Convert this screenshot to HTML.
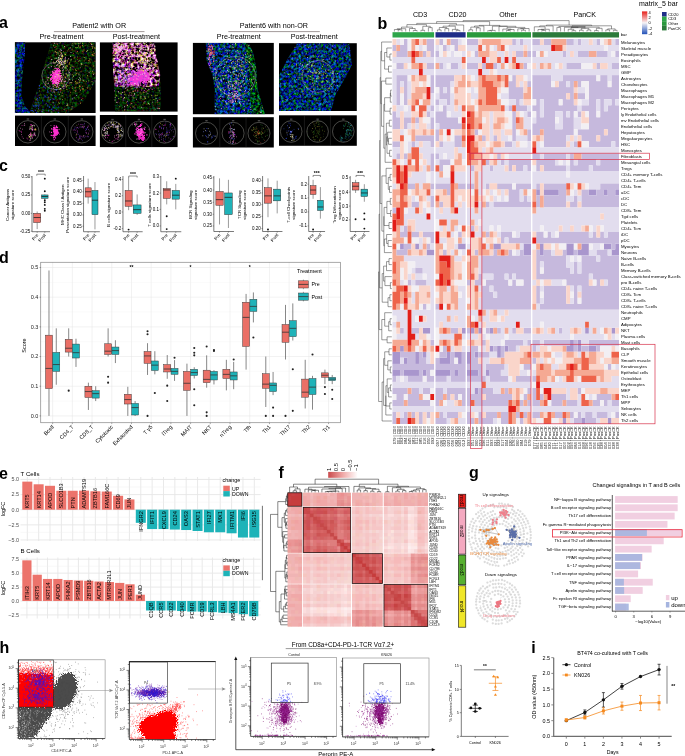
<!DOCTYPE html><html><head><meta charset="utf-8"><title>Figure</title><style>html,body{margin:0;padding:0;background:#fff}svg{display:block;will-change:transform;font-family:"Liberation Sans",sans-serif}</style></head><body><svg width="685" height="756" viewBox="0 0 685 756"><rect width="685" height="756" fill="#fff"/><defs><filter id="ragA" x="-.2" y="-.2" width="1.4" height="1.4"><feTurbulence type="fractalNoise" baseFrequency=".7" numOctaves="2" seed="4"/><feDisplacementMap in="SourceGraphic" scale="7" xChannelSelector="R" yChannelSelector="G"/></filter><filter id="tBlue" x="0" y="0" width="1" height="1" color-interpolation-filters="sRGB"><feTurbulence type="fractalNoise" baseFrequency=".4" numOctaves="2" seed="3"/><feColorMatrix type="matrix" values="0 0 0 0 0  0 1.2 0 0 -.46  0 0 1.9 0 -.58  0 0 0 0 1"/><feComposite in2="SourceGraphic" operator="in"/></filter><filter id="tGreen" x="0" y="0" width="1" height="1" color-interpolation-filters="sRGB"><feTurbulence type="fractalNoise" baseFrequency=".4" numOctaves="2" seed="7"/><feColorMatrix type="matrix" values="0 0 0 0 0  0 1.6 0 0 -.55  0 0 1.2 0 -.55  0 0 0 0 1"/><feComposite in2="SourceGraphic" operator="in"/></filter><filter id="tBG" x="0" y="0" width="1" height="1" color-interpolation-filters="sRGB"><feTurbulence type="fractalNoise" baseFrequency=".4" numOctaves="2" seed="11"/><feColorMatrix type="matrix" values="0 0 0 0 0  0 1.5 0 0 -.58  0 0 2.0 0 -.62  0 0 0 0 1"/><feComposite in2="SourceGraphic" operator="in"/></filter><filter id="tDkGreen" x="0" y="0" width="1" height="1" color-interpolation-filters="sRGB"><feTurbulence type="fractalNoise" baseFrequency=".4" numOctaves="2" seed="5"/><feColorMatrix type="matrix" values=".6 0 0 0 -.3  0 1.0 0 0 -.4  0 0 .9 0 -.5  0 0 0 0 1"/><feComposite in2="SourceGraphic" operator="in"/></filter><filter id="tBright" x="0" y="0" width="1" height="1" color-interpolation-filters="sRGB"><feTurbulence type="fractalNoise" baseFrequency=".32" numOctaves="2" seed="9"/><feColorMatrix type="matrix" values="2.8 0 0 0 -.9  2.8 1.2 0 0 -1.8  2.8 -1 .8 0 -.9  0 0 0 0 1"/><feComposite in2="SourceGraphic" operator="in"/></filter><filter id="rag" x="-.1" y="-.1" width="1.2" height="1.2"><feTurbulence type="fractalNoise" baseFrequency=".8" numOctaves="2" seed="2"/><feDisplacementMap in="SourceGraphic" scale="9" xChannelSelector="R" yChannelSelector="G"/></filter><filter id="rag2" x="-.1" y="-.1" width="1.2" height="1.2"><feTurbulence type="fractalNoise" baseFrequency="1.1" numOctaves="2" seed="8"/><feDisplacementMap in="SourceGraphic" scale="6" xChannelSelector="R" yChannelSelector="G"/></filter></defs><text x="-1" y="28.3" font-size="16" font-weight="bold">a</text><text x="99.2" y="28.4" font-size="7.2" text-anchor="middle">Patient2 with OR</text><text x="273.8" y="28.4" font-size="7.2" text-anchor="middle">Patient6 with non-OR</text><line x1="53.9" y1="31.6" x2="144.5" y2="31.6" stroke="#7a6e6e" stroke-width="0.7"/><line x1="228.3" y1="31.6" x2="319.8" y2="31.6" stroke="#7a6e6e" stroke-width="0.7"/><text x="61.5" y="39" font-size="7.2" text-anchor="middle">Pre-treatment</text><text x="136.4" y="39" font-size="7.2" text-anchor="middle">Post-treatment</text><text x="238.7" y="39" font-size="7.2" text-anchor="middle">Pre-treatment</text><text x="314.2" y="39" font-size="7.2" text-anchor="middle">Post-treatment</text><g transform="translate(14.9 42.3)"><clipPath id="ca1"><rect width="80.7" height="70.7"/></clipPath><rect x="0" y="0" width="80.7" height="70.7" fill="#000"/><g clip-path="url(#ca1)"><polygon points="0,0 10.3,0 9.6,15.5 7,38.3 6.5,53.5 10.3,64.2 16.4,70.7 0,70.7" filter="url(#tBlue)"/><polygon points="36.2,0 80.7,0 80.7,38.3 74.2,50.5 68.1,59.6 52.9,70.7 14.9,70.7 17.9,59.6 24,42.9 27.8,27.7 33.1,10.9" filter="url(#tDkGreen)"/><ellipse cx="54.5" cy="15" rx="4.5" ry="1.4" fill="#000" transform="rotate(10 54.5 15)"/><ellipse cx="47.5" cy="20" rx="1.2" ry="1.5" fill="#000"/><g filter="url(#ragA)" fill="#ff30d0"><ellipse cx="40.8" cy="35.3" rx="4.6" ry="7.4"/><ellipse cx="42.8" cy="29.5" rx="3" ry="3.4"/></g><path d="M57.1 26.9h.8M55.1 26.5h.8M41.2 12.2h.8M46.8 12.4h.8M58.4 27.6h.8M75.1 20h.8M73.6 4h.8M64.9 38.6h.8M43.5 23.8h.8M58.8 15.1h.8M40.8 1.5h.8M62.1 14.8h.8M57.2 1.2h.8M49.1 37.4h.8M78.3 24h.8M79.6 25.8h.8M65.1 25.1h.8M59.8 19.2h.8M57.3 44.2h.8M58.8 16.3h.8M65.1 25.4h.8M47.6 35.6h.8M73.4 20.2h.8M62.1 17.2h.8M72.1 33.8h.8M67.5 36.8h.8M65.2 33.7h.8M56.7 24.2h.8M38.9 68.5h.8M43.2 36.9h.8M46.7 54.5h.8M23.3 67.1h.8M41.7 57.4h.8M49.7 56.2h.8M51.2 45.3h.8M37.3 43.9h.8M61.5 61.5h.8M23.8 53.1h.8M55 67.5h.8M37.1 30.2h.8M31.9 36.7h.8M53.8 43.2h.8M30.5 39.7h.8M43.6 40.7h.8" stroke="#707020" stroke-width=".8"/><path d="M57.6 24.4h.8M56.8 6.8h.8M56.5 40.4h.8M66.9 9h.8M74.8 46.8h.8M45.7 47.8h.8M40.8 4.3h.8M53.6 21.8h.8M39.6 5.2h.8M54.4 20.2h.8M61.7 40.9h.8M60 45.4h.8M64.5 18.4h.8M53.4 6.9h.8M73.3 18.4h.8M61.3 31.3h.8M41.3 10.6h.8M61.6 39.9h.8M54 40.6h.8M46.6 40.8h.8M67.3 3.2h.8M62.6 40.9h.8M48.4 9.5h.8M60.7 41.5h.8M52.5 8.7h.8M79.2 5.5h.8M42.2 1.8h.8M62.1 9.2h.8M43.3 15.8h.8" stroke="#f08030" stroke-width=".8"/><path d="M45.8 38.6h.8M63.2 19h.8M77.5 2.5h.8M55.6 18.4h.8M63.8 39.9h.8M78 9.4h.8M75.5 29h.8M79.6 6.1h.8M69.8 3.3h.8M41.6 6.6h.8M65.1 47.7h.8M67.4 22h.8M76.9 42.3h.8M61.9 30.8h.8M39.6 30.2h.8M45.3 .5h.8M64.5 43.7h.8M71.9 45.3h.8M39.2 16.4h.8M47 41.6h.8M67.1 44h.8M59.9 32.5h.8M77.3 12.9h.8M60.2 5.2h.8M41.4 18.6h.8M73.4 38.5h.8M64 43.4h.8M70.5 15.7h.8M39.4 9.6h.8M57.1 35.5h.8M71.1 39.1h.8M40.6 16.4h.8M60.5 18.7h.8M32.5 41.3h.8M66.1 57.2h.8M57.3 46h.8M57 32.1h.8M37.4 36.3h.8M31.5 34.7h.8M58.8 55.6h.8M54.6 37.8h.8M52.7 33.4h.8M44.3 61.3h.8M33.7 35.9h.8M65.3 48h.8M32 44.8h.8M24.1 48.6h.8M36.5 48.8h.8M43.2 60h.8M35.2 38.1h.8M64.3 46.5h.8" stroke="#a0a030" stroke-width=".8"/><path d="M64.7 38.1h.8M72.4 33.3h.8M65.7 29.5h.8M64.4 39.9h.8M40.2 9.1h.8M47.6 14.1h.8M47.5 13.9h.8M61.8 5.2h.8M74 18.6h.8M74 0h.8M79.8 19.1h.8M38.3 19.7h.8M43.4 33.9h.8M40.2 38.3h.8M45.8 35.1h.8M50.7 42.5h.8M65.2 4.8h.8M76.7 39.3h.8M40.8 10.2h.8M56.8 2.9h.8M49.7 25.5h.8M67.7 46.2h.8M63.3 3.6h.8M69 15.3h.8M52.7 32.9h.8M38.9 24h.8M38.1 3.5h.8M59.7 14.9h.8M77.2 12.3h.8M66 21.2h.8M51.7 32h.8M47 44.2h.8M76.1 1.9h.8M78.5 13.3h.8M42.5 22.6h.8M60.6 1.7h.8M54.3 21.6h.8M51.6 47.2h.8M77.3 5.9h.8M74.4 16.7h.8M70.6 23.4h.8M60.1 27.5h.8M55.3 5.5h.8M63.6 1.3h.8M80.1 5.9h.8M64.2 44.4h.8M67.8 46.9h.8M49.8 34.7h.8M55.4 25.4h.8M60.9 28.2h.8M51.1 44.3h.8M71.1 9.3h.8M67.1 .9h.8M43.9 8.9h.8M77.5 4.6h.8M43.4 32.7h.8M55.9 17h.8M77.2 29h.8M59.6 .7h.8M45.4 9.9h.8M46.9 19.5h.8M54.6 27.6h.8M46 18h.8M51.5 63.2h.8M47.1 57.4h.8M40.5 34.8h.8M63.5 31.6h.8M30.7 41.4h.8M56.8 64.4h.8M41 45.1h.8M60.4 49h.8M52.5 43.4h.8M60.2 39.1h.8M46.8 53.3h.8M52.2 63h.8M56.5 66.9h.8M20.9 56.8h.8M44.3 52h.8M37.7 30.4h.8M40.8 42h.8M65.2 60.9h.8M48.8 67.3h.8M45.1 46.6h.8M45.5 37h.8M49.9 38.4h.8M41.4 40.9h.8M43.2 45.1h.8M45.3 28.4h.8M43.9 25.3h.8M47.9 31.8h.8M39.4 43h.8M44 47.1h.8M45.8 40.8h.8M44.7 34.7h.8M41.9 40.9h.8M46.2 33.6h.8M48.1 42.9h.8M44 29.8h.8M50.9 31.7h.8M50.1 35.3h.8M46.3 38.7h.8M43.2 32.2h.8M50.8 28h.8M39.4 42.5h.8M43.7 44.9h.8" stroke="#e6dc4a" stroke-width=".8"/><path d="M63.4 37.3h.8M66.1 22h.8M49.2 4.2h.8M55.7 10.2h.8M65 .7h.8M54.2 30.1h.8M39.1 .9h.8M67.9 38.1h.8M46.3 8.1h.8M73.8 30h.8M63.7 32.6h.8M46.1 39.5h.8M72 8.3h.8M45 7.6h.8M79.9 38.6h.8M76.4 2.4h.8M78.2 32h.8M64.1 35.5h.8M55.6 40.3h.8M26.8 69.4h.8M37.8 60.5h.8M57.3 37.8h.8M44.7 56.8h.8M65.2 36.6h.8M40.8 40.6h.8M35.9 52.5h.8M38 46h.8M61.4 53.1h.8M56.9 56.6h.8M36.5 69.7h.8M40.7 47.2h.8M52 61.8h.8M49.3 39.2h.8M58.2 33.8h.8M39.6 38.9h.8M42.6 10.6h.8M46 13.6h.8M42.5 42.1h.8M50.1 17.9h.8M46.9 37.7h.8M40.5 34.4h.8M54.7 31.7h.8M45.1 46.2h.8M48.1 27.7h.8M49.7 25.5h.8M33 35.2h.8M50.7 31.5h.8M47.8 38.9h.8M54.2 37.2h.8M50.7 35.9h.8M49.8 18.4h.8M51.8 33.7h.8" stroke="#f4f0e0" stroke-width=".8"/><path d="M61.9 9.5h.8M68.8 7.6h.8M79 11.4h.8M58.7 25h.8M79.8 31.5h.8M40.8 26.2h.8M39.5 44.9h.8M68.9 18.6h.8M58.3 11.1h.8M42.5 37.4h.8M42.3 25.7h.8M72.3 46h.8M49.3 16.6h.8M44.4 40.7h.8M76.6 4.2h.8M68.6 39.3h.8M77.7 12.6h.8M44 24.8h.8M78.3 23.6h.8M76.6 12.3h.8M45.9 10.9h.8M64.2 5h.8M75.4 1.1h.8M43.4 11.5h.8M67.9 9.6h.8M64.9 16.5h.8M63.4 .6h.8M49.6 5.6h.8M41.9 42.6h.8M47.1 50.8h.8M66.9 47.2h.8M39.5 42.8h.8M33.9 56.9h.8M20.9 61.7h.8M49.8 34.7h.8M33.3 55h.8M59.7 48.3h.8M38 56.8h.8M42.7 43.3h.8M35.7 48.1h.8M42.5 39.1h.8M20.8 57.8h.8M39 38h.8M48.7 42.5h.8M55.2 50h.8M67.5 56.3h.8M50.9 68.6h.8M65.3 44h.8M59.7 45.8h.8" stroke="#e03a2a" stroke-width=".8"/><path d="M6.8 17.5h.9M2.1 59.1h.9M1.2 28h.9M1.5 31.6h.9M11.5 67.7h.9M2.7 51.9h.9M4.5 19.4h.9M2.6 2.6h.9M.1 70.1h.9M6.1 5.2h.9M5.7 23.5h.9M3.7 13.4h.9M5.6 36.2h.9M2.1 54.4h.9M7.2 29.6h.9M4.8 66h.9M3.8 62.7h.9M3.8 64.6h.9M3.8 40.3h.9M6.1 20h.9M18 69.2h.9M33 54.6h.9M32.5 63.8h.9M36.5 67.3h.9M31.8 55.1h.9M21.9 50.7h.9M19.7 54.8h.9M39 53.5h.9M35.3 48.7h.9M15.5 68.1h.9M24.3 46.2h.9M41.5 47.7h.9M17.7 63h.9M43.4 49.9h.9M43.3 64.6h.9M34.5 64.9h.9M32.2 48.6h.9M32.5 50.3h.9M26.1 68.9h.9M37.9 68.4h.9M34.6 57.9h.9M28 67.5h.9M29.4 54.6h.9M23.9 43.2h.9M39.1 63.4h.9M39.2 47h.9M44.1 46.2h.9" stroke="#1828c0" stroke-width=".9"/><path d="M9.2 11.2h.9M3.8 38h.9M8.7 12.7h.9M3.9 50.9h.9M.6 5.3h.9M4.2 8h.9M8.4 6.2h.9M9 6.4h.9M2.7 5.9h.9M9.2 8.7h.9M4.2 63.7h.9M2.2 42.4h.9M2.1 29.3h.9M6 23.9h.9M30.3 54.5h.9M41 67.4h.9M29.6 53.5h.9M28.8 45.1h.9M30.9 61h.9M40.5 54.2h.9M20.6 60.3h.9M23.8 62.6h.9M38.7 57.2h.9M41.4 47.2h.9M22.9 60.6h.9M16.8 68.3h.9M27.3 58.5h.9M23.1 63.9h.9M19.9 63.3h.9M20.1 68h.9M19.8 64.6h.9M38.1 64.9h.9M32.6 49.6h.9M36.2 66.8h.9M39.5 64.8h.9M21 70.1h.9" stroke="#2038ff" stroke-width=".9"/><path d="M1.6 52.7h.9M.9 53.2h.9M4.6 28.8h.9M4.4 33.2h.9M2 44.6h.9M1.8 6.7h.9M2.8 10.5h.9M7.6 10.1h.9M2.7 66.3h.9M10.9 66.4h.9M6.8 28.6h.9M1.8 53.7h.9M1.8 27.4h.9M.4 55.7h.9M7.1 29.2h.9M6.1 30.8h.9" stroke="#2a8a25" stroke-width=".9"/><path d="M24.2 43.6h.9M21.2 63.7h.9M30.1 45.8h.9M40.9 47.9h.9M41.5 42.5h.9M43 70.3h.9M35.9 45.9h.9M22.6 62.9h.9M28.4 44.2h.9M33.2 68.6h.9M34.3 64.7h.9M23.3 66h.9M35.1 57.1h.9M22.3 57.8h.9M32.5 62.7h.9M16.7 68.3h.9M33.7 58.8h.9M37.5 56.5h.9M22 56.4h.9M24 55.5h.9M18.4 63.9h.9" stroke="#3050ff" stroke-width=".9"/><path d="M36.4 17.1h.9M45.3 19.1h.9M50 19.4h.9M47.5 21.8h.9M49.2 19.3h.9M43.5 15.6h.9M47.1 12.9h.9M43.8 23.8h.9M41.2 19.2h.9M48 20.4h.9M40.7 15.9h.9M43.5 17.3h.9M48.3 24.2h.9M45.2 16.3h.9M43.9 18.9h.9M46.1 21.9h.9M43.5 19.1h.9M47.4 18.9h.9M50.1 15.7h.9M44.2 20.6h.9M45.6 17.7h.9M44.4 16.8h.9M45.5 16.2h.9M55.3 14.1h.9M46.8 22.6h.9M43.4 15.3h.9M46.4 20.1h.9" stroke="#f4f0e0" stroke-width=".9"/><path d="M47 25.8h.9M44.2 13.5h.9M46.1 20.2h.9M45.3 19.2h.9M44.5 20.9h.9M46.2 14h.9M43.1 19.3h.9M42.1 22.6h.9M44.3 19.8h.9M42 18.2h.9M46.2 21.8h.9M45.7 12.5h.9M48.5 19h.9M42.8 17.7h.9M41.2 23.1h.9M49.2 20.5h.9M45.9 17.4h.9M53.3 16.5h.9M46.2 10.9h.9M51.9 19.6h.9M49.9 17.8h.9M40.4 25.9h.9M36 24.3h.9M37.1 29.5h.9M38.8 49.9h.9M45.9 35.5h.9M40.6 31.6h.9M41.2 32.5h.9M44.4 43h.9M42 35.7h.9M43.5 41.4h.9M42.1 32.3h.9M42.1 27h.9M37.6 42.1h.9M35.2 37.5h.9M40.7 38.3h.9M41.3 31.2h.9M42.3 40.7h.9M43.6 33.6h.9M42.7 38h.9M47.2 37.1h.9M46.2 33.3h.9M38 44h.9M39.4 34h.9M38.7 21.1h.9M41.1 37.6h.9M33.1 40.9h.9M38.6 48.9h.9M30.5 39.6h.9M39 35.8h.9" stroke="#f59ad8" stroke-width=".9"/><path d="M50.3 20.9h.9M43 18.9h.9M46.8 14.5h.9M51.8 18.3h.9M49.6 18.9h.9M40 20.6h.9M45 23h.9M49.5 19.1h.9M45.1 22h.9M50.9 23.7h.9M47.1 15.8h.9M49.5 21.3h.9M44.2 20.6h.9M45.8 16.1h.9M46.3 17.8h.9M52.1 23.8h.9M49.5 11.8h.9M47.2 13.6h.9M50 12.2h.9M45.4 15.9h.9M44.4 23.6h.9" stroke="#e6dc4a" stroke-width=".9"/><path d="M49.6 42.6h.8M47.7 24.9h.8M40.8 32.1h.8M50 14.9h.8M44.2 32.6h.8M47.5 29.8h.8M41.7 40.9h.8M49.1 21.7h.8M48.3 43.9h.8M46.2 39.1h.8M45 49.7h.8M47.5 35.8h.8M43.7 29h.8M46.2 38.4h.8M48 33h.8M46.4 31.3h.8M40.4 40.3h.8M43.5 21.5h.8M40.8 28.7h.8M42.4 43.7h.8" stroke="#f59ad8" stroke-width=".8"/><path d="M37.6 31.9h.9M43.2 39.4h.9M41.5 38h.9M38.6 38.2h.9M49.7 44.6h.9M43.3 35.6h.9M30.1 42.6h.9M32.7 35.1h.9M44.3 33h.9M41.5 26.6h.9M35 36.7h.9M41.2 31.2h.9M41.8 27.1h.9M45.3 38.6h.9M41.3 26.2h.9M38.9 31h.9M37.8 30.8h.9M40.1 38.7h.9M36 39h.9M42 41.9h.9" stroke="#ff2fd0" stroke-width=".9"/><path d="M40.4 30.2h.9M41.8 33.7h.9M33.5 25.2h.9M36.9 29h.9M42.6 33.4h.9M38.7 27.9h.9M32.2 37.7h.9M41.3 44.4h.9M50.3 39.2h.9M37.1 29.5h.9M40.3 29h.9M42.8 37.9h.9M48.9 40.6h.9M41.8 40.3h.9M42 33.4h.9M42.3 44.5h.9M34.6 43.9h.9M41.5 38.3h.9M48.5 46.1h.9M47.4 34.7h.9M44.4 32.7h.9M42.3 34.2h.9" stroke="#ff60e0" stroke-width=".9"/><circle cx="40.7" cy="33.7" r="13.7" fill="none" stroke="#d4d4c8" stroke-width=".38"/></g></g><g transform="translate(99.9 42.4)"><clipPath id="ca2"><rect width="77.7" height="69.2"/></clipPath><rect x="0" y="0" width="77.7" height="69.2" fill="#000"/><g clip-path="url(#ca2)"><polygon points="12.9,0 54.3,0 56.5,13.3 60.2,32.6 61,54.8 60.2,69.1 15.1,69.1 14.1,40 12.6,17.8" filter="url(#tDkGreen)"/><polygon points="12.9,0 54.3,0 56.5,13.3 60.2,32.6 58.8,44.4 15.1,44.4 14.1,40 12.6,17.8" filter="url(#tBright)"/><g filter="url(#ragA)" fill="#f038d8"><ellipse cx="42" cy="34" rx="9" ry="6.5"/><ellipse cx="34" cy="38" rx="6" ry="4"/></g><path d="M24.7 7.1h1M16.5 3.7h1M21 6.2h1M16.5 10.3h1M15.4 7.5h1M17.7 9h1M27.4 4.8h1M17.1 9.9h1M25 9.8h1M19.3 19.4h1M27.4 8.3h1M14.7 18.2h1M26.8 8h1M26.9 12.7h1M35.6 5.4h1M27.1 6.5h1M18.3 11.8h1M23.2 2.5h1M18.7 4.2h1M16.4 18.5h1M17.2 4.3h1M27.9 4.8h1M21.7 10.2h1M20.9 2.3h1M21.7 2.3h1M21.3 6.2h1M44.7 22.9h1M45.5 19.7h1M41.3 10.3h1M54.2 25.2h1M38.1 14.9h1M37.6 19.6h1M35.5 25.4h1M54.6 23.3h1M55.9 17.7h1M42 18.9h1M46.1 26.3h1M48.2 13.8h1M30.4 25.4h1M50.3 22.9h1M46 14.2h1M45.6 10.4h1M31 21.5h1M51.1 19.4h1M43.6 19.7h1M55.4 21.7h1M37.6 19.5h1M48.9 16.1h1M37.8 33.6h1M48.1 26h1M45.6 33.6h1M42.9 19.5h1M41.6 21.4h1M52.2 30.3h1M50 18.5h1M46.6 15.5h1M41.1 24.2h1M50.7 14.8h1M47.2 26.6h1M38.1 23.7h1M49.7 16.8h1M46.7 26.9h1M49 19.3h1M47.1 10.9h1M36.2 27.1h1M42.5 25.7h1M52.5 29.4h1M43.7 15.9h1M38.1 19.7h1M44.6 20.8h1M39.2 9h1M52.3 26.7h1M46.9 20.2h1M45.1 18.1h1M47.8 27.7h1M46.3 15.1h1M49.6 21.8h1M45.4 14.7h1M52.8 13.1h1M44.7 19.8h1M44.4 30.6h1M42.4 31.7h1M53.3 19.5h1M47.5 26h1M41.3 16.4h1M45.9 7.2h1M51.5 30.2h1M46.6 25.8h1M48 23h1M37.3 19.4h1M39.7 20.6h1M51.8 18.4h1M48 4.7h1M49.7 18.3h1M44.9 16.5h1M43.7 1.1h1M43.1 .1h1M20.8 7.1h1M48.2 6.9h1M47.1 5.2h1M45.9 2.2h1M25.9 9.2h1M54.5 4.4h1M54.7 7h1M31.3 .5h1M13.5 8.9h1M44.6 5.2h1M37.6 13.9h1M37 3h1M39.8 .8h1M36.8 .9h1M21.8 5.7h1M36.7 8.6h1M16.8 5.1h1M39.9 7.5h1M22.2 9.2h1M53 1.7h1M18.9 8.3h1M40.6 9.4h1M53.1 10.1h1M35.3 5.7h1M32.1 12.5h1M33.7 11.5h1M45.2 12.1h1M39.1 8.1h1M14.3 2.3h1M13.6 5.7h1M50.1 7.3h1M41.3 3.6h1M19.1 1.4h1M51.5 1.7h1M34.3 13h1M40.2 6.7h1M30.6 1.4h1M47.3 3.7h1M19.4 7.5h1M44.9 8.8h1M34.1 10h1M36.9 12.2h1M54.3 3.6h1M44.5 12h1M42.7 12.1h1M39.3 5.4h1M50.3 12.1h1M14.5 3.8h1M25.6 1.2h1M43.9 13.4h1M13.5 13h1M45.3 7.1h1M18.4 8.8h1M46.1 .1h1M16.3 13.4h1M22.9 5.8h1M32.5 .6h1M17.2 12.6h1M31.8 13.5h1M48.8 11.5h1M44.9 12.5h1M27.3 13h1M17.2 13.9h1M24.8 2.1h1M35.5 .9h1" stroke="#f4f0e0" stroke-width="1"/><path d="M22.1 5.6h1M17.1 5.2h1M26.4 10h1M20.7 23h1M28.5 16.7h1M17.5 10.2h1M15.4 7.3h1M32.3 12.1h1M16.2 6.4h1M28.7 9.7h1M20 5.7h1M19.3 8.3h1M21.3 11h1M13 8h1M24 5.2h1M26.1 .9h1M17.1 9h1M28.4 18.5h1M19.8 18.1h1M16.4 10.4h1M14.4 8.2h1M14.9 13.7h1M23.3 9.3h1M21.3 13.1h1M14 6.8h1M30.3 1.7h1M21.3 7.6h1M34.3 12.8h1M31.4 16.5h1M24.6 6.3h1M22.1 11.1h1M39.9 13.9h1M26.7 12.5h1M19.2 7.9h1M13.1 9.5h1M20.6 20.1h1M22.6 15.3h1M14.2 4.4h1M17.8 17.7h1M24 1.3h1M31.5 25.1h1M13.8 2.6h1M16.8 13h1M18.4 6.8h1M18.8 1.1h1M26.7 12.3h1M18 4.2h1M25.4 12.9h1M32.9 13.8h1M20.2 8.2h1M22.9 5.4h1M23 16.4h1M25.1 7.2h1M15.2 8.7h1M23.6 10.4h1M34.5 5.5h1M17.5 6.5h1M25 11.9h1M35 4.6h1M52.4 16.1h1M46.2 27.6h1M35.7 30.8h1M55.5 15.8h1M53.6 19.3h1M43.4 5.2h1M55.3 18.2h1M47.1 16.4h1M56.1 30.7h1M51.1 24.7h1M56.7 19.1h1M44.8 25h1M39.1 11.8h1M39.3 20.5h1M47.7 12.1h1M45.3 28h1M40.8 21.6h1M51.1 21.6h1M41.5 25.6h1M44.1 21.1h1M49.9 18.6h1M39.7 7.3h1M52 14.4h1M43.6 12.9h1M18.8 7.4h1M24.7 12.5h1M22.2 14h1M14.7 4h1M52.4 3.2h1M21.6 13.2h1M26.7 .8h1M50.4 9h1M43.1 12.3h1M51.6 2.5h1M46.1 9.4h1M53.3 13.9h1M45.8 4.1h1M40.8 7.6h1M24.7 4.6h1M34.8 6.4h1M27.7 .4h1M34 7.4h1M17.9 9.2h1M32.8 .2h1M13.8 13.2h1M32.8 5.2h1M50 2.2h1M16 8.3h1M52.6 7.2h1M48.7 12.1h1M17.1 8.7h1M29.1 36.2h1M45.2 33.9h1M31.1 33.3h1M44.3 31.5h1M48.8 36.2h1M33.6 34.2h1M40.4 32.1h1M44.2 38.9h1M23.5 37.6h1M37.5 41.2h1M36.1 33h1M48.2 38.9h1M32.9 37.2h1M23.5 44.5h1M49.9 28.8h1M37.6 40h1M39.4 33.3h1M47.9 35.5h1M37.5 37h1M29.3 34.8h1M44.5 36.7h1M53.9 32.6h1M36.3 27.9h1" stroke="#f59ad8" stroke-width="1"/><path d="M26.6 6.7h1M22.7 10.6h1M31.1 4.1h1M31.4 .9h1M19.5 13.4h1M29.3 9.2h1M15.3 6.3h1M14.2 8.1h1M24.3 7.2h1M28.4 12.8h1M21.6 .1h1M22.9 13.3h1M31.8 16.8h1M28.1 10.5h1M24 4.4h1M26.4 17.6h1M16.1 6.2h1M21.1 12.6h1M27.7 17.6h1M20.4 9.7h1M24.9 7.3h1M26.7 4.7h1M18.9 15h1M16.8 9.1h1M22.4 11.1h1M26.6 4.1h1M21.6 5.6h1M34.9 9.7h1M23.3 .8h1M18.3 13.2h1M26.4 13.8h1M19.3 9.7h1M29.3 19.9h1M17 0h1M12.7 10.8h1M20.8 15.8h1M17.7 11.2h1M13.5 10.1h1M19 4.3h1M49.9 27.5h1M37.4 37.4h1M30.7 52.9h1M19.4 28.3h1M36.7 33.4h1M46.8 37.9h1M51 28.4h1M36.9 38.5h1M28.7 42h1M48.5 47.1h1M36.7 39.5h1M45.4 37.2h1M35.8 35.5h1M47.2 40.5h1M24.6 32.3h1M26.4 44.8h1M39.5 34h1M36.8 37.4h1M24.2 40.1h1M28.8 24h1M45.7 49.4h1M29.3 38.6h1M34.6 37.9h1M19.8 32.1h1M49.3 27.2h1M32.3 29.2h1M34.8 26h1M34.9 47.7h1M43.5 44.5h1M30.3 42.3h1" stroke="#ff2fd0" stroke-width="1"/><path d="M24.8 14.9h1M19.2 9.2h1M17.6 13h1M28.6 3.5h1M19.6 16.9h1M28.9 7.7h1M22.3 6.6h1M23.5 14.7h1M30.2 10.8h1M25.3 7.4h1M20.8 5.6h1M16.7 10.9h1M21.6 .4h1M30.2 10.7h1M24.2 6.8h1M18.2 2.3h1M18.1 5.1h1M17.7 5.9h1M25 1.4h1M17.7 4.1h1M21.8 5.3h1M30.3 8.7h1M29 11.7h1M17 18.4h1M23.7 13.9h1M14.8 2.1h1" stroke="#e8c8f0" stroke-width="1"/><path d="M45.5 13.8h1M46 9.8h1M44.7 21.6h1M34.8 32.1h1M39.6 19.2h1M49.7 15.7h1M42.9 18.1h1M43.3 24.2h1M42.9 5h1M47.2 3.4h1M47.7 15.6h1M23.3 21h1M49.3 23.3h1M40.5 15.9h1M51.4 18.4h1M57.5 29.8h1M50 20.3h1M43.6 20.4h1M42 13.1h1M48.7 26.3h1M48.5 22h1M40.2 18.1h1M43.1 28.1h1M43 28.6h1M36 10.3h1M51.1 20h1M45.1 12h1M46.5 20.7h1M48.4 15.4h1M45.2 17.4h1M46 11.5h1M44.7 16.3h1M43.5 26.2h1M34.9 17.9h1M47.6 21.6h1M51.2 10h1M49.6 30.5h1M53.7 22.1h1M44.7 16.6h1M37.2 18.4h1M52.5 19.2h1M38.6 18.7h1M50.8 25.7h1M50.2 19.9h1M47.7 17.3h1M37.3 16.6h1M35 10.6h1M42.1 20h1M40.2 26.5h1M39.4 13.3h1M40.8 20.3h1M50.1 21.3h1M47.3 9.3h1M50.1 20.3h1M41.4 27.7h1M49.8 16.4h1M41.6 27.3h1M37.5 1.9h1M46.5 3.3h1M31.2 7.9h1M50.4 .4h1M40 12.7h1M29.6 1.7h1M25.8 8.2h1M17.8 .4h1M38.5 1.6h1M38.8 5.9h1M16.2 2.2h1M44.6 12.1h1M14.3 13h1M31.5 12.2h1M40.6 .4h1M18 .2h1M46.4 5.8h1M51.4 8.1h1M14.9 6.7h1M13.5 3.9h1M41.1 13h1M17.7 3.5h1M21.8 1.9h1M27.9 5.4h1M30.9 10.1h1M44.2 7.8h1" stroke="#e6dc4a" stroke-width="1"/><path d="M18.6 32h.9M23.7 23.2h.9M22.6 34.5h.9M26 36.9h.9M18.8 34.7h.9M17.6 35.8h.9M29.6 25h.9M31.7 34.3h.9M29.4 34.5h.9M26.8 38.2h.9M23 40.4h.9M30.8 39.1h.9M16.9 27.7h.9M16.8 33.8h.9M18.3 36.4h.9M18.9 44h.9M21.6 29.6h.9M23.9 33.4h.9M16.3 17.7h.9M18.8 31.8h.9M18.6 28.7h.9M27.7 43.7h.9M26 37.1h.9" stroke="#2038ff" stroke-width=".9"/><path d="M26.6 27.2h.9M30.4 31.4h.9M28.9 27.6h.9M19.5 23.8h.9M27 27.3h.9M14.8 40.7h.9M27.3 29.7h.9M21.3 23.6h.9M21.5 31.5h.9M19.9 30.6h.9M21.5 40.4h.9M25.2 33.7h.9M20.5 29.7h.9M25.7 37.8h.9M25.2 38.5h.9M25.4 37.9h.9M29.1 18.2h.9M19.9 38.5h.9M26.5 27.4h.9M18.2 33.7h.9M27.4 41.7h.9M36.6 36.5h.9M23.7 43.8h.9" stroke="#f4f0e0" stroke-width=".9"/><path d="M21.4 34.4h.9M18.7 33.8h.9M23 26.5h.9M28.3 33.6h.9M15.4 26h.9M26.1 23.9h.9M23.8 41.2h.9M26.5 36.2h.9M26.3 39.8h.9M27.4 22.3h.9M23.2 31.1h.9M18.9 35.1h.9M23.7 28.3h.9M19.5 24.5h.9M13.1 29.6h.9M28.5 33.3h.9M22.9 30.4h.9M22.4 30.7h.9M21 34h.9M23.9 16.9h.9M17.3 41.4h.9M20.3 27.7h.9M20.1 30.1h.9" stroke="#f59ad8" stroke-width=".9"/><path d="M14.8 42.3h.9M18.9 29.2h.9M13.1 23h.9M18 34.1h.9M22.4 26.9h.9M27.2 34.6h.9M22.8 29.9h.9M26.1 30.2h.9M18.5 21.4h.9M16 40.7h.9M25.3 35.2h.9M22.7 28.1h.9M31.2 30.2h.9M24 35.4h.9M22.6 44.9h.9M20.9 52.3h.9M15.5 28.8h.9M18.2 24.1h.9M24.3 38.8h.9M25.4 35.5h.9M17.7 35.3h.9M27.6 39.8h.9M24.7 42.1h.9M21.5 30.6h.9" stroke="#8080ff" stroke-width=".9"/><path d="M30.5 19.6h.9M16.7 38.9h.9M24.9 42.7h.9M16.4 21.8h.9M19.2 23.3h.9M24.1 32.5h.9M19 38.6h.9M21.6 34.5h.9M19.9 26.1h.9M15.9 35.5h.9M22.3 23.8h.9M28.1 18.4h.9M25.3 27.1h.9M25.1 33.8h.9M25.2 33.5h.9M26.1 35.8h.9M18.8 25.1h.9M19.7 38.9h.9M28.6 39.6h.9M21.2 38.3h.9M30.2 25.7h.9M15.9 34.9h.9M21.8 21.6h.9M20.6 39.7h.9M24.7 37.6h.9M18.7 21.5h.9M22.6 32.6h.9" stroke="#c0c0ff" stroke-width=".9"/><path d="M35.4 40.2h1M32.3 37h1M29.7 32.8h1M31.1 32.9h1M59.3 32.7h1M32 28h1M20.9 34.9h1M28.6 23.4h1M34.5 34.7h1M39.5 36.5h1M24.2 34.6h1M55.4 38.7h1M31.8 31.3h1M22 50.1h1M18.9 35.4h1M22.4 39.7h1M49.5 29.2h1M24.8 28.3h1M18.7 36.8h1M29.6 22.1h1M36.1 45.1h1M28.5 30.2h1M37.6 29.7h1M35.3 38.2h1M32.5 36h1M27.4 30.2h1M18 31h1M31.1 29.2h1M34.8 34.5h1M33.5 39.8h1M41.3 47.6h1M32.7 30.4h1M28.5 42.9h1M39 29.1h1M42 39.9h1M25.5 41.8h1M25.2 45.9h1M25.4 33.4h1M34.7 34.7h1M24 33.5h1M45.9 35.4h1M28.8 33.7h1M33.1 34.7h1M44.2 37.3h1M27.6 42.6h1M37.4 48.7h1M45.1 29.1h1M32.7 32.4h1M51.8 46.9h1" stroke="#e040e0" stroke-width="1"/><path d="M29.5 29h1M43.1 32h1M37.4 35.3h1M36.1 31.1h1M43.9 48.2h1M30.7 43.3h1M34.8 44.9h1M38.5 25.8h1M38.4 31.6h1M38.3 39.8h1M45.9 30.4h1M38.3 32.6h1M38.7 39.7h1M24.7 37.1h1M27.6 36.5h1M39.4 32.8h1M37.2 45.2h1M48.1 27.7h1M28.8 33.1h1M29.5 28.6h1M44.9 34.8h1M29.6 39.5h1M31.2 30.2h1M39.3 44.8h1M32.2 29.4h1M43 34.6h1M51 31.1h1M46.3 43.5h1M32.4 39.2h1M26.3 35.9h1M23.6 30.8h1M38.8 39.6h1M23.4 40.5h1M52.4 36.6h1M34.1 30.6h1M42.5 37.3h1M34.4 42.5h1M15.4 43.2h1" stroke="#9a4ad0" stroke-width="1"/><path d="M24.3 49.6h.8M51.5 53.2h.8M55.7 53.1h.8M40.6 54.2h.8M45.3 56.1h.8M47.6 48.3h.8M43.7 50h.8M18.4 56.3h.8M18.3 49.6h.8M42.5 45.6h.8M24.1 55.6h.8M20.6 51.4h.8M53.6 57.1h.8M37.8 52.6h.8M19.5 64.3h.8M32.8 64.6h.8M30.9 46.5h.8M43.6 60.4h.8M24.5 51.9h.8M16.4 53.2h.8M49 61.9h.8M36.5 46.2h.8M31.9 45.9h.8" stroke="#e6dc4a" stroke-width=".8"/><path d="M16.6 60.1h.8M45.1 46.1h.8M32.7 54.5h.8M14.6 57.7h.8M54.8 66.9h.8M16.6 59.9h.8M24.5 67h.8M50.5 45.6h.8M28.6 53.3h.8M59 48.5h.8M44.6 59.2h.8M14.9 55h.8M29.7 50h.8M27 59h.8M14.2 48.5h.8M47.6 51.2h.8M33.6 53h.8M23.3 55.9h.8M34.3 51.9h.8M18 49.2h.8M43.8 53.9h.8M36.1 56.9h.8M22.8 57.6h.8" stroke="#f59ad8" stroke-width=".8"/><path d="M27.4 47.5h.8M57.7 66.2h.8M59.2 66.2h.8M48.3 61h.8M41 64.9h.8M24.3 64.3h.8M44.7 54.8h.8M32.8 49.1h.8M34.6 65.6h.8M31.5 61.2h.8M24.1 55.1h.8M57.3 58.4h.8M52.5 59.8h.8M34.2 51.3h.8M55.8 56.1h.8M27.3 63.1h.8" stroke="#f4f0e0" stroke-width=".8"/><path d="M40.8 51.4h.8M34.8 48.6h.8M21.3 54.6h.8M39.9 49.8h.8M22.6 50h.8M40.4 54.8h.8M48.4 54.6h.8M41.5 45.9h.8M57 53h.8M33.3 48.7h.8M33.7 55.8h.8M31.5 50.8h.8M20.6 54.6h.8" stroke="#a0a030" stroke-width=".8"/><path d="M40.7 56.1h.8M58.1 66h.8M43.5 49.7h.8M25.9 47.8h.8M58.1 45.7h.8M59.5 57.2h.8M37.3 47.9h.8M30.3 65.3h.8M29.2 51.5h.8M54.8 44.5h.8M57 59.9h.8M45.9 61.8h.8M24.2 68.4h.8M30.6 60.7h.8M44.3 56.6h.8M58.7 62.3h.8M33.9 63.6h.8M26.8 62h.8M32.8 49h.8M26.3 59.9h.8M42.6 65.7h.8" stroke="#e03a2a" stroke-width=".8"/><path d="M36.6 49.9h.8M54.1 66.3h.8M46.5 51.9h.8M42.1 56.7h.8M17.8 66.6h.8M18.7 65.5h.8M54.6 67.9h.8M41.2 52.3h.8M22.4 65.1h.8M39.2 63.9h.8M36.3 45.4h.8M28.8 63.9h.8M43 57.3h.8M28.8 57.2h.8" stroke="#2a8a25" stroke-width=".8"/><path d="M32.6 16h1.6M21.1 14.1h1.6M34 22.5h1.6M35.7 11h1.6M53.1 20h1.6M36.1 26.2h1.6M46.8 12.3h1.6M50.9 25.3h1.6M35.6 5.9h1.6M29.8 15.8h1.6M38.2 15.9h1.6M46 8.9h1.6M52 18.3h1.6M23 8.7h1.6M47.2 22.3h1.6M45 8.9h1.6M38.2 20.7h1.6M43.2 8.5h1.6M30 26.1h1.6M48.1 16.2h1.6M51.2 13.4h1.6M50.2 21.6h1.6M47.6 9.9h1.6M52.4 7.9h1.6M24.6 11.6h1.6M45.8 6.2h1.6M52.6 17.8h1.6M28 18h1.6M19.6 26.6h1.6M30.3 17.7h1.6M35.8 8.1h1.6M36.8 18.3h1.6M51.2 17.1h1.6M49.1 20.1h1.6M50.1 19.1h1.6" stroke="#000" stroke-width="1.6"/></g></g><g transform="translate(192.9 42.9)"><clipPath id="ca3"><rect width="80.9" height="71.3"/></clipPath><rect x="0" y="0" width="80.9" height="71.3" fill="#000"/><g clip-path="url(#ca3)"><polygon points="12.9,0 55.8,0 60.2,9.9 63.2,24.7 64.7,46.9 72.1,71.3 21.8,71.3 21.8,46.9 19.5,32.1 13.6,17.3" filter="url(#tBG)"/><polygon points="51.4,0 55.8,0 60.2,9.9 63.2,24.7 64.7,46.9 72.1,71.3 58.8,71.3 57.3,46.9 55.8,24.7" filter="url(#tGreen)"/><path d="M31.4 23.5h.8M35.1 33.4h.8M44.2 21.6h.8M30.2 24.8h.8M46.2 22.8h.8M48.6 37.4h.8M42.8 15.3h.8M51.3 32.7h.8M34.1 27.3h.8M43.3 27.9h.8M46.7 40.3h.8M47.5 27.2h.8M33.2 39.8h.8M31.3 47.3h.8M43.9 20.3h.8M58.7 23.9h.8M47.6 51.9h.8M45.8 19h.8M40.4 28.9h.8M42.1 38.1h.8M43.5 27.4h.8M58.1 45.9h.8M18 11.4h.8M38.4 20.7h.8M45.6 10.1h.8M54.7 27.3h.8M44.8 16.6h.8M37.7 43.3h.8M42.5 51.3h.8M48.9 30.3h.8M34.5 54.3h.8M49.5 14.9h.8M44.7 40.2h.8M45.7 37.5h.8M50.6 23h.8M43.8 18.4h.8M32.1 32.7h.8M45.9 22.8h.8M48.4 26.7h.8M52.1 28.5h.8M37.7 41.3h.8M54.1 36.3h.8M45.9 16.9h.8M34.3 10.3h.8M41.7 37h.8M32.8 28.9h.8M49.1 39.1h.8M27.5 37.2h.8M39.5 43.1h.8M37.5 36.4h.8M37.5 17.4h.8M47.1 46.8h.8M48.4 29.4h.8M44.6 41.9h.8M43.9 35.4h.8M36.6 16.9h.8M35 16.5h.8M31.1 49.2h.8M50.3 34h.8M35 32.1h.8M42.8 39.4h.8M45.8 30.6h.8M29.4 32.8h.8M47 32.1h.8M44.7 36.4h.8M29.8 45h.8M36.8 38.7h.8M51.6 44.9h.8M32.5 46.9h.8M39.4 43.4h.8M43.6 53h.8M27.7 22.6h.8M33.2 19.1h.8M33 64.3h.8M42.2 .6h.8M36.5 4.1h.8M50.5 37.6h.8M42.4 24.7h.8M48.4 21.2h.8M46.2 59.5h.8M41.6 25.7h.8M47.7 47.7h.8M22.8 17.8h.8M26.5 21.4h.8M46.7 47.2h.8M58.5 36.6h.8M40.8 31h.8M28.9 53.9h.8M42.7 22.9h.8M61.7 66.5h.8M34 13.4h.8M32.5 7.4h.8M33.9 7.8h.8M58.1 42.2h.8M22.8 30.4h.8M48.8 54h.8M57.6 66.6h.8M46.8 59.2h.8M34 27.7h.8M26.8 53.3h.8M52.3 47.6h.8M48.8 56.5h.8M31 21.4h.8M43 50.7h.8M26.7 46.4h.8M31 4.1h.8M55.6 2.5h.8M55.5 57.5h.8M56.6 26.9h.8M52.3 11.4h.8M47.5 56.4h.8M56.9 64.7h.8M39.6 41.9h.8M35.4 39.7h.8M50.1 35.5h.8M28 65.6h.8M23 29.5h.8M30.2 36.6h.8M39.6 50.2h.8M53.8 14.7h.8M59.1 40h.8M40.3 62.9h.8M24.7 40.2h.8M30.3 35.8h.8M67.8 69.5h.8M48 42.8h.8M56.3 36.8h.8M23.8 36.7h.8M67.1 69.4h.8M50.3 12.3h.8M22.7 66.5h.8M57.4 12.8h.8M17.8 10.6h.8M42.6 8.7h.8M21.9 63.5h.8M20.5 34.8h.8M38 66.5h.8M18.6 3.6h.8" stroke="#f4f0e0" stroke-width=".8"/><path d="M25.3 35.8h.8M45.9 27.1h.8M48.2 27.7h.8M47.1 22.8h.8M35.4 38.9h.8M38.1 19.6h.8M34.2 34.2h.8M42 18.8h.8M38.9 4h.8M44.9 33.3h.8M36.9 24h.8M56 19.3h.8M43.2 40.6h.8M45 32.9h.8M28.2 38.5h.8M44.3 7.7h.8M36.4 23.5h.8M32.9 32.4h.8M48.2 19.3h.8M41.3 40.6h.8M51.4 50.3h.8M34.7 34.8h.8M43.3 32.1h.8M30.8 32.5h.8M39 54h.8M48.8 15.2h.8M31.7 16.4h.8M45.6 39.6h.8M49.4 27.2h.8M39.8 47.2h.8M40.4 33.2h.8M56.3 19.6h.8M40.8 35.7h.8M41.5 46.9h.8M44.4 46.1h.8M35.4 28.7h.8M45.5 47.4h.8M48.6 23.4h.8M40.2 18.4h.8M40.7 24.7h.8M41.4 31.4h.8M39.2 29.2h.8M39.8 4.6h.8M54 8.2h.8M34.5 23.9h.8M52.9 33.5h.8M53.2 19.6h.8M55.6 13.4h.8M47.5 23.8h.8M30.1 29.8h.8M33.7 60.5h.8M41.1 44.7h.8M45.3 41.2h.8M45.8 15.7h.8M41.2 28.6h.8M36.3 40.9h.8M47.1 40.3h.8M39.8 31h.8M40 23.1h.8M56 19h.8M37.4 43.5h.8M37.9 38.9h.8M41.9 1.5h.8M55 40.8h.8M42 14.5h.8M49.1 18.9h.8M51 24h.8M43.2 27.5h.8M38.9 24.6h.8M49.1 31.9h.8M26.2 41.1h.8M52.7 32.2h.8M57.3 14.3h.8M36.8 23.8h.8M41.2 24.6h.8M47.9 24.2h.8M39.3 18.8h.8M69.1 65h.8M42.9 69h.8M54.8 3.1h.8M27.1 47.6h.8M63.2 39.8h.8M57.1 12.1h.8M51.6 66.1h.8M51.5 58.5h.8M64.6 57.2h.8M14.3 10.8h.8M65.8 68.2h.8M43.6 38.1h.8M58 7.7h.8M20.6 35.2h.8M58.3 38h.8M45.8 56.5h.8M24.5 44.1h.8M32.8 19.9h.8M26.4 5.9h.8M51.8 25.5h.8M26.9 18.9h.8M48.2 43.8h.8M54.2 10.9h.8M56 15.6h.8M61.8 24.2h.8M36.5 7.9h.8M14.4 15.1h.8M42.8 60.1h.8M40.3 43h.8" stroke="#e6dc4a" stroke-width=".8"/><path d="M39.4 43.4h.8M52.2 18.3h.8M26.4 39.9h.8M49.9 38.8h.8M51.6 33.6h.8M52.5 19.9h.8M30.6 35.4h.8M60.5 33.4h.8M40.9 25.8h.8M42.1 20.5h.8M43.8 23.9h.8M27.6 29.5h.8M27.7 32.3h.8M39.4 1.7h.8M42.7 52.7h.8M44.3 17.6h.8M49.1 29h.8M36.7 33.3h.8M49.5 21.8h.8M45.2 32.1h.8M51.2 67.6h.8M29.7 12.3h.8M44.2 49h.8M47.8 17.5h.8M30.4 46.7h.8M43.8 9.9h.8M60.5 36.3h.8M55.5 24.4h.8M42.6 32.1h.8M41.5 26.3h.8M44.9 43.1h.8M46.5 11h.8M28.1 37.2h.8M45.3 36.7h.8" stroke="#f59ad8" stroke-width=".8"/><path d="M57.3 29.3h.8M53.9 18.2h.8M39.7 64.6h.8M45.8 4h.8M22.6 27.9h.8M38.8 58.7h.8M41.3 70.8h.8M55.2 21.5h.8M18.8 22.6h.8M38.8 51.4h.8M54.8 58.6h.8M46.6 12.2h.8M43 21.6h.8M48.6 25.6h.8M29.1 30.6h.8M41.2 6.3h.8M59 67.8h.8M45.9 .4h.8M13.9 10.8h.8M60.5 46.8h.8M54.2 70.6h.8M67.7 67.4h.8M32.3 21.6h.8M44.9 36.7h.8M35.7 40.9h.8M42.2 41.7h.8M34.3 16.8h.8M29.6 63.7h.8M51.9 4.4h.8M41.6 44.6h.8M44.2 58.6h.8M30.8 70.4h.8M59.5 11.3h.8M41.1 63.9h.8M51.5 26h.8M34.6 4.1h.8M47.4 56.6h.8M34.8 37.1h.8M30 36.6h.8M52.5 46.6h.8M15.9 2.1h.8M50 67.9h.8" stroke="#2038ff" stroke-width=".8"/><path d="M15.6 3.7h1M15.6 14.3h1M17.7 12.1h1M16.5 19.9h1M20.1 18h1M20.7 9.5h1M18.5 6.3h1M15.8 4h1M15.1 1.2h1M20.3 16h1M19 4.3h1M15.2 7.9h1M19.8 11.3h1M16 12.3h1M21.2 25.3h1M19.2 6.2h1M16 12.9h1M15.1 21h1M18.8 28.6h1M16.3 12h1M20.1 18.3h1M17.2 3.9h1M18.7 10.7h1M16.5 11.8h1" stroke="#ff2fd0" stroke-width="1"/><path d="M20.9 11.2h1M18.5 10h1M17.7 2.4h1M16.9 21.7h1M17.3 4.9h1M16.6 19.1h1M18.3 8.5h1M15.1 5.8h1M16.8 24.5h1M18.8 24.9h1M17.5 10.1h1M21.1 13.7h1M18.1 2.7h1M15.7 9h1M19.8 8.5h1M20.2 11.5h1" stroke="#e03a2a" stroke-width="1"/><path d="M16 22.7h1M17 12.2h1M21.8 26.6h1M13.6 8.2h1M18.9 14.5h1M16.3 14.7h1M15.3 16.6h1M17.7 9.7h1M19.3 9.9h1M16.2 3.2h1M16.2 6.1h1M17.5 20.3h1M16.4 18.3h1M16.6 8.2h1M19.1 5.2h1M16.6 17h1M15.4 6.8h1M15 16.1h1M17.1 10h1" stroke="#f59ad8" stroke-width="1"/><path d="M17.7 7.5h1M14.6 6h1M19.5 3.3h1M16 15.9h1M16.8 10.4h1M17 6.8h1M21.3 8.1h1M17.9 10.1h1M20.1 18.8h1M19.7 13.5h1M16.5 10.6h1" stroke="#f08030" stroke-width="1"/><path d="M42.1 45.5h.9M38 54.7h.9M40.5 46h.9M36.7 54.6h.9M40.9 50.7h.9M41.4 55.6h.9M45.6 54.2h.9M43.6 49.6h.9M45.4 55.5h.9M46.6 56.9h.9M35.1 56.5h.9M42 51h.9M35.7 51.3h.9M27.1 55.7h.9M40.6 54.9h.9M46.6 44h.9M35.4 38.6h.9M44.4 35.8h.9M42.3 39.7h.9M37.9 57.2h.9M39.9 48.9h.9M39.5 56.7h.9M38.1 60h.9M35.3 58.7h.9M23.9 44h.9" stroke="#ff2fd0" stroke-width=".9"/><path d="M34.7 42.6h.9M43.6 48.5h.9M41.8 44h.9M35.7 45.8h.9M39.1 59.6h.9M36.7 50.6h.9M34.9 44h.9M51.4 48.7h.9M35 52.5h.9M41.1 53.8h.9M39.9 58.2h.9M44.1 53.5h.9M47.8 43.7h.9M34.8 44.3h.9M46.1 55.6h.9M41.8 56.1h.9M49.9 60.8h.9M44.4 51.6h.9M35.1 50h.9M24.6 56.2h.9M32.3 58.7h.9M39.2 57.2h.9M29.5 57.8h.9M46.7 52.6h.9M36.4 53.1h.9M46.3 47h.9M39.2 51.6h.9M38.7 58.8h.9M39.5 58.2h.9M43.8 54.3h.9M41.8 44.9h.9M36.5 58.1h.9M44.5 55.5h.9M42.6 41h.9M44.5 51.7h.9M51.1 40.9h.9M39.7 53.2h.9M31.1 50.5h.9M42 57.8h.9M37.2 58h.9M39.3 45.3h.9M33 60.2h.9M36.7 59.2h.9" stroke="#f59ad8" stroke-width=".9"/><path d="M47.2 61.1h.9M39.3 67.1h.9M35 53.2h.9M41.7 52.5h.9M42.3 48.8h.9M41 52.9h.9M37.4 29.7h.9M38.4 49.7h.9M35.5 42.4h.9M40.1 53.1h.9M41 51.8h.9M41.4 48.5h.9M43.3 39.1h.9M39.3 42.2h.9M42.9 50.7h.9M36.3 47.4h.9M40.7 38.3h.9M39.9 59.1h.9M42.8 55.4h.9M42.1 58.6h.9M33.6 61.2h.9M46.3 60.4h.9" stroke="#f4f0e0" stroke-width=".9"/><path d="M26.1 18.5h.9M39 10.6h.9M28.1 22.2h.9M23.1 11.6h.9M27 45.3h.9M35 58.5h.9M18.4 18.9h.9M29.4 5.7h.9M34.7 64.5h.9M30.5 54.5h.9M38.8 50.8h.9M34.8 24.6h.9M26.6 21.7h.9M37.3 44.9h.9M28.1 11.6h.9M23.9 10.2h.9M28.4 27.8h.9M25.4 32.5h.9M20.2 17h.9M39.4 46.1h.9M31.4 20.1h.9M32 12.6h.9M33.7 45.3h.9M38.5 21h.9M28.1 50.1h.9M34.2 70.3h.9M35.1 60.2h.9M16.7 24.5h.9M34.7 25.7h.9M30.3 53.5h.9M38.9 63.4h.9M30.9 69h.9M37.1 36.1h.9M36.9 45.2h.9M35.5 24.4h.9M35 50.7h.9M35 34.2h.9M19.8 29h.9" stroke="#3050ff" stroke-width=".9"/><path d="M36.1 63.8h.9M22.8 41.5h.9M32.1 63.1h.9M21.1 30.5h.9M26.9 18.1h.9M25.2 31.2h.9M32.2 69.8h.9M38.2 9.3h.9M21.8 70.9h.9M25.5 22.8h.9M30.5 66.2h.9M33.6 60h.9M35.1 32.7h.9M38.5 55.4h.9M29 39.1h.9M24.5 52.1h.9M28 32.9h.9M33.1 29.4h.9M26.9 44.7h.9M30.3 64.1h.9M23.7 27.1h.9M24.2 10.3h.9M27.1 28.5h.9M20.5 31.6h.9M33.9 34.5h.9M29.9 28.4h.9M21.1 20.4h.9M21.8 10.2h.9M33.1 57.3h.9M25.7 62.6h.9M28.5 59.6h.9M26.3 56.9h.9M36.4 57.4h.9M30.2 14.4h.9M18.9 26.5h.9M33.8 51h.9M34.8 19.6h.9M30.1 28.5h.9M35.9 49.5h.9M34.8 25.2h.9M35.5 53.6h.9M21.5 20.9h.9" stroke="#2038ff" stroke-width=".9"/><circle cx="42.5" cy="33.6" r="20" fill="none" stroke="#d4d4c8" stroke-width=".38"/></g></g><g transform="translate(279 43.2)"><clipPath id="ca4"><rect width="77.8" height="67.8"/></clipPath><rect x="0" y="0" width="77.8" height="67.8" fill="#000"/><g clip-path="url(#ca4)"><polygon points="18.2,0 70,0 73,21.5 67.1,33.3 56.7,51.1 52.2,67.8 .4,67.8 .4,31.8 7.8,17" filter="url(#tBG)"/><path d="M28.2 34.8h.8M40.5 34.4h.8M39.4 40.8h.8M43.6 38h.8M39 13.2h.8M40.2 30.5h.8M36.6 36.6h.8M37.2 35.5h.8M33.9 12.1h.8M9.2 31.3h.8M19.5 10h.8M37.4 29.3h.8M26.9 21.4h.8M30.6 33.3h.8M44.1 16.4h.8M41.7 32.4h.8M32.1 22.3h.8M37.5 29.2h.8M53.3 6.4h.8M33.4 53h.8M67.5 22.4h.8M27.6 24.7h.8M28.5 28.6h.8M17 21h.8M35.6 40.1h.8M33 29.6h.8M29.8 26.5h.8M41.9 25.1h.8M37.5 27h.8M43.2 38.8h.8M44.1 34.9h.8M31.7 14.2h.8M17.2 21.9h.8M53.6 29.8h.8M48.7 18.6h.8M17.7 14.9h.8M35.5 29.1h.8M24 24.2h.8M53.8 28.5h.8M33.5 20.4h.8M17.1 36.4h.8M34.2 42h.8M38.2 26.8h.8M50.8 32.6h.8M33.6 32h.8M43.6 30.7h.8M23.1 48h.8M48.3 32.3h.8M42.8 17.8h.8M38.9 28.3h.8M43 16.7h.8M48.6 26.7h.8M39.4 35.4h.8M34.6 45.8h.8M46.9 34.1h.8M42.6 43.9h.8M29.2 32.6h.8M30.2 18.7h.8M34.6 13.7h.8M32.5 43.2h.8M34.3 35.1h.8M17.6 30.1h.8M49.7 45.2h.8M35.8 30.1h.8M40 29.4h.8M48.9 27h.8M24.4 48h.8M44.5 29.7h.8M46.6 28h.8M27.1 43.9h.8M34.1 29.8h.8M42.7 42.6h.8M33.4 39.1h.8M29.8 22h.8M29.3 4.4h.8M30.7 15.2h.8M52.2 43.4h.8" stroke="#e6dc4a" stroke-width=".8"/><path d="M34.5 18.9h.8M46.3 30.2h.8M59.6 34.9h.8M30.7 36.2h.8M52.8 27.9h.8M35.7 24.7h.8M31 33.6h.8M38.2 43.5h.8M44 31.5h.8M55.1 38.5h.8M20.6 45.3h.8M33.3 49.6h.8M22 31h.8M28.8 28.2h.8M32.8 35.9h.8M45.4 43.6h.8M20.5 34.3h.8M29.6 18.4h.8M34.8 26.8h.8M33 37.1h.8M44 21.1h.8M39 30.5h.8M28.5 25.6h.8M25.4 12.8h.8M37.8 15.4h.8M43.1 23.3h.8M41.8 28.3h.8M47.1 37.4h.8M28.4 43.9h.8" stroke="#c8d860" stroke-width=".8"/><path d="M53.1 36.6h.8M31.8 29h.8M28.1 21.3h.8M46 27.7h.8M42.4 39h.8M35.6 32.8h.8M54.4 38.9h.8M38.6 33.7h.8M51.5 29.3h.8M32.6 21.4h.8M34.4 46h.8M39.4 33.7h.8M21.2 20.5h.8M50.4 15.8h.8M36.8 38.1h.8M34.6 22.8h.8M48.1 37.9h.8M37.5 35.1h.8M53 30.1h.8M49.8 39.6h.8M48.4 22.1h.8M28.2 14.3h.8M36.4 29h.8M27.5 22.9h.8M25.7 31.8h.8M31 28.5h.8M23 21.7h.8M32.4 23.5h.8M32.8 22.5h.8M36.8 30.4h.8M58.3 30.3h.8M27.4 31.8h.8M25.7 39.1h.8M34.8 27.6h.8" stroke="#f4f0e0" stroke-width=".8"/><path d="M53.7 3.1h.9M26.3 3.9h.9M42.7 29.3h.9M57 37.4h.9M32.5 44.4h.9M48.1 4.7h.9M62.8 9.4h.9M40.4 64.5h.9M30.1 49.1h.9M48 43.1h.9M54 51h.9M10.9 56.2h.9M36.8 26.4h.9M13.2 55.6h.9M22.5 49.1h.9M12.1 53.4h.9M25.4 46.7h.9M32.8 12.4h.9M53.5 45.1h.9M2.3 32.5h.9M46.9 58.1h.9M10.2 50.9h.9M19.7 .9h.9M21.3 15.2h.9M44 59.5h.9M50.3 43.4h.9M53.6 12.6h.9M36.1 43.9h.9M2.6 41.9h.9M18.5 5.6h.9M53.4 57.1h.9M20.8 54h.9M4.9 26.9h.9M32.1 4.2h.9M27.1 22.3h.9M53.3 10.9h.9M24.3 3.7h.9M13 14.5h.9M3.1 27.1h.9M42.7 13.6h.9M41.5 22h.9M53.5 35.1h.9M23.4 24.5h.9M59.6 19.9h.9M47.9 41.4h.9M64.1 .8h.9M61.3 4.5h.9M15.3 62.4h.9M38.9 62.4h.9" stroke="#2038ff" stroke-width=".9"/><path d="M9.6 42.8h.9M28.2 24h.9M12.7 9.8h.9M63.5 19.9h.9M30.1 50.8h.9M10.8 19.6h.9M56.5 42.6h.9M59.8 4h.9M36.4 3.6h.9M63.2 27.8h.9M4 59.6h.9M48.9 50.9h.9M13.1 35.8h.9M58.2 47.5h.9M54.7 41.3h.9M27.7 51.8h.9M15.3 31.8h.9M12.6 46.4h.9M34.7 26h.9M19.1 28.1h.9M47 32.2h.9M50.7 .9h.9M41.3 9.5h.9M10 21.9h.9M18.9 19.8h.9M37.8 59.8h.9M30.9 52.4h.9M10.6 13.9h.9M7.9 41.7h.9M3.5 61.8h.9M16.3 39.4h.9M54.5 19.8h.9M52.4 2.8h.9M70.4 7.4h.9M38.5 5.7h.9M54 30.5h.9M64 31.2h.9M6.2 61.9h.9M70 4.9h.9M35.3 5.9h.9M1.3 42.9h.9M46.9 58.2h.9M55.4 2.4h.9M40.1 46.2h.9M18.6 47.3h.9M12.5 40.6h.9M17 18.5h.9M62 6h.9M43.1 32.7h.9" stroke="#3050ff" stroke-width=".9"/><path d="M39.4 2.1h.9M28.5 56h.9M28.6 58h.9M30.9 57.3h.9M58.2 10.3h.9M56.4 14.3h.9M51.9 45.3h.9M17.4 55.2h.9M11.9 25.3h.9M46.6 43.8h.9M18 11.6h.9M57.3 28.2h.9M38.9 61.8h.9M28.7 66h.9M33.3 36.9h.9M47.7 24.7h.9M31.8 27.8h.9M52.8 48.8h.9M39.4 57.2h.9M37 6.2h.9M54.1 19.1h.9M70.1 25.6h.9M7.7 31.3h.9M42.7 35.5h.9M31.9 3.2h.9M45.6 57.4h.9M41.6 5.7h.9M26.4 43.2h.9M20.9 11.9h.9M20.6 45.5h.9M55.7 36.4h.9M47.4 33h.9M44.4 55.9h.9M45.7 22.3h.9M44.9 41.3h.9M37.4 6.9h.9M54.7 34.1h.9M8 66.6h.9M60.6 40.6h.9M45.9 51.1h.9M10.2 23.9h.9M40 12.6h.9M23 31.5h.9M39.4 19.4h.9M66.7 26.8h.9M13 21.5h.9M51.8 34.3h.9M66.3 23.8h.9M67 13h.9M25.1 20.8h.9M7.1 39.4h.9M65.8 22.8h.9" stroke="#2a8a25" stroke-width=".9"/><path d="M27.6 62.4h.7M46.2 2.9h.7M36.9 32.9h.7M15.5 22.3h.7M20 63.8h.7M62.2 31.4h.7M57.9 20.1h.7M45.1 24.1h.7M28 65.2h.7M21.3 25h.7M41.7 50.3h.7M33.3 43.1h.7M60.2 36.3h.7M40.7 58.9h.7M22.9 50.5h.7" stroke="#2a8a25" stroke-width=".7"/><path d="M70.4 12.1h.7M1.7 40.8h.7M33 29.6h.7M5.3 29.6h.7M44.9 11.9h.7M7.7 56.3h.7M15.6 4.2h.7M27.2 10h.7M53.7 12.1h.7M36.9 56.7h.7M17 46.5h.7M51.8 7.9h.7M48.6 47.2h.7M22.9 27.1h.7" stroke="#e6dc4a" stroke-width=".7"/><path d="M30.7 45.7h.7M58.3 42.3h.7M41.6 30.3h.7M20.9 52.8h.7M53.2 2.8h.7M56.4 17.8h.7M12.2 42.7h.7M25.9 2.3h.7M40 .5h.7M19.9 24.3h.7M3.4 57.8h.7M6.4 56.5h.7M22 .2h.7M21.9 23.1h.7M24.6 50.9h.7M12.9 15.8h.7M18.7 34h.7M33.5 40.3h.7M23 22.1h.7M36.6 57.9h.7M65.6 24.7h.7" stroke="#f4f0e0" stroke-width=".7"/><circle cx="39" cy="33.3" r="16" fill="none" stroke="#d4d4c8" stroke-width=".38"/></g></g><g transform="translate(15 115.6)"><rect x="0" y="0" width="80.6" height="30.4" fill="#000"/><line x1="26.35" y1="0" x2="26.35" y2="30.4" stroke="#555" stroke-width="0.3"/><line x1="53.3" y1="0" x2="53.3" y2="30.4" stroke="#555" stroke-width="0.3"/><path d="M19.3 19.2h.8M20 20.1h.8M18.8 17.5h.8M14.4 13.9h.8M16.8 13.7h.8M19.3 18.6h.8M15.2 18.2h.8M14.2 19h.8M14.4 20.9h.8M13.2 20.1h.8M18.4 9.6h.8M19.5 19.4h.8M16.2 12.5h.8" stroke="#f59ad8" stroke-width=".8"/><path d="M16.8 22.6h.8M16.7 19.7h.8M15.4 23.2h.8M15.9 13.5h.8M14.8 20.3h.8M19.4 17.5h.8M19 10.2h.8M14.7 11.2h.8M14.4 12.6h.8M17 14.3h.8M15.7 20h.8M17.2 10.5h.8M15 22.4h.8M17.4 13.8h.8M17.3 9.9h.8M13.9 21h.8M14.6 24.7h.8" stroke="#f4f0e0" stroke-width=".8"/><path d="M20.5 14.2h.8M15 18.6h.8M19.8 13h.8M15.9 18.5h.8M14.1 21.1h.8M20.3 14.3h.8M15.2 12.7h.8M16 10.6h.8M15.9 20.8h.8M15.1 20.2h.8M13.8 21.8h.8M19 14.1h.8M20.2 13.8h.8" stroke="#e6dc4a" stroke-width=".8"/><path d="M14.7 24.3h.8M15.5 9.1h.8M17.4 14.6h.8M15 18.8h.8M17.2 12.4h.8M16.9 21.4h.8M15.6 9.4h.8M16.6 18.9h.8M18 18.6h.8M16.9 12.1h.8M16.3 9.4h.8M18.3 20.1h.8M19.5 14.3h.8M15.1 20h.8M15.4 17.1h.8M16.8 14.5h.8M16.7 21.7h.8" stroke="#ff2fd0" stroke-width=".8"/><path d="M6.1 16.8h.7M3.8 14.9h.7M6.8 21.3h.7M11.6 22.5h.7M5.9 15.7h.7M12.5 23.4h.7M6.7 9.9h.7M38.4 22.6h.7M43.5 14.1h.7M39.1 13.1h.7M44.3 18.8h.7M39.8 17.1h.7M42.3 13.4h.7M39.3 20.3h.7" stroke="#ff2fd0" stroke-width=".7"/><path d="M8.8 9.8h.7M5.1 12.7h.7M7 13.6h.7M4.7 15.7h.7M7.9 22.8h.7M9.2 7.9h.7M9.4 9.5h.7M6.1 19h.7M40.6 18.7h.7M43.9 13.8h.7M41.6 17.2h.7M34.2 16.3h.7M35.6 9.9h.7" stroke="#f59ad8" stroke-width=".7"/><path d="M41.7 15.4h1.2M41.4 18.3h1.2M41 15.4h1.2M40.4 13.4h1.2M38.8 16.6h1.2M36 13.3h1.2M38.5 14.4h1.2M38.7 18h1.2M38.2 21.7h1.2M35.7 19.7h1.2M38.6 24h1.2M37.4 20.1h1.2M38.7 14.9h1.2M38 16.3h1.2M41 15.3h1.2M39.9 16.7h1.2M39.7 17.1h1.2M39.8 15.8h1.2M39.8 19.6h1.2M39.7 18.6h1.2M39.5 13.8h1.2M38.3 14.1h1.2M40.5 16.4h1.2M38.3 15.6h1.2M39.7 15.5h1.2M38 20h1.2M40.9 16.7h1.2M39.4 14.9h1.2M42.5 16.7h1.2M37.7 13.6h1.2M41.6 11.7h1.2M37.3 19.9h1.2M41.1 14.2h1.2M39.7 16.4h1.2M37.7 14.1h1.2M40.5 15.3h1.2M38.6 10.3h1.2M38.1 15.5h1.2M40.8 17.1h1.2M40.3 11.9h1.2M38.9 19h1.2M42.2 16.2h1.2M40.3 17.3h1.2M39.5 14.6h1.2M39.2 13.1h1.2M38.4 14.2h1.2M40.7 17.1h1.2M38.3 12h1.2M41.7 17.6h1.2M40.3 15.1h1.2M41.7 18.7h1.2M35.9 16.7h1.2M40.5 15.4h1.2M41 19.6h1.2M41.4 14.2h1.2M39.5 20h1.2M40.3 14.1h1.2M40.8 10.6h1.2M39.6 14.3h1.2M39.3 15.2h1.2M40.4 17h1.2M39.9 22.3h1.2M40.4 15.9h1.2M38.2 15.4h1.2M41.3 15.1h1.2M39.7 14.9h1.2M40.1 14.7h1.2M39 17.9h1.2M42 14.2h1.2M37.9 19.5h1.2M38 11.9h1.2M41.2 15.5h1.2M38 14h1.2M39.1 17h1.2M40.1 18h1.2M41.1 14h1.2M41.5 16.2h1.2M38.9 19.2h1.2M40.2 17.7h1.2M41.9 11.8h1.2M40.4 18.1h1.2M40.8 11.7h1.2M43 17.5h1.2M41.1 14.9h1.2M38.8 12h1.2M40.2 14.8h1.2M39.1 20.5h1.2M42.2 17.2h1.2M38.5 12.7h1.2M39.3 14.5h1.2" stroke="#ff2fd0" stroke-width="1.2"/><path d="M69.3 22.1h.7M59.6 16.8h.7M71.2 13.3h.7M63.2 12.7h.7M61.6 17.9h.7M72.9 21.1h.7M73.2 17.6h.7M64.8 10.7h.7M69.7 20.3h.7M68.7 8.8h.7M61.4 12h.7M59.3 14.1h.7M67.5 9.2h.7M67.1 25.1h.7M63.3 18.7h.7M72.4 12.4h.7" stroke="#5040a0" stroke-width=".7"/><path d="M68.4 21h.7M62.1 11.8h.7M70.6 21.1h.7M71.2 17.7h.7M65.4 8.8h.7M65.9 23.6h.7M69.3 10.7h.7M67.7 11.8h.7M58.7 14.4h.7M63.4 24.3h.7M66.6 8.9h.7M62.8 23.5h.7M66.5 20.7h.7" stroke="#c040c0" stroke-width=".7"/><path d="M67.6 11.9h.7M59.7 11.4h.7M68.8 11.2h.7M69.1 7.8h.7M65.4 22.6h.7M72.2 11.8h.7M72.7 21.2h.7M64.1 21.2h.7M70.6 16.9h.7M73.2 14h.7M61.9 15.4h.7M64.5 19.8h.7M65.8 11.8h.7M68.5 19.9h.7M67.6 21.5h.7M64.3 22.4h.7M62 12.1h.7M66.6 10.8h.7M72 20.5h.7M70.4 15.1h.7M72.4 11.7h.7M60.9 21.6h.7" stroke="#9a4ad0" stroke-width=".7"/><path d="M61.8 15.5h.7M73.4 10.5h.7M60.3 14.7h.7M72.7 10.5h.7M61.6 18.9h.7M60.9 13.4h.7M73 17.6h.7M57.8 14.4h.7M64.5 11.6h.7M61.1 22.2h.7M71.2 17.3h.7M63 8.6h.7M68.3 10.6h.7M68 12.4h.7M74.5 15.3h.7M65.5 20.5h.7M71.1 14h.7M62 16.7h.7M64.6 21.2h.7" stroke="#b030a0" stroke-width=".7"/><path d="M70.5 13.2h.6M59.5 12.9h.6M64.7 21.6h.6M62.7 24.5h.6M71.3 13.8h.6" stroke="#2038ff" stroke-width=".6"/><path d="M67.1 10.9h.6M60.8 19.5h.6M68.1 20.1h.6M64.4 23.2h.6M61.1 18.6h.6M61.6 9.7h.6M72.9 18.8h.6" stroke="#e6dc4a" stroke-width=".6"/><circle cx="12.9" cy="16.2" r="11.2" fill="none" stroke="#cfcfc4" stroke-width=".35"/><line x1="11.7" y1="3.4" x2="14.1" y2="3.4" stroke="#bbb" stroke-width="0.5"/><circle cx="39.8" cy="16.2" r="11.2" fill="none" stroke="#cfcfc4" stroke-width=".35"/><line x1="38.6" y1="3.4" x2="41" y2="3.4" stroke="#bbb" stroke-width="0.5"/><circle cx="66.8" cy="16.2" r="11.2" fill="none" stroke="#cfcfc4" stroke-width=".35"/><line x1="65.6" y1="3.4" x2="68" y2="3.4" stroke="#bbb" stroke-width="0.5"/></g><g transform="translate(99.9 115)"><rect x="0" y="0" width="77.7" height="32.1" fill="#000"/><line x1="25.85" y1="0" x2="25.85" y2="32.1" stroke="#555" stroke-width="0.3"/><line x1="51.9" y1="0" x2="51.9" y2="32.1" stroke="#555" stroke-width="0.3"/><path d="M21.5 15.1h.8M8.9 13.1h.8M21.1 15.6h.8M19.8 19.5h.8M18.2 11.2h.8M19 17.2h.8M19.9 11.7h.8M22.2 16.5h.8M8.1 12.5h.8M3.9 21.2h.8M10 11.8h.8M5.2 19.1h.8M4.8 17.8h.8M20.7 19h.8M10.8 7.6h.8M13.4 9.6h.8M6.2 13h.8M15.7 11.6h.8M17.6 11.5h.8M12.8 8.6h.8M18.2 19.8h.8M3.6 20.6h.8M17.6 12.6h.8M5.8 16.1h.8M12.6 9.5h.8M15.2 12.1h.8M16.7 14.3h.8M11.5 7.1h.8M16.9 13.8h.8M21.7 19.9h.8M18.2 16.5h.8M5.3 11.4h.8M4.6 10.3h.8M17.3 10.9h.8M18.4 14.1h.8M17.9 13.1h.8M3.6 15.6h.8M14.4 9.8h.8M18.5 22.1h.8M3.9 15.4h.8M7.2 18.1h.8M5.2 17.7h.8M6.2 18.7h.8M18.1 17.7h.8M2.6 20.1h.8M16.7 12.2h.8M16.8 11.8h.8M21.8 20.6h.8M7.2 16.6h.8M2.2 14.3h.8" stroke="#f4f0e0" stroke-width=".8"/><path d="M17.1 15.3h.8M11.4 11.6h.8M19.5 20.9h.8M11.1 8.1h.8M19.1 9.3h.8M18.2 8.7h.8M17.5 17.4h.8M7.5 7.9h.8M12.6 12h.8M2.2 20.1h.8M17.2 13.8h.8M13.4 7.4h.8M20.1 21h.8M20.1 15.2h.8M14.8 8.8h.8M7.5 13.3h.8M6.6 17h.8" stroke="#e6dc4a" stroke-width=".8"/><path d="M17.6 11.8h.8M4.6 14.5h.8M8.6 10.7h.8M16.5 19.9h.8M5.9 13.2h.8M4.3 14.2h.8M17.7 19.6h.8M5 20.5h.8M15.4 10.8h.8M8.6 9.6h.8M3.9 15.5h.8M18.8 16.8h.8M12.8 10.6h.8M18.5 20.9h.8M15.9 12.7h.8M10.7 11.4h.8M18.4 10h.8M4.9 13.4h.8M5.1 20.6h.8M4 12.9h.8M20.3 10.6h.8M12.4 9.5h.8M4 18.2h.8" stroke="#f59ad8" stroke-width=".8"/><path d="M21.4 21h.8M16.4 7.6h.8M14.7 12.2h.8M4.7 13.5h.8M17.6 11.1h.8M16.2 11.2h.8M12.9 10.3h.8M6.8 10.4h.8M9.9 8h.8M12.2 9.6h.8M7.1 19.1h.8M13.1 12h.8M21.3 13.7h.8M11 10h.8M17.5 15.1h.8M6.8 17.7h.8M3.8 12.6h.8M18.2 15.6h.8M17.5 15.6h.8M7.2 14.4h.8" stroke="#d0c8ff" stroke-width=".8"/><path d="M6.7 20.5h.7M7.9 20.5h.7M8.5 20.6h.7M17.6 22.3h.7M12.5 26.3h.7M16.7 23.6h.7M15.5 23.8h.7M8.7 19.9h.7M11.8 26.8h.7M5.1 23h.7M7.3 22.7h.7M34.4 7.9h.7M42.5 14.4h.7M35.2 10.6h.7M44.3 17.5h.7M43.6 16.3h.7M48.7 14.3h.7M44.4 12.1h.7M40.7 27.3h.7M41 17.8h.7M43.5 16.2h.7M64.7 10.1h.7M59.6 11.7h.7M59.6 12.1h.7M62.3 19.2h.7M55.8 14.4h.7M60.4 19.7h.7M58.9 22.1h.7M70 10.9h.7M70.4 9.5h.7M55.5 14.2h.7M64.7 10.2h.7M69.1 17.7h.7M63.9 26.7h.7M61.8 18.9h.7M70.2 24h.7M63.4 13.3h.7" stroke="#ff2fd0" stroke-width=".7"/><path d="M16 20.5h.7M5.1 22.3h.7M18.6 24.2h.7M14.1 22.2h.7M17 24.3h.7M18.2 22h.7M13.8 25.4h.7M9.5 25.4h.7M14.3 20.8h.7M41.7 12.9h.7M40.5 6.5h.7M38.2 21.5h.7M38.7 20h.7M45.3 12.4h.7M38.5 19.9h.7M40.2 20.3h.7M37 17.3h.7M42.1 20.7h.7M36.4 9.8h.7M32 9.8h.7M40.8 20.2h.7M34.4 9.2h.7M35.9 19.4h.7M36.6 20.2h.7" stroke="#f59ad8" stroke-width=".7"/><path d="M40.6 14.6h1.2M39.9 20.9h1.2M39.5 16.9h1.2M39.4 18.5h1.2M37.9 19h1.2M39.8 15.4h1.2M41.3 15.7h1.2M35.5 17.1h1.2M37.6 23.8h1.2M40.2 23.1h1.2M38.2 16.4h1.2M40.2 17.9h1.2M41.9 19.5h1.2M40.3 17.9h1.2M41.3 20.3h1.2M38.2 20.7h1.2M41.6 14h1.2M40 10.9h1.2M40.2 13.6h1.2M35.7 14.3h1.2M37.4 16.2h1.2M37.7 19.8h1.2M38 20.2h1.2M37.5 15.8h1.2M40 18.3h1.2M38.7 18.2h1.2M39.1 17.6h1.2M40.6 15.3h1.2M37.9 11.8h1.2M39.2 20.1h1.2M44.1 14.4h1.2M40.3 18.7h1.2" stroke="#e850d8" stroke-width="1.2"/><path d="M40.1 9.7h1.2M42.7 17.5h1.2M40.2 15.9h1.2M39.7 19.7h1.2M39.3 14.5h1.2M39.3 16.3h1.2M36.3 15.8h1.2M36.1 13h1.2M46.4 19.9h1.2M43.6 22.5h1.2M42.9 21.7h1.2M41.8 22.2h1.2M38.3 14.9h1.2M40.7 10.5h1.2M41.4 20.2h1.2M43.6 13.3h1.2M38.4 14.8h1.2M37.3 18.5h1.2M41.3 8.8h1.2M39.8 14.3h1.2M37.9 14.3h1.2M38.2 17.6h1.2M39.1 19.8h1.2M39.2 20.7h1.2M43.5 18.2h1.2M37.7 16.7h1.2M40.9 17h1.2M41.9 15.2h1.2M39 16.9h1.2M43.9 20.3h1.2M36.9 13.3h1.2M36.4 17.4h1.2M38.8 21.3h1.2M42.6 21.1h1.2M40.5 16.9h1.2M42.3 20.7h1.2M41.2 18.1h1.2M42.5 21.9h1.2M38.8 11.3h1.2M37.4 17.2h1.2M40.4 17.2h1.2M39 17.8h1.2M38.7 18.1h1.2M39.9 11.3h1.2M39.9 18.5h1.2M36.7 18.7h1.2M38.2 22h1.2M40.3 14.3h1.2M38.9 16.5h1.2M38.9 24.1h1.2M38.1 17.1h1.2M39.5 10.9h1.2M41.2 16.3h1.2M34.8 9.2h1.2M37 15.8h1.2M37 20.3h1.2M38.7 22.6h1.2M43.2 22.1h1.2M37.9 20.6h1.2M39.8 16.9h1.2M39.8 18h1.2M42.1 17.5h1.2M40.8 18h1.2M39.9 23.2h1.2M40.9 14.2h1.2M42.4 16.5h1.2M38.7 21.6h1.2M42.2 19h1.2M40.2 18.1h1.2M38.5 18.3h1.2M34.4 18.8h1.2M40.1 21h1.2M40 18.7h1.2M40.7 16.2h1.2M38.2 20.5h1.2M40.9 18.8h1.2M42.2 17.5h1.2M38.1 14h1.2" stroke="#ff2fd0" stroke-width="1.2"/><path d="M34.2 9.5h.7M41.6 14.9h.7M40.3 18.5h.7M36.5 8.1h.7M34.9 11h.7M41.3 14.1h.7M37.7 11.5h.7M37.1 19.2h.7M36.7 9.4h.7M38.4 14.6h.7M36.1 24.1h.7M39.3 19.4h.7M45.2 17.7h.7M40.9 17.2h.7M37.9 15.8h.7" stroke="#f4f0e0" stroke-width=".7"/><path d="M42.3 25.5h1M44 22.9h1M43.6 22.8h1M44.5 24.1h1M42 22.5h1M41.8 25h1M43 23.8h1M43.1 25.3h1M42.6 23.4h1M42.8 23.3h1M42.3 24.8h1M42.8 24.2h1M40.9 23.8h1M42.6 24.2h1M41.3 24.3h1M43.9 22.4h1M44.1 22.8h1M42.6 23.2h1M41.1 22.9h1M41.8 23.2h1M42.8 21.9h1M42.4 24.8h1M41.5 23.9h1M40.5 22.3h1M43.6 24.1h1" stroke="#ff2fd0" stroke-width="1"/><path d="M73 21.7h.7M66.7 17.3h.7M67.3 17.3h.7M70.3 9h.7M63.3 10.5h.7M70.1 8.8h.7M61.4 13.6h.7M68.9 17.1h.7M74.4 14.1h.7M63.1 25.2h.7M66.8 20.3h.7M61.1 24.6h.7M68.8 26.2h.7M73.7 21.4h.7M58.2 16.2h.7M56.3 19.6h.7M61 20.9h.7" stroke="#9a4ad0" stroke-width=".7"/><path d="M69.5 9.7h.7M59.3 11h.7M58.9 18.5h.7M70.7 10.6h.7M65.3 24.1h.7M68.8 15.3h.7M67.6 16.2h.7M66.4 16.6h.7M61.4 12.9h.7" stroke="#3030c0" stroke-width=".7"/><path d="M61.2 12.7h.7M59.5 11.8h.7M67.5 19.7h.7M59.4 22.9h.7M60.7 19.2h.7M65.4 19.1h.7M63.9 20.3h.7M65.6 7.1h.7M61.2 22.7h.7M63.6 12.4h.7M66 20.5h.7M63.2 13.6h.7M71.6 23.9h.7M55.7 18.6h.7M72.7 14.6h.7M62.4 17.5h.7M64.7 20.6h.7M66.6 13.9h.7M67.9 20.5h.7M69.6 12h.7M66.4 17.4h.7M68.6 19.5h.7M63.5 20.9h.7M70.2 14.2h.7" stroke="#4838b0" stroke-width=".7"/><path d="M71.4 15.7h.7M63.2 23.7h.7M71.9 12.7h.7M66.2 12.7h.7M59.5 20.8h.7M59 20.3h.7M59.7 19.7h.7M66.4 19.1h.7M65.5 9h.7M58.2 19.7h.7M63.6 21h.7M66.7 15.1h.7M61.4 18.9h.7M73.4 16.9h.7M68.6 22.8h.7M63.1 14.1h.7M65.5 27.3h.7" stroke="#806090" stroke-width=".7"/><path d="M65.2 21.8h.7M64.5 20h.7M66.7 18.6h.7M59.2 25.4h.7M60.1 8.3h.7M61.9 9.8h.7M66 20.7h.7" stroke="#e6dc4a" stroke-width=".7"/><circle cx="12.6" cy="17.1" r="11.1" fill="none" stroke="#cfcfc4" stroke-width=".35"/><line x1="11.4" y1="4.35" x2="13.8" y2="4.35" stroke="#bbb" stroke-width="0.5"/><circle cx="39.1" cy="17.1" r="11.1" fill="none" stroke="#cfcfc4" stroke-width=".35"/><line x1="37.9" y1="4.35" x2="40.3" y2="4.35" stroke="#bbb" stroke-width="0.5"/><circle cx="64.7" cy="17.1" r="11.1" fill="none" stroke="#cfcfc4" stroke-width=".35"/><line x1="63.5" y1="4.35" x2="65.9" y2="4.35" stroke="#bbb" stroke-width="0.5"/></g><g transform="translate(192.9 117.2)"><rect x="0" y="0" width="80.9" height="30.3" fill="#000"/><line x1="26.9" y1="0" x2="26.9" y2="30.3" stroke="#555" stroke-width="0.3"/><line x1="53.15" y1="0" x2="53.15" y2="30.3" stroke="#555" stroke-width="0.3"/><path d="M15.5 18.7h.7M15.6 17.4h.7M13 19.2h.7M14.6 24.6h.7M10.2 14.5h.7M17.4 15.7h.7" stroke="#8090ff" stroke-width=".7"/><path d="M21.6 18.9h.7M19.9 18.5h.7M13.5 11.3h.7M13.6 13.8h.7M14.3 24.7h.7M19.4 20.1h.7M13.6 20.7h.7M12.3 18.3h.7M18.3 20.9h.7M41.8 17.7h.7M38.2 5.9h.7M36.7 18.9h.7M38.5 21.2h.7M38.4 13.7h.7M36.1 16h.7M40.5 16.4h.7M40.3 22.2h.7M39.8 12.4h.7M37.9 18.7h.7M41.2 17.1h.7M39 26.1h.7" stroke="#2038ff" stroke-width=".7"/><path d="M16.5 18.2h.7M17.4 17.1h.7M21.9 19h.7M12.4 13.4h.7M14.9 11.4h.7M9.6 18.6h.7M16.5 14.1h.7M18.6 19.7h.7M10.8 11.6h.7M14.8 20.1h.7M40.6 19.1h.7M37.4 13.7h.7M38.9 15h.7M39.7 17.2h.7M37.4 23.8h.7M37.2 18.9h.7M39.8 19.8h.7M40.4 12.3h.7M38.7 11.3h.7M40.1 15.1h.7M37.4 11.9h.7M39.9 7.7h.7M40.3 16.6h.7M41.2 12.5h.7M38.7 14.5h.7M39.9 17.8h.7M40.6 18.9h.7M36.7 11.6h.7" stroke="#f4f0e0" stroke-width=".7"/><path d="M37.3 15h.7M40.6 15.8h.7M40.2 25.3h.7M37.6 21.9h.7M40.5 23.3h.7M39.8 18.2h.7M40.9 15.5h.7M37.3 25.2h.7M38.9 13.1h.7M39.4 24.8h.7M39.1 15.7h.7M36.3 20.4h.7M40 24.4h.7M43.1 19.6h.7M35.9 15h.7M39.7 24.2h.7" stroke="#f59ad8" stroke-width=".7"/><path d="M41.2 21.6h.7M38.7 21.4h.7M38.1 11.4h.7M41.1 12h.7M36.2 7h.7M37.8 17.7h.7M39.5 26.2h.7M39.2 15h.7M39.9 18.9h.7M37.3 8.8h.7M35.7 24.6h.7M39.5 20.7h.7" stroke="#a0a0ff" stroke-width=".7"/><path d="M37.9 18.2h.7M35.7 14.3h.7M39.7 14.5h.7M41.3 17.4h.7M37.4 10h.7M38.3 20.5h.7M40.6 17.9h.7M41.7 17.5h.7M42.2 25.7h.7M41 19.5h.7M35.2 15.8h.7M40.1 15.1h.7" stroke="#ff2fd0" stroke-width=".7"/><path d="M62.7 15h.6M64.5 23.8h.6M60.1 18.3h.6M63.3 16h.6M68.1 19.8h.6M61.3 19.1h.6M66 16.2h.6M65 18.3h.6M61.9 10.2h.6M73.8 18.4h.6M60.7 10.9h.6M69.2 20.2h.6M59.9 13.9h.6M65.1 16.3h.6M66.5 15.6h.6" stroke="#308030" stroke-width=".6"/><path d="M61.1 15.2h.6M65.5 16.2h.6M66.5 15h.6M62.8 22.7h.6M63.4 20.1h.6M59.5 13.1h.6M65.2 16.5h.6M60.5 10.2h.6M62.9 18.1h.6M60.2 12.1h.6M65.9 23.9h.6M58.4 12.8h.6M63.7 11.7h.6M68.2 14.6h.6M61 11.8h.6M68.3 17.1h.6" stroke="#e6dc4a" stroke-width=".6"/><path d="M66.2 15.8h.6M73.7 12h.6M63.3 18.1h.6M67.7 7.4h.6M67 15.1h.6M65.2 16.1h.6M64.6 25.1h.6M64.3 24h.6M65.5 15.9h.6M62.1 12.3h.6M64.6 21h.6M68.8 15.6h.6M69.2 15.8h.6M71.2 15.2h.6M74.4 18h.6M68.2 17.6h.6M74 13.9h.6M70.1 22h.6M68.5 11h.6M68.9 8.3h.6" stroke="#2a8a25" stroke-width=".6"/><path d="M64.2 14.9h.6M72.5 9.6h.6M63.9 17.1h.6M71.8 13.8h.6M62.3 18.5h.6M61.9 19.6h.6M66.8 16h.6M69.8 10.7h.6M64.1 14.8h.6M68.8 12.7h.6M70 16h.6M74.8 12.5h.6M67.7 16.8h.6M64.8 24.1h.6M65.9 16h.6M70.4 11.3h.6M69.4 16.2h.6M62.4 14.1h.6M66.2 16.4h.6M72.5 19.1h.6M63.1 14.2h.6M63.4 9.8h.6" stroke="#a0b040" stroke-width=".6"/><path d="M60.7 17.7h.6M71.3 23.1h.6M67.6 25.5h.6M65.6 17.4h.6M64 15.6h.6M65.9 20.6h.6M62.8 11.6h.6M65.3 16.4h.6M64.3 16.5h.6M65.8 16.2h.6M65.7 17h.6M63.3 18.2h.6M69.4 15.2h.6M65.5 14.1h.6M62 16.3h.6M64.8 15.2h.6M65.1 13.4h.6" stroke="#e03a2a" stroke-width=".6"/><circle cx="13.6" cy="16.1" r="11" fill="none" stroke="#cfcfc4" stroke-width=".35"/><line x1="12.4" y1="3.55" x2="14.8" y2="3.55" stroke="#bbb" stroke-width="0.5"/><circle cx="40.2" cy="16.1" r="11" fill="none" stroke="#cfcfc4" stroke-width=".35"/><line x1="39" y1="3.55" x2="41.4" y2="3.55" stroke="#bbb" stroke-width="0.5"/><circle cx="66.1" cy="16.1" r="11" fill="none" stroke="#cfcfc4" stroke-width=".35"/><line x1="64.9" y1="3.55" x2="67.3" y2="3.55" stroke="#bbb" stroke-width="0.5"/></g><g transform="translate(279 115.3)"><rect x="0" y="0" width="77.8" height="30.5" fill="#000"/><line x1="25.4" y1="0" x2="25.4" y2="30.5" stroke="#555" stroke-width="0.3"/><line x1="51.45" y1="0" x2="51.45" y2="30.5" stroke="#555" stroke-width="0.3"/><path d="M13.1 24.8h.7M12 16.6h.7M12 25.2h.7M7.6 17.5h.7M12.3 16.6h.7M10.2 12.1h.7M11.5 16.2h.7M19.1 13.9h.7M11.2 16.2h.7M13.5 19.4h.7" stroke="#f4f0e0" stroke-width=".7"/><path d="M11.6 16.4h.7M14.7 14.1h.7M7.6 15.7h.7M12.4 16.2h.7M16.5 22.5h.7M4.6 13.5h.7M10.5 18.3h.7M11.8 18.9h.7M17.2 21h.7M11 17.5h.7M12.9 15.5h.7M16.6 23.2h.7" stroke="#3048d0" stroke-width=".7"/><path d="M11.9 16.4h.7M10.8 8.4h.7M9.1 15.7h.7M10.7 19.2h.7M7.3 23h.7M13.9 22.8h.7M8.3 10.4h.7M14.9 23.9h.7M7.9 19.6h.7" stroke="#6070ff" stroke-width=".7"/><path d="M11 10.4h.7M10.7 15.6h.7M16.4 21.4h.7M18.8 13.1h.7M11.2 16.6h.7M11.6 17.1h.7M9.6 7.7h.7M6.7 23.2h.7M9.1 12.7h.7" stroke="#2038ff" stroke-width=".7"/><path d="M13.1 21h.8M13.5 21.9h.8M11.1 21.3h.8M11.4 19.3h.8M13.5 19.7h.8M13.3 22.8h.8M12.8 21.4h.8" stroke="#f4f0e0" stroke-width=".8"/><path d="M14.5 24.8h.8M12.3 21.7h.8M12.4 19.6h.8" stroke="#e6dc4a" stroke-width=".8"/><path d="M33.6 6.9h.6M37.1 7.6h.6M36.6 21.1h.6M37.9 11.3h.6M36.2 12.7h.6M40.7 24h.6M41.6 22.4h.6M40.2 25.1h.6M33.1 13.2h.6M33.8 22.2h.6M34.7 8.8h.6M35.7 24.5h.6M39.7 11.2h.6" stroke="#e6dc4a" stroke-width=".6"/><path d="M43.1 14.9h.6M34.5 19.2h.6M38.7 6.6h.6M42.7 11.2h.6M38.7 16.2h.6M40.1 13.8h.6M38.2 17.5h.6M45.4 16h.6M37.7 20.4h.6M34 16.6h.6M34.2 23.9h.6M37.6 15.4h.6M35 10.7h.6M33.3 17h.6" stroke="#808820" stroke-width=".6"/><path d="M34.2 16.2h.6M38.3 22h.6M35 15.6h.6M38.5 5.8h.6M39.1 18.1h.6M35.4 17.7h.6M36.6 20.5h.6M35.4 24.7h.6M38.9 9h.6M36.2 13.8h.6M29.2 20.9h.6M42.6 12.1h.6M34.5 17.7h.6" stroke="#2a8a25" stroke-width=".6"/><path d="M39.8 15.8h.6M40.5 19.3h.6M39.3 7h.6M32.4 15.4h.6M38.4 21.7h.6M40.2 8.6h.6M39.4 8.9h.6M37.1 18.5h.6M43.4 15.5h.6M40.1 15.9h.6M39.6 16.8h.6M40.6 19.7h.6M38.7 15.1h.6M40.7 9.7h.6M38.9 17.9h.6M36.6 8.2h.6M38.3 26h.6M44.2 21.4h.6M39.3 18.7h.6M39.3 9.4h.6M36 10.1h.6M30.7 10.2h.6M40.6 6.3h.6M28 16.3h.6M44.2 18.7h.6M34.4 21.3h.6M40.6 15.7h.6M34.9 10.8h.6M39.8 17.1h.6M38.5 6.6h.6" stroke="#406020" stroke-width=".6"/><path d="M71.6 18.3h.7M66.8 7.8h.7M69.5 10.8h.7M67.6 24h.7M66.1 8.6h.7M72.1 15.3h.7M66.4 18.9h.7M62.2 25.6h.7M66.3 9.8h.7M67.7 15h.7M67 16.1h.7M64.1 13.1h.7M69.5 14.3h.7M71.6 12.3h.7M69.3 19.6h.7" stroke="#2a8a25" stroke-width=".7"/><path d="M68.9 7.2h.7M65.8 22.8h.7M61 24.8h.7M66.9 15h.7M71 10.1h.7M62.2 22.3h.7M67.8 14.5h.7M68.5 14.1h.7M69.1 14.8h.7M70.4 14.9h.7M71.8 10.2h.7M66.1 20.8h.7M63.4 23.3h.7M67.4 16.9h.7M64.6 10.7h.7M70.2 18.6h.7" stroke="#35c0c8" stroke-width=".7"/><path d="M71.2 14.4h.7M72.7 12.9h.7M68.2 17.7h.7M61.5 20.8h.7M69.7 9.3h.7M62.7 25.4h.7M69.8 21.1h.7M69.5 22.6h.7M64.6 26.1h.7M73.3 14.8h.7M67 18.6h.7M62.1 23.6h.7M70.4 18.3h.7M62.1 24.6h.7M67.2 15.3h.7M71.5 19.9h.7M67.3 21.6h.7" stroke="#2060a0" stroke-width=".7"/><path d="M71 14.5h.7M71.5 19.7h.7M64.3 9.9h.7M66.1 18.4h.7M62.9 22.3h.7M70.5 11.3h.7M68.5 15.9h.7M68.9 8.5h.7M67.3 18.9h.7M62.1 22.1h.7M65.4 11h.7M72.7 20.3h.7M70 12.5h.7M70.4 17.4h.7M61.9 22.9h.7M60.7 22.8h.7M68.7 20.4h.7M68 19.3h.7M72.2 16.5h.7M67.8 19.7h.7M71 15.4h.7M68.1 11.1h.7" stroke="#208868" stroke-width=".7"/><circle cx="12.2" cy="16.2" r="10.8" fill="none" stroke="#cfcfc4" stroke-width=".35"/><line x1="11" y1="3.85" x2="13.4" y2="3.85" stroke="#bbb" stroke-width="0.5"/><circle cx="38.6" cy="16.2" r="10.8" fill="none" stroke="#cfcfc4" stroke-width=".35"/><line x1="37.4" y1="3.85" x2="39.8" y2="3.85" stroke="#bbb" stroke-width="0.5"/><circle cx="64.3" cy="16.2" r="10.8" fill="none" stroke="#cfcfc4" stroke-width=".35"/><line x1="63.1" y1="3.85" x2="65.5" y2="3.85" stroke="#bbb" stroke-width="0.5"/></g>
<text x="377.5" y="28.6" font-size="16" font-weight="bold">b</text><path d="M536.17 192.4h3.77M543.7 192.4h15.06M588.88 192.4h7.53M603.94 192.4h3.77M615.23 192.4h3.77M400.06 246.54h3.78M415.19 246.54h3.78M458.07 246.54h7.53M493.35 246.54h7.53M523.47 246.54h7.53M539.93 246.54h3.77M566.29 246.54h7.53M581.35 246.54h7.53M603.94 246.54h7.53M615.23 246.54h3.77M426.54 252.55h7.56M523.47 252.55h7.53M539.93 252.55h3.77M566.29 252.55h7.53M577.58 252.55h11.3M611.47 252.55h7.53M422.75 330.76h7.56M461.84 330.76h3.76M470.76 330.76h3.76M478.29 330.76h3.76M489.59 330.76h3.76M585.11 330.76h3.77M611.47 330.76h3.77M570.05 342.79h3.77M577.58 342.79h3.77M400.06 348.8h3.78M489.59 348.8h3.76M497.12 348.8h3.76M504.65 348.8h3.76M566.29 348.8h7.53M577.58 348.8h3.77M588.88 348.8h7.53M392.5 354.82h7.56M415.19 354.82h3.78M422.75 354.82h3.78M446.79 354.82h3.76M454.31 354.82h7.53M467 354.82h3.76M474.53 354.82h3.76M497.12 354.82h3.76M392.5 360.84h7.56M403.85 360.84h3.78M415.19 360.84h3.78M439.26 360.84h11.29M458.07 360.84h3.76M467 360.84h3.76M392.5 372.87h7.56M403.85 372.87h15.13M422.75 372.87h3.78M435.5 372.87h15.05M454.31 372.87h3.76M467 372.87h11.29M485.82 372.87h3.76M474.53 390.91h3.76M562.52 420.99h3.77M581.35 420.99h3.77M607.7 420.99h3.77" stroke="#a996cd" stroke-width="6.07"/><path d="M403.85 42.01h3.78M426.54 42.01h7.56M439.26 42.01h3.76M450.55 42.01h7.53M467 42.01h11.29M512.18 42.01h3.76M519.71 42.01h3.76M532.4 42.01h7.53M543.7 42.01h7.53M566.29 42.01h7.53M577.58 42.01h3.77M596.41 42.01h3.77M615.23 42.01h3.77M392.5 48.02h3.78M400.06 48.02h7.56M426.54 48.02h7.56M443.02 48.02h3.76M454.31 48.02h3.76M396.28 54.04h11.35M422.75 54.04h3.78M430.32 54.04h3.78M435.5 54.04h3.76M474.53 54.04h3.76M515.94 54.04h7.53M527.24 54.04h3.76M532.4 54.04h3.77M562.52 54.04h3.77M577.58 54.04h11.3M596.41 54.04h11.3M615.23 54.04h3.77M396.28 66.07h7.56M426.54 66.07h7.56M439.26 66.07h3.76M450.55 66.07h7.53M467 66.07h11.29M482.06 66.07h3.76M493.35 66.07h3.76M523.47 66.07h3.76M566.29 66.07h15.06M596.41 66.07h3.77M611.47 66.07h7.53M396.28 78.1h11.35M430.32 78.1h3.78M435.5 78.1h18.81M512.18 78.1h3.76M532.4 78.1h18.83M562.52 78.1h33.89M600.17 78.1h7.53M611.47 78.1h7.53M396.28 84.12h3.78M403.85 84.12h3.78M430.32 84.12h3.78M435.5 84.12h15.05M508.41 84.12h7.53M527.24 84.12h3.76M532.4 84.12h18.83M558.76 84.12h7.53M570.05 84.12h3.77M577.58 84.12h3.77M588.88 84.12h18.83M611.47 84.12h7.53M396.28 90.13h3.78M403.85 90.13h3.78M430.32 90.13h3.78M439.26 90.13h3.76M446.79 90.13h3.76M508.41 90.13h15.06M532.4 90.13h41.42M588.88 90.13h30.12M396.28 96.15h3.78M403.85 96.15h3.78M439.26 96.15h11.29M508.41 96.15h15.06M532.4 96.15h33.89M570.05 96.15h3.77M577.58 96.15h7.53M588.88 96.15h30.12M396.28 102.16h3.78M403.85 102.16h3.78M435.5 102.16h3.76M446.79 102.16h3.76M515.94 102.16h3.76M536.17 102.16h3.77M543.7 102.16h15.06M562.52 102.16h11.3M588.88 102.16h7.53M600.17 102.16h3.77M611.47 102.16h3.77M430.32 108.18h3.78M443.02 108.18h3.76M508.41 108.18h3.76M515.94 108.18h11.29M532.4 108.18h7.53M543.7 108.18h33.89M581.35 108.18h15.06M600.17 108.18h3.77M607.7 108.18h11.3M392.5 114.2h3.78M426.54 114.2h3.78M435.5 114.2h11.29M512.18 114.2h3.76M527.24 114.2h3.76M536.17 114.2h3.77M543.7 114.2h11.3M562.52 114.2h3.77M570.05 114.2h3.77M577.58 114.2h3.77M588.88 114.2h7.53M600.17 114.2h18.83M392.5 120.21h7.56M403.85 120.21h7.56M415.19 120.21h3.78M430.32 120.21h3.78M435.5 120.21h22.58M512.18 120.21h3.76M536.17 120.21h18.83M562.52 120.21h11.3M588.88 120.21h30.12M392.5 126.23h7.56M403.85 126.23h3.78M430.32 126.23h3.78M439.26 126.23h22.58M512.18 126.23h3.76M532.4 126.23h22.59M562.52 126.23h11.3M588.88 126.23h30.12M435.5 132.24h3.76M474.53 132.24h3.76M512.18 132.24h3.76M527.24 132.24h3.76M532.4 132.24h7.53M543.7 132.24h30.12M577.58 132.24h26.36M607.7 132.24h11.3M415.19 138.26h18.91M435.5 138.26h3.76M454.31 138.26h7.53M482.06 138.26h3.76M493.35 138.26h3.76M512.18 138.26h3.76M527.24 138.26h3.76M543.7 138.26h22.59M581.35 138.26h15.06M600.17 138.26h18.83M392.5 144.27h7.56M411.41 144.27h3.78M430.32 144.27h3.78M439.26 144.27h3.76M454.31 144.27h7.53M504.65 144.27h7.53M543.7 144.27h22.59M573.82 144.27h3.77M588.88 144.27h22.59M615.23 144.27h3.77M396.28 156.3h3.78M403.85 156.3h3.78M430.32 156.3h3.78M435.5 156.3h3.76M497.12 156.3h3.76M532.4 156.3h7.53M543.7 156.3h22.59M570.05 156.3h3.77M581.35 156.3h37.65M430.32 162.32h3.78M439.26 162.32h11.29M485.82 162.32h3.76M500.88 162.32h3.76M508.41 162.32h22.59M536.17 162.32h18.83M570.05 162.32h3.77M577.58 162.32h18.83M600.17 162.32h18.83M430.32 168.34h3.78M439.26 168.34h3.76M470.76 168.34h3.76M489.59 168.34h3.76M508.41 168.34h3.76M515.94 168.34h7.53M527.24 168.34h3.76M536.17 168.34h3.77M543.7 168.34h22.59M570.05 168.34h18.83M592.64 168.34h26.36M407.63 186.38h7.56M430.32 186.38h3.78M435.5 186.38h15.05M458.07 186.38h7.53M467 186.38h7.53M485.82 186.38h3.76M497.12 186.38h15.06M515.94 186.38h15.06M536.17 186.38h3.77M543.7 186.38h22.59M600.17 186.38h18.83M446.79 192.4h3.76M508.41 192.4h11.29M558.76 192.4h7.53M581.35 192.4h7.53M596.41 192.4h7.53M607.7 192.4h7.53M430.32 198.41h3.78M508.41 198.41h11.29M523.47 198.41h3.76M536.17 198.41h3.77M543.7 198.41h22.59M573.82 198.41h3.77M581.35 198.41h37.65M411.41 204.43h7.56M430.32 204.43h3.78M439.26 204.43h3.76M485.82 204.43h3.76M493.35 204.43h37.65M536.17 204.43h3.77M543.7 204.43h22.59M570.05 204.43h7.53M581.35 204.43h37.65M392.5 210.45h3.78M403.85 228.49h3.78M470.76 228.49h3.76M400.06 234.51h7.56M411.41 234.51h7.56M422.75 234.51h11.35M458.07 234.51h3.76M485.82 234.51h3.76M500.88 234.51h11.29M519.71 234.51h11.29M536.17 234.51h7.53M547.46 234.51h3.77M558.76 234.51h30.12M592.64 234.51h3.77M600.17 234.51h3.77M607.7 234.51h11.3M430.32 240.52h3.78M500.88 240.52h3.76M508.41 240.52h22.59M536.17 240.52h82.83M403.85 246.54h7.56M426.54 246.54h3.78M611.47 246.54h3.77M396.28 252.55h11.35M443.02 252.55h3.76M474.53 252.55h3.76M493.35 252.55h3.76M508.41 252.55h3.76M519.71 252.55h3.76M536.17 252.55h3.77M543.7 252.55h7.53M562.52 252.55h3.77M573.82 252.55h3.77M596.41 252.55h11.3M482.06 258.57h48.94M536.17 258.57h30.12M581.35 258.57h15.06M600.17 258.57h18.83M482.06 264.59h48.94M536.17 264.59h3.77M543.7 264.59h22.59M573.82 264.59h3.77M581.35 264.59h37.65M415.19 270.6h7.56M482.06 270.6h48.94M536.17 270.6h3.77M543.7 270.6h26.36M573.82 270.6h3.77M581.35 270.6h37.65M478.29 276.62h3.76M493.35 276.62h11.29M508.41 276.62h3.76M515.94 276.62h15.06M536.17 276.62h52.71M592.64 276.62h26.36M407.63 282.63h3.78M415.19 282.63h11.35M467 282.63h3.76M474.53 282.63h7.53M485.82 282.63h22.59M512.18 282.63h3.76M523.47 282.63h7.53M566.29 282.63h22.59M596.41 282.63h3.77M607.7 282.63h11.3M482.06 288.65h7.53M493.35 288.65h37.65M536.17 288.65h3.77M543.7 288.65h22.59M573.82 288.65h3.77M581.35 288.65h37.65M482.06 294.66h11.29M497.12 294.66h33.88M536.17 294.66h3.77M543.7 294.66h22.59M573.82 294.66h3.77M581.35 294.66h37.65M482.06 300.68h48.94M536.17 300.68h3.77M543.7 300.68h22.59M573.82 300.68h3.77M581.35 300.68h37.65M422.75 306.7h3.78M435.5 306.7h3.76M482.06 306.7h48.94M539.93 306.7h79.07M400.06 330.76h3.78M411.41 330.76h7.56M450.55 330.76h7.53M467 330.76h3.76M485.82 330.76h3.76M497.12 330.76h3.76M512.18 330.76h3.76M523.47 330.76h7.53M558.76 330.76h3.77M430.32 342.79h3.78M482.06 342.79h3.76M504.65 342.79h18.82M527.24 342.79h3.76M532.4 342.79h7.53M543.7 342.79h26.36M573.82 342.79h3.77M588.88 342.79h30.12M443.02 348.8h3.76M470.76 348.8h7.53M493.35 348.8h3.76M500.88 348.8h3.76M508.41 348.8h7.53M532.4 348.8h3.77M573.82 348.8h3.77M581.35 348.8h7.53M596.41 348.8h3.77M400.06 354.82h15.13M418.97 354.82h3.78M439.26 354.82h7.53M450.55 354.82h3.76M461.84 354.82h3.76M470.76 354.82h3.76M478.29 354.82h11.29M500.88 354.82h3.76M407.63 360.84h7.56M418.97 360.84h7.56M435.5 360.84h3.76M450.55 360.84h3.76M461.84 360.84h3.76M470.76 360.84h7.53M532.4 360.84h3.77M392.5 366.85h41.6M435.5 366.85h30.1M467 366.85h15.06M485.82 366.85h18.82M523.47 366.85h7.53M607.7 366.85h3.77M400.06 372.87h3.78M418.97 372.87h3.78M426.54 372.87h3.78M450.55 372.87h3.76M458.07 372.87h7.53M478.29 372.87h3.76M489.59 372.87h11.29M392.5 378.88h3.78M407.63 378.88h15.13M426.54 378.88h7.56M435.5 378.88h11.29M450.55 378.88h15.05M467 378.88h18.82M489.59 378.88h18.82M515.94 378.88h15.06M532.4 378.88h3.77M392.5 390.91h15.13M411.41 390.91h7.56M422.75 390.91h7.56M435.5 390.91h7.53M446.79 390.91h18.81M467 390.91h3.76M478.29 390.91h15.06M504.65 390.91h3.76M527.24 390.91h3.76M532.4 390.91h3.77M577.58 390.91h3.77M396.28 396.93h7.56M407.63 396.93h11.35M435.5 396.93h7.53M446.79 396.93h3.76M454.31 396.93h3.76M461.84 396.93h3.76M467 396.93h15.06M485.82 396.93h26.35M523.47 396.93h3.76M532.4 396.93h3.77M539.93 396.93h3.77M551.23 396.93h15.06M596.41 396.93h15.06M392.5 402.95h11.35M407.63 402.95h22.69M435.5 402.95h3.76M461.84 402.95h3.76M467 402.95h3.76M474.53 402.95h33.88M519.71 402.95h3.76M527.24 402.95h3.76M532.4 402.95h7.53M551.23 402.95h11.3M566.29 402.95h11.3M592.64 402.95h7.53M603.94 402.95h3.77M611.47 402.95h7.53M392.5 414.98h3.78M403.85 414.98h3.78M411.41 414.98h3.78M418.97 414.98h3.78M426.54 414.98h3.78M439.26 414.98h3.76M446.79 414.98h11.29M467 414.98h3.76M478.29 414.98h3.76M485.82 414.98h11.29M500.88 414.98h7.53M515.94 414.98h3.76M523.47 414.98h3.76M532.4 414.98h7.53M554.99 414.98h7.53M570.05 414.98h3.77M577.58 414.98h3.77M585.11 414.98h7.53M596.41 414.98h11.3M615.23 414.98h3.77M392.5 420.99h3.78M400.06 420.99h7.56M418.97 420.99h3.78M435.5 420.99h11.29M467 420.99h7.53M478.29 420.99h15.06M500.88 420.99h7.53M519.71 420.99h3.76M573.82 420.99h7.53M585.11 420.99h11.3" stroke="#c6b9dd" stroke-width="6.07"/><path d="M396.28 42.01h3.78M458.07 42.01h3.76M515.94 42.01h3.76M523.47 42.01h7.53M573.82 42.01h3.77M581.35 42.01h7.53M592.64 42.01h3.77M611.47 42.01h3.77M418.97 48.02h3.78M435.5 48.02h3.76M446.79 48.02h3.76M467 48.02h11.29M493.35 48.02h3.76M508.41 48.02h15.06M527.24 48.02h3.76M532.4 48.02h18.83M566.29 48.02h37.65M607.7 48.02h11.3M450.55 54.04h3.76M461.84 54.04h3.76M497.12 54.04h7.53M508.41 54.04h3.76M547.46 54.04h15.06M566.29 54.04h3.77M573.82 54.04h3.77M607.7 54.04h3.77M392.5 60.05h18.91M415.19 60.05h18.91M435.5 60.05h26.34M467 60.05h15.06M485.82 60.05h3.76M500.88 60.05h3.76M508.41 60.05h3.76M515.94 60.05h15.06M532.4 60.05h86.6M443.02 66.07h3.76M458.07 66.07h3.76M497.12 66.07h3.76M536.17 66.07h3.77M551.23 66.07h3.77M562.52 66.07h3.77M607.7 66.07h3.77M392.5 72.09h26.47M422.75 72.09h11.35M435.5 72.09h30.1M467 72.09h11.29M482.06 72.09h7.53M497.12 72.09h33.88M532.4 72.09h86.6M392.5 78.1h3.78M474.53 78.1h3.76M527.24 78.1h3.76M551.23 78.1h11.3M607.7 78.1h3.77M392.5 84.12h3.78M400.06 84.12h3.78M407.63 84.12h3.78M450.55 84.12h3.76M519.71 84.12h3.76M566.29 84.12h3.77M392.5 90.13h3.78M407.63 90.13h3.78M443.02 90.13h3.76M470.76 90.13h3.76M577.58 90.13h7.53M392.5 96.15h3.78M407.63 96.15h3.78M430.32 96.15h3.78M435.5 96.15h3.76M450.55 96.15h3.76M470.76 96.15h7.53M500.88 96.15h7.53M392.5 102.16h3.78M430.32 102.16h3.78M439.26 102.16h7.53M450.55 102.16h3.76M508.41 102.16h7.53M519.71 102.16h3.76M539.93 102.16h3.77M581.35 102.16h7.53M596.41 102.16h3.77M603.94 102.16h7.53M615.23 102.16h3.77M396.28 108.18h7.56M407.63 108.18h3.78M426.54 108.18h3.78M435.5 108.18h3.76M446.79 108.18h7.53M458.07 108.18h3.76M504.65 108.18h3.76M527.24 108.18h3.76M539.93 108.18h3.77M577.58 108.18h3.77M596.41 108.18h3.77M603.94 108.18h3.77M396.28 114.2h3.78M403.85 114.2h7.56M430.32 114.2h3.78M450.55 114.2h11.29M489.59 114.2h3.76M523.47 114.2h3.76M539.93 114.2h3.77M554.99 114.2h7.53M566.29 114.2h3.77M489.59 120.21h3.76M523.47 120.21h7.53M532.4 120.21h3.77M558.76 120.21h3.77M573.82 120.21h7.53M407.63 126.23h3.78M415.19 126.23h3.78M426.54 126.23h3.78M435.5 126.23h3.76M489.59 126.23h3.76M523.47 126.23h7.53M554.99 126.23h7.53M573.82 126.23h7.53M400.06 132.24h3.78M489.59 132.24h3.76M500.88 132.24h3.76M489.59 138.26h3.76M500.88 138.26h7.53M515.94 138.26h11.29M566.29 138.26h3.77M573.82 138.26h3.77M407.63 144.27h3.78M415.19 144.27h3.78M422.75 144.27h7.56M443.02 144.27h11.29M512.18 144.27h3.76M527.24 144.27h3.76M536.17 144.27h3.77M570.05 144.27h3.77M611.47 144.27h3.77M392.5 150.29h7.56M407.63 150.29h3.78M418.97 150.29h15.13M435.5 150.29h18.81M458.07 150.29h7.53M482.06 150.29h3.76M493.35 150.29h37.65M536.17 150.29h82.83M392.5 156.3h3.78M422.75 156.3h7.56M439.26 156.3h3.76M446.79 156.3h7.53M461.84 156.3h3.76M508.41 156.3h22.59M539.93 156.3h3.77M566.29 156.3h3.77M403.85 162.32h3.78M426.54 162.32h3.78M435.5 162.32h3.76M497.12 162.32h3.76M504.65 162.32h3.76M554.99 162.32h3.77M562.52 162.32h3.77M573.82 162.32h3.77M596.41 162.32h3.77M422.75 168.34h3.78M467 168.34h3.76M482.06 168.34h7.53M493.35 168.34h11.29M523.47 168.34h3.76M566.29 168.34h3.77M588.88 168.34h3.77M411.41 174.35h15.13M430.32 174.35h3.78M435.5 174.35h3.76M454.31 174.35h11.29M467 174.35h7.53M478.29 174.35h52.71M532.4 174.35h33.89M570.05 174.35h48.95M407.63 180.37h18.91M430.32 180.37h3.78M435.5 180.37h15.05M454.31 180.37h11.29M467 180.37h7.53M478.29 180.37h52.71M532.4 180.37h86.6M392.5 186.38h3.78M418.97 186.38h3.78M478.29 186.38h7.53M532.4 186.38h3.77M588.88 186.38h11.3M430.32 192.4h3.78M478.29 192.4h3.76M489.59 192.4h3.76M500.88 192.4h3.76M519.71 192.4h3.76M573.82 192.4h3.77M411.41 198.41h3.78M426.54 198.41h3.78M493.35 198.41h3.76M500.88 198.41h3.76M519.71 198.41h3.76M527.24 198.41h3.76M566.29 198.41h7.53M577.58 198.41h3.77M454.31 204.43h3.76M461.84 204.43h3.76M478.29 204.43h3.76M489.59 204.43h3.76M407.63 210.45h7.56M422.75 210.45h3.78M430.32 210.45h3.78M435.5 210.45h3.76M443.02 210.45h7.53M458.07 210.45h7.53M467 210.45h7.53M478.29 210.45h52.71M536.17 210.45h82.83M403.85 216.46h22.69M430.32 216.46h3.78M435.5 216.46h30.1M467 216.46h64M532.4 216.46h67.77M603.94 216.46h15.06M403.85 222.48h3.78M415.19 222.48h18.91M446.79 222.48h3.76M458.07 222.48h7.53M467 222.48h3.76M474.53 222.48h3.76M482.06 222.48h48.94M532.4 222.48h86.6M400.06 228.49h3.78M415.19 228.49h18.91M439.26 228.49h3.76M446.79 228.49h3.76M454.31 228.49h3.76M478.29 228.49h11.29M493.35 228.49h3.76M500.88 228.49h30.12M532.4 228.49h7.53M543.7 228.49h15.06M562.52 228.49h7.53M573.82 228.49h7.53M592.64 228.49h3.77M603.94 228.49h15.06M450.55 234.51h3.76M474.53 234.51h7.53M497.12 234.51h3.76M515.94 234.51h3.76M551.23 234.51h3.77M588.88 234.51h3.77M603.94 234.51h3.77M418.97 240.52h3.78M439.26 240.52h7.53M461.84 240.52h3.76M504.65 240.52h3.76M418.97 246.54h3.78M430.32 246.54h3.78M454.31 246.54h3.76M467 246.54h3.76M485.82 246.54h3.76M519.71 246.54h3.76M592.64 246.54h7.53M450.55 252.55h3.76M461.84 252.55h3.76M515.94 252.55h3.76M551.23 252.55h3.77M588.88 252.55h7.53M607.7 252.55h3.77M403.85 258.57h30.25M454.31 258.57h7.53M478.29 258.57h3.76M566.29 258.57h3.77M573.82 258.57h3.77M596.41 258.57h3.77M415.19 264.59h18.91M478.29 264.59h3.76M539.93 264.59h3.77M566.29 264.59h7.53M577.58 264.59h3.77M411.41 270.6h3.78M422.75 270.6h11.35M478.29 270.6h3.76M570.05 270.6h3.77M577.58 270.6h3.77M407.63 276.62h3.78M415.19 276.62h7.56M426.54 276.62h7.56M482.06 276.62h11.29M504.65 276.62h3.76M512.18 276.62h3.76M588.88 276.62h3.77M400.06 282.63h3.78M411.41 282.63h3.78M426.54 282.63h7.56M532.4 282.63h3.77M551.23 282.63h11.3M603.94 282.63h3.77M430.32 288.65h3.78M446.79 288.65h3.76M458.07 288.65h7.53M478.29 288.65h3.76M489.59 288.65h3.76M539.93 288.65h3.77M570.05 288.65h3.77M577.58 288.65h3.77M411.41 294.66h3.78M430.32 294.66h3.78M461.84 294.66h3.76M493.35 294.66h3.76M411.41 300.68h3.78M430.32 300.68h3.78M458.07 300.68h7.53M478.29 300.68h3.76M539.93 300.68h3.77M570.05 300.68h3.77M430.32 306.7h3.78M458.07 306.7h7.53M478.29 306.7h3.76M536.17 306.7h3.77M392.5 312.71h15.13M411.41 312.71h22.69M435.5 312.71h30.1M467 312.71h11.29M485.82 312.71h3.76M497.12 312.71h7.53M508.41 312.71h22.59M532.4 312.71h86.6M396.28 318.73h11.35M411.41 318.73h3.78M426.54 318.73h7.56M435.5 318.73h11.29M450.55 318.73h3.76M458.07 318.73h7.53M474.53 318.73h3.76M482.06 318.73h7.53M504.65 318.73h26.35M532.4 318.73h86.6M392.5 324.74h3.78M400.06 324.74h7.56M411.41 324.74h22.69M435.5 324.74h3.76M443.02 324.74h22.58M478.29 324.74h3.76M485.82 324.74h30.12M519.71 324.74h11.29M532.4 324.74h7.53M543.7 324.74h41.42M588.88 324.74h30.12M403.85 330.76h3.78M430.32 330.76h3.78M500.88 330.76h3.76M508.41 330.76h3.76M543.7 330.76h3.77M554.99 330.76h3.77M562.52 330.76h7.53M581.35 330.76h3.77M588.88 330.76h3.77M596.41 330.76h3.77M396.28 336.77h11.35M415.19 336.77h3.78M430.32 336.77h3.78M439.26 336.77h15.05M461.84 336.77h3.76M467 336.77h11.29M482.06 336.77h3.76M489.59 336.77h15.06M508.41 336.77h22.59M532.4 336.77h37.65M573.82 336.77h30.12M611.47 336.77h3.77M489.59 342.79h11.29M523.47 342.79h3.76M539.93 342.79h3.77M581.35 342.79h7.53M450.55 348.8h3.76M461.84 348.8h3.76M467 348.8h3.76M482.06 348.8h3.76M515.94 348.8h3.76M536.17 348.8h3.77M426.54 354.82h3.78M489.59 354.82h7.53M554.99 354.82h7.53M577.58 354.82h3.77M400.06 360.84h3.78M426.54 360.84h3.78M482.06 360.84h7.53M539.93 360.84h3.77M482.06 366.85h3.76M504.65 366.85h3.76M551.23 366.85h7.53M615.23 366.85h3.77M482.06 372.87h3.76M500.88 372.87h7.53M519.71 372.87h7.53M532.4 372.87h3.77M396.28 378.88h3.78M403.85 378.88h3.78M446.79 378.88h3.76M485.82 378.88h3.76M558.76 378.88h3.77M611.47 378.88h7.53M392.5 384.9h41.6M435.5 384.9h30.1M467 384.9h15.06M485.82 384.9h45.18M539.93 384.9h79.07M418.97 390.91h3.78M443.02 390.91h3.76M470.76 390.91h3.76M493.35 390.91h7.53M566.29 390.91h3.77M566.29 396.93h3.77M577.58 396.93h3.77M588.88 396.93h3.77M446.79 402.95h7.53M577.58 402.95h3.77M607.7 402.95h3.77M392.5 408.96h41.6M435.5 408.96h30.1M467 408.96h41.41M519.71 408.96h11.29M532.4 408.96h86.6M400.06 414.98h3.78M443.02 414.98h3.76M581.35 414.98h3.77M592.64 414.98h3.77M607.7 414.98h3.77M446.79 420.99h3.76M458.07 420.99h7.53M493.35 420.99h3.76M570.05 420.99h3.77M596.41 420.99h3.77" stroke="#e2ddee" stroke-width="6.07"/><path d="M400.06 42.01h3.78M407.63 42.01h3.78M443.02 42.01h3.76M461.84 42.01h3.76M600.17 42.01h3.77M407.63 48.02h3.78M415.19 48.02h3.78M422.75 48.02h3.78M439.26 48.02h3.76M450.55 48.02h3.76M482.06 48.02h3.76M489.59 48.02h3.76M504.65 48.02h3.76M603.94 48.02h3.77M439.26 54.04h3.76M446.79 54.04h3.76M454.31 54.04h7.53M470.76 54.04h3.76M536.17 54.04h3.77M543.7 54.04h3.77M611.47 54.04h3.77M392.5 66.07h3.78M407.63 66.07h3.78M446.79 66.07h3.76M504.65 66.07h3.76M527.24 66.07h3.76M554.99 66.07h3.77M581.35 66.07h11.3M493.35 72.09h3.76M407.63 78.1h3.78M426.54 78.1h3.78M470.76 78.1h3.76M508.41 78.1h3.76M523.47 78.1h3.76M596.41 78.1h3.77M418.97 84.12h3.78M426.54 84.12h3.78M551.23 84.12h3.77M581.35 84.12h7.53M607.7 84.12h3.77M435.5 90.13h3.76M450.55 90.13h3.76M467 90.13h3.76M474.53 90.13h3.76M500.88 90.13h7.53M585.11 90.13h3.77M400.06 96.15h3.78M497.12 96.15h3.76M585.11 96.15h3.77M400.06 102.16h3.78M418.97 102.16h3.78M470.76 102.16h3.76M500.88 102.16h7.53M532.4 102.16h3.77M558.76 102.16h3.77M577.58 102.16h3.77M403.85 108.18h3.78M415.19 108.18h3.78M439.26 108.18h3.76M474.53 108.18h3.76M446.79 114.2h3.76M504.65 114.2h7.53M519.71 114.2h3.76M532.4 114.2h3.77M573.82 114.2h3.77M585.11 114.2h3.77M596.41 114.2h3.77M422.75 120.21h7.56M458.07 120.21h3.76M482.06 120.21h3.76M508.41 120.21h3.76M554.99 120.21h3.77M504.65 126.23h7.53M581.35 126.23h7.53M403.85 132.24h3.78M443.02 132.24h3.76M450.55 132.24h3.76M478.29 132.24h3.76M515.94 132.24h3.76M573.82 132.24h3.77M403.85 138.26h7.56M443.02 138.26h3.76M450.55 138.26h3.76M508.41 138.26h3.76M403.85 144.27h3.78M485.82 144.27h3.76M519.71 144.27h7.53M539.93 144.27h3.77M581.35 144.27h7.53M403.85 150.29h3.78M443.02 156.3h3.76M489.59 156.3h3.76M504.65 156.3h3.76M400.06 162.32h3.78M411.41 162.32h3.78M418.97 162.32h3.78M450.55 162.32h3.76M461.84 162.32h3.76M558.76 162.32h3.77M566.29 162.32h3.77M443.02 168.34h7.53M532.4 168.34h3.77M426.54 174.35h3.78M443.02 174.35h7.53M566.29 174.35h3.77M426.54 180.37h3.78M512.18 186.38h3.76M573.82 186.38h3.77M585.11 186.38h3.77M407.63 192.4h3.78M470.76 192.4h3.76M482.06 192.4h3.76M493.35 192.4h3.76M527.24 192.4h3.76M570.05 192.4h3.77M415.19 198.41h3.78M458.07 198.41h3.76M485.82 198.41h3.76M497.12 198.41h3.76M504.65 198.41h3.76M422.75 204.43h3.78M403.85 210.45h3.78M426.54 210.45h3.78M435.5 222.48h3.76M478.29 222.48h3.76M435.5 228.49h3.76M458.07 228.49h3.76M489.59 228.49h3.76M497.12 228.49h3.76M539.93 228.49h3.77M588.88 228.49h3.77M600.17 228.49h3.77M454.31 234.51h3.76M512.18 234.51h3.76M543.7 234.51h3.77M554.99 234.51h3.77M403.85 240.52h3.78M411.41 240.52h7.56M426.54 240.52h3.78M454.31 240.52h3.76M467 240.52h3.76M482.06 240.52h3.76M493.35 240.52h3.76M396.28 246.54h3.78M443.02 246.54h3.76M532.4 246.54h3.77M551.23 246.54h3.77M558.76 246.54h7.53M573.82 246.54h3.77M588.88 246.54h3.77M600.17 246.54h3.77M458.07 252.55h3.76M512.18 252.55h3.76M570.05 258.57h3.77M577.58 258.57h3.77M407.63 264.59h7.56M461.84 264.59h3.76M400.06 270.6h3.78M407.63 270.6h3.78M461.84 270.6h3.76M539.93 270.6h3.77M400.06 276.62h3.78M422.75 276.62h3.78M435.5 276.62h3.76M461.84 276.62h3.76M403.85 282.63h3.78M454.31 282.63h11.29M482.06 282.63h3.76M508.41 282.63h3.76M515.94 282.63h7.53M539.93 282.63h3.77M562.52 282.63h3.77M592.64 282.63h3.77M411.41 288.65h7.56M435.5 294.66h3.76M458.07 294.66h3.76M539.93 294.66h3.77M570.05 294.66h3.77M467 300.68h3.76M577.58 300.68h3.77M400.06 306.7h3.78M418.97 306.7h3.78M426.54 306.7h3.78M443.02 306.7h3.76M392.5 318.73h3.78M415.19 318.73h3.78M470.76 318.73h3.76M497.12 318.73h3.76M539.93 324.74h3.77M392.5 330.76h3.78M435.5 330.76h3.76M482.06 330.76h3.76M600.17 330.76h3.77M392.5 336.77h3.78M426.54 336.77h3.78M435.5 336.77h3.76M485.82 336.77h3.76M504.65 336.77h3.76M570.05 336.77h3.77M603.94 336.77h3.77M615.23 336.77h3.77M418.97 342.79h3.78M435.5 342.79h3.76M461.84 342.79h3.76M500.88 342.79h3.76M415.19 348.8h3.78M439.26 348.8h3.76M478.29 348.8h3.76M547.46 348.8h3.77M600.17 348.8h11.3M615.23 348.8h3.77M435.5 354.82h3.76M551.23 354.82h3.77M603.94 354.82h7.53M454.31 360.84h3.76M547.46 360.84h3.77M554.99 360.84h7.53M600.17 360.84h3.77M519.71 366.85h3.76M532.4 366.85h3.77M603.94 366.85h3.77M611.47 366.85h3.77M430.32 372.87h3.78M527.24 372.87h3.76M400.06 378.88h3.78M422.75 378.88h3.78M508.41 378.88h3.76M554.99 378.88h3.77M577.58 378.88h3.77M532.4 384.9h3.77M430.32 390.91h3.78M523.47 390.91h3.76M539.93 390.91h3.77M581.35 390.91h3.77M392.5 396.93h3.78M403.85 396.93h3.78M422.75 396.93h7.56M458.07 396.93h3.76M519.71 396.93h3.76M585.11 396.93h3.77M592.64 396.93h3.77M430.32 402.95h3.78M443.02 402.95h3.76M547.46 402.95h3.77M600.17 402.95h3.77M461.84 414.98h3.76M474.53 414.98h3.76M573.82 414.98h3.77M611.47 414.98h3.77M426.54 420.99h3.78M497.12 420.99h3.76M515.94 420.99h3.76M536.17 420.99h7.53M551.23 420.99h7.53" stroke="#f2eff3" stroke-width="6.07"/><path d="M392.5 42.01h3.78M418.97 42.01h3.78M435.5 42.01h3.76M478.29 42.01h3.76M500.88 42.01h11.29M539.93 42.01h3.77M588.88 42.01h3.77M603.94 42.01h3.77M458.07 48.02h7.53M523.47 48.02h3.76M562.52 48.02h3.77M392.5 54.04h3.78M426.54 54.04h3.78M443.02 54.04h3.76M467 54.04h3.76M489.59 54.04h7.53M504.65 54.04h3.76M512.18 54.04h3.76M570.05 54.04h3.77M489.59 60.05h7.53M403.85 66.07h3.78M422.75 66.07h3.78M461.84 66.07h3.76M478.29 66.07h3.76M508.41 66.07h3.76M532.4 66.07h3.77M543.7 66.07h3.77M558.76 66.07h3.77M592.64 66.07h3.77M600.17 66.07h7.53M489.59 72.09h3.76M415.19 78.1h3.78M454.31 78.1h7.53M467 78.1h3.76M515.94 78.1h7.53M411.41 84.12h7.56M422.75 84.12h3.78M454.31 84.12h3.76M470.76 84.12h7.53M500.88 84.12h3.76M515.94 84.12h3.76M523.47 84.12h3.76M554.99 84.12h3.77M400.06 90.13h3.78M411.41 90.13h3.78M458.07 90.13h7.53M497.12 90.13h3.76M523.47 90.13h3.76M573.82 90.13h3.77M422.75 96.15h3.78M454.31 96.15h11.29M467 96.15h3.76M566.29 96.15h3.77M407.63 102.16h3.78M458.07 102.16h7.53M467 102.16h3.76M474.53 102.16h3.76M523.47 102.16h7.53M573.82 102.16h3.77M392.5 108.18h3.78M454.31 108.18h3.76M400.06 114.2h3.78M411.41 114.2h7.56M422.75 114.2h3.78M461.84 114.2h3.76M474.53 114.2h3.76M482.06 114.2h7.53M493.35 114.2h11.29M515.94 114.2h3.76M581.35 114.2h3.77M400.06 120.21h3.78M418.97 120.21h3.78M485.82 120.21h3.76M493.35 120.21h3.76M504.65 120.21h3.76M581.35 120.21h7.53M400.06 126.23h3.78M411.41 126.23h3.78M418.97 126.23h7.56M482.06 126.23h7.53M500.88 126.23h3.76M392.5 132.24h7.56M407.63 132.24h3.78M415.19 132.24h7.56M426.54 132.24h3.78M454.31 132.24h7.53M482.06 132.24h7.53M493.35 132.24h7.53M504.65 132.24h7.53M519.71 132.24h3.76M603.94 132.24h3.77M392.5 138.26h7.56M439.26 138.26h3.76M446.79 138.26h3.76M474.53 138.26h3.76M485.82 138.26h3.76M497.12 138.26h3.76M532.4 138.26h3.77M539.93 138.26h3.77M570.05 138.26h3.77M577.58 138.26h3.77M596.41 138.26h3.77M400.06 144.27h3.78M418.97 144.27h3.78M435.5 144.27h3.76M478.29 144.27h7.53M489.59 144.27h3.76M500.88 144.27h3.76M515.94 144.27h3.76M566.29 144.27h3.77M400.06 150.29h3.78M454.31 150.29h3.76M478.29 150.29h3.76M485.82 150.29h3.76M400.06 156.3h3.78M418.97 156.3h3.78M454.31 156.3h3.76M482.06 156.3h7.53M493.35 156.3h3.76M500.88 156.3h3.76M396.28 162.32h3.78M422.75 162.32h3.78M478.29 162.32h3.76M489.59 162.32h3.76M532.4 162.32h3.77M418.97 168.34h3.78M454.31 168.34h11.29M474.53 168.34h7.53M504.65 168.34h3.76M512.18 168.34h3.76M539.93 168.34h3.77M407.63 174.35h3.78M392.5 180.37h3.78M396.28 186.38h3.78M489.59 186.38h7.53M539.93 186.38h3.77M570.05 186.38h3.77M581.35 186.38h3.77M411.41 192.4h3.78M418.97 192.4h7.56M435.5 192.4h7.53M454.31 192.4h11.29M467 192.4h3.76M485.82 192.4h3.76M497.12 192.4h3.76M504.65 192.4h3.76M539.93 192.4h3.77M577.58 192.4h3.77M396.28 198.41h3.78M407.63 198.41h3.78M422.75 198.41h3.78M439.26 198.41h11.29M454.31 198.41h3.76M461.84 198.41h3.76M467 198.41h7.53M478.29 198.41h7.53M489.59 198.41h3.76M407.63 204.43h3.78M418.97 204.43h3.78M426.54 204.43h3.78M443.02 204.43h7.53M458.07 204.43h3.76M467 204.43h7.53M566.29 204.43h3.77M577.58 204.43h3.77M418.97 210.45h3.78M439.26 210.45h3.76M600.17 216.46h3.77M407.63 222.48h7.56M411.41 228.49h3.78M443.02 228.49h3.76M467 228.49h3.76M474.53 228.49h3.76M558.76 228.49h3.77M570.05 228.49h3.77M581.35 228.49h3.77M596.41 228.49h3.77M392.5 234.51h3.78M418.97 234.51h3.78M439.26 234.51h7.53M461.84 234.51h3.76M467 234.51h3.76M493.35 234.51h3.76M532.4 234.51h3.77M596.41 234.51h3.77M422.75 240.52h3.78M446.79 240.52h7.53M470.76 240.52h7.53M485.82 240.52h7.53M497.12 240.52h3.76M411.41 246.54h3.78M446.79 246.54h7.53M470.76 246.54h7.53M500.88 246.54h15.06M543.7 246.54h7.53M554.99 246.54h3.77M411.41 252.55h7.56M422.75 252.55h3.78M439.26 252.55h3.76M446.79 252.55h3.76M470.76 252.55h3.76M489.59 252.55h3.76M532.4 252.55h3.77M554.99 252.55h7.53M461.84 258.57h3.76M467 258.57h3.76M532.4 258.57h3.77M400.06 264.59h7.56M454.31 264.59h7.53M532.4 264.59h3.77M403.85 270.6h3.78M454.31 270.6h7.53M474.53 270.6h3.76M532.4 270.6h3.77M403.85 276.62h3.78M411.41 276.62h3.78M454.31 276.62h3.76M474.53 276.62h3.76M532.4 276.62h3.77M450.55 282.63h3.76M470.76 282.63h3.76M536.17 282.63h3.77M543.7 282.63h7.53M588.88 282.63h3.77M600.17 282.63h3.77M392.5 288.65h3.78M407.63 288.65h3.78M418.97 288.65h11.35M435.5 288.65h3.76M454.31 288.65h3.76M467 288.65h7.53M532.4 288.65h3.77M566.29 288.65h3.77M418.97 294.66h7.56M443.02 294.66h7.53M467 294.66h7.53M478.29 294.66h3.76M532.4 294.66h3.77M566.29 294.66h3.77M577.58 294.66h3.77M407.63 300.68h3.78M418.97 300.68h11.35M435.5 300.68h3.76M443.02 300.68h7.53M470.76 300.68h3.76M532.4 300.68h3.77M566.29 300.68h3.77M407.63 306.7h7.56M450.55 306.7h3.76M470.76 306.7h3.76M489.59 312.71h3.76M504.65 312.71h3.76M422.75 318.73h3.78M454.31 318.73h3.76M489.59 318.73h7.53M500.88 318.73h3.76M439.26 324.74h3.76M482.06 324.74h3.76M396.28 330.76h3.78M418.97 330.76h3.78M458.07 330.76h3.76M515.94 330.76h7.53M532.4 330.76h3.77M539.93 330.76h3.77M547.46 330.76h3.77M570.05 330.76h3.77M577.58 330.76h3.77M607.7 330.76h3.77M615.23 330.76h3.77M418.97 336.77h7.56M478.29 336.77h3.76M607.7 336.77h3.77M426.54 342.79h3.78M450.55 342.79h3.76M467 342.79h3.76M474.53 342.79h7.53M485.82 342.79h3.76M418.97 348.8h3.78M426.54 348.8h3.78M454.31 348.8h7.53M485.82 348.8h3.76M519.71 348.8h11.29M539.93 348.8h7.53M551.23 348.8h11.3M611.47 348.8h3.77M430.32 354.82h3.78M504.65 354.82h18.82M539.93 354.82h3.77M562.52 354.82h3.77M573.82 354.82h3.77M585.11 354.82h3.77M596.41 354.82h7.53M430.32 360.84h3.78M478.29 360.84h3.76M489.59 360.84h11.29M504.65 360.84h15.06M536.17 360.84h3.77M543.7 360.84h3.77M551.23 360.84h3.77M562.52 360.84h11.3M596.41 360.84h3.77M603.94 360.84h7.53M508.41 366.85h11.29M558.76 366.85h7.53M577.58 366.85h3.77M588.88 366.85h15.06M508.41 372.87h11.29M551.23 372.87h3.77M603.94 372.87h15.06M512.18 378.88h3.76M547.46 378.88h3.77M562.52 378.88h3.77M573.82 378.88h3.77M596.41 378.88h3.77M603.94 378.88h7.53M512.18 390.91h3.76M519.71 390.91h3.76M551.23 390.91h15.06M570.05 390.91h7.53M585.11 390.91h15.06M607.7 390.91h11.3M450.55 396.93h3.76M482.06 396.93h3.76M512.18 396.93h3.76M570.05 396.93h7.53M454.31 402.95h3.76M396.28 414.98h3.78M415.19 414.98h3.78M422.75 414.98h3.78M430.32 414.98h3.78M458.07 414.98h3.76M470.76 414.98h3.76M482.06 414.98h3.76M543.7 414.98h3.77M415.19 420.99h3.78M422.75 420.99h3.78M430.32 420.99h3.78M450.55 420.99h3.76M523.47 420.99h3.76M532.4 420.99h3.77M558.76 420.99h3.77M566.29 420.99h3.77M600.17 420.99h7.53M611.47 420.99h7.53" stroke="#fad5ca" stroke-width="6.07"/><path d="M411.41 42.01h3.78M422.75 42.01h3.78M446.79 42.01h3.76M482.06 42.01h18.82M551.23 42.01h15.06M607.7 42.01h3.77M396.28 48.02h3.78M411.41 48.02h3.78M485.82 48.02h3.76M497.12 48.02h3.76M407.63 54.04h3.78M418.97 54.04h3.78M478.29 54.04h11.29M523.47 54.04h3.76M539.93 54.04h3.77M588.88 54.04h7.53M411.41 66.07h7.56M435.5 66.07h3.76M500.88 66.07h3.76M512.18 66.07h3.76M519.71 66.07h3.76M539.93 66.07h3.77M547.46 66.07h3.77M411.41 78.1h3.78M418.97 78.1h7.56M461.84 78.1h3.76M478.29 78.1h3.76M485.82 78.1h11.29M500.88 78.1h3.76M458.07 84.12h7.53M467 84.12h3.76M478.29 84.12h3.76M493.35 84.12h7.53M573.82 84.12h3.77M415.19 90.13h11.35M454.31 90.13h3.76M478.29 90.13h7.53M527.24 90.13h3.76M411.41 96.15h11.35M478.29 96.15h7.53M523.47 96.15h7.53M573.82 96.15h3.77M411.41 102.16h3.78M422.75 102.16h7.56M454.31 102.16h3.76M482.06 102.16h3.76M497.12 102.16h3.76M467 108.18h7.53M478.29 108.18h22.59M478.29 114.2h3.76M411.41 120.21h3.78M474.53 120.21h7.53M497.12 120.21h7.53M519.71 120.21h3.76M474.53 126.23h3.76M493.35 126.23h7.53M515.94 126.23h7.53M411.41 132.24h3.78M422.75 132.24h3.78M430.32 132.24h3.78M439.26 132.24h3.76M461.84 132.24h3.76M470.76 132.24h3.76M523.47 132.24h3.76M539.93 132.24h3.77M411.41 138.26h3.78M478.29 138.26h3.76M536.17 138.26h3.77M461.84 144.27h3.76M474.53 144.27h3.76M493.35 144.27h7.53M489.59 150.29h3.76M407.63 156.3h3.78M458.07 156.3h3.76M474.53 156.3h7.53M573.82 156.3h7.53M454.31 162.32h7.53M470.76 162.32h7.53M493.35 162.32h3.76M392.5 168.34h3.78M400.06 168.34h3.78M407.63 168.34h7.56M426.54 168.34h3.78M392.5 174.35h3.78M439.26 174.35h3.76M474.53 174.35h3.76M474.53 180.37h3.76M415.19 186.38h3.78M422.75 186.38h7.56M454.31 186.38h3.76M474.53 186.38h3.76M392.5 192.4h7.56M415.19 192.4h3.78M443.02 192.4h3.76M523.47 192.4h3.76M532.4 192.4h3.77M566.29 192.4h3.77M392.5 198.41h3.78M403.85 198.41h3.78M418.97 198.41h3.78M532.4 198.41h3.77M539.93 198.41h3.77M392.5 204.43h7.56M435.5 204.43h3.76M482.06 204.43h3.76M539.93 204.43h3.77M450.55 210.45h3.76M474.53 210.45h3.76M532.4 210.45h3.77M450.55 222.48h7.53M470.76 222.48h3.76M396.28 228.49h3.78M407.63 228.49h3.78M450.55 228.49h3.76M585.11 228.49h3.77M396.28 234.51h3.78M482.06 234.51h3.76M489.59 234.51h3.76M392.5 240.52h11.35M458.07 240.52h3.76M478.29 240.52h3.76M422.75 246.54h3.78M435.5 246.54h7.53M478.29 246.54h3.76M489.59 246.54h3.76M515.94 246.54h3.76M536.17 246.54h3.77M577.58 246.54h3.77M392.5 252.55h3.78M407.63 252.55h3.78M418.97 252.55h3.78M435.5 252.55h3.76M454.31 252.55h3.76M478.29 252.55h11.29M497.12 252.55h3.76M504.65 252.55h3.76M392.5 258.57h11.35M435.5 258.57h3.76M450.55 258.57h3.76M470.76 258.57h7.53M396.28 264.59h3.78M435.5 264.59h3.76M450.55 264.59h3.76M467 264.59h11.29M396.28 270.6h3.78M435.5 270.6h3.76M450.55 270.6h3.76M467 270.6h7.53M392.5 276.62h7.56M450.55 276.62h3.76M458.07 276.62h3.76M467 276.62h3.76M396.28 282.63h3.78M439.26 288.65h7.53M450.55 288.65h3.76M400.06 294.66h3.78M407.63 294.66h3.78M415.19 294.66h3.78M426.54 294.66h3.78M439.26 294.66h3.76M450.55 294.66h7.53M474.53 294.66h3.76M400.06 300.68h3.78M415.19 300.68h3.78M439.26 300.68h3.76M450.55 300.68h7.53M474.53 300.68h3.76M396.28 306.7h3.78M415.19 306.7h3.78M454.31 306.7h3.76M467 306.7h3.76M474.53 306.7h3.76M532.4 306.7h3.77M482.06 312.71h3.76M493.35 312.71h3.76M446.79 318.73h3.76M467 318.73h3.76M478.29 318.73h3.76M396.28 324.74h3.78M467 324.74h3.76M439.26 330.76h3.76M446.79 330.76h3.76M474.53 330.76h3.76M493.35 330.76h3.76M504.65 330.76h3.76M536.17 330.76h3.77M551.23 330.76h3.77M573.82 330.76h3.77M592.64 330.76h3.77M603.94 330.76h3.77M392.5 342.79h15.13M411.41 342.79h7.56M422.75 342.79h3.78M439.26 342.79h3.76M446.79 342.79h3.76M458.07 342.79h3.76M470.76 342.79h3.76M396.28 348.8h3.78M403.85 348.8h3.78M411.41 348.8h3.78M430.32 348.8h3.78M562.52 348.8h3.77M523.47 354.82h3.76M532.4 354.82h7.53M543.7 354.82h7.53M566.29 354.82h7.53M588.88 354.82h7.53M500.88 360.84h3.76M519.71 360.84h11.29M573.82 360.84h7.53M588.88 360.84h7.53M611.47 360.84h7.53M536.17 366.85h3.77M543.7 366.85h7.53M536.17 372.87h15.06M554.99 372.87h15.06M573.82 372.87h30.12M539.93 378.88h7.53M551.23 378.88h3.77M600.17 378.88h3.77M407.63 390.91h3.78M500.88 390.91h3.76M508.41 390.91h3.76M515.94 390.91h3.76M600.17 390.91h7.53M418.97 396.93h3.78M443.02 396.93h3.76M515.94 396.93h3.76M527.24 396.93h3.76M543.7 396.93h3.77M611.47 396.93h3.77M403.85 402.95h3.78M439.26 402.95h3.76M458.07 402.95h3.76M512.18 402.95h3.76M523.47 402.95h3.76M539.93 402.95h3.77M562.52 402.95h3.77M588.88 402.95h3.77M515.94 408.96h3.76M407.63 414.98h3.78M435.5 414.98h3.76M497.12 414.98h3.76M512.18 414.98h3.76M527.24 414.98h3.76M539.93 414.98h3.77M551.23 414.98h3.77M566.29 414.98h3.77M454.31 420.99h3.76M474.53 420.99h3.76M512.18 420.99h3.76M527.24 420.99h3.76" stroke="#f5a993" stroke-width="6.07"/><path d="M415.19 42.01h3.78M478.29 48.02h3.76M500.88 48.02h3.76M554.99 48.02h7.53M415.19 54.04h3.78M411.41 60.05h3.78M461.84 60.05h3.76M497.12 60.05h3.76M512.18 60.05h3.76M418.97 66.07h3.78M485.82 66.07h7.53M482.06 78.1h3.76M497.12 78.1h3.76M504.65 78.1h3.76M482.06 84.12h11.29M504.65 84.12h3.76M485.82 90.13h11.29M485.82 96.15h11.29M415.19 102.16h3.78M478.29 102.16h3.76M485.82 102.16h11.29M411.41 108.18h3.78M418.97 108.18h7.56M461.84 108.18h3.76M500.88 108.18h3.76M512.18 108.18h3.76M418.97 114.2h3.78M470.76 114.2h3.76M467 120.21h7.53M515.94 120.21h3.76M461.84 126.23h3.76M470.76 126.23h3.76M478.29 126.23h3.76M467 132.24h3.76M400.06 138.26h3.78M461.84 138.26h3.76M470.76 144.27h3.76M532.4 144.27h3.77M577.58 144.27h3.77M411.41 150.29h7.56M470.76 150.29h7.53M411.41 156.3h7.56M467 156.3h7.53M392.5 162.32h3.78M407.63 162.32h3.78M415.19 162.32h3.78M467 162.32h3.76M482.06 162.32h3.76M415.19 168.34h3.78M435.5 168.34h3.76M450.55 168.34h3.76M400.06 174.35h3.78M400.06 180.37h3.78M403.85 186.38h3.78M450.55 186.38h3.76M566.29 186.38h3.77M577.58 186.38h3.77M400.06 192.4h7.56M426.54 192.4h3.78M450.55 192.4h3.76M474.53 192.4h3.76M400.06 198.41h3.78M435.5 198.41h3.76M450.55 198.41h3.76M474.53 198.41h3.76M400.06 204.43h7.56M450.55 204.43h3.76M532.4 204.43h3.77M400.06 210.45h3.78M415.19 210.45h3.78M392.5 216.46h3.78M400.06 216.46h3.78M396.28 222.48h7.56M439.26 222.48h7.53M461.84 228.49h3.76M407.63 234.51h3.78M446.79 234.51h3.76M407.63 240.52h3.78M392.5 246.54h3.78M482.06 246.54h3.76M467 252.55h3.76M500.88 252.55h3.76M392.5 264.59h3.78M439.26 264.59h7.53M392.5 270.6h3.78M439.26 270.6h11.29M443.02 276.62h7.53M470.76 276.62h3.76M392.5 282.63h3.78M435.5 282.63h3.76M443.02 282.63h3.76M396.28 288.65h7.56M474.53 288.65h3.76M392.5 294.66h7.56M403.85 294.66h3.78M392.5 300.68h7.56M392.5 306.7h3.78M403.85 306.7h3.78M446.79 306.7h3.76M470.76 324.74h3.76M585.11 324.74h3.77M443.02 330.76h3.76M454.31 336.77h7.53M443.02 342.79h3.76M454.31 342.79h3.76M392.5 348.8h3.78M407.63 348.8h3.78M422.75 348.8h3.78M446.79 348.8h3.76M527.24 354.82h3.76M581.35 354.82h3.77M611.47 354.82h7.53M581.35 360.84h7.53M539.93 366.85h3.77M566.29 366.85h3.77M573.82 366.85h3.77M581.35 366.85h7.53M570.05 372.87h3.77M536.17 378.88h3.77M566.29 378.88h7.53M581.35 378.88h15.06M482.06 384.9h3.76M536.17 390.91h3.77M536.17 396.93h3.77M581.35 396.93h3.77M615.23 396.93h3.77M470.76 402.95h3.76M508.41 402.95h3.76M515.94 402.95h3.76M543.7 402.95h3.77M581.35 402.95h7.53M508.41 414.98h3.76M519.71 414.98h3.76M547.46 414.98h3.77M562.52 414.98h3.77M396.28 420.99h3.78M411.41 420.99h3.78M508.41 420.99h3.76M543.7 420.99h7.53" stroke="#ee634a" stroke-width="6.07"/><path d="M551.23 48.02h3.77M411.41 54.04h3.78M482.06 60.05h3.76M504.65 60.05h3.76M515.94 66.07h3.76M418.97 72.09h3.78M478.29 72.09h3.76M426.54 90.13h3.78M426.54 96.15h3.78M467 114.2h3.76M461.84 120.21h3.76M467 126.23h3.76M446.79 132.24h3.76M467 138.26h7.53M467 144.27h3.76M467 150.29h3.76M532.4 150.29h3.77M396.28 168.34h3.78M403.85 168.34h3.78M396.28 174.35h3.78M403.85 174.35h3.78M450.55 174.35h3.76M396.28 180.37h3.78M403.85 180.37h3.78M450.55 180.37h3.76M400.06 186.38h3.78M474.53 204.43h3.76M396.28 210.45h3.78M454.31 210.45h3.76M396.28 216.46h3.78M426.54 216.46h3.78M392.5 222.48h3.78M392.5 228.49h3.78M435.5 234.51h3.76M470.76 234.51h3.76M435.5 240.52h3.76M532.4 240.52h3.77M439.26 258.57h11.29M446.79 264.59h3.76M439.26 276.62h3.76M439.26 282.63h3.76M446.79 282.63h3.76M403.85 288.65h3.78M403.85 300.68h3.78M439.26 306.7h3.76M407.63 312.71h3.78M478.29 312.71h3.76M407.63 318.73h3.78M418.97 318.73h3.78M407.63 324.74h3.78M474.53 324.74h3.76M515.94 324.74h3.76M407.63 330.76h3.78M407.63 336.77h7.56M407.63 342.79h3.78M435.5 348.8h3.76M570.05 366.85h3.77M536.17 384.9h3.77M543.7 390.91h7.53M430.32 396.93h3.78M547.46 396.93h3.77M508.41 408.96h7.53M407.63 420.99h3.78" stroke="#e21e19" stroke-width="6.07"/><rect x="392.5" y="32.2" width="41.6" height="5.3" fill="#2ea54a"/><rect x="435.5" y="32.2" width="30.1" height="5.3" fill="#1f2d88"/><rect x="467" y="32.2" width="64" height="5.3" fill="#2a993d"/><rect x="532.4" y="32.2" width="86.6" height="5.3" fill="#2c7b3b"/><text x="620.7" y="36.4" font-size="4.3">bar</text><text x="420" y="16.5" font-size="7.1" text-anchor="middle">CD3</text><text x="457.5" y="16.5" font-size="7.1" text-anchor="middle">CD20</text><text x="508" y="16.5" font-size="7.1" text-anchor="middle">Other</text><text x="584.7" y="16.5" font-size="7.1" text-anchor="middle">PanCK</text><path d="M413.3 31.5L413.3 30.5M417.1 31.5L417.1 30.5M413.3 30.5L417.1 30.5M420.9 31.5L420.9 30.3M424.6 31.5L424.6 30.3M420.9 30.3L424.6 30.3M398.2 31.5L398.2 29.8M402 31.5L402 29.8M398.2 29.8L402 29.8M394.4 31.5L394.4 29.5M400.1 29.8L400.1 29.5M394.4 29.5L400.1 29.5M397.2 29.5L397.2 28.7M405.7 31.5L405.7 28.7M397.2 28.7L405.7 28.7M409.5 31.5L409.5 28.5M415.2 30.5L415.2 28.5M409.5 28.5L415.2 28.5M428.4 31.5L428.4 27.6M432.2 31.5L432.2 27.6M428.4 27.6L432.2 27.6M401.5 28.7L401.5 27.1M412.4 28.5L412.4 27.1M401.5 27.1L412.4 27.1M422.8 30.3L422.8 26.3M430.3 27.6L430.3 26.3M422.8 26.3L430.3 26.3M406.9 27.1L406.9 24.6M426.5 26.3L426.5 24.6M406.9 24.6L426.5 24.6M456.2 31.5L456.2 30.4M460 31.5L460 30.4M456.2 30.4L460 30.4M437.4 31.5L437.4 29.9M441.1 31.5L441.1 29.9M437.4 29.9L441.1 29.9M452.4 31.5L452.4 29.4M458.1 30.4L458.1 29.4M452.4 29.4L458.1 29.4M444.9 31.5L444.9 28.6M448.7 31.5L448.7 28.6M444.9 28.6L448.7 28.6M439.3 29.9L439.3 27.5M446.8 28.6L446.8 27.5M439.3 27.5L446.8 27.5M443 27.5L443 26.2M455.3 29.4L455.3 26.2M443 26.2L455.3 26.2M449.1 26.2L449.1 25M463.7 31.5L463.7 25M449.1 25L463.7 25M487.7 31.5L487.7 30.7M491.5 31.5L491.5 30.7M487.7 30.7L491.5 30.7M506.5 31.5L506.5 30.5M510.3 31.5L510.3 30.5M506.5 30.5L510.3 30.5M489.6 30.7L489.6 30.4M495.2 31.5L495.2 30.4M489.6 30.4L495.2 30.4M521.6 31.5L521.6 30.2M525.4 31.5L525.4 30.2M521.6 30.2L525.4 30.2M468.9 31.5L468.9 29.8M472.6 31.5L472.6 29.8M468.9 29.8L472.6 29.8M508.4 30.5L508.4 29.5M514.1 31.5L514.1 29.5M508.4 29.5L514.1 29.5M502.8 31.5L502.8 29.1M511.2 29.5L511.2 29.1M502.8 29.1L511.2 29.1M517.8 31.5L517.8 28.8M523.5 30.2L523.5 28.8M517.8 28.8L523.5 28.8M520.6 28.8L520.6 28.5M529.1 31.5L529.1 28.5M520.6 28.5L529.1 28.5M476.4 31.5L476.4 27.9M480.2 31.5L480.2 27.9M476.4 27.9L480.2 27.9M507 29.1L507 27.4M524.9 28.5L524.9 27.4M507 27.4L524.9 27.4M470.8 29.8L470.8 27.1M478.3 27.9L478.3 27.1M470.8 27.1L478.3 27.1M499 31.5L499 26.3M515.9 27.4L515.9 26.3M499 26.3L515.9 26.3M492.4 30.4L492.4 26.2M507.5 26.3L507.5 26.2M492.4 26.2L507.5 26.2M474.5 27.1L474.5 26M483.9 31.5L483.9 26M474.5 26L483.9 26M479.2 26L479.2 25.4M499.9 26.2L499.9 25.4M479.2 25.4L499.9 25.4M571.9 31.5L571.9 30.7M575.7 31.5L575.7 30.7M571.9 30.7L575.7 30.7M594.5 31.5L594.5 30.6M598.3 31.5L598.3 30.6M594.5 30.6L598.3 30.6M541.8 31.5L541.8 30.4M545.6 31.5L545.6 30.4M541.8 30.4L545.6 30.4M613.4 31.5L613.4 30.3M617.1 31.5L617.1 30.3M613.4 30.3L617.1 30.3M579.5 31.5L579.5 30.2M583.2 31.5L583.2 30.2M579.5 30.2L583.2 30.2M587 31.5L587 30M590.8 31.5L590.8 30M587 30L590.8 30M605.8 31.5L605.8 29.9M609.6 31.5L609.6 29.9M605.8 29.9L609.6 29.9M538 31.5L538 29.5M543.7 30.4L543.7 29.5M538 29.5L543.7 29.5M568.2 31.5L568.2 29.3M573.8 30.7L573.8 29.3M568.2 29.3L573.8 29.3M540.9 29.5L540.9 29.3M549.3 31.5L549.3 29.3M540.9 29.3L549.3 29.3M607.7 29.9L607.7 28.9M615.2 30.3L615.2 28.9M607.7 28.9L615.2 28.9M596.4 30.6L596.4 28.3M602.1 31.5L602.1 28.3M596.4 28.3L602.1 28.3M581.3 30.2L581.3 28.4M588.9 30L588.9 28.4M581.3 28.4L588.9 28.4M571 29.3L571 27.7M585.1 28.4L585.1 27.7M571 27.7L585.1 27.7M564.4 31.5L564.4 27.3M578.1 27.7L578.1 27.3M564.4 27.3L578.1 27.3M556.9 31.5L556.9 27.4M560.6 31.5L560.6 27.4M556.9 27.4L560.6 27.4M571.2 27.3L571.2 27.2M599.2 28.3L599.2 27.2M571.2 27.2L599.2 27.2M534.3 31.5L534.3 26.8M545.1 29.3L545.1 26.8M534.3 26.8L545.1 26.8M558.8 27.4L558.8 26.5M585.2 27.2L585.2 26.5M558.8 26.5L585.2 26.5M539.7 26.8L539.7 25.9M553.1 31.5L553.1 25.9M539.7 25.9L553.1 25.9M572 26.5L572 25.8M611.5 28.9L611.5 25.8M572 25.8L611.5 25.8M546.4 25.9L546.4 25.1M591.7 25.8L591.7 25.1M546.4 25.1L591.7 25.1M416.7 24.6V23.4H456.4V25M436.6 23.4V21.6H489.6V25.4M463.1 21.6V20.6H569.1V25.1" fill="none" stroke="#222" stroke-width=".45"/><path d="M391.8 54L389.9 54M391.8 60.1L389.9 60.1M389.9 54L389.9 60.1M391.8 66.1L388.5 66.1M391.8 72.1L388.5 72.1M388.5 66.1L388.5 72.1M391.8 48L386.8 48M389.9 57L386.8 57M386.8 48L386.8 57M386.8 52.5L384.6 52.5M388.5 69.1L384.6 69.1M384.6 52.5L384.6 69.1M391.8 42L381.6 42M384.6 60.8L381.6 60.8M381.6 42L381.6 60.8M391.8 90.1L390.6 90.1M391.8 96.1L390.6 96.1M390.6 90.1L390.6 96.1M390.6 93.1L390.3 93.1M391.8 102.2L390.3 102.2M390.3 93.1L390.3 102.2M391.8 108.2L390.1 108.2M391.8 114.2L390.1 114.2M390.1 108.2L390.1 114.2M391.8 150.3L389.6 150.3M391.8 156.3L389.6 156.3M389.6 150.3L389.6 156.3M391.8 120.2L389.3 120.2M391.8 126.2L389.3 126.2M389.3 120.2L389.3 126.2M391.8 138.3L388.5 138.3M391.8 144.3L388.5 144.3M388.5 138.3L388.5 144.3M391.8 132.2L387.6 132.2M388.5 141.3L387.6 141.3M387.6 132.2L387.6 141.3M387.6 136.8L387 136.8M389.6 153.3L387 153.3M387 136.8L387 153.3M389.3 123.2L386.4 123.2M387 145L386.4 145M386.4 123.2L386.4 145M391.8 78.1L385.8 78.1M391.8 84.1L385.8 84.1M385.8 78.1L385.8 84.1M386.4 134.1L385.1 134.1M391.8 162.3L385.1 162.3M385.1 134.1L385.1 162.3M390.3 97.7L384.6 97.7M390.1 111.2L384.6 111.2M384.6 97.7L384.6 111.2M384.6 104.4L383.8 104.4M385.1 148.2L383.8 148.2M383.8 104.4L383.8 148.2M385.8 81.1L381.5 81.1M383.8 126.3L381.5 126.3M381.5 81.1L381.5 126.3M391.8 210.4L390.6 210.4M391.8 216.5L390.6 216.5M390.6 210.4L390.6 216.5M391.8 198.4L390.3 198.4M391.8 204.4L390.3 204.4M390.3 198.4L390.3 204.4M391.8 174.4L390.1 174.4M391.8 180.4L390.1 180.4M390.1 174.4L390.1 180.4M391.8 186.4L389.5 186.4M391.8 192.4L389.5 192.4M389.5 186.4L389.5 192.4M391.8 222.5L389 222.5M391.8 228.5L389 228.5M389 222.5L389 228.5M390.1 177.4L388.3 177.4M389.5 189.4L388.3 189.4M388.3 177.4L388.3 189.4M391.8 240.5L388.1 240.5M391.8 246.5L388.1 246.5M388.1 240.5L388.1 246.5M390.3 201.4L386.9 201.4M390.6 213.5L386.9 213.5M386.9 201.4L386.9 213.5M391.8 234.5L386.6 234.5M388.1 243.5L386.6 243.5M386.6 234.5L386.6 243.5M391.8 168.3L386.1 168.3M388.3 183.4L386.1 183.4M386.1 168.3L386.1 183.4M386.6 239L384.4 239M391.8 252.6L384.4 252.6M384.4 239L384.4 252.6M386.9 207.4L384.1 207.4M389 225.5L384.1 225.5M384.1 207.4L384.1 225.5M384.1 216.5L383.8 216.5M384.4 245.8L383.8 245.8M383.8 216.5L383.8 245.8M386.1 175.9L381.9 175.9M383.8 231.1L381.9 231.1M381.9 175.9L381.9 231.1M391.8 282.6L390.4 282.6M391.8 288.6L390.4 288.6M390.4 282.6L390.4 288.6M391.8 294.7L389.9 294.7M391.8 300.7L389.9 300.7M389.9 294.7L389.9 300.7M391.8 258.6L389 258.6M391.8 264.6L389 264.6M389 258.6L389 264.6M389.9 297.7L388 297.7M391.8 306.7L388 306.7M388 297.7L388 306.7M389 261.6L386.5 261.6M391.8 270.6L386.5 270.6M386.5 261.6L386.5 270.6M391.8 276.6L384.9 276.6M390.4 285.6L384.9 285.6M384.9 276.6L384.9 285.6M386.5 266.1L383.6 266.1M384.9 281.1L383.6 281.1M383.6 266.1L383.6 281.1M383.6 273.6L382.2 273.6M388 302.2L382.2 302.2M382.2 273.6L382.2 302.2M391.8 318.7L390.1 318.7M391.8 324.7L390.1 324.7M390.1 318.7L390.1 324.7M390.1 321.7L388.7 321.7M391.8 330.8L388.7 330.8M388.7 321.7L388.7 330.8M391.8 336.8L387.1 336.8M391.8 342.8L387.1 342.8M387.1 336.8L387.1 342.8M391.8 312.7L384.7 312.7M388.7 326.2L384.7 326.2M384.7 312.7L384.7 326.2M384.7 319.5L381.8 319.5M387.1 339.8L381.8 339.8M381.8 319.5L381.8 339.8M391.8 384.9L390.4 384.9M391.8 390.9L390.4 390.9M390.4 384.9L390.4 390.9M391.8 366.9L390.3 366.9M391.8 372.9L390.3 372.9M390.3 366.9L390.3 372.9M391.8 402.9L389.8 402.9M391.8 409L389.8 409M389.8 402.9L389.8 409M391.8 348.8L389 348.8M391.8 354.8L389 354.8M389 348.8L389 354.8M390.4 387.9L388.6 387.9M391.8 396.9L388.6 396.9M388.6 387.9L388.6 396.9M391.8 360.8L387.8 360.8M390.3 369.9L387.8 369.9M387.8 360.8L387.8 369.9M391.8 378.9L387.2 378.9M388.6 392.4L387.2 392.4M387.2 378.9L387.2 392.4M387.2 385.7L385.9 385.7M389.8 406L385.9 406M385.9 385.7L385.9 406M385.9 395.8L385.8 395.8M391.8 415L385.8 415M385.8 395.8L385.8 415M389 351.8L384.7 351.8M387.8 365.3L384.7 365.3M384.7 351.8L384.7 365.3M384.7 358.6L383.6 358.6M385.8 405.4L383.6 405.4M383.6 358.6L383.6 405.4M383.6 382L382.1 382M391.8 421L382.1 421M382.1 382L382.1 421M381.6 51.4H380.8V103.7H381.5M380.8 77.6H380.2V203.5H381.9M380.2 140.5H379.7V287.9H382.2M379.7 214.2H379.1V329.6H381.8M379.1 271.9H378.6V401.5H382.1" fill="none" stroke="#222" stroke-width=".45"/><text font-size="4.3"><tspan x="621" y="43.51">Melanocytes</tspan><tspan x="621" y="49.52">Skeletal muscle</tspan><tspan x="621" y="55.54">Preadipocytes</tspan><tspan x="621" y="61.55">Eosinphils</tspan><tspan x="621" y="67.57">MSC</tspan><tspan x="621" y="73.59">GMP</tspan><tspan x="621" y="79.6">Astrocytes</tspan><tspan x="621" y="85.62">Chondrocytes</tspan><tspan x="621" y="91.63">Macrophages</tspan><tspan x="621" y="97.65">Macrophages M1</tspan><tspan x="621" y="103.66">Macrophages M2</tspan><tspan x="621" y="109.68">Pericytes</tspan><tspan x="621" y="115.7">ly Endothelial cells</tspan><tspan x="621" y="121.71">mv Endothelial cells</tspan><tspan x="621" y="127.73">Endothelial cells</tspan><tspan x="621" y="133.74">Hepatocytes</tspan><tspan x="621" y="139.76">Megakaryocytes</tspan><tspan x="621" y="145.77">HSC</tspan><tspan x="621" y="151.79">Monocytes</tspan><tspan x="621" y="157.8">Fibroblasts</tspan><tspan x="621" y="163.82">Mesangial cells</tspan><tspan x="621" y="169.84">Tregs</tspan><tspan x="621" y="175.85">CD4+ memory T-cells</tspan><tspan x="621" y="181.87">CD4+ T-cells</tspan><tspan x="621" y="187.88">CD4+ Tem</tspan><tspan x="621" y="193.9">aDC</tspan><tspan x="621" y="199.91">cDC</tspan><tspan x="621" y="205.93">DC</tspan><tspan x="621" y="211.95">CD8+ Tem</tspan><tspan x="621" y="217.96">Tgd cells</tspan><tspan x="621" y="223.98">Platelets</tspan><tspan x="621" y="229.99">CD4+ Tcm</tspan><tspan x="621" y="236.01">iDC</tspan><tspan x="621" y="242.02">pDC</tspan><tspan x="621" y="248.04">Myocytes</tspan><tspan x="621" y="254.05">Neurons</tspan><tspan x="621" y="260.07">Naive B-cells</tspan><tspan x="621" y="266.09">B-cells</tspan><tspan x="621" y="272.1">Memory B-cells</tspan><tspan x="621" y="278.12">Class-switched memory B-cells</tspan><tspan x="621" y="284.13">pro B-cells</tspan><tspan x="621" y="290.15">CD4+ naive T-cells</tspan><tspan x="621" y="296.16">CD8+ Tcm</tspan><tspan x="621" y="302.18">CD8+ T-cells</tspan><tspan x="621" y="308.2">CD8+ naive T-cells</tspan><tspan x="621" y="314.21">Neutrophils</tspan><tspan x="621" y="320.23">CMP</tspan><tspan x="621" y="326.24">Adipocytes</tspan><tspan x="621" y="332.26">NKT</tspan><tspan x="621" y="338.27">Plasma cells</tspan><tspan x="621" y="344.29">Mast cells</tspan><tspan x="621" y="350.3">Basophils</tspan><tspan x="621" y="356.32">CLP</tspan><tspan x="621" y="362.34">Smooth muscle</tspan><tspan x="621" y="368.35">Keratinocytes</tspan><tspan x="621" y="374.37">Epithelial cells</tspan><tspan x="621" y="380.38">Osteoblast</tspan><tspan x="621" y="386.4">Erythrocytes</tspan><tspan x="621" y="392.41">MEP</tspan><tspan x="621" y="398.43">Th1 cells</tspan><tspan x="621" y="404.45">MPP</tspan><tspan x="621" y="410.46">Sebocytes</tspan><tspan x="621" y="416.48">NK cells</tspan><tspan x="621" y="422.49">Th2 cells</tspan></text><g font-size="4" fill="#111"><text transform="translate(395.79 426.3) rotate(-90)" text-anchor="end">079 | CD3</text><text transform="translate(399.57 426.3) rotate(-90)" text-anchor="end">001 | CD3</text><text transform="translate(403.35 426.3) rotate(-90)" text-anchor="end">062 | CD3</text><text transform="translate(407.14 426.3) rotate(-90)" text-anchor="end">084 | CD3</text><text transform="translate(410.92 426.3) rotate(-90)" text-anchor="end">045 | CD3</text><text transform="translate(414.7 426.3) rotate(-90)" text-anchor="end">083 | CD3</text><text transform="translate(418.48 426.3) rotate(-90)" text-anchor="end">011 | CD3</text><text transform="translate(422.26 426.3) rotate(-90)" text-anchor="end">085 | CD3</text><text transform="translate(426.05 426.3) rotate(-90)" text-anchor="end">016 | CD3</text><text transform="translate(429.83 426.3) rotate(-90)" text-anchor="end">050 | CD3</text><text transform="translate(433.61 426.3) rotate(-90)" text-anchor="end">092 | CD3</text><text transform="translate(438.78 426.3) rotate(-90)" text-anchor="end">097 | CD20</text><text transform="translate(442.54 426.3) rotate(-90)" text-anchor="end">026 | CD20</text><text transform="translate(446.31 426.3) rotate(-90)" text-anchor="end">062 | CD20</text><text transform="translate(450.07 426.3) rotate(-90)" text-anchor="end">023 | CD20</text><text transform="translate(453.83 426.3) rotate(-90)" text-anchor="end">056 | CD20</text><text transform="translate(457.59 426.3) rotate(-90)" text-anchor="end">082 | CD20</text><text transform="translate(461.36 426.3) rotate(-90)" text-anchor="end">043 | CD20</text><text transform="translate(465.12 426.3) rotate(-90)" text-anchor="end">012 | CD20</text><text transform="translate(470.28 426.3) rotate(-90)" text-anchor="end">093 | Other</text><text transform="translate(474.05 426.3) rotate(-90)" text-anchor="end">051 | Other</text><text transform="translate(477.81 426.3) rotate(-90)" text-anchor="end">060 | Other</text><text transform="translate(481.58 426.3) rotate(-90)" text-anchor="end">052 | Other</text><text transform="translate(485.34 426.3) rotate(-90)" text-anchor="end">096 | Other</text><text transform="translate(489.11 426.3) rotate(-90)" text-anchor="end">011 | Other</text><text transform="translate(492.87 426.3) rotate(-90)" text-anchor="end">093 | Other</text><text transform="translate(496.64 426.3) rotate(-90)" text-anchor="end">021 | Other</text><text transform="translate(500.4 426.3) rotate(-90)" text-anchor="end">022 | Other</text><text transform="translate(504.16 426.3) rotate(-90)" text-anchor="end">017 | Other</text><text transform="translate(507.93 426.3) rotate(-90)" text-anchor="end">004 | Other</text><text transform="translate(511.69 426.3) rotate(-90)" text-anchor="end">020 | Other</text><text transform="translate(515.46 426.3) rotate(-90)" text-anchor="end">076 | Other</text><text transform="translate(519.22 426.3) rotate(-90)" text-anchor="end">060 | Other</text><text transform="translate(522.99 426.3) rotate(-90)" text-anchor="end">084 | Other</text><text transform="translate(526.75 426.3) rotate(-90)" text-anchor="end">019 | Other</text><text transform="translate(530.52 426.3) rotate(-90)" text-anchor="end">079 | Other</text><text transform="translate(535.68 426.3) rotate(-90)" text-anchor="end">077 | PanCK</text><text transform="translate(539.45 426.3) rotate(-90)" text-anchor="end">061 | PanCK</text><text transform="translate(543.21 426.3) rotate(-90)" text-anchor="end">085 | PanCK</text><text transform="translate(546.98 426.3) rotate(-90)" text-anchor="end">045 | PanCK</text><text transform="translate(550.74 426.3) rotate(-90)" text-anchor="end">020 | PanCK</text><text transform="translate(554.51 426.3) rotate(-90)" text-anchor="end">071 | PanCK</text><text transform="translate(558.27 426.3) rotate(-90)" text-anchor="end">071 | PanCK</text><text transform="translate(562.04 426.3) rotate(-90)" text-anchor="end">017 | PanCK</text><text transform="translate(565.8 426.3) rotate(-90)" text-anchor="end">003 | PanCK</text><text transform="translate(569.57 426.3) rotate(-90)" text-anchor="end">002 | PanCK</text><text transform="translate(573.33 426.3) rotate(-90)" text-anchor="end">093 | PanCK</text><text transform="translate(577.1 426.3) rotate(-90)" text-anchor="end">084 | PanCK</text><text transform="translate(580.87 426.3) rotate(-90)" text-anchor="end">014 | PanCK</text><text transform="translate(584.63 426.3) rotate(-90)" text-anchor="end">068 | PanCK</text><text transform="translate(588.4 426.3) rotate(-90)" text-anchor="end">096 | PanCK</text><text transform="translate(592.16 426.3) rotate(-90)" text-anchor="end">018 | PanCK</text><text transform="translate(595.93 426.3) rotate(-90)" text-anchor="end">056 | PanCK</text><text transform="translate(599.69 426.3) rotate(-90)" text-anchor="end">025 | PanCK</text><text transform="translate(603.46 426.3) rotate(-90)" text-anchor="end">028 | PanCK</text><text transform="translate(607.22 426.3) rotate(-90)" text-anchor="end">004 | PanCK</text><text transform="translate(610.99 426.3) rotate(-90)" text-anchor="end">033 | PanCK</text><text transform="translate(614.75 426.3) rotate(-90)" text-anchor="end">028 | PanCK</text><text transform="translate(618.52 426.3) rotate(-90)" text-anchor="end">038 | PanCK</text></g><text x="639" y="5.6" font-size="7">matrix_5 bar</text><linearGradient id="lgb" x1="0" y1="0" x2="0" y2="1"><stop offset="0" stop-color="#e8201a"/><stop offset=".5" stop-color="#f7f4f6"/><stop offset="1" stop-color="#2050b8"/></linearGradient><rect x="642" y="11.4" width="5.3" height="22.8" fill="url(#lgb)"/><text x="648.6" y="13.5" font-size="4">4</text><text x="648.6" y="18.9" font-size="4">2</text><text x="648.6" y="24.3" font-size="4">0</text><text x="648.6" y="29.7" font-size="4">-2</text><text x="648.6" y="35.1" font-size="4">-4</text><rect x="662" y="12" width="4.6" height="4.6" fill="#1f2d88"/><text x="668.2" y="15.8" font-size="4">CD20</text><rect x="662" y="16.6" width="4.6" height="4.6" fill="#2ea54a"/><text x="668.2" y="20.4" font-size="4">CD3</text><rect x="662" y="21.2" width="4.6" height="4.6" fill="#2a993d"/><text x="668.2" y="25" font-size="4">Other</text><rect x="662" y="25.8" width="4.6" height="4.6" fill="#2c7b3b"/><text x="668.2" y="29.6" font-size="4">PanCK</text><rect x="469.3" y="153.2" width="180.2" height="6.2" fill="none" stroke="#d8324a" stroke-width="0.7"/><rect x="470.4" y="153.2" width="11.5" height="295.3" fill="none" stroke="#d8324a" stroke-width="0.7"/><rect x="531" y="344.3" width="124" height="79.5" fill="none" stroke="#d8324a" stroke-width="0.7"/>
<text x="-1" y="170.8" font-size="16" font-weight="bold">c</text><line x1="32" y1="176" x2="32" y2="231.7" stroke="#222" stroke-width="0.6"/><line x1="32" y1="231.7" x2="50" y2="231.7" stroke="#222" stroke-width="0.6"/><line x1="30.8" y1="176.81" x2="32" y2="176.81" stroke="#222" stroke-width="0.4"/><text x="30.2" y="178.31" font-size="4.5" text-anchor="end">0.50</text><line x1="30.8" y1="194.94" x2="32" y2="194.94" stroke="#222" stroke-width="0.4"/><text x="30.2" y="196.44" font-size="4.5" text-anchor="end">0.25</text><line x1="30.8" y1="213.33" x2="32" y2="213.33" stroke="#222" stroke-width="0.4"/><text x="30.2" y="214.83" font-size="4.5" text-anchor="end">0.00</text><line x1="30.8" y1="231.2" x2="32" y2="231.2" stroke="#222" stroke-width="0.4"/><text x="30.2" y="232.7" font-size="4.5" text-anchor="end">-0.25</text><line x1="37.18" y1="211.49" x2="37.18" y2="213.33" stroke="#222" stroke-width="0.45"/><line x1="37.18" y1="222.52" x2="37.18" y2="229.09" stroke="#222" stroke-width="0.45"/><rect x="33.63" y="213.33" width="7.09" height="9.2" fill="#ea6f66" stroke="#222" stroke-width="0.45"/><line x1="33.63" y1="217.53" x2="40.73" y2="217.53" stroke="#222" stroke-width="0.8"/><line x1="44.8" y1="194.41" x2="44.8" y2="194.94" stroke="#222" stroke-width="0.45"/><line x1="44.8" y1="198.35" x2="44.8" y2="199.14" stroke="#222" stroke-width="0.45"/><rect x="41.51" y="194.94" width="6.57" height="3.42" fill="#1fb2b8" stroke="#222" stroke-width="0.45"/><line x1="41.51" y1="196.51" x2="48.08" y2="196.51" stroke="#222" stroke-width="0.8"/><circle cx="44.8" cy="178.65" r=".95" fill="#111"/><circle cx="44.8" cy="191.26" r=".95" fill="#111"/><circle cx="44.8" cy="200.19" r=".95" fill="#111"/><circle cx="44.8" cy="202.29" r=".95" fill="#111"/><circle cx="44.8" cy="204.92" r=".95" fill="#111"/><circle cx="44.8" cy="208.86" r=".95" fill="#111"/><circle cx="44.8" cy="210.7" r=".95" fill="#111"/><line x1="37.18" y1="231.7" x2="37.18" y2="232.9" stroke="#222" stroke-width="0.4"/><text transform="translate(38.58 235.3) rotate(-50)" font-size="4.6" text-anchor="end">Pre</text><line x1="44.8" y1="231.7" x2="44.8" y2="232.9" stroke="#222" stroke-width="0.4"/><text transform="translate(46.2 235.3) rotate(-50)" font-size="4.6" text-anchor="end">Post</text><text transform="translate(8.5 204.85) rotate(-90)" font-size="4.4" text-anchor="middle">Cancer Antigens</text><text transform="translate(13.9 204.85) rotate(-90)" font-size="4.4" text-anchor="middle">signature score</text><path d="M36.78 175.78V174.18H45.19V175.78" fill="none" stroke="#222" stroke-width=".5"/><text x="40.99" y="173.88" font-size="5" text-anchor="middle" font-weight="bold">***</text><line x1="83.55" y1="176.02" x2="83.55" y2="231.72" stroke="#222" stroke-width="0.6"/><line x1="83.55" y1="231.72" x2="99.84" y2="231.72" stroke="#222" stroke-width="0.6"/><line x1="82.35" y1="180.49" x2="83.55" y2="180.49" stroke="#222" stroke-width="0.4"/><text x="81.75" y="181.99" font-size="4.5" text-anchor="end">0.45</text><line x1="82.35" y1="191.78" x2="83.55" y2="191.78" stroke="#222" stroke-width="0.4"/><text x="81.75" y="193.28" font-size="4.5" text-anchor="end">0.40</text><line x1="82.35" y1="203.34" x2="83.55" y2="203.34" stroke="#222" stroke-width="0.4"/><text x="81.75" y="204.84" font-size="4.5" text-anchor="end">0.35</text><line x1="82.35" y1="214.91" x2="83.55" y2="214.91" stroke="#222" stroke-width="0.4"/><text x="81.75" y="216.41" font-size="4.5" text-anchor="end">0.30</text><line x1="82.35" y1="226.2" x2="83.55" y2="226.2" stroke="#222" stroke-width="0.4"/><text x="81.75" y="227.7" font-size="4.5" text-anchor="end">0.25</text><line x1="88.15" y1="178.65" x2="88.15" y2="187.84" stroke="#222" stroke-width="0.45"/><line x1="88.15" y1="197.04" x2="88.15" y2="203.61" stroke="#222" stroke-width="0.45"/><rect x="85.13" y="187.84" width="6.04" height="9.2" fill="#ea6f66" stroke="#222" stroke-width="0.45"/><line x1="85.13" y1="191.78" x2="91.17" y2="191.78" stroke="#222" stroke-width="0.8"/><line x1="94.98" y1="182.06" x2="94.98" y2="190.47" stroke="#222" stroke-width="0.45"/><line x1="94.98" y1="214.64" x2="94.98" y2="229.36" stroke="#222" stroke-width="0.45"/><rect x="91.96" y="190.47" width="6.04" height="24.17" fill="#1fb2b8" stroke="#222" stroke-width="0.45"/><line x1="91.96" y1="200.19" x2="98" y2="200.19" stroke="#222" stroke-width="0.8"/><line x1="88.15" y1="231.72" x2="88.15" y2="232.92" stroke="#222" stroke-width="0.4"/><text transform="translate(89.55 235.32) rotate(-50)" font-size="4.6" text-anchor="end">Pre</text><line x1="94.98" y1="231.72" x2="94.98" y2="232.92" stroke="#222" stroke-width="0.4"/><text transform="translate(96.38 235.32) rotate(-50)" font-size="4.6" text-anchor="end">Post</text><text transform="translate(63.85 204.87) rotate(-90)" font-size="4.4" text-anchor="middle">MHC Class I Antigen</text><text transform="translate(69.25 204.87) rotate(-90)" font-size="4.4" text-anchor="middle">Presentation signature score</text><line x1="122.96" y1="176.02" x2="122.96" y2="231.72" stroke="#222" stroke-width="0.6"/><line x1="122.96" y1="231.72" x2="142.67" y2="231.72" stroke="#222" stroke-width="0.6"/><line x1="121.76" y1="179.44" x2="122.96" y2="179.44" stroke="#222" stroke-width="0.4"/><text x="121.16" y="180.94" font-size="4.5" text-anchor="end">0.4</text><line x1="121.76" y1="195.73" x2="122.96" y2="195.73" stroke="#222" stroke-width="0.4"/><text x="121.16" y="197.23" font-size="4.5" text-anchor="end">0.2</text><line x1="121.76" y1="212.02" x2="122.96" y2="212.02" stroke="#222" stroke-width="0.4"/><text x="121.16" y="213.52" font-size="4.5" text-anchor="end">0.0</text><line x1="121.76" y1="228.57" x2="122.96" y2="228.57" stroke="#222" stroke-width="0.4"/><text x="121.16" y="230.07" font-size="4.5" text-anchor="end">-0.2</text><line x1="128.61" y1="177.33" x2="128.61" y2="190.47" stroke="#222" stroke-width="0.45"/><line x1="128.61" y1="206.23" x2="128.61" y2="210.18" stroke="#222" stroke-width="0.45"/><rect x="125.07" y="190.47" width="7.09" height="15.76" fill="#ea6f66" stroke="#222" stroke-width="0.45"/><line x1="125.07" y1="200.98" x2="132.16" y2="200.98" stroke="#222" stroke-width="0.8"/><circle cx="128.61" cy="229.62" r=".95" fill="#111"/><line x1="137.15" y1="194.41" x2="137.15" y2="204.92" stroke="#222" stroke-width="0.45"/><line x1="137.15" y1="213.33" x2="137.15" y2="214.91" stroke="#222" stroke-width="0.45"/><rect x="133.21" y="204.92" width="7.88" height="8.41" fill="#1fb2b8" stroke="#222" stroke-width="0.45"/><line x1="133.21" y1="209.65" x2="141.09" y2="209.65" stroke="#222" stroke-width="0.8"/><line x1="128.61" y1="231.72" x2="128.61" y2="232.92" stroke="#222" stroke-width="0.4"/><text transform="translate(130.01 235.32) rotate(-50)" font-size="4.6" text-anchor="end">Pre</text><line x1="137.15" y1="231.72" x2="137.15" y2="232.92" stroke="#222" stroke-width="0.4"/><text transform="translate(138.55 235.32) rotate(-50)" font-size="4.6" text-anchor="end">Post</text><text transform="translate(110.35 204.87) rotate(-90)" font-size="4.4" text-anchor="middle">B cells signature score</text><path d="M128.74 177.62V176.02H137.15V177.62" fill="none" stroke="#222" stroke-width=".5"/><text x="132.95" y="175.72" font-size="5" text-anchor="middle" font-weight="bold">***</text><line x1="160.8" y1="176.02" x2="160.8" y2="231.72" stroke="#222" stroke-width="0.6"/><line x1="160.8" y1="231.72" x2="181.29" y2="231.72" stroke="#222" stroke-width="0.6"/><line x1="159.6" y1="176.81" x2="160.8" y2="176.81" stroke="#222" stroke-width="0.4"/><text x="159" y="178.31" font-size="4.5" text-anchor="end">0.3</text><line x1="159.6" y1="193.1" x2="160.8" y2="193.1" stroke="#222" stroke-width="0.4"/><text x="159" y="194.6" font-size="4.5" text-anchor="end">0.2</text><line x1="159.6" y1="209.39" x2="160.8" y2="209.39" stroke="#222" stroke-width="0.4"/><text x="159" y="210.89" font-size="4.5" text-anchor="end">0.1</text><line x1="159.6" y1="225.94" x2="160.8" y2="225.94" stroke="#222" stroke-width="0.4"/><text x="159" y="227.44" font-size="4.5" text-anchor="end">0.0</text><line x1="166.71" y1="181.27" x2="166.71" y2="188.63" stroke="#222" stroke-width="0.45"/><line x1="166.71" y1="198.35" x2="166.71" y2="204.4" stroke="#222" stroke-width="0.45"/><rect x="163.16" y="188.63" width="7.09" height="9.72" fill="#ea6f66" stroke="#222" stroke-width="0.45"/><line x1="163.16" y1="189.94" x2="170.26" y2="189.94" stroke="#222" stroke-width="0.8"/><circle cx="166.71" cy="216.22" r=".95" fill="#111"/><circle cx="166.71" cy="229.09" r=".95" fill="#111"/><line x1="175.78" y1="183.9" x2="175.78" y2="190.47" stroke="#222" stroke-width="0.45"/><line x1="175.78" y1="199.14" x2="175.78" y2="209.39" stroke="#222" stroke-width="0.45"/><rect x="172.1" y="190.47" width="7.36" height="8.67" fill="#1fb2b8" stroke="#222" stroke-width="0.45"/><line x1="172.1" y1="195.2" x2="179.45" y2="195.2" stroke="#222" stroke-width="0.8"/><circle cx="175.78" cy="178.65" r=".95" fill="#111"/><line x1="166.71" y1="231.72" x2="166.71" y2="232.92" stroke="#222" stroke-width="0.4"/><text transform="translate(168.11 235.32) rotate(-50)" font-size="4.6" text-anchor="end">Pre</text><line x1="175.78" y1="231.72" x2="175.78" y2="232.92" stroke="#222" stroke-width="0.4"/><text transform="translate(177.18 235.32) rotate(-50)" font-size="4.6" text-anchor="end">Post</text><text transform="translate(151.08 204.87) rotate(-90)" font-size="4.4" text-anchor="middle">T cells signature score</text><line x1="213.83" y1="176.02" x2="213.83" y2="231.5" stroke="#222" stroke-width="0.6"/><line x1="213.83" y1="231.5" x2="233.98" y2="231.5" stroke="#222" stroke-width="0.6"/><line x1="212.63" y1="177.77" x2="213.83" y2="177.77" stroke="#222" stroke-width="0.4"/><text x="212.03" y="179.27" font-size="4.5" text-anchor="end">0.45</text><line x1="212.63" y1="190.04" x2="213.83" y2="190.04" stroke="#222" stroke-width="0.4"/><text x="212.03" y="191.54" font-size="4.5" text-anchor="end">0.40</text><line x1="212.63" y1="202.3" x2="213.83" y2="202.3" stroke="#222" stroke-width="0.4"/><text x="212.03" y="203.8" font-size="4.5" text-anchor="end">0.35</text><line x1="212.63" y1="214.27" x2="213.83" y2="214.27" stroke="#222" stroke-width="0.4"/><text x="212.03" y="215.77" font-size="4.5" text-anchor="end">0.30</text><line x1="212.63" y1="225.95" x2="213.83" y2="225.95" stroke="#222" stroke-width="0.4"/><text x="212.03" y="227.45" font-size="4.5" text-anchor="end">0.25</text><line x1="219.53" y1="178.36" x2="219.53" y2="191.5" stroke="#222" stroke-width="0.45"/><line x1="219.53" y1="205.22" x2="219.53" y2="224.49" stroke="#222" stroke-width="0.45"/><rect x="215.88" y="191.5" width="7.3" height="13.72" fill="#ea6f66" stroke="#222" stroke-width="0.45"/><line x1="215.88" y1="199.67" x2="223.18" y2="199.67" stroke="#222" stroke-width="0.8"/><line x1="228.43" y1="179.82" x2="228.43" y2="192.96" stroke="#222" stroke-width="0.45"/><line x1="228.43" y1="214.56" x2="228.43" y2="227.99" stroke="#222" stroke-width="0.45"/><rect x="224.64" y="192.96" width="7.59" height="21.61" fill="#1fb2b8" stroke="#222" stroke-width="0.45"/><line x1="224.64" y1="197.34" x2="232.23" y2="197.34" stroke="#222" stroke-width="0.8"/><line x1="219.53" y1="231.5" x2="219.53" y2="232.7" stroke="#222" stroke-width="0.4"/><text transform="translate(220.93 235.1) rotate(-50)" font-size="4.6" text-anchor="end">Pre</text><line x1="228.43" y1="231.5" x2="228.43" y2="232.7" stroke="#222" stroke-width="0.4"/><text transform="translate(229.83 235.1) rotate(-50)" font-size="4.6" text-anchor="end">Post</text><text transform="translate(191.93 204.76) rotate(-90)" font-size="4.4" text-anchor="middle">BCR Signaling</text><text transform="translate(197.33 204.76) rotate(-90)" font-size="4.4" text-anchor="middle">signature score</text><line x1="262.59" y1="176.02" x2="262.59" y2="231.5" stroke="#222" stroke-width="0.6"/><line x1="262.59" y1="231.5" x2="282.45" y2="231.5" stroke="#222" stroke-width="0.6"/><line x1="261.39" y1="180.69" x2="262.59" y2="180.69" stroke="#222" stroke-width="0.4"/><text x="260.79" y="182.19" font-size="4.5" text-anchor="end">0.40</text><line x1="261.39" y1="192.96" x2="262.59" y2="192.96" stroke="#222" stroke-width="0.4"/><text x="260.79" y="194.46" font-size="4.5" text-anchor="end">0.35</text><line x1="261.39" y1="204.64" x2="262.59" y2="204.64" stroke="#222" stroke-width="0.4"/><text x="260.79" y="206.14" font-size="4.5" text-anchor="end">0.30</text><line x1="261.39" y1="216.31" x2="262.59" y2="216.31" stroke="#222" stroke-width="0.4"/><text x="260.79" y="217.81" font-size="4.5" text-anchor="end">0.25</text><line x1="261.39" y1="228.58" x2="262.59" y2="228.58" stroke="#222" stroke-width="0.4"/><text x="260.79" y="230.08" font-size="4.5" text-anchor="end">0.20</text><line x1="267.99" y1="178.36" x2="267.99" y2="187.7" stroke="#222" stroke-width="0.45"/><line x1="267.99" y1="203.18" x2="267.99" y2="217.19" stroke="#222" stroke-width="0.45"/><rect x="264.34" y="187.7" width="7.3" height="15.47" fill="#ea6f66" stroke="#222" stroke-width="0.45"/><line x1="264.34" y1="195.88" x2="271.64" y2="195.88" stroke="#222" stroke-width="0.8"/><circle cx="267.99" cy="229.45" r=".95" fill="#111"/><line x1="277.19" y1="180.69" x2="277.19" y2="189.16" stroke="#222" stroke-width="0.45"/><line x1="277.19" y1="200.84" x2="277.19" y2="213.39" stroke="#222" stroke-width="0.45"/><rect x="273.69" y="189.16" width="7.01" height="11.68" fill="#1fb2b8" stroke="#222" stroke-width="0.45"/><line x1="273.69" y1="195.88" x2="280.69" y2="195.88" stroke="#222" stroke-width="0.8"/><line x1="267.99" y1="231.5" x2="267.99" y2="232.7" stroke="#222" stroke-width="0.4"/><text transform="translate(269.39 235.1) rotate(-50)" font-size="4.6" text-anchor="end">Pre</text><line x1="277.19" y1="231.5" x2="277.19" y2="232.7" stroke="#222" stroke-width="0.4"/><text transform="translate(278.59 235.1) rotate(-50)" font-size="4.6" text-anchor="end">Post</text><text transform="translate(240.99 204.76) rotate(-90)" font-size="4.4" text-anchor="middle">TCR Signaling</text><text transform="translate(246.39 204.76) rotate(-90)" font-size="4.4" text-anchor="middle">signature score</text><line x1="308.72" y1="176.02" x2="308.72" y2="231.5" stroke="#222" stroke-width="0.6"/><line x1="308.72" y1="231.5" x2="325.07" y2="231.5" stroke="#222" stroke-width="0.6"/><line x1="307.52" y1="184.2" x2="308.72" y2="184.2" stroke="#222" stroke-width="0.4"/><text x="306.92" y="185.7" font-size="4.5" text-anchor="end">0.2</text><line x1="307.52" y1="197.92" x2="308.72" y2="197.92" stroke="#222" stroke-width="0.4"/><text x="306.92" y="199.42" font-size="4.5" text-anchor="end">0.1</text><line x1="307.52" y1="211.93" x2="308.72" y2="211.93" stroke="#222" stroke-width="0.4"/><text x="306.92" y="213.43" font-size="4.5" text-anchor="end">0.0</text><line x1="307.52" y1="225.95" x2="308.72" y2="225.95" stroke="#222" stroke-width="0.4"/><text x="306.92" y="227.45" font-size="4.5" text-anchor="end">-0.1</text><line x1="313.1" y1="179.82" x2="313.1" y2="185.66" stroke="#222" stroke-width="0.45"/><line x1="313.1" y1="194.42" x2="313.1" y2="198.8" stroke="#222" stroke-width="0.45"/><rect x="310.18" y="185.66" width="5.84" height="8.76" fill="#ea6f66" stroke="#222" stroke-width="0.45"/><line x1="310.18" y1="190.04" x2="316.02" y2="190.04" stroke="#222" stroke-width="0.8"/><circle cx="313.1" cy="229.45" r=".95" fill="#111"/><line x1="320.4" y1="187.12" x2="320.4" y2="200.26" stroke="#222" stroke-width="0.45"/><line x1="320.4" y1="210.47" x2="320.4" y2="218.65" stroke="#222" stroke-width="0.45"/><rect x="317.48" y="200.26" width="5.84" height="10.22" fill="#1fb2b8" stroke="#222" stroke-width="0.45"/><line x1="317.48" y1="206.97" x2="323.32" y2="206.97" stroke="#222" stroke-width="0.8"/><line x1="313.1" y1="231.5" x2="313.1" y2="232.7" stroke="#222" stroke-width="0.4"/><text transform="translate(314.5 235.1) rotate(-50)" font-size="4.6" text-anchor="end">Pre</text><line x1="320.4" y1="231.5" x2="320.4" y2="232.7" stroke="#222" stroke-width="0.4"/><text transform="translate(321.8 235.1) rotate(-50)" font-size="4.6" text-anchor="end">Post</text><text transform="translate(289.74 204.76) rotate(-90)" font-size="4.4" text-anchor="middle">T-cell Checkpoints</text><text transform="translate(295.14 204.76) rotate(-90)" font-size="4.4" text-anchor="middle">signature score</text><path d="M313.1 177.04V175.44H320.4V177.04" fill="none" stroke="#222" stroke-width=".5"/><text x="316.75" y="175.14" font-size="5" text-anchor="middle" font-weight="bold">***</text><line x1="350.18" y1="176.02" x2="350.18" y2="231.5" stroke="#222" stroke-width="0.6"/><line x1="350.18" y1="231.5" x2="369.45" y2="231.5" stroke="#222" stroke-width="0.6"/><line x1="348.98" y1="177.77" x2="350.18" y2="177.77" stroke="#222" stroke-width="0.4"/><text x="348.38" y="179.27" font-size="4.5" text-anchor="end">0.5</text><line x1="348.98" y1="192.08" x2="350.18" y2="192.08" stroke="#222" stroke-width="0.4"/><text x="348.38" y="193.58" font-size="4.5" text-anchor="end">0.4</text><line x1="348.98" y1="206.09" x2="350.18" y2="206.09" stroke="#222" stroke-width="0.4"/><text x="348.38" y="207.59" font-size="4.5" text-anchor="end">0.3</text><line x1="348.98" y1="219.82" x2="350.18" y2="219.82" stroke="#222" stroke-width="0.4"/><text x="348.38" y="221.32" font-size="4.5" text-anchor="end">0.2</text><line x1="355.58" y1="179.82" x2="355.58" y2="182.74" stroke="#222" stroke-width="0.45"/><line x1="355.58" y1="190.04" x2="355.58" y2="192.96" stroke="#222" stroke-width="0.45"/><rect x="352.23" y="182.74" width="6.72" height="7.3" fill="#ea6f66" stroke="#222" stroke-width="0.45"/><line x1="352.23" y1="186.24" x2="358.94" y2="186.24" stroke="#222" stroke-width="0.8"/><circle cx="355.58" cy="219.23" r=".95" fill="#111"/><line x1="364.34" y1="184.2" x2="364.34" y2="189.16" stroke="#222" stroke-width="0.45"/><line x1="364.34" y1="196.46" x2="364.34" y2="201.72" stroke="#222" stroke-width="0.45"/><rect x="360.99" y="189.16" width="6.72" height="7.3" fill="#1fb2b8" stroke="#222" stroke-width="0.45"/><line x1="360.99" y1="192.96" x2="367.7" y2="192.96" stroke="#222" stroke-width="0.8"/><circle cx="364.34" cy="213.39" r=".95" fill="#111"/><circle cx="364.34" cy="219.23" r=".95" fill="#111"/><circle cx="364.34" cy="228.58" r=".95" fill="#111"/><line x1="355.58" y1="231.5" x2="355.58" y2="232.7" stroke="#222" stroke-width="0.4"/><text transform="translate(356.98 235.1) rotate(-50)" font-size="4.6" text-anchor="end">Pre</text><line x1="364.34" y1="231.5" x2="364.34" y2="232.7" stroke="#222" stroke-width="0.4"/><text transform="translate(365.74 235.1) rotate(-50)" font-size="4.6" text-anchor="end">Post</text><text transform="translate(335.58 204.76) rotate(-90)" font-size="4.4" text-anchor="middle">Treg Differentiation</text><text transform="translate(340.98 204.76) rotate(-90)" font-size="4.4" text-anchor="middle">signature score</text><path d="M356.02 177.04V175.44H364.2V177.04" fill="none" stroke="#222" stroke-width=".5"/><text x="360.11" y="175.14" font-size="5" text-anchor="middle" font-weight="bold">***</text>
<text x="-1" y="262.7" font-size="16" font-weight="bold">d</text><path d="M40.8 415.9H340.4M40.8 386.22H340.4M40.8 356.54H340.4M40.8 326.86H340.4M40.8 297.18H340.4M40.8 267.5H340.4M52.63 262.2V422.8M72.34 262.2V422.8M92.05 262.2V422.8M111.76 262.2V422.8M131.47 262.2V422.8M151.18 262.2V422.8M170.89 262.2V422.8M190.6 262.2V422.8M210.31 262.2V422.8M230.02 262.2V422.8M249.73 262.2V422.8M269.44 262.2V422.8M289.15 262.2V422.8M308.86 262.2V422.8M328.57 262.2V422.8" stroke="#e4e4e4" stroke-width=".5" fill="none"/><path d="M40.8 401.06H340.4M40.8 371.38H340.4M40.8 341.7H340.4M40.8 312.02H340.4M40.8 282.34H340.4" stroke="#efefef" stroke-width=".3" fill="none"/><rect x="40.8" y="262.2" width="299.6" height="160.6" fill="none" stroke="#555" stroke-width="0.5"/><line x1="39.5" y1="415.9" x2="40.8" y2="415.9" stroke="#333" stroke-width="0.4"/><text x="38.4" y="417.8" font-size="5.5" text-anchor="end" fill="#222">0.0</text><line x1="39.5" y1="386.22" x2="40.8" y2="386.22" stroke="#333" stroke-width="0.4"/><text x="38.4" y="388.12" font-size="5.5" text-anchor="end" fill="#222">0.1</text><line x1="39.5" y1="356.54" x2="40.8" y2="356.54" stroke="#333" stroke-width="0.4"/><text x="38.4" y="358.44" font-size="5.5" text-anchor="end" fill="#222">0.2</text><line x1="39.5" y1="326.86" x2="40.8" y2="326.86" stroke="#333" stroke-width="0.4"/><text x="38.4" y="328.76" font-size="5.5" text-anchor="end" fill="#222">0.3</text><line x1="39.5" y1="297.18" x2="40.8" y2="297.18" stroke="#333" stroke-width="0.4"/><text x="38.4" y="299.08" font-size="5.5" text-anchor="end" fill="#222">0.4</text><line x1="39.5" y1="267.5" x2="40.8" y2="267.5" stroke="#333" stroke-width="0.4"/><text x="38.4" y="269.4" font-size="5.5" text-anchor="end" fill="#222">0.5</text><text transform="translate(26 345.5) rotate(-90)" font-size="5.5" text-anchor="middle">Score</text><line x1="52.63" y1="422.8" x2="52.63" y2="424.1" stroke="#333" stroke-width="0.4"/><text transform="translate(54.43 427.4) rotate(-45)" font-size="5.5" text-anchor="end">Bcell</text><line x1="48.98" y1="270.47" x2="48.98" y2="335.17" stroke="#222" stroke-width="0.55"/><line x1="48.98" y1="388.59" x2="48.98" y2="415.9" stroke="#222" stroke-width="0.55"/><rect x="45.48" y="335.17" width="7" height="53.42" fill="#ea6f66" stroke="#333" stroke-width="0.45"/><line x1="45.48" y1="368.41" x2="52.48" y2="368.41" stroke="#333" stroke-width="0.8"/><line x1="56.27" y1="328.34" x2="56.27" y2="352.38" stroke="#222" stroke-width="0.55"/><line x1="56.27" y1="371.38" x2="56.27" y2="384.74" stroke="#222" stroke-width="0.55"/><rect x="52.78" y="352.38" width="7" height="19" fill="#1fb2b8" stroke="#333" stroke-width="0.45"/><line x1="52.78" y1="364.55" x2="59.77" y2="364.55" stroke="#333" stroke-width="0.8"/><line x1="72.34" y1="422.8" x2="72.34" y2="424.1" stroke="#333" stroke-width="0.4"/><text transform="translate(74.14 427.4) rotate(-45)" font-size="5.5" text-anchor="end">CD4_T</text><line x1="68.69" y1="328.34" x2="68.69" y2="339.33" stroke="#222" stroke-width="0.55"/><line x1="68.69" y1="352.09" x2="68.69" y2="356.54" stroke="#222" stroke-width="0.55"/><rect x="65.19" y="339.33" width="7" height="12.76" fill="#ea6f66" stroke="#333" stroke-width="0.45"/><line x1="65.19" y1="348.23" x2="72.19" y2="348.23" stroke="#333" stroke-width="0.8"/><circle cx="68.69" cy="390.67" r="1.05" fill="#222"/><line x1="75.99" y1="338.73" x2="75.99" y2="344.07" stroke="#222" stroke-width="0.55"/><line x1="75.99" y1="358.02" x2="75.99" y2="366.93" stroke="#222" stroke-width="0.55"/><rect x="72.49" y="344.07" width="7" height="13.95" fill="#1fb2b8" stroke="#333" stroke-width="0.45"/><line x1="72.49" y1="352.68" x2="79.48" y2="352.68" stroke="#333" stroke-width="0.8"/><line x1="92.05" y1="422.8" x2="92.05" y2="424.1" stroke="#333" stroke-width="0.4"/><text transform="translate(93.85 427.4) rotate(-45)" font-size="5.5" text-anchor="end">CD8_T</text><line x1="88.4" y1="382.66" x2="88.4" y2="386.22" stroke="#222" stroke-width="0.55"/><line x1="88.4" y1="397.5" x2="88.4" y2="409.96" stroke="#222" stroke-width="0.55"/><rect x="84.9" y="386.22" width="7" height="11.28" fill="#ea6f66" stroke="#333" stroke-width="0.45"/><line x1="84.9" y1="391.56" x2="91.9" y2="391.56" stroke="#333" stroke-width="0.8"/><line x1="95.7" y1="386.22" x2="95.7" y2="390.67" stroke="#222" stroke-width="0.55"/><line x1="95.7" y1="398.09" x2="95.7" y2="401.06" stroke="#222" stroke-width="0.55"/><rect x="92.2" y="390.67" width="7" height="7.42" fill="#1fb2b8" stroke="#333" stroke-width="0.45"/><line x1="92.2" y1="393.64" x2="99.19" y2="393.64" stroke="#333" stroke-width="0.8"/><line x1="111.76" y1="422.8" x2="111.76" y2="424.1" stroke="#333" stroke-width="0.4"/><text transform="translate(113.56 427.4) rotate(-45)" font-size="5.5" text-anchor="end">Cytotoxic</text><line x1="108.11" y1="328.34" x2="108.11" y2="343.78" stroke="#222" stroke-width="0.55"/><line x1="108.11" y1="354.46" x2="108.11" y2="356.54" stroke="#222" stroke-width="0.55"/><rect x="104.61" y="343.78" width="7" height="10.68" fill="#ea6f66" stroke="#333" stroke-width="0.45"/><line x1="104.61" y1="351.2" x2="111.61" y2="351.2" stroke="#333" stroke-width="0.8"/><circle cx="108.11" cy="376.72" r="1.05" fill="#222"/><circle cx="108.11" cy="382.66" r="1.05" fill="#222"/><line x1="115.41" y1="340.22" x2="115.41" y2="347.04" stroke="#222" stroke-width="0.55"/><line x1="115.41" y1="354.46" x2="115.41" y2="363.07" stroke="#222" stroke-width="0.55"/><rect x="111.91" y="347.04" width="7" height="7.42" fill="#1fb2b8" stroke="#333" stroke-width="0.45"/><line x1="111.91" y1="350.6" x2="118.91" y2="350.6" stroke="#333" stroke-width="0.8"/><line x1="131.47" y1="422.8" x2="131.47" y2="424.1" stroke="#333" stroke-width="0.4"/><text transform="translate(133.27 427.4) rotate(-45)" font-size="5.5" text-anchor="end">Exhausted</text><line x1="127.82" y1="386.81" x2="127.82" y2="394.23" stroke="#222" stroke-width="0.55"/><line x1="127.82" y1="404.03" x2="127.82" y2="415.9" stroke="#222" stroke-width="0.55"/><rect x="124.32" y="394.23" width="7" height="9.79" fill="#ea6f66" stroke="#333" stroke-width="0.45"/><line x1="124.32" y1="399.58" x2="131.32" y2="399.58" stroke="#333" stroke-width="0.8"/><line x1="135.12" y1="401.06" x2="135.12" y2="403.43" stroke="#222" stroke-width="0.55"/><line x1="135.12" y1="415.01" x2="135.12" y2="415.9" stroke="#222" stroke-width="0.55"/><rect x="131.62" y="403.43" width="7" height="11.58" fill="#1fb2b8" stroke="#333" stroke-width="0.45"/><line x1="131.62" y1="407.59" x2="138.62" y2="407.59" stroke="#333" stroke-width="0.8"/><line x1="151.18" y1="422.8" x2="151.18" y2="424.1" stroke="#333" stroke-width="0.4"/><text transform="translate(152.98 427.4) rotate(-45)" font-size="5.5" text-anchor="end">T γδ</text><line x1="147.53" y1="343.18" x2="147.53" y2="351.49" stroke="#222" stroke-width="0.55"/><line x1="147.53" y1="363.37" x2="147.53" y2="374.94" stroke="#222" stroke-width="0.55"/><rect x="144.03" y="351.49" width="7" height="11.87" fill="#ea6f66" stroke="#333" stroke-width="0.45"/><line x1="144.03" y1="355.95" x2="151.03" y2="355.95" stroke="#333" stroke-width="0.8"/><circle cx="147.53" cy="334.28" r="1.05" fill="#222"/><circle cx="147.53" cy="331.31" r="1.05" fill="#222"/><circle cx="147.53" cy="415.9" r="1.05" fill="#222"/><line x1="154.83" y1="351.2" x2="154.83" y2="360.99" stroke="#222" stroke-width="0.55"/><line x1="154.83" y1="370.49" x2="154.83" y2="374.35" stroke="#222" stroke-width="0.55"/><rect x="151.33" y="360.99" width="7" height="9.5" fill="#1fb2b8" stroke="#333" stroke-width="0.45"/><line x1="151.33" y1="365.15" x2="158.33" y2="365.15" stroke="#333" stroke-width="0.8"/><circle cx="154.83" cy="393.05" r="1.05" fill="#222"/><line x1="170.89" y1="422.8" x2="170.89" y2="424.1" stroke="#333" stroke-width="0.4"/><text transform="translate(172.69 427.4) rotate(-45)" font-size="5.5" text-anchor="end">iTreg</text><line x1="167.24" y1="355.06" x2="167.24" y2="364.55" stroke="#222" stroke-width="0.55"/><line x1="167.24" y1="371.97" x2="167.24" y2="378.8" stroke="#222" stroke-width="0.55"/><rect x="163.74" y="364.55" width="7" height="7.42" fill="#ea6f66" stroke="#333" stroke-width="0.45"/><line x1="163.74" y1="369.01" x2="170.74" y2="369.01" stroke="#333" stroke-width="0.8"/><circle cx="167.24" cy="385.63" r="1.05" fill="#222"/><circle cx="167.24" cy="401.06" r="1.05" fill="#222"/><line x1="174.54" y1="360.1" x2="174.54" y2="368.41" stroke="#222" stroke-width="0.55"/><line x1="174.54" y1="374.35" x2="174.54" y2="380.88" stroke="#222" stroke-width="0.55"/><rect x="171.04" y="368.41" width="7" height="5.94" fill="#1fb2b8" stroke="#333" stroke-width="0.45"/><line x1="171.04" y1="371.38" x2="178.04" y2="371.38" stroke="#333" stroke-width="0.8"/><circle cx="174.54" cy="357.73" r="1.05" fill="#222"/><line x1="190.6" y1="422.8" x2="190.6" y2="424.1" stroke="#333" stroke-width="0.4"/><text transform="translate(192.4 427.4) rotate(-45)" font-size="5.5" text-anchor="end">MAIT</text><line x1="186.95" y1="363.66" x2="186.95" y2="371.38" stroke="#222" stroke-width="0.55"/><line x1="186.95" y1="390.38" x2="186.95" y2="415.9" stroke="#222" stroke-width="0.55"/><rect x="183.45" y="371.38" width="7" height="19" fill="#ea6f66" stroke="#333" stroke-width="0.45"/><line x1="183.45" y1="383.25" x2="190.45" y2="383.25" stroke="#333" stroke-width="0.8"/><line x1="194.25" y1="367.22" x2="194.25" y2="369.3" stroke="#222" stroke-width="0.55"/><line x1="194.25" y1="375.54" x2="194.25" y2="378.5" stroke="#222" stroke-width="0.55"/><rect x="190.75" y="369.3" width="7" height="6.23" fill="#1fb2b8" stroke="#333" stroke-width="0.45"/><line x1="190.75" y1="372.57" x2="197.75" y2="372.57" stroke="#333" stroke-width="0.8"/><circle cx="194.25" cy="347.93" r="1.05" fill="#222"/><circle cx="194.25" cy="352.68" r="1.05" fill="#222"/><circle cx="194.25" cy="355.35" r="1.05" fill="#222"/><circle cx="194.25" cy="389.19" r="1.05" fill="#222"/><circle cx="194.25" cy="405.22" r="1.05" fill="#222"/><line x1="210.31" y1="422.8" x2="210.31" y2="424.1" stroke="#333" stroke-width="0.4"/><text transform="translate(212.11 427.4) rotate(-45)" font-size="5.5" text-anchor="end">NKT</text><line x1="206.66" y1="355.35" x2="206.66" y2="370.19" stroke="#222" stroke-width="0.55"/><line x1="206.66" y1="382.66" x2="206.66" y2="387.7" stroke="#222" stroke-width="0.55"/><rect x="203.16" y="370.19" width="7" height="12.47" fill="#ea6f66" stroke="#333" stroke-width="0.45"/><line x1="203.16" y1="379.39" x2="210.16" y2="379.39" stroke="#333" stroke-width="0.8"/><circle cx="206.66" cy="346.45" r="1.05" fill="#222"/><circle cx="206.66" cy="412.34" r="1.05" fill="#222"/><circle cx="206.66" cy="415.9" r="1.05" fill="#222"/><line x1="213.96" y1="370.19" x2="213.96" y2="371.38" stroke="#222" stroke-width="0.55"/><line x1="213.96" y1="379.99" x2="213.96" y2="384.44" stroke="#222" stroke-width="0.55"/><rect x="210.46" y="371.38" width="7" height="8.61" fill="#1fb2b8" stroke="#333" stroke-width="0.45"/><line x1="210.46" y1="374.94" x2="217.46" y2="374.94" stroke="#333" stroke-width="0.8"/><circle cx="213.96" cy="350.01" r="1.05" fill="#222"/><circle cx="213.96" cy="350.9" r="1.05" fill="#222"/><line x1="230.02" y1="422.8" x2="230.02" y2="424.1" stroke="#333" stroke-width="0.4"/><text transform="translate(231.82 427.4) rotate(-45)" font-size="5.5" text-anchor="end">nTreg</text><line x1="226.37" y1="359.8" x2="226.37" y2="369.3" stroke="#222" stroke-width="0.55"/><line x1="226.37" y1="378.5" x2="226.37" y2="390.38" stroke="#222" stroke-width="0.55"/><rect x="222.87" y="369.3" width="7" height="9.2" fill="#ea6f66" stroke="#333" stroke-width="0.45"/><line x1="222.87" y1="374.35" x2="229.87" y2="374.35" stroke="#333" stroke-width="0.8"/><line x1="233.67" y1="361.88" x2="233.67" y2="371.97" stroke="#222" stroke-width="0.55"/><line x1="233.67" y1="379.99" x2="233.67" y2="389.19" stroke="#222" stroke-width="0.55"/><rect x="230.17" y="371.97" width="7" height="8.01" fill="#1fb2b8" stroke="#333" stroke-width="0.45"/><line x1="230.17" y1="375.83" x2="237.17" y2="375.83" stroke="#333" stroke-width="0.8"/><circle cx="233.67" cy="359.51" r="1.05" fill="#222"/><line x1="249.73" y1="422.8" x2="249.73" y2="424.1" stroke="#333" stroke-width="0.4"/><text transform="translate(251.53 427.4) rotate(-45)" font-size="5.5" text-anchor="end">Tfh</text><line x1="246.08" y1="293.92" x2="246.08" y2="302.23" stroke="#222" stroke-width="0.55"/><line x1="246.08" y1="346.45" x2="246.08" y2="369.6" stroke="#222" stroke-width="0.55"/><rect x="242.58" y="302.23" width="7" height="44.22" fill="#ea6f66" stroke="#333" stroke-width="0.45"/><line x1="242.58" y1="317.36" x2="249.58" y2="317.36" stroke="#333" stroke-width="0.8"/><line x1="253.38" y1="292.43" x2="253.38" y2="299.26" stroke="#222" stroke-width="0.55"/><line x1="253.38" y1="311.43" x2="253.38" y2="322.41" stroke="#222" stroke-width="0.55"/><rect x="249.88" y="299.26" width="7" height="12.17" fill="#1fb2b8" stroke="#333" stroke-width="0.45"/><line x1="249.88" y1="306.38" x2="256.88" y2="306.38" stroke="#333" stroke-width="0.8"/><circle cx="253.38" cy="337.54" r="1.05" fill="#222"/><line x1="269.44" y1="422.8" x2="269.44" y2="424.1" stroke="#333" stroke-width="0.4"/><text transform="translate(271.24 427.4) rotate(-45)" font-size="5.5" text-anchor="end">Th1</text><line x1="265.79" y1="356.54" x2="265.79" y2="373.75" stroke="#222" stroke-width="0.55"/><line x1="265.79" y1="388.3" x2="265.79" y2="407" stroke="#222" stroke-width="0.55"/><rect x="262.29" y="373.75" width="7" height="14.54" fill="#ea6f66" stroke="#333" stroke-width="0.45"/><line x1="262.29" y1="384.14" x2="269.29" y2="384.14" stroke="#333" stroke-width="0.8"/><circle cx="265.79" cy="415.9" r="1.05" fill="#222"/><line x1="273.09" y1="371.97" x2="273.09" y2="382.96" stroke="#222" stroke-width="0.55"/><line x1="273.09" y1="391.56" x2="273.09" y2="395.12" stroke="#222" stroke-width="0.55"/><rect x="269.59" y="382.96" width="7" height="8.61" fill="#1fb2b8" stroke="#333" stroke-width="0.45"/><line x1="269.59" y1="385.33" x2="276.59" y2="385.33" stroke="#333" stroke-width="0.8"/><circle cx="273.09" cy="407.59" r="1.05" fill="#222"/><circle cx="273.09" cy="415.9" r="1.05" fill="#222"/><line x1="289.15" y1="422.8" x2="289.15" y2="424.1" stroke="#333" stroke-width="0.4"/><text transform="translate(290.95 427.4) rotate(-45)" font-size="5.5" text-anchor="end">Th17</text><line x1="285.5" y1="304.9" x2="285.5" y2="324.49" stroke="#222" stroke-width="0.55"/><line x1="285.5" y1="342.29" x2="285.5" y2="359.51" stroke="#222" stroke-width="0.55"/><rect x="282.01" y="324.49" width="7" height="17.81" fill="#ea6f66" stroke="#333" stroke-width="0.45"/><line x1="282.01" y1="332.2" x2="289" y2="332.2" stroke="#333" stroke-width="0.8"/><circle cx="285.5" cy="415.9" r="1.05" fill="#222"/><line x1="292.8" y1="303.41" x2="292.8" y2="320.63" stroke="#222" stroke-width="0.55"/><line x1="292.8" y1="336.65" x2="292.8" y2="340.51" stroke="#222" stroke-width="0.55"/><rect x="289.3" y="320.63" width="7" height="16.03" fill="#1fb2b8" stroke="#333" stroke-width="0.45"/><line x1="289.3" y1="328.34" x2="296.3" y2="328.34" stroke="#333" stroke-width="0.8"/><circle cx="292.8" cy="369.3" r="1.05" fill="#222"/><circle cx="292.8" cy="410.85" r="1.05" fill="#222"/><line x1="308.86" y1="422.8" x2="308.86" y2="424.1" stroke="#333" stroke-width="0.4"/><text transform="translate(310.66 427.4) rotate(-45)" font-size="5.5" text-anchor="end">Th2</text><line x1="305.21" y1="359.8" x2="305.21" y2="379.1" stroke="#222" stroke-width="0.55"/><line x1="305.21" y1="397.2" x2="305.21" y2="408.48" stroke="#222" stroke-width="0.55"/><rect x="301.72" y="379.1" width="7" height="18.1" fill="#ea6f66" stroke="#333" stroke-width="0.45"/><line x1="301.72" y1="392.16" x2="308.71" y2="392.16" stroke="#333" stroke-width="0.8"/><line x1="312.51" y1="375.83" x2="312.51" y2="378.5" stroke="#222" stroke-width="0.55"/><line x1="312.51" y1="394.53" x2="312.51" y2="409.67" stroke="#222" stroke-width="0.55"/><rect x="309.01" y="378.5" width="7" height="16.03" fill="#1fb2b8" stroke="#333" stroke-width="0.45"/><line x1="309.01" y1="387.11" x2="316.01" y2="387.11" stroke="#333" stroke-width="0.8"/><circle cx="312.51" cy="354.46" r="1.05" fill="#222"/><line x1="328.57" y1="422.8" x2="328.57" y2="424.1" stroke="#333" stroke-width="0.4"/><text transform="translate(330.37 427.4) rotate(-45)" font-size="5.5" text-anchor="end">Tr1</text><line x1="324.93" y1="369.6" x2="324.93" y2="372.86" stroke="#222" stroke-width="0.55"/><line x1="324.93" y1="377.32" x2="324.93" y2="384.14" stroke="#222" stroke-width="0.55"/><rect x="321.43" y="372.86" width="7" height="4.45" fill="#ea6f66" stroke="#333" stroke-width="0.45"/><line x1="321.43" y1="375.24" x2="328.42" y2="375.24" stroke="#333" stroke-width="0.8"/><circle cx="324.93" cy="387.11" r="1.05" fill="#222"/><circle cx="324.93" cy="393.94" r="1.05" fill="#222"/><line x1="332.22" y1="374.94" x2="332.22" y2="377.32" stroke="#222" stroke-width="0.55"/><line x1="332.22" y1="380.58" x2="332.22" y2="384.14" stroke="#222" stroke-width="0.55"/><rect x="328.72" y="377.32" width="7" height="3.26" fill="#1fb2b8" stroke="#333" stroke-width="0.45"/><line x1="328.72" y1="379.1" x2="335.72" y2="379.1" stroke="#333" stroke-width="0.8"/><circle cx="332.22" cy="389.78" r="1.05" fill="#222"/><circle cx="332.22" cy="398.98" r="1.05" fill="#222"/><text x="131.47" y="269.3" font-size="5" text-anchor="middle" font-weight="bold">**</text><text x="190.6" y="269.3" font-size="5" text-anchor="middle" font-weight="bold">*</text><text x="249.73" y="269.3" font-size="5" text-anchor="middle" font-weight="bold">*</text><text x="297" y="273.2" font-size="5.5">Treatment</text><line x1="303.4" y1="279.6" x2="303.4" y2="289.2" stroke="#333" stroke-width="0.45"/><rect x="298.4" y="280.8" width="10" height="7.2" fill="#ea6f66" stroke="#333" stroke-width="0.45"/><line x1="298.4" y1="284.4" x2="308.4" y2="284.4" stroke="#333" stroke-width="0.8"/><text x="311.5" y="286.3" font-size="5.3">Pre</text><line x1="303.4" y1="291.8" x2="303.4" y2="301.4" stroke="#333" stroke-width="0.45"/><rect x="298.4" y="293" width="10" height="7.2" fill="#1fb2b8" stroke="#333" stroke-width="0.45"/><line x1="298.4" y1="296.6" x2="308.4" y2="296.6" stroke="#333" stroke-width="0.8"/><text x="311.5" y="298.5" font-size="5.3">Post</text>
<text x="-1" y="478.7" font-size="16" font-weight="bold">e</text><text x="19" y="481.35" font-size="5.4" text-anchor="end" fill="#4d4d4d">5.0</text><text x="19" y="496.47" font-size="5.4" text-anchor="end" fill="#4d4d4d">2.5</text><text x="19" y="511.6" font-size="5.4" text-anchor="end" fill="#4d4d4d">0.0</text><text x="19" y="526.73" font-size="5.4" text-anchor="end" fill="#4d4d4d">−2.5</text><text x="19" y="541.85" font-size="5.4" text-anchor="end" fill="#4d4d4d">−5.0</text><path d="M20.5 479.45H260.6M20.5 494.57H260.6M20.5 509.7H260.6M20.5 524.83H260.6M20.5 539.95H260.6M27.3 477V541M38.65 477V541M50 477V541M61.35 477V541M72.7 477V541M84.05 477V541M95.4 477V541M106.75 477V541M118.1 477V541M129.45 477V541M140.8 477V541M152.15 477V541M163.5 477V541M174.85 477V541M186.2 477V541M197.55 477V541M208.9 477V541M220.25 477V541M231.6 477V541M242.95 477V541M254.3 477V541" stroke="#e6e6e6" stroke-width=".9" fill="none"/><path d="M20.5 487.01H260.6M20.5 502.14H260.6M20.5 517.26H260.6M20.5 532.39H260.6" stroke="#efefef" stroke-width=".45" fill="none"/><text x="20.6" y="475.7" font-size="6.1">T Cells</text><text transform="translate(5.2 509) rotate(-90)" font-size="5.4" text-anchor="middle">logFC</text><rect x="22.3" y="481.63" width="10" height="28.07" fill="#ec736b"/><text transform="translate(29.3 508.5) rotate(-90)" font-size="5.6">KRT5</text><rect x="33.65" y="484.29" width="10" height="25.41" fill="#ec736b"/><text transform="translate(40.65 508.5) rotate(-90)" font-size="5.6">KRT14</text><rect x="45" y="485.8" width="10" height="23.9" fill="#ec736b"/><text transform="translate(52 508.5) rotate(-90)" font-size="5.6">APOD</text><rect x="56.35" y="490.76" width="10" height="18.94" fill="#ec736b"/><text transform="translate(63.35 508.5) rotate(-90)" font-size="5.6">SLCO1B3</text><rect x="67.7" y="490.76" width="10" height="18.94" fill="#ec736b"/><text transform="translate(74.7 508.5) rotate(-90)" font-size="5.6">PTN</text><rect x="79.05" y="490.64" width="10" height="19.06" fill="#ec736b"/><text transform="translate(86.05 508.5) rotate(-90)" font-size="5.6">ADAMTS19</text><rect x="90.4" y="491.25" width="10" height="18.45" fill="#ec736b"/><text transform="translate(97.4 508.5) rotate(-90)" font-size="5.6">ZBTB16</text><rect x="101.75" y="491.55" width="10" height="18.15" fill="#ec736b"/><text transform="translate(108.75 508.5) rotate(-90)" font-size="5.6">FAM166C</text><rect x="113.1" y="495.78" width="10" height="13.92" fill="#ec736b"/><text transform="translate(120.1 508.5) rotate(-90)" font-size="5.6">CD69</text><rect x="124.45" y="499.41" width="10" height="10.29" fill="#ec736b"/><text transform="translate(131.45 508.5) rotate(-90)" font-size="5.6">JUN</text><rect x="135.8" y="509.7" width="10" height="13.13" fill="#1db3b8"/><text transform="translate(142.8 511.2) rotate(-90)" font-size="5.6" text-anchor="end">IFNGR2</text><rect x="147.15" y="509.7" width="10" height="19.36" fill="#1db3b8"/><text transform="translate(154.15 511.2) rotate(-90)" font-size="5.6" text-anchor="end">IFIT1</text><rect x="158.5" y="509.7" width="10" height="19.36" fill="#1db3b8"/><text transform="translate(165.5 511.2) rotate(-90)" font-size="5.6" text-anchor="end">CXCL9</text><rect x="169.85" y="509.7" width="10" height="19.84" fill="#1db3b8"/><text transform="translate(176.85 511.2) rotate(-90)" font-size="5.6" text-anchor="end">CD24</text><rect x="181.2" y="509.7" width="10" height="20.33" fill="#1db3b8"/><text transform="translate(188.2 511.2) rotate(-90)" font-size="5.6" text-anchor="end">OAS3</text><rect x="192.55" y="509.7" width="10" height="21.3" fill="#1db3b8"/><text transform="translate(199.55 511.2) rotate(-90)" font-size="5.6" text-anchor="end">STAT1</text><rect x="203.9" y="509.7" width="10" height="22.57" fill="#1db3b8"/><text transform="translate(210.9 511.2) rotate(-90)" font-size="5.6" text-anchor="end">IFI27</text><rect x="215.25" y="509.7" width="10" height="22.57" fill="#1db3b8"/><text transform="translate(222.25 511.2) rotate(-90)" font-size="5.6" text-anchor="end">MX1</text><rect x="226.6" y="509.7" width="10" height="23.59" fill="#1db3b8"/><text transform="translate(233.6 511.2) rotate(-90)" font-size="5.6" text-anchor="end">IFITM1</text><rect x="237.95" y="509.7" width="10" height="27.83" fill="#1db3b8"/><text transform="translate(244.95 511.2) rotate(-90)" font-size="5.6" text-anchor="end">IFI6</text><rect x="249.3" y="509.7" width="10" height="27.83" fill="#1db3b8"/><text transform="translate(256.3 511.2) rotate(-90)" font-size="5.6" text-anchor="end">ISG15</text><text x="222.5" y="482.3" font-size="5.4">change</text><rect x="223.3" y="485.7" width="6.5" height="5.4" fill="#ec736b"/><rect x="223.3" y="491.1" width="6.5" height="5.4" fill="#1db3b8"/><text x="232" y="490.5" font-size="5.2">UP</text><text x="232" y="495.7" font-size="5.2">DOWN</text><text x="19" y="561.12" font-size="5.4" text-anchor="end" fill="#4d4d4d">7.5</text><text x="19" y="575.05" font-size="5.4" text-anchor="end" fill="#4d4d4d">5.0</text><text x="19" y="588.98" font-size="5.4" text-anchor="end" fill="#4d4d4d">2.5</text><text x="19" y="602.9" font-size="5.4" text-anchor="end" fill="#4d4d4d">0.0</text><text x="19" y="616.82" font-size="5.4" text-anchor="end" fill="#4d4d4d">−2.5</text><path d="M20.5 559.23H260.6M20.5 573.15H260.6M20.5 587.08H260.6M20.5 601H260.6M20.5 614.92H260.6M26.9 557.5V618.5M37.21 557.5V618.5M47.52 557.5V618.5M57.83 557.5V618.5M68.14 557.5V618.5M78.45 557.5V618.5M88.76 557.5V618.5M99.07 557.5V618.5M109.38 557.5V618.5M119.69 557.5V618.5M130 557.5V618.5M140.31 557.5V618.5M150.62 557.5V618.5M160.93 557.5V618.5M171.24 557.5V618.5M181.55 557.5V618.5M191.86 557.5V618.5M202.17 557.5V618.5M212.48 557.5V618.5M222.79 557.5V618.5M233.1 557.5V618.5M243.41 557.5V618.5M253.72 557.5V618.5" stroke="#e6e6e6" stroke-width=".9" fill="none"/><path d="M20.5 566.19H260.6M20.5 580.11H260.6M20.5 594.04H260.6M20.5 607.96H260.6" stroke="#efefef" stroke-width=".45" fill="none"/><text x="20.6" y="553.2" font-size="6.1">B Cells</text><text transform="translate(5.2 588) rotate(-90)" font-size="5.4" text-anchor="middle">logFC</text><rect x="22.3" y="560.34" width="9.2" height="40.66" fill="#ec736b"/><text transform="translate(28.9 599.8) rotate(-90)" font-size="5.6">ITIH3</text><rect x="32.61" y="574.71" width="9.2" height="26.29" fill="#ec736b"/><text transform="translate(39.21 599.8) rotate(-90)" font-size="5.6">KRT5</text><rect x="42.92" y="578.94" width="9.2" height="22.06" fill="#ec736b"/><text transform="translate(49.52 599.8) rotate(-90)" font-size="5.6">KRT14</text><rect x="53.23" y="578.94" width="9.2" height="22.06" fill="#ec736b"/><text transform="translate(59.83 599.8) rotate(-90)" font-size="5.6">APOD</text><rect x="63.54" y="580" width="9.2" height="21" fill="#ec736b"/><text transform="translate(70.14 599.8) rotate(-90)" font-size="5.6">PHKA2</text><rect x="73.85" y="580.5" width="9.2" height="20.5" fill="#ec736b"/><text transform="translate(80.45 599.8) rotate(-90)" font-size="5.6">PSMD9</text><rect x="84.16" y="580.78" width="9.2" height="20.22" fill="#ec736b"/><text transform="translate(90.76 599.8) rotate(-90)" font-size="5.6">ZBTB16</text><rect x="94.47" y="581.5" width="9.2" height="19.5" fill="#ec736b"/><text transform="translate(101.07 599.8) rotate(-90)" font-size="5.6">ACTA2</text><rect x="104.78" y="582.06" width="9.2" height="18.94" fill="#ec736b"/><text transform="translate(111.38 599.8) rotate(-90)" font-size="5.6">MTRNR2L1</text><rect x="115.09" y="582.9" width="9.2" height="18.1" fill="#ec736b"/><text transform="translate(121.69 599.8) rotate(-90)" font-size="5.6">JUN</text><rect x="125.4" y="584.29" width="9.2" height="16.71" fill="#ec736b"/><text transform="translate(132 599.8) rotate(-90)" font-size="5.6">PER1</text><rect x="135.71" y="594.71" width="9.2" height="6.29" fill="#ec736b"/><text transform="translate(142.31 599.8) rotate(-90)" font-size="5.6">JUND</text><rect x="146.02" y="601" width="9.2" height="9.47" fill="#1db3b8"/><text transform="translate(152.62 602.5) rotate(-90)" font-size="5.6" text-anchor="end">C1QB</text><rect x="156.33" y="601" width="9.2" height="9.47" fill="#1db3b8"/><text transform="translate(162.93 602.5) rotate(-90)" font-size="5.6" text-anchor="end">CCR5</text><rect x="166.64" y="601" width="9.2" height="9.47" fill="#1db3b8"/><text transform="translate(173.24 602.5) rotate(-90)" font-size="5.6" text-anchor="end">CD22</text><rect x="176.95" y="601" width="9.2" height="10.03" fill="#1db3b8"/><text transform="translate(183.55 602.5) rotate(-90)" font-size="5.6" text-anchor="end">CD40</text><rect x="187.26" y="601" width="9.2" height="10.58" fill="#1db3b8"/><text transform="translate(193.86 602.5) rotate(-90)" font-size="5.6" text-anchor="end">FCMR</text><rect x="197.57" y="601" width="9.2" height="10.58" fill="#1db3b8"/><text transform="translate(204.17 602.5) rotate(-90)" font-size="5.6" text-anchor="end">CD19</text><rect x="207.88" y="601" width="9.2" height="11.14" fill="#1db3b8"/><text transform="translate(214.48 602.5) rotate(-90)" font-size="5.6" text-anchor="end">FCRL3</text><rect x="218.19" y="601" width="9.2" height="11.59" fill="#1db3b8"/><text transform="translate(224.79 602.5) rotate(-90)" font-size="5.6" text-anchor="end">LBH</text><rect x="228.5" y="601" width="9.2" height="12.09" fill="#1db3b8"/><text transform="translate(235.1 602.5) rotate(-90)" font-size="5.6" text-anchor="end">MS4A1</text><rect x="238.81" y="601" width="9.2" height="13.15" fill="#1db3b8"/><text transform="translate(245.41 602.5) rotate(-90)" font-size="5.6" text-anchor="end">FCER2</text><rect x="249.12" y="601" width="9.2" height="15.26" fill="#1db3b8"/><text transform="translate(255.72 602.5) rotate(-90)" font-size="5.6" text-anchor="end">CD79B</text><text x="222.5" y="562" font-size="5.4">change</text><rect x="223.3" y="565.4" width="6.5" height="5.4" fill="#ec736b"/><rect x="223.3" y="570.8" width="6.5" height="5.4" fill="#1db3b8"/><text x="232" y="570.2" font-size="5.2">UP</text><text x="232" y="575.4" font-size="5.2">DOWN</text>
<text x="278.6" y="478.4" font-size="16" font-weight="bold">f</text><rect x="287.8" y="492.8" width="14.1" height="13.4" fill="#cc4e4e"/><rect x="287.8" y="507.3" width="14.1" height="45.3" fill="#f0bab4"/><rect x="287.8" y="553.7" width="14.1" height="29.8" fill="#f6c0ba"/><rect x="287.8" y="584.6" width="14.1" height="41.8" fill="#f6baba"/><rect x="303.2" y="492.8" width="47.5" height="13.4" fill="#f0bab4"/><rect x="303.2" y="507.3" width="47.5" height="45.3" fill="#d86666"/><rect x="303.2" y="553.7" width="47.5" height="29.8" fill="#f6cccc"/><rect x="303.2" y="584.6" width="47.5" height="41.8" fill="#f6d8d8"/><rect x="352.2" y="492.8" width="30.2" height="13.4" fill="#f6c0ba"/><rect x="352.2" y="507.3" width="30.2" height="45.3" fill="#f6cccc"/><rect x="352.2" y="553.7" width="30.2" height="29.8" fill="#d26060"/><rect x="352.2" y="584.6" width="30.2" height="41.8" fill="#f6ccc6"/><rect x="384" y="492.8" width="43.8" height="13.4" fill="#f6baba"/><rect x="384" y="507.3" width="43.8" height="45.3" fill="#f6d8d8"/><rect x="384" y="553.7" width="43.8" height="29.8" fill="#f6ccc6"/><rect x="384" y="584.6" width="43.8" height="41.8" fill="#d26060"/><path d="M407.4 547.7h3.8M343.7 608.7h3.8" stroke="#fcf0f0" stroke-width="3.64"/><path d="M407.4 515.4h3.8M410.8 531.6h3.8M407.4 544.5h3.8M410.8 547.7h3.8M414.1 547.7h3.8M407.4 551h3.8M309.8 608.7h3.8M340.3 608.7h3.8M347.1 608.7h3.8M326.8 611.9h3.8M343.7 611.9h3.8M343.7 615.1h3.8" stroke="#fceaea" stroke-width="3.64"/><path d="M387.2 547.7h3.8M343.7 589.4h3.8" stroke="#fceae4" stroke-width="3.64"/><path d="M410.8 515.4h3.8M407.4 518.6h3.8M407.4 525.1h3.8M407.4 531.6h3.8M407.4 534.8h3.8M410.8 534.8h3.8M407.4 538h3.8M410.8 538h3.8M410.8 544.5h3.8M390.5 547.7h3.8M400.6 547.7h3.8M410.8 551h3.8M343.7 592.6h3.8M343.7 602.3h3.8M313.2 608.7h3.8M320 608.7h3.8M326.8 608.7h3.8M330.1 608.7h3.8M333.5 608.7h3.8M309.8 611.9h3.8M330.1 611.9h3.8M333.5 611.9h3.8M340.3 611.9h3.8M347.1 611.9h3.8" stroke="#fce4e4" stroke-width="3.64"/><path d="M390.5 531.6h3.8M414.1 544.5h3.8M326.8 592.6h3.8M340.3 615.1h3.8" stroke="#fce4de" stroke-width="3.64"/><path d="M407.4 508.9h3.8M410.8 508.9h3.8M387.2 515.4h3.8M390.5 515.4h3.8M400.6 515.4h3.8M414.1 515.4h3.8M410.8 518.6h3.8M410.8 525.1h3.8M407.4 528.3h3.8M414.1 531.6h3.8M414.1 538h3.8M407.4 541.3h3.8M387.2 544.5h3.8M390.5 544.5h3.8M400.6 544.5h3.8M383.8 547.7h3.8M424.2 547.7h3.8M343.7 586.2h3.8M309.8 589.4h3.8M340.3 589.4h3.8M309.8 592.6h3.8M340.3 592.6h3.8M309.8 602.3h3.8M340.3 602.3h3.8M303 608.7h3.8M323.4 608.7h3.8M336.9 608.7h3.8M303 611.9h3.8M313.2 611.9h3.8M320 611.9h3.8M309.8 615.1h3.8M326.8 615.1h3.8M333.5 615.1h3.8M343.7 624.8h3.8" stroke="#fcdede" stroke-width="3.64"/><path d="M407.4 521.9h3.8M410.8 521.9h3.8M410.8 528.3h3.8M387.2 534.8h3.8M390.5 538h3.8M410.8 541.3h3.8M400.6 551h3.8M330.1 589.4h3.8M333.5 592.6h3.8M347.1 602.3h3.8M316.6 608.7h3.8M316.6 611.9h3.8M323.4 611.9h3.8M336.9 611.9h3.8" stroke="#fcded8" stroke-width="3.64"/><path d="M387.2 531.6h3.8M400.6 531.6h3.8M414.1 534.8h3.8M390.5 541.3h3.8M393.9 547.7h3.8M404 547.7h3.8M390.5 551h3.8M326.8 589.4h3.8M336.9 592.6h3.8M347.1 592.6h3.8M343.7 595.9h3.8M326.8 602.3h3.8M343.7 605.5h3.8M330.1 615.1h3.8" stroke="#fcd8d8" stroke-width="3.64"/><path d="M387.2 508.9h3.8M400.6 508.9h3.8M407.4 512.2h3.8M410.8 512.2h3.8M368.8 515.4h3.8M378.8 515.4h3.8M387.2 518.6h3.8M390.5 525.1h3.8M414.1 525.1h3.8M368.8 531.6h3.8M375.5 531.6h3.8M390.5 534.8h3.8M378.8 538h3.8M387.2 538h3.8M387.2 541.3h3.8M414.1 541.3h3.8M393.9 544.5h3.8M397.3 544.5h3.8M404 544.5h3.8M424.2 544.5h3.8M362.1 547.7h3.8M397.3 547.7h3.8M368.8 551h3.8M387.2 551h3.8M414.1 551h3.8M343.7 565.3h3.8M309.8 571.9h3.8M326.8 571.9h3.8M347.1 571.9h3.8M326.8 578.5h3.8M309.8 581.8h3.8M333.5 581.8h3.8M303 589.4h3.8M313.2 589.4h3.8M333.5 589.4h3.8M336.9 589.4h3.8M347.1 589.4h3.8M320 592.6h3.8M330.1 592.6h3.8M340.3 595.9h3.8M340.3 599.1h3.8M343.7 599.1h3.8M303 602.3h3.8M340.3 605.5h3.8M306.4 608.7h3.8M306.4 611.9h3.8M320 615.1h3.8M336.9 615.1h3.8M347.1 615.1h3.8M340.3 624.8h3.8" stroke="#f6d8d8" stroke-width="3.64"/><path d="M400.6 518.6h3.8M383.8 538h3.8M400.6 538h3.8M400.6 541.3h3.8M378.8 547.7h3.8M375.5 551h3.8M378.8 551h3.8M347.1 578.5h3.8M343.7 581.8h3.8M347.1 581.8h3.8M333.5 586.2h3.8M313.2 602.3h3.8M333.5 602.3h3.8M336.9 602.3h3.8" stroke="#f6d8d2" stroke-width="3.64"/><path d="M390.5 508.9h3.8M414.1 508.9h3.8M387.2 512.2h3.8M390.5 512.2h3.8M400.6 512.2h3.8M414.1 512.2h3.8M352 515.4h3.8M362.1 515.4h3.8M372.1 515.4h3.8M375.5 515.4h3.8M383.8 515.4h3.8M393.9 515.4h3.8M397.3 515.4h3.8M404 515.4h3.8M424.2 515.4h3.8M383.8 518.6h3.8M390.5 518.6h3.8M393.9 518.6h3.8M414.1 518.6h3.8M390.5 521.9h3.8M400.6 521.9h3.8M414.1 521.9h3.8M387.2 525.1h3.8M400.6 525.1h3.8M387.2 528.3h3.8M400.6 528.3h3.8M414.1 528.3h3.8M352 531.6h3.8M362.1 531.6h3.8M378.8 531.6h3.8M383.8 531.6h3.8M393.9 531.6h3.8M397.3 531.6h3.8M404 531.6h3.8M424.2 531.6h3.8M378.8 534.8h3.8M400.6 534.8h3.8M362.1 538h3.8M368.8 538h3.8M393.9 538h3.8M397.3 538h3.8M404 538h3.8M368.8 541.3h3.8M375.5 541.3h3.8M397.3 541.3h3.8M378.8 544.5h3.8M383.8 544.5h3.8M352 547.7h3.8M368.8 547.7h3.8M375.5 547.7h3.8M420.9 547.7h3.8M393.9 551h3.8M397.3 551h3.8M404 551h3.8M424.2 551h3.8M309.8 555.4h3.8M326.8 555.4h3.8M343.7 555.4h3.8M309.8 565.3h3.8M326.8 565.3h3.8M333.5 565.3h3.8M333.5 571.9h3.8M336.9 571.9h3.8M343.7 571.9h3.8M390.5 571.9h3.8M309.8 575.2h3.8M309.8 578.5h3.8M336.9 578.5h3.8M343.7 578.5h3.8M326.8 581.8h3.8M330.1 581.8h3.8M340.3 581.8h3.8M309.8 586.2h3.8M313.2 586.2h3.8M326.8 586.2h3.8M340.3 586.2h3.8M306.4 589.4h3.8M320 589.4h3.8M323.4 589.4h3.8M303 592.6h3.8M306.4 592.6h3.8M313.2 592.6h3.8M316.6 592.6h3.8M368.8 592.6h3.8M309.8 595.9h3.8M313.2 595.9h3.8M326.8 595.9h3.8M333.5 595.9h3.8M347.1 595.9h3.8M309.8 599.1h3.8M326.8 599.1h3.8M333.5 599.1h3.8M336.9 599.1h3.8M347.1 599.1h3.8M306.4 602.3h3.8M316.6 602.3h3.8M320 602.3h3.8M323.4 602.3h3.8M330.1 602.3h3.8M309.8 605.5h3.8M326.8 605.5h3.8M333.5 605.5h3.8M347.1 605.5h3.8M303 615.1h3.8M306.4 615.1h3.8M313.2 615.1h3.8M316.6 615.1h3.8M323.4 615.1h3.8M343.7 621.6h3.8M309.8 624.8h3.8M326.8 624.8h3.8M347.1 624.8h3.8" stroke="#f6d2d2" stroke-width="3.64"/><path d="M378.8 508.9h3.8M375.5 518.6h3.8M387.2 521.9h3.8M362.1 525.1h3.8M368.8 525.1h3.8M372.1 531.6h3.8M352 534.8h3.8M404 534.8h3.8M352 541.3h3.8M362.1 541.3h3.8M378.8 541.3h3.8M368.8 544.5h3.8M375.5 544.5h3.8M362.1 551h3.8M372.1 551h3.8M330.1 555.4h3.8M336.9 555.4h3.8M320 565.3h3.8M336.9 565.3h3.8M347.1 565.3h3.8M320 571.9h3.8M340.3 571.9h3.8M387.2 571.9h3.8M326.8 575.2h3.8M347.1 575.2h3.8M313.2 578.5h3.8M340.3 578.5h3.8M303 581.8h3.8M336.9 581.8h3.8M400.6 581.8h3.8M316.6 589.4h3.8M368.8 589.4h3.8M378.8 602.3h3.8M330.1 605.5h3.8" stroke="#f6d2cc" stroke-width="3.64"/><path d="M352 508.9h3.8M362.1 508.9h3.8M368.8 508.9h3.8M375.5 508.9h3.8M393.9 508.9h3.8M397.3 508.9h3.8M424.2 508.9h3.8M362.1 512.2h3.8M355.4 515.4h3.8M365.4 515.4h3.8M352 518.6h3.8M362.1 518.6h3.8M368.8 518.6h3.8M378.8 518.6h3.8M397.3 518.6h3.8M404 518.6h3.8M424.2 518.6h3.8M352 521.9h3.8M368.8 521.9h3.8M375.5 521.9h3.8M352 525.1h3.8M375.5 525.1h3.8M378.8 525.1h3.8M383.8 525.1h3.8M397.3 525.1h3.8M404 525.1h3.8M362.1 528.3h3.8M368.8 528.3h3.8M383.8 528.3h3.8M390.5 528.3h3.8M365.4 531.6h3.8M362.1 534.8h3.8M368.8 534.8h3.8M375.5 534.8h3.8M383.8 534.8h3.8M393.9 534.8h3.8M397.3 534.8h3.8M352 538h3.8M358.7 538h3.8M372.1 538h3.8M375.5 538h3.8M424.2 538h3.8M383.8 541.3h3.8M393.9 541.3h3.8M424.2 541.3h3.8M362.1 544.5h3.8M355.4 547.7h3.8M358.7 547.7h3.8M372.1 547.7h3.8M417.5 547.7h3.8M352 551h3.8M358.7 551h3.8M383.8 551h3.8M303 555.4h3.8M313.2 555.4h3.8M316.6 555.4h3.8M320 555.4h3.8M333.5 555.4h3.8M347.1 555.4h3.8M387.2 555.4h3.8M407.4 555.4h3.8M309.8 558.7h3.8M343.7 558.7h3.8M333.5 562h3.8M343.7 562h3.8M347.1 562h3.8M303 565.3h3.8M306.4 565.3h3.8M313.2 565.3h3.8M323.4 565.3h3.8M330.1 565.3h3.8M340.3 565.3h3.8M387.2 565.3h3.8M390.5 565.3h3.8M400.6 565.3h3.8M309.8 568.6h3.8M326.8 568.6h3.8M303 571.9h3.8M313.2 571.9h3.8M316.6 571.9h3.8M323.4 571.9h3.8M330.1 571.9h3.8M400.6 571.9h3.8M333.5 575.2h3.8M343.7 575.2h3.8M303 578.5h3.8M316.6 578.5h3.8M320 578.5h3.8M330.1 578.5h3.8M333.5 578.5h3.8M387.2 578.5h3.8M390.5 578.5h3.8M400.6 578.5h3.8M407.4 578.5h3.8M313.2 581.8h3.8M320 581.8h3.8M387.2 581.8h3.8M390.5 581.8h3.8M397.3 581.8h3.8M320 586.2h3.8M323.4 586.2h3.8M330.1 586.2h3.8M336.9 586.2h3.8M347.1 586.2h3.8M352 589.4h3.8M362.1 589.4h3.8M375.5 589.4h3.8M378.8 589.4h3.8M323.4 592.6h3.8M362.1 592.6h3.8M375.5 592.6h3.8M378.8 592.6h3.8M303 595.9h3.8M330.1 595.9h3.8M336.9 595.9h3.8M303 599.1h3.8M313.2 599.1h3.8M320 599.1h3.8M330.1 599.1h3.8M378.8 599.1h3.8M362.1 602.3h3.8M368.8 602.3h3.8M375.5 602.3h3.8M313.2 605.5h3.8M320 605.5h3.8M352 608.7h3.8M375.5 608.7h3.8M343.7 618.4h3.8M303 624.8h3.8M313.2 624.8h3.8M333.5 624.8h3.8M336.9 624.8h3.8" stroke="#f6cccc" stroke-width="3.64"/><path d="M393.9 525.1h3.8M358.7 534.8h3.8M355.4 538h3.8M352 544.5h3.8M372.1 544.5h3.8M365.4 547.7h3.8M355.4 551h3.8M340.3 555.4h3.8M390.5 555.4h3.8M333.5 558.7h3.8M347.1 558.7h3.8M330.1 562h3.8M343.7 568.6h3.8M340.3 575.2h3.8M390.5 575.2h3.8M400.6 575.2h3.8M352 592.6h3.8M372.1 592.6h3.8M320 595.9h3.8M372.1 602.3h3.8" stroke="#f6ccc6" stroke-width="3.64"/><path d="M358.7 508.9h3.8M383.8 508.9h3.8M404 508.9h3.8M352 512.2h3.8M368.8 512.2h3.8M372.1 512.2h3.8M375.5 512.2h3.8M378.8 512.2h3.8M383.8 512.2h3.8M393.9 512.2h3.8M424.2 512.2h3.8M358.7 515.4h3.8M417.5 515.4h3.8M420.9 515.4h3.8M365.4 518.6h3.8M372.1 518.6h3.8M378.8 521.9h3.8M393.9 521.9h3.8M404 521.9h3.8M424.2 521.9h3.8M358.7 525.1h3.8M372.1 525.1h3.8M424.2 525.1h3.8M352 528.3h3.8M372.1 528.3h3.8M375.5 528.3h3.8M378.8 528.3h3.8M393.9 528.3h3.8M397.3 528.3h3.8M404 528.3h3.8M424.2 528.3h3.8M355.4 531.6h3.8M358.7 531.6h3.8M417.5 531.6h3.8M420.9 531.6h3.8M365.4 534.8h3.8M372.1 534.8h3.8M424.2 534.8h3.8M365.4 538h3.8M355.4 541.3h3.8M358.7 541.3h3.8M365.4 541.3h3.8M404 541.3h3.8M358.7 544.5h3.8M417.5 544.5h3.8M420.9 544.5h3.8M365.4 551h3.8M420.9 551h3.8M306.4 555.4h3.8M323.4 555.4h3.8M400.6 555.4h3.8M326.8 558.7h3.8M336.9 558.7h3.8M390.5 558.7h3.8M303 562h3.8M309.8 562h3.8M320 562h3.8M326.8 562h3.8M336.9 562h3.8M340.3 562h3.8M400.6 562h3.8M397.3 565.3h3.8M404 565.3h3.8M407.4 565.3h3.8M313.2 568.6h3.8M330.1 568.6h3.8M333.5 568.6h3.8M336.9 568.6h3.8M347.1 568.6h3.8M387.2 568.6h3.8M306.4 571.9h3.8M383.8 571.9h3.8M393.9 571.9h3.8M397.3 571.9h3.8M407.4 571.9h3.8M306.4 575.2h3.8M313.2 575.2h3.8M320 575.2h3.8M323.4 575.2h3.8M330.1 575.2h3.8M387.2 575.2h3.8M306.4 578.5h3.8M323.4 578.5h3.8M383.8 578.5h3.8M393.9 578.5h3.8M397.3 578.5h3.8M306.4 581.8h3.8M316.6 581.8h3.8M323.4 581.8h3.8M383.8 581.8h3.8M407.4 581.8h3.8M303 586.2h3.8M306.4 586.2h3.8M368.8 586.2h3.8M375.5 586.2h3.8M378.8 586.2h3.8M365.4 589.4h3.8M372.1 589.4h3.8M355.4 592.6h3.8M306.4 595.9h3.8M316.6 595.9h3.8M323.4 595.9h3.8M368.8 595.9h3.8M375.5 595.9h3.8M323.4 599.1h3.8M362.1 599.1h3.8M368.8 599.1h3.8M375.5 599.1h3.8M352 602.3h3.8M358.7 602.3h3.8M303 605.5h3.8M316.6 605.5h3.8M323.4 605.5h3.8M336.9 605.5h3.8M362.1 605.5h3.8M362.1 608.7h3.8M368.8 608.7h3.8M378.8 608.7h3.8M309.8 618.4h3.8M326.8 618.4h3.8M340.3 618.4h3.8M309.8 621.6h3.8M326.8 621.6h3.8M340.3 621.6h3.8M347.1 621.6h3.8M306.4 624.8h3.8M316.6 624.8h3.8M320 624.8h3.8M323.4 624.8h3.8M330.1 624.8h3.8" stroke="#f6c6c6" stroke-width="3.64"/><path d="M372.1 508.9h3.8M358.7 512.2h3.8M397.3 512.2h3.8M358.7 518.6h3.8M362.1 521.9h3.8M383.8 521.9h3.8M397.3 521.9h3.8M355.4 534.8h3.8M383.8 555.4h3.8M330.1 558.7h3.8M306.4 562h3.8M313.2 562h3.8M387.2 562h3.8M316.6 565.3h3.8M303 575.2h3.8M393.9 581.8h3.8M316.6 586.2h3.8M352 586.2h3.8M358.7 589.4h3.8M378.8 595.9h3.8M306.4 599.1h3.8M316.6 599.1h3.8" stroke="#f6c6c0" stroke-width="3.64"/><path d="M378.8 494.5h3.8M355.4 508.9h3.8M365.4 508.9h3.8M365.4 512.2h3.8M404 512.2h3.8M355.4 518.6h3.8M417.5 518.6h3.8M420.9 518.6h3.8M372.1 521.9h3.8M365.4 525.1h3.8M420.9 525.1h3.8M355.4 528.3h3.8M417.5 534.8h3.8M420.9 534.8h3.8M420.9 538h3.8M372.1 541.3h3.8M417.5 541.3h3.8M420.9 541.3h3.8M355.4 544.5h3.8M365.4 544.5h3.8M397.3 555.4h3.8M404 555.4h3.8M303 558.7h3.8M313.2 558.7h3.8M323.4 558.7h3.8M340.3 558.7h3.8M387.2 558.7h3.8M390.5 562h3.8M404 562h3.8M407.4 562h3.8M383.8 565.3h3.8M393.9 565.3h3.8M303 568.6h3.8M306.4 568.6h3.8M320 568.6h3.8M340.3 568.6h3.8M390.5 568.6h3.8M400.6 568.6h3.8M404 571.9h3.8M316.6 575.2h3.8M336.9 575.2h3.8M383.8 575.2h3.8M407.4 575.2h3.8M404 578.5h3.8M287.6 581.8h3.9M404 581.8h3.8M362.1 586.2h3.8M372.1 586.2h3.8M355.4 589.4h3.8M358.7 592.6h3.8M365.4 592.6h3.8M362.1 595.9h3.8M352 599.1h3.8M365.4 602.3h3.8M306.4 605.5h3.8M352 605.5h3.8M358.7 605.5h3.8M368.8 605.5h3.8M375.5 605.5h3.8M378.8 605.5h3.8M358.7 608.7h3.8M372.1 608.7h3.8M313.2 618.4h3.8M330.1 618.4h3.8M336.9 618.4h3.8M313.2 621.6h3.8M320 621.6h3.8M330.1 621.6h3.8M333.5 621.6h3.8M336.9 621.6h3.8" stroke="#f6c0c0" stroke-width="3.64"/><path d="M368.8 501.2h3.8M355.4 525.1h3.8M365.4 528.3h3.8M417.5 551h3.8M393.9 555.4h3.8M320 558.7h3.8M400.6 558.7h3.8M383.8 562h3.8M323.4 568.6h3.8M393.9 568.6h3.8M294.7 571.9h3.9M358.7 586.2h3.8M352 595.9h3.8M365.4 595.9h3.8M355.4 602.3h3.8M347.1 618.4h3.8" stroke="#f6c0ba" stroke-width="3.64"/><path d="M309.8 494.5h3.8M326.8 494.5h3.8M362.1 494.5h3.8M368.8 494.5h3.8M375.5 494.5h3.8M387.2 494.5h3.8M414.1 494.5h3.8M368.8 497.8h3.8M375.5 497.8h3.8M378.8 497.8h3.8M390.5 497.8h3.8M362.1 501.2h3.8M378.8 501.2h3.8M378.8 504.5h3.8M417.5 508.9h3.8M420.9 508.9h3.8M355.4 512.2h3.8M420.9 512.2h3.8M287.6 515.4h3.9M355.4 521.9h3.8M358.7 521.9h3.8M365.4 521.9h3.8M417.5 521.9h3.8M420.9 521.9h3.8M358.7 528.3h3.8M420.9 528.3h3.8M287.6 531.6h3.9M417.5 538h3.8M306.4 558.7h3.8M316.6 558.7h3.8M383.8 558.7h3.8M393.9 558.7h3.8M397.3 558.7h3.8M407.4 558.7h3.8M316.6 562h3.8M323.4 562h3.8M393.9 562h3.8M397.3 562h3.8M287.6 565.3h3.9M294.7 565.3h3.9M316.6 568.6h3.8M397.3 568.6h3.8M407.4 568.6h3.8M287.6 571.9h3.9M291.1 571.9h3.9M393.9 575.2h3.8M397.3 575.2h3.8M404 575.2h3.8M287.6 578.5h3.9M291.1 578.5h3.9M291.1 581.8h3.9M294.7 581.8h3.9M298.2 581.8h3.9M355.4 586.2h3.8M287.6 589.4h3.9M291.1 592.6h3.9M355.4 595.9h3.8M358.7 595.9h3.8M372.1 595.9h3.8M355.4 599.1h3.8M358.7 599.1h3.8M365.4 599.1h3.8M372.1 599.1h3.8M372.1 605.5h3.8M355.4 608.7h3.8M365.4 608.7h3.8M287.6 615.1h3.9M303 618.4h3.8M316.6 618.4h3.8M333.5 618.4h3.8M303 621.6h3.8M306.4 621.6h3.8M316.6 621.6h3.8M323.4 621.6h3.8" stroke="#f6baba" stroke-width="3.64"/><path d="M309.8 497.8h3.8M309.8 504.5h3.8M375.5 504.5h3.8M291.1 515.4h3.9M298.2 515.4h3.9M298.2 578.5h3.9" stroke="#f0baba" stroke-width="3.64"/><path d="M365.4 494.5h3.8M387.2 497.8h3.8M375.5 501.2h3.8M352 504.5h3.8M417.5 525.1h3.8M298.2 555.4h3.9M287.6 568.6h3.9M383.8 568.6h3.8M294.7 578.5h3.9M365.4 586.2h3.8M291.1 589.4h3.9M320 618.4h3.8" stroke="#f0bab4" stroke-width="3.64"/><path d="M333.5 494.5h3.8M352 494.5h3.8M355.4 494.5h3.8M372.1 494.5h3.8M383.8 494.5h3.8M390.5 494.5h3.8M400.6 494.5h3.8M407.4 494.5h3.8M410.8 494.5h3.8M420.9 494.5h3.8M326.8 497.8h3.8M330.1 497.8h3.8M333.5 497.8h3.8M352 497.8h3.8M355.4 497.8h3.8M358.7 497.8h3.8M362.1 497.8h3.8M372.1 497.8h3.8M400.6 497.8h3.8M407.4 497.8h3.8M414.1 497.8h3.8M309.8 501.2h3.8M326.8 501.2h3.8M333.5 501.2h3.8M352 501.2h3.8M365.4 501.2h3.8M372.1 501.2h3.8M387.2 501.2h3.8M390.5 501.2h3.8M400.6 501.2h3.8M414.1 501.2h3.8M362.1 504.5h3.8M368.8 504.5h3.8M390.5 504.5h3.8M414.1 504.5h3.8M294.7 515.4h3.9M417.5 528.3h3.8M291.1 531.6h3.9M294.7 531.6h3.9M291.1 534.8h3.9M287.6 538h3.9M291.1 538h3.9M294.7 538h3.9M287.6 555.4h3.9M291.1 555.4h3.9M294.7 555.4h3.9M287.6 558.7h3.9M291.1 558.7h3.9M404 558.7h3.8M291.1 562h3.9M291.1 565.3h3.9M298.2 565.3h3.9M294.7 568.6h3.9M404 568.6h3.8M298.2 571.9h3.9M287.6 575.2h3.9M291.1 575.2h3.9M294.7 575.2h3.9M287.6 586.2h3.9M294.7 589.4h3.9M287.6 592.6h3.9M294.7 592.6h3.9M298.2 592.6h3.9M287.6 602.3h3.9M291.1 602.3h3.9M294.7 602.3h3.9M355.4 605.5h3.8M365.4 605.5h3.8M287.6 608.7h3.9M291.1 608.7h3.9M287.6 611.9h3.9M291.1 615.1h3.9M294.7 615.1h3.9M298.2 615.1h3.9M323.4 618.4h3.8M287.6 621.6h3.9" stroke="#f0b4b4" stroke-width="3.64"/><path d="M303 494.5h3.8M313.2 494.5h3.8M358.7 494.5h3.8M365.4 497.8h3.8M397.3 497.8h3.8M410.8 501.2h3.8M372.1 504.5h3.8M400.6 504.5h3.8M287.6 508.9h3.9M417.5 512.2h3.8M287.6 518.6h3.9M287.6 562h3.9M291.1 568.6h3.9M298.2 575.2h3.9M291.1 599.1h3.9M298.2 602.3h3.9M294.7 611.9h3.9M306.4 618.4h3.8" stroke="#f0b4ae" stroke-width="3.64"/><path d="M306.4 494.5h3.8M316.6 494.5h3.8M320 494.5h3.8M323.4 494.5h3.8M330.1 494.5h3.8M393.9 494.5h3.8M397.3 494.5h3.8M306.4 497.8h3.8M313.2 497.8h3.8M320 497.8h3.8M383.8 497.8h3.8M410.8 497.8h3.8M420.9 497.8h3.8M424.2 497.8h3.8M330.1 501.2h3.8M358.7 501.2h3.8M383.8 501.2h3.8M404 501.2h3.8M407.4 501.2h3.8M420.9 501.2h3.8M424.2 501.2h3.8M313.2 504.5h3.8M326.8 504.5h3.8M330.1 504.5h3.8M333.5 504.5h3.8M387.2 504.5h3.8M404 504.5h3.8M407.4 504.5h3.8M410.8 504.5h3.8M420.9 504.5h3.8M287.6 512.2h3.9M291.1 512.2h3.9M291.1 518.6h3.9M298.2 518.6h3.9M287.6 521.9h3.9M287.6 525.1h3.9M291.1 525.1h3.9M287.6 528.3h3.9M298.2 531.6h3.9M287.6 534.8h3.9M294.7 534.8h3.9M298.2 534.8h3.9M298.2 538h3.9M294.7 562h3.9M414.1 578.5h3.8M291.1 586.2h3.9M294.7 586.2h3.9M298.2 589.4h3.9M414.1 589.4h3.8M287.6 595.9h3.9M287.6 599.1h3.9M294.7 605.5h3.9M298.2 605.5h3.9M294.7 608.7h3.9M298.2 608.7h3.9M291.1 611.9h3.9M298.2 611.9h3.9M375.5 615.1h3.8M387.2 615.1h3.8M291.1 621.6h3.9M294.7 621.6h3.9M298.2 621.6h3.9M291.1 624.8h3.9M294.7 624.8h3.9" stroke="#f0aeae" stroke-width="3.64"/><path d="M417.5 494.5h3.8M424.2 494.5h3.8M417.5 497.8h3.8M313.2 501.2h3.8M355.4 501.2h3.8M397.3 501.2h3.8M358.7 504.5h3.8M294.7 518.6h3.9M294.7 558.7h3.9M298.2 562h3.9M414.1 571.9h3.8M294.7 599.1h3.9M368.8 615.1h3.8M287.6 618.4h3.9M291.1 618.4h3.9M287.6 624.8h3.9" stroke="#f0aea8" stroke-width="3.64"/><path d="M404 494.5h3.8M303 497.8h3.8M393.9 497.8h3.8M404 497.8h3.8M303 501.2h3.8M306.4 501.2h3.8M320 501.2h3.8M323.4 501.2h3.8M393.9 501.2h3.8M417.5 501.2h3.8M303 504.5h3.8M316.6 504.5h3.8M320 504.5h3.8M323.4 504.5h3.8M355.4 504.5h3.8M365.4 504.5h3.8M383.8 504.5h3.8M393.9 504.5h3.8M397.3 504.5h3.8M417.5 504.5h3.8M424.2 504.5h3.8M291.1 508.9h3.9M294.7 508.9h3.9M298.2 508.9h3.9M294.7 512.2h3.9M298.2 521.9h3.9M294.7 525.1h3.9M298.2 525.1h3.9M294.7 528.3h3.9M298.2 528.3h3.9M414.1 555.4h3.8M298.2 558.7h3.9M414.1 565.3h3.8M298.2 568.6h3.9M414.1 575.2h3.8M410.8 578.5h3.8M410.8 581.8h3.8M414.1 581.8h3.8M298.2 586.2h3.9M414.1 592.6h3.8M291.1 595.9h3.9M294.7 595.9h3.9M298.2 595.9h3.9M298.2 599.1h3.9M414.1 602.3h3.8M287.6 605.5h3.9M291.1 605.5h3.9M414.1 608.7h3.8M375.5 611.9h3.8M378.8 611.9h3.8M352 615.1h3.8M362.1 615.1h3.8M372.1 615.1h3.8M378.8 615.1h3.8M390.5 615.1h3.8M400.6 615.1h3.8M407.4 615.1h3.8M294.7 618.4h3.9M298.2 618.4h3.9M298.2 624.8h3.9" stroke="#f0a8a8" stroke-width="3.64"/><path d="M316.6 497.8h3.8M323.4 497.8h3.8M306.4 504.5h3.8M298.2 512.2h3.9M291.1 521.9h3.9M291.1 528.3h3.9M420.9 565.3h3.8M362.1 621.6h3.8" stroke="#f0a8a2" stroke-width="3.64"/><path d="M316.6 501.2h3.8M294.7 521.9h3.9M414.1 562h3.8M424.2 581.8h3.8M414.1 586.2h3.8M410.8 589.4h3.8M420.9 589.4h3.8M410.8 592.6h3.8M420.9 602.3h3.8M387.2 611.9h3.8M390.5 611.9h3.8M358.7 615.1h3.8M383.8 615.1h3.8M387.2 621.6h3.8M400.6 621.6h3.8M378.8 624.8h3.8" stroke="#f0a2a2" stroke-width="3.64"/><path d="M343.7 497.8h3.8M291.1 547.7h3.9M417.5 571.9h3.8M368.8 618.4h3.8" stroke="#eaa2a2" stroke-width="3.64"/><path d="M347.1 494.5h3.8M343.7 501.2h3.8M294.7 547.7h3.9M287.6 551h3.9M424.2 565.3h3.8M410.8 571.9h3.8M420.9 578.5h3.8M424.2 578.5h3.8M368.8 611.9h3.8M375.5 621.6h3.8M362.1 624.8h3.8M375.5 624.8h3.8" stroke="#eaa29c" stroke-width="3.64"/><path d="M343.7 494.5h3.8M287.6 547.7h3.9M410.8 555.4h3.8M417.5 555.4h3.8M424.2 555.4h3.8M414.1 558.7h3.8M410.8 565.3h3.8M417.5 565.3h3.8M420.9 571.9h3.8M424.2 571.9h3.8M410.8 575.2h3.8M417.5 578.5h3.8M417.5 581.8h3.8M420.9 581.8h3.8M417.5 589.4h3.8M424.2 589.4h3.8M417.5 592.6h3.8M420.9 592.6h3.8M414.1 595.9h3.8M410.8 602.3h3.8M424.2 602.3h3.8M420.9 608.7h3.8M352 611.9h3.8M362.1 611.9h3.8M372.1 611.9h3.8M400.6 611.9h3.8M355.4 615.1h3.8M393.9 615.1h3.8M352 618.4h3.8M362.1 618.4h3.8M375.5 618.4h3.8M378.8 618.4h3.8M387.2 618.4h3.8M390.5 618.4h3.8M368.8 621.6h3.8M378.8 621.6h3.8M390.5 621.6h3.8M407.4 621.6h3.8M352 624.8h3.8M368.8 624.8h3.8M387.2 624.8h3.8M400.6 624.8h3.8" stroke="#ea9c9c" stroke-width="3.64"/><path d="M424.2 592.6h3.8M390.5 624.8h3.8" stroke="#ea9c96" stroke-width="3.64"/><path d="M336.9 494.5h3.8M336.9 497.8h3.8M340.3 497.8h3.8M347.1 497.8h3.8M347.1 501.2h3.8M343.7 504.5h3.8M287.6 541.3h3.9M291.1 541.3h3.9M291.1 544.5h3.9M298.2 547.7h3.9M291.1 551h3.9M294.7 551h3.9M420.9 555.4h3.8M420.9 562h3.8M414.1 568.6h3.8M414.1 599.1h3.8M417.5 602.3h3.8M414.1 605.5h3.8M410.8 608.7h3.8M424.2 608.7h3.8M407.4 611.9h3.8M365.4 615.1h3.8M397.3 615.1h3.8M404 615.1h3.8M400.6 618.4h3.8M352 621.6h3.8M358.7 621.6h3.8M407.4 624.8h3.8" stroke="#ea9696" stroke-width="3.64"/><path d="M424.2 562h3.8M420.9 599.1h3.8M397.3 621.6h3.8M358.7 624.8h3.8" stroke="#ea9690" stroke-width="3.64"/><path d="M340.3 494.5h3.8M336.9 501.2h3.8M294.7 541.3h3.9M287.6 544.5h3.9M410.8 562h3.8M420.9 575.2h3.8M358.7 611.9h3.8M372.1 621.6h3.8" stroke="#ea9090" stroke-width="3.64"/><path d="M340.3 501.2h3.8M336.9 504.5h3.8M347.1 504.5h3.8M298.2 541.3h3.9M294.7 544.5h3.9M298.2 551h3.9M410.8 558.7h3.8M417.5 558.7h3.8M417.5 562h3.8M410.8 568.6h3.8M420.9 568.6h3.8M424.2 568.6h3.8M417.5 575.2h3.8M410.8 586.2h3.8M420.9 586.2h3.8M410.8 595.9h3.8M420.9 595.9h3.8M410.8 599.1h3.8M424.2 605.5h3.8M417.5 608.7h3.8M355.4 611.9h3.8M365.4 611.9h3.8M383.8 611.9h3.8M393.9 611.9h3.8M397.3 611.9h3.8M355.4 618.4h3.8M358.7 618.4h3.8M372.1 618.4h3.8M407.4 618.4h3.8M365.4 621.6h3.8M383.8 621.6h3.8M393.9 621.6h3.8M365.4 624.8h3.8M404 624.8h3.8" stroke="#e49090" stroke-width="3.64"/><path d="M340.3 504.5h3.8M336.9 515.4h3.8M309.8 541.3h3.8M343.7 541.3h3.8M298.2 544.5h3.9M336.9 547.7h3.8M420.9 558.7h3.8M424.2 558.7h3.8M417.5 568.6h3.8M424.2 575.2h3.8M417.5 586.2h3.8M417.5 595.9h3.8M417.5 599.1h3.8M424.2 599.1h3.8M410.8 605.5h3.8M417.5 605.5h3.8M420.9 605.5h3.8M404 611.9h3.8M365.4 618.4h3.8M383.8 618.4h3.8M393.9 618.4h3.8M397.3 618.4h3.8M404 618.4h3.8M355.4 621.6h3.8M404 621.6h3.8M355.4 624.8h3.8M372.1 624.8h3.8M397.3 624.8h3.8" stroke="#e48a8a" stroke-width="3.64"/><path d="M340.3 531.6h3.8M347.1 541.3h3.8M326.8 544.5h3.8M336.9 551h3.8M424.2 586.2h3.8M424.2 595.9h3.8M383.8 624.8h3.8M393.9 624.8h3.8" stroke="#e48484" stroke-width="3.64"/><path d="M340.3 515.4h3.8M309.8 544.5h3.8" stroke="#de8484" stroke-width="3.64"/><path d="M336.9 525.1h3.8M336.9 531.6h3.8M336.9 534.8h3.8M340.3 534.8h3.8M336.9 538h3.8M340.3 538h3.8M320 541.3h3.8M326.8 541.3h3.8M330.1 541.3h3.8M333.5 541.3h3.8M330.1 544.5h3.8M333.5 544.5h3.8M420.9 615.1h3.8M414.1 621.6h3.8" stroke="#de7e7e" stroke-width="3.64"/><path d="M336.9 508.9h3.8M340.3 508.9h3.8M326.8 515.4h3.8M347.1 515.4h3.8M336.9 518.6h3.8M340.3 518.6h3.8M340.3 525.1h3.8M336.9 528.3h3.8M309.8 531.6h3.8M303 541.3h3.8M313.2 541.3h3.8M323.4 541.3h3.8M303 544.5h3.8M313.2 544.5h3.8M320 544.5h3.8M309.8 551h3.8M424.2 615.1h3.8M414.1 624.8h3.8" stroke="#de7878" stroke-width="3.64"/><path d="M336.9 521.9h3.8M343.7 538h3.8M316.6 541.3h3.8M333.5 547.7h3.8" stroke="#de7278" stroke-width="3.64"/><path d="M420.9 611.9h3.8M424.2 611.9h3.8M410.8 621.6h3.8M410.8 624.8h3.8" stroke="#de7272" stroke-width="3.64"/><path d="M336.9 512.2h3.8M333.5 515.4h3.8M343.7 515.4h3.8M343.7 518.6h3.8M340.3 528.3h3.8M343.7 531.6h3.8M347.1 531.6h3.8M343.7 534.8h3.8M309.8 538h3.8M306.4 541.3h3.8M323.4 544.5h3.8M309.8 547.7h3.8M313.2 547.7h3.8M326.8 547.7h3.8M330.1 547.7h3.8M326.8 551h3.8M417.5 611.9h3.8M410.8 618.4h3.8" stroke="#d87272" stroke-width="3.64"/><path d="M375.5 571.9h3.8M368.8 578.5h3.8" stroke="#d86c72" stroke-width="3.64"/><path d="M309.8 508.9h3.8M343.7 508.9h3.8M340.3 512.2h3.8M303 515.4h3.8M320 515.4h3.8M330.1 515.4h3.8M326.8 518.6h3.8M340.3 521.9h3.8M309.8 525.1h3.8M343.7 525.1h3.8M313.2 531.6h3.8M333.5 531.6h3.8M309.8 534.8h3.8M347.1 534.8h3.8M326.8 538h3.8M347.1 538h3.8M306.4 544.5h3.8M316.6 544.5h3.8M303 547.7h3.8M320 547.7h3.8M330.1 551h3.8M333.5 551h3.8M368.8 555.4h3.8M378.8 555.4h3.8M368.8 565.3h3.8M375.5 565.3h3.8M352 571.9h3.8M362.1 571.9h3.8M362.1 578.5h3.8M352 581.8h3.8" stroke="#d86c6c" stroke-width="3.64"/><path d="M333.5 508.9h3.8M347.1 508.9h3.8M347.1 518.6h3.8M326.8 525.1h3.8M343.7 528.3h3.8M320 531.6h3.8M333.5 534.8h3.8M303 538h3.8M330.1 538h3.8M323.4 547.7h3.8M303 551h3.8M313.2 551h3.8M378.8 565.3h3.8M378.8 571.9h3.8M378.8 578.5h3.8M362.1 581.8h3.8M368.8 581.8h3.8M375.5 581.8h3.8M390.5 589.4h3.8M407.4 589.4h3.8M387.2 592.6h3.8M400.6 592.6h3.8M390.5 602.3h3.8M407.4 602.3h3.8M387.2 608.7h3.8M400.6 608.7h3.8" stroke="#d86666" stroke-width="3.64"/><path d="M323.4 515.4h3.8M330.1 518.6h3.8M333.5 521.9h3.8M347.1 525.1h3.8M309.8 528.3h3.8M333.5 528.3h3.8M313.2 534.8h3.8M316.6 538h3.8M323.4 538h3.8M320 551h3.8M400.6 589.4h3.8M387.2 602.3h3.8" stroke="#d26666" stroke-width="3.64"/><path d="M326.8 508.9h3.8M326.8 512.2h3.8M316.6 515.4h3.8M333.5 518.6h3.8M309.8 521.9h3.8M303 531.6h3.8M306.4 531.6h3.8M313.2 538h3.8M375.5 555.4h3.8M352 578.5h3.8" stroke="#d26066" stroke-width="3.64"/><path d="M313.2 508.9h3.8M330.1 512.2h3.8M347.1 512.2h3.8M313.2 515.4h3.8M303 518.6h3.8M309.8 518.6h3.8M320 518.6h3.8M323.4 518.6h3.8M326.8 521.9h3.8M343.7 521.9h3.8M313.2 525.1h3.8M333.5 525.1h3.8M313.2 528.3h3.8M326.8 528.3h3.8M316.6 531.6h3.8M323.4 531.6h3.8M330.1 531.6h3.8M306.4 534.8h3.8M326.8 534.8h3.8M320 538h3.8M316.6 547.7h3.8M306.4 551h3.8M362.1 555.4h3.8M372.1 555.4h3.8M368.8 558.7h3.8M375.5 558.7h3.8M375.5 562h3.8M352 565.3h3.8M372.1 565.3h3.8M378.8 568.6h3.8M355.4 571.9h3.8M352 575.2h3.8M362.1 575.2h3.8M378.8 575.2h3.8M355.4 578.5h3.8M358.7 578.5h3.8M365.4 581.8h3.8M372.1 581.8h3.8M397.3 592.6h3.8M407.4 592.6h3.8M390.5 599.1h3.8M390.5 608.7h3.8M414.1 611.9h3.8M410.8 615.1h3.8M424.2 618.4h3.8M417.5 624.8h3.8" stroke="#d26060" stroke-width="3.64"/><path d="M333.5 512.2h3.8M343.7 512.2h3.8M306.4 538h3.8M306.4 547.7h3.8M378.8 558.7h3.8M378.8 562h3.8M355.4 581.8h3.8M358.7 581.8h3.8M400.6 586.2h3.8M383.8 602.3h3.8" stroke="#d25a60" stroke-width="3.64"/><path d="M320 508.9h3.8M323.4 508.9h3.8M330.1 508.9h3.8M347.1 521.9h3.8M303 525.1h3.8M330.1 525.1h3.8M303 528.3h3.8M330.1 528.3h3.8M347.1 528.3h3.8M303 534.8h3.8M320 534.8h3.8M323.4 534.8h3.8M340.3 541.3h3.8M336.9 544.5h3.8M347.1 547.7h3.8M316.6 551h3.8M323.4 551h3.8M343.7 551h3.8M358.7 555.4h3.8M352 562h3.8M362.1 562h3.8M368.8 562h3.8M358.7 565.3h3.8M375.5 568.6h3.8M358.7 571.9h3.8M375.5 575.2h3.8M365.4 578.5h3.8M372.1 578.5h3.8M390.5 586.2h3.8M383.8 592.6h3.8M400.6 595.9h3.8M400.6 599.1h3.8M393.9 602.3h3.8M397.3 602.3h3.8" stroke="#d25a5a" stroke-width="3.64"/><path d="M309.8 512.2h3.8M306.4 515.4h3.8M407.4 586.2h3.8M404 592.6h3.8M390.5 605.5h3.8M383.8 608.7h3.8" stroke="#d2545a" stroke-width="3.64"/><path d="M316.6 508.9h3.8M313.2 512.2h3.8M306.4 518.6h3.8M303 521.9h3.8M323.4 521.9h3.8M330.1 521.9h3.8M323.4 525.1h3.8M316.6 528.3h3.8M320 528.3h3.8M316.6 534.8h3.8M365.4 555.4h3.8M362.1 558.7h3.8M372.1 558.7h3.8M365.4 562h3.8M355.4 565.3h3.8M365.4 565.3h3.8M352 568.6h3.8M358.7 568.6h3.8M362.1 568.6h3.8M368.8 568.6h3.8M365.4 571.9h3.8M372.1 571.9h3.8M355.4 575.2h3.8M368.8 575.2h3.8M387.2 586.2h3.8M383.8 589.4h3.8M393.9 589.4h3.8M397.3 589.4h3.8M404 589.4h3.8M393.9 592.6h3.8M387.2 595.9h3.8M390.5 595.9h3.8M387.2 599.1h3.8M407.4 599.1h3.8M404 602.3h3.8M387.2 605.5h3.8M400.6 605.5h3.8M397.3 608.7h3.8M417.5 615.1h3.8M414.1 618.4h3.8" stroke="#cc5454" stroke-width="3.64"/><path d="M316.6 512.2h3.8M320 512.2h3.8M306.4 521.9h3.8M320 521.9h3.8M306.4 525.1h3.8M316.6 525.1h3.8M343.7 544.5h3.8M340.3 547.7h3.8M407.4 605.5h3.8M404 608.7h3.8M420.9 618.4h3.8M417.5 621.6h3.8" stroke="#cc4e54" stroke-width="3.64"/><path d="M323.4 512.2h3.8M316.6 518.6h3.8M313.2 521.9h3.8M306.4 528.3h3.8M347.1 544.5h3.8M340.3 551h3.8M355.4 555.4h3.8M352 558.7h3.8M365.4 558.7h3.8M372.1 562h3.8M355.4 568.6h3.8M372.1 568.6h3.8M358.7 575.2h3.8M365.4 575.2h3.8M393.9 586.2h3.8M397.3 586.2h3.8M404 586.2h3.8M383.8 595.9h3.8M407.4 595.9h3.8M383.8 599.1h3.8M404 599.1h3.8M383.8 605.5h3.8M397.3 605.5h3.8M393.9 608.7h3.8M424.2 621.6h3.8M420.9 624.8h3.8" stroke="#cc4e4e" stroke-width="3.64"/><path d="M306.4 508.9h3.8M303 512.2h3.8" stroke="#cc484e" stroke-width="3.64"/><path d="M303 508.9h3.8M306.4 512.2h3.8M309.8 515.4h3.8M313.2 518.6h3.8M316.6 521.9h3.8M320 525.1h3.8M323.4 528.3h3.8M326.8 531.6h3.8M330.1 534.8h3.8M333.5 538h3.8M336.9 541.3h3.8M383.8 586.2h3.8M387.2 589.4h3.8M390.5 592.6h3.8M393.9 595.9h3.8M397.3 599.1h3.8M400.6 602.3h3.8M404 605.5h3.8M407.4 608.7h3.8M410.8 611.9h3.8M414.1 615.1h3.8M417.5 618.4h3.8M420.9 621.6h3.8M424.2 624.8h3.8" stroke="#c64848" stroke-width="3.64"/><path d="M358.7 558.7h3.8M355.4 562h3.8" stroke="#c64248" stroke-width="3.64"/><path d="M291.1 494.5h3.9M287.6 497.8h3.9M397.3 595.9h3.8M404 595.9h3.8M393.9 599.1h3.8M393.9 605.5h3.8" stroke="#c64242" stroke-width="3.64"/><path d="M294.7 494.5h3.9M287.6 501.2h3.9" stroke="#c63c42" stroke-width="3.64"/><path d="M287.6 494.5h3.9M298.2 494.5h3.9M291.1 497.8h3.9M294.7 497.8h3.9M298.2 497.8h3.9M291.1 501.2h3.9M294.7 501.2h3.9M298.2 501.2h3.9M287.6 504.5h3.9M291.1 504.5h3.9M294.7 504.5h3.9M298.2 504.5h3.9M340.3 544.5h3.8M343.7 547.7h3.8M347.1 551h3.8M352 555.4h3.8M355.4 558.7h3.8M358.7 562h3.8M362.1 565.3h3.8M365.4 568.6h3.8M368.8 571.9h3.8M372.1 575.2h3.8M375.5 578.5h3.8M378.8 581.8h3.8" stroke="#c63c3c" stroke-width="3.64"/><rect x="287.8" y="492.8" width="14.1" height="13.4" fill="none" stroke="#111" stroke-width="0.7"/><rect x="303.2" y="507.3" width="47.5" height="45.3" fill="none" stroke="#111" stroke-width="0.7"/><rect x="352.2" y="553.7" width="30.2" height="29.8" fill="none" stroke="#111" stroke-width="0.7"/><rect x="384" y="584.6" width="43.8" height="41.8" fill="none" stroke="#111" stroke-width="0.7"/><path d="M293.1 492.4L293.1 490.8M296.6 492.4L296.6 490.8M293.1 490.8L296.6 490.8M294.9 490.8L294.9 488.9M300.1 492.4L300.1 488.9M294.9 488.9L300.1 488.9M289.6 492.4L289.6 487M297.5 488.9L297.5 487M289.6 487L297.5 487M325.3 492.4L325.3 491.6M328.6 492.4L328.6 491.6M325.3 491.6L328.6 491.6M326.9 491.6L326.9 491.4M332 492.4L332 491.4M326.9 491.4L332 491.4M329.5 491.4L329.5 491.2M335.4 492.4L335.4 491.2M329.5 491.2L335.4 491.2M332.5 491.2L332.5 491.1M338.8 492.4L338.8 491.1M332.5 491.1L338.8 491.1M311.7 492.4L311.7 490.5M315.1 492.4L315.1 490.5M311.7 490.5L315.1 490.5M313.4 490.5L313.4 490.3M318.5 492.4L318.5 490.3M313.4 490.3L318.5 490.3M308.3 492.4L308.3 489.9M315.9 490.3L315.9 489.9M308.3 489.9L315.9 489.9M304.9 492.4L304.9 489.2M312.1 489.9L312.1 489.2M304.9 489.2L312.1 489.2M321.9 492.4L321.9 489M335.6 491.1L335.6 489M321.9 489L335.6 489M328.8 489L328.8 488.6M342.2 492.4L342.2 488.6M328.8 488.6L342.2 488.6M335.5 488.6L335.5 488M345.6 492.4L345.6 488M335.5 488L345.6 488M308.5 489.2L308.5 487.2M340.5 488L340.5 487.2M308.5 487.2L340.5 487.2M324.5 487.2L324.5 486.5M349 492.4L349 486.5M324.5 486.5L349 486.5M377.4 492.4L377.4 491.6M380.7 492.4L380.7 491.6M377.4 491.6L380.7 491.6M370.7 492.4L370.7 491.2M374 492.4L374 491.2M370.7 491.2L374 491.2M363.9 492.4L363.9 490.6M367.3 492.4L367.3 490.6M363.9 490.6L367.3 490.6M357.2 492.4L357.2 490M360.6 492.4L360.6 490M357.2 490L360.6 490M372.3 491.2L372.3 489.2M379 491.6L379 489.2M372.3 489.2L379 489.2M365.6 490.6L365.6 488.6M375.7 489.2L375.7 488.6M365.6 488.6L375.7 488.6M358.9 490L358.9 487.9M370.7 488.6L370.7 487.9M358.9 487.9L370.7 487.9M353.9 492.4L353.9 486.4M364.8 487.9L364.8 486.4M353.9 486.4L364.8 486.4M385.7 492.4L385.7 491.7M389.1 492.4L389.1 491.7M385.7 491.7L389.1 491.7M409.3 492.4L409.3 491.5M412.6 492.4L412.6 491.5M409.3 491.5L412.6 491.5M395.8 492.4L395.8 491.1M399.2 492.4L399.2 491.1M395.8 491.1L399.2 491.1M411 491.5L411 490.9M416 492.4L416 490.9M411 490.9L416 490.9M402.5 492.4L402.5 490.6M405.9 492.4L405.9 490.6M402.5 490.6L405.9 490.6M413.5 490.9L413.5 489.9M419.4 492.4L419.4 489.9M413.5 489.9L419.4 489.9M422.7 492.4L422.7 489.6M426.1 492.4L426.1 489.6M422.7 489.6L426.1 489.6M397.5 491.1L397.5 489.3M404.2 490.6L404.2 489.3M397.5 489.3L404.2 489.3M416.4 489.9L416.4 488.7M424.4 489.6L424.4 488.7M416.4 488.7L424.4 488.7M392.4 492.4L392.4 487.7M400.8 489.3L400.8 487.7M392.4 487.7L400.8 487.7M396.6 487.7L396.6 487M420.4 488.7L420.4 487M396.6 487L420.4 487M387.4 491.7L387.4 486.3M408.5 487L408.5 486.3M387.4 486.3L408.5 486.3M293.5 487V484.2H336.8V486.5M359.3 486.4V484.2H398V486.3M315.1 484.2V479.2H378.6V484.2" fill="none" stroke="#111" stroke-width=".5"/><path d="M287.6 494.5L287.1 494.5M287.6 497.8L287.1 497.8M287.1 494.5L287.1 497.8M287.1 496.1L286.4 496.1M287.6 501.2L286.4 501.2M286.4 496.1L286.4 501.2M286.4 498.7L285.7 498.7M287.6 504.5L285.7 504.5M285.7 498.7L285.7 504.5M287.6 541.3L286.9 541.3M287.6 544.5L286.9 544.5M286.9 541.3L286.9 544.5M287.6 508.9L286.8 508.9M287.6 512.2L286.8 512.2M286.8 508.9L286.8 512.2M287.6 521.9L286.5 521.9M287.6 525.1L286.5 525.1M286.5 521.9L286.5 525.1M286.9 542.9L286.2 542.9M287.6 547.7L286.2 547.7M286.2 542.9L286.2 547.7M286.5 523.5L285.9 523.5M287.6 528.3L285.9 528.3M285.9 523.5L285.9 528.3M286.8 510.5L285.5 510.5M287.6 515.4L285.5 515.4M285.5 510.5L285.5 515.4M287.6 518.6L285.4 518.6M285.9 525.9L285.4 525.9M285.4 518.6L285.4 525.9M287.6 534.8L284.6 534.8M287.6 538L284.6 538M284.6 534.8L284.6 538M285.5 513L284.3 513M285.4 522.3L284.3 522.3M284.3 513L284.3 522.3M286.2 545.3L283.9 545.3M287.6 551L283.9 551M283.9 545.3L283.9 551M284.6 536.4L283.6 536.4M283.9 548.2L283.6 548.2M283.6 536.4L283.6 548.2M287.6 531.6L282.7 531.6M283.6 542.3L282.7 542.3M282.7 531.6L282.7 542.3M284.3 517.6L282 517.6M282.7 536.9L282 536.9M282 517.6L282 536.9M287.6 575.2L287.2 575.2M287.6 578.5L287.2 578.5M287.2 575.2L287.2 578.5M287.6 562L287 562M287.6 565.3L287 565.3M287 562L287 565.3M287.6 571.9L286.8 571.9M287.2 576.9L286.8 576.9M286.8 571.9L286.8 576.9M287.6 555.4L286.5 555.4M287.6 558.7L286.5 558.7M286.5 555.4L286.5 558.7M286.5 557L286.2 557M287 563.6L286.2 563.6M286.2 557L286.2 563.6M286.8 574.4L285.8 574.4M287.6 581.8L285.8 581.8M285.8 574.4L285.8 581.8M286.2 560.3L285.3 560.3M287.6 568.6L285.3 568.6M285.3 560.3L285.3 568.6M285.3 564.5L284.9 564.5M285.8 578.1L284.9 578.1M284.9 564.5L284.9 578.1M287.6 602.3L286.4 602.3M287.6 605.5L286.4 605.5M286.4 602.3L286.4 605.5M287.6 592.6L286.2 592.6M287.6 595.9L286.2 595.9M286.2 592.6L286.2 595.9M287.6 589.4L285.8 589.4M286.2 594.2L285.8 594.2M285.8 589.4L285.8 594.2M286.4 603.9L285.4 603.9M287.6 608.7L285.4 608.7M285.4 603.9L285.4 608.7M287.6 586.2L285.1 586.2M285.8 591.8L285.1 591.8M285.1 586.2L285.1 591.8M285.1 589L284.5 589M287.6 599.1L284.5 599.1M284.5 589L284.5 599.1M285.4 606.3L283.7 606.3M287.6 611.9L283.7 611.9M283.7 606.3L283.7 611.9M287.6 615.1L283.1 615.1M287.6 618.4L283.1 618.4M283.1 615.1L283.1 618.4M283.1 616.8L282.1 616.8M287.6 621.6L282.1 621.6M282.1 616.8L282.1 621.6M284.5 594L281 594M283.7 609.1L281 609.1M281 594L281 609.1M282.1 619.2L280.7 619.2M287.6 624.8L280.7 624.8M280.7 619.2L280.7 624.8M281 601.6L279.3 601.6M280.7 622L279.3 622M279.3 601.6L279.3 622M285.7 501.6H277.8V527.3H282M284.9 571.3H275.8V611.8H279.3M277.8 514.4H270.5V591.5H275.8" fill="none" stroke="#111" stroke-width=".5"/><line x1="262.4" y1="505.8" x2="262.4" y2="580.2" stroke="#111" stroke-width="0.6"/><text font-size="3.2"><tspan x="429.3" y="495.58">PSMD9</tspan><tspan x="429.3" y="498.93">MTRNR2L1</tspan><tspan x="429.3" y="502.28">ITIH3</tspan><tspan x="429.3" y="505.63">PHKA2</tspan><tspan x="429.3" y="510.02">FAM166C</tspan><tspan x="429.3" y="513.25">PER1</tspan><tspan x="429.3" y="516.49">JUN</tspan><tspan x="429.3" y="519.73">ZBTB16</tspan><tspan x="429.3" y="522.96">SLCO1B3</tspan><tspan x="429.3" y="526.2">PTN</tspan><tspan x="429.3" y="529.43">ADAMTS19</tspan><tspan x="429.3" y="532.67">ACTA2</tspan><tspan x="429.3" y="535.9">KRT14</tspan><tspan x="429.3" y="539.14">KRT5</tspan><tspan x="429.3" y="542.38">APOD</tspan><tspan x="429.3" y="545.61">JUND</tspan><tspan x="429.3" y="548.85">CD69</tspan><tspan x="429.3" y="552.08">CD40</tspan><tspan x="429.3" y="556.46">CD19</tspan><tspan x="429.3" y="559.77">CD22</tspan><tspan x="429.3" y="563.08">MS4A1</tspan><tspan x="429.3" y="566.39">FCER2</tspan><tspan x="429.3" y="569.7">CD79B</tspan><tspan x="429.3" y="573.01">CD40</tspan><tspan x="429.3" y="576.32">FCMR</tspan><tspan x="429.3" y="579.63">FCRL3</tspan><tspan x="429.3" y="582.94">LBH</tspan><tspan x="429.3" y="587.31">IFITM1</tspan><tspan x="429.3" y="590.52">IFIT1</tspan><tspan x="429.3" y="593.74">OAS3</tspan><tspan x="429.3" y="596.95">ISG15</tspan><tspan x="429.3" y="600.17">IFI6</tspan><tspan x="429.3" y="603.38">MX1</tspan><tspan x="429.3" y="606.6">IFI27</tspan><tspan x="429.3" y="609.82">STAT1</tspan><tspan x="429.3" y="613.03">IFNGR2</tspan><tspan x="429.3" y="616.25">CD24</tspan><tspan x="429.3" y="619.46">CCR5</tspan><tspan x="429.3" y="622.68">C1QB</tspan><tspan x="429.3" y="625.89">CXCL9</tspan></text><linearGradient id="lgf"><stop offset="0" stop-color="#c94a4c"/><stop offset=".5" stop-color="#f0aaa8"/><stop offset="1" stop-color="#fff"/></linearGradient><rect x="328.2" y="471.9" width="29.6" height="5.9" fill="url(#lgf)"/><text transform="translate(330.9 470.9) rotate(-90)" font-size="5.7">1</text><text transform="translate(338.4 470.9) rotate(-90)" font-size="5.7">0.5</text><text transform="translate(344.7 470.9) rotate(-90)" font-size="5.7">0</text><text transform="translate(351.9 470.9) rotate(-90)" font-size="5.7">−0.5</text><text transform="translate(358.3 470.9) rotate(-90)" font-size="5.7">−1</text>
<text x="469" y="477.6" font-size="16" font-weight="bold">g</text><rect x="458.4" y="494.2" width="7.4" height="13.4" fill="#e8201c" stroke="#111" stroke-width="0.6"/><text transform="translate(460.4 500.9) rotate(90)" font-size="4.6" text-anchor="middle">mod1</text><rect x="458.4" y="508.5" width="7.4" height="45.6" fill="#f4a9c0" stroke="#111" stroke-width="0.6"/><text transform="translate(460.4 531.3) rotate(90)" font-size="4.6" text-anchor="middle">mod2</text><rect x="458.4" y="555" width="7.4" height="29.7" fill="#57b030" stroke="#111" stroke-width="0.6"/><text transform="translate(460.4 569.85) rotate(90)" font-size="4.6" text-anchor="middle">mod3</text><rect x="458.4" y="585.8" width="7.4" height="41.4" fill="#f0e628" stroke="#111" stroke-width="0.6"/><text transform="translate(460.4 606.5) rotate(90)" font-size="4.6" text-anchor="middle">mod4</text><text x="495.7" y="495.8" font-size="4.4" text-anchor="middle">Up signalings</text><path d="M510.3 535.5h.01M509.6 538h.01M508.3 540.8h.01M506.5 543.3h.01M504 544.4h.01M501.3 545.5h.01M498.3 545.2h.01M495.4 544.5h.01M490.7 541.1h.01M489.5 538.6h.01M489 535.4h.01M489.2 532.3h.01M489.8 530h.01M491.7 527.2h.01M493.9 525.4h.01M496.7 524.5h.01M499.8 524.1h.01M502.6 524h.01M505.5 525.7h.01M507.6 527.1h.01M509.3 529.5h.01M513.3 537.4h.01M512.5 540h.01M511.6 542.4h.01M509.2 545.1h.01M507.3 547.1h.01M504.7 548h.01M498.3 548.7h.01M495.7 548.1h.01M490.3 545.8h.01M488.3 543.4h.01M486.9 540.9h.01M485.9 538.3h.01M485.4 535.3h.01M485.5 532.5h.01M486.5 529h.01M487.9 526.4h.01M489.9 524.2h.01M492.1 522.7h.01M494.9 521.5h.01M503.9 520.9h.01M506.4 522.1h.01M508.7 523.8h.01M510.7 525.9h.01M512.1 528.6h.01M513.3 531.2h.01M513.6 534.1h.01M516.9 535.9h.01M516.9 538.8h.01M515.6 541.5h.01M514.6 544.1h.01M512.4 546.5h.01M510.7 548.6h.01M508 550.2h.01M505.7 551.2h.01M502.6 552.2h.01M499.7 552.2h.01M496.8 552.3h.01M493.8 551.6h.01M491.7 550.2h.01M489.2 548.5h.01M487 546.8h.01M484.9 544.4h.01M483.3 542h.01M482.8 538.9h.01M482.2 536.6h.01M482.3 533.5h.01M483.2 527.7h.01M484.8 525.2h.01M486.6 522.8h.01M488.9 520.9h.01M491 519.2h.01M493.9 517.9h.01M496.8 517.6h.01M499.1 517.2h.01M502 517.2h.01M505.1 518h.01M508 518.9h.01M512.2 522.4h.01M514.4 524.7h.01M515.5 527.4h.01M516.7 530.3h.01M516.9 533h.01M520.7 535h.01M519.5 540.9h.01M518.5 543.7h.01M517.1 546h.01M515.5 548.4h.01M513.3 550.3h.01M511.1 552h.01M508.4 553.9h.01M505.6 554.9h.01M502.7 555.3h.01M500.2 555.7h.01M497.2 555.6h.01M494.2 554.7h.01M491.1 553.7h.01M488.6 552.4h.01M484.1 548.7h.01M482.2 546.9h.01M481.2 544.5h.01M480 541.2h.01M479.1 538.8h.01M479 532.6h.01M479.2 530.2h.01M479.9 527.1h.01M481.4 524.5h.01M482.8 522h.01M484.6 519.9h.01M487 518.1h.01M489.6 516.6h.01M492.1 515.2h.01M495.1 514.1h.01M500.9 513.8h.01M503.7 514h.01M506.2 515h.01M508.9 516.2h.01M511.5 517.7h.01M514.1 519.4h.01M515.7 521.2h.01M517.5 523.7h.01M518.8 526.7h.01M520.1 529.3h.01M520.3 532.3h.01M523.8 537.2h.01M523.2 540.1h.01M522.5 542.7h.01M521.5 545.6h.01M520.1 547.9h.01M518 550.2h.01M516.3 552.8h.01M514 554.3h.01M511.5 555.7h.01M505.8 558.1h.01M503.2 558.4h.01M500.1 559h.01M497.2 559.1h.01M494.3 558.2h.01M491.6 557.4h.01M489 556.2h.01M486.2 555.1h.01M483.8 553.3h.01M482 551.1h.01M480.2 549h.01M478.1 546.4h.01M477.2 543.9h.01M476 541.1h.01M475.4 538.4h.01M475.1 535.5h.01M475.3 532.4h.01M475.9 529.5h.01M476.6 526.4h.01M479.5 521.4h.01M481 518.9h.01M483.3 516.6h.01M485.2 515.2h.01M487.8 513.4h.01M490.7 512.1h.01M493 511.1h.01M502.1 510.3h.01M504.9 511.1h.01M507.9 511.9h.01M510.4 512.8h.01M513 514.2h.01M515.5 515.9h.01M517.7 518.5h.01M519.3 520.5h.01M521.1 523.1h.01M522.3 525.6h.01M523.2 528.1h.01M523.7 531.2h.01M523.9 534h.01M527 539.1h.01M526.5 542.3h.01M525.5 544.9h.01M522.4 549.8h.01M521.1 552.3h.01M518.9 554.3h.01M516.7 556.8h.01M514.3 558.1h.01M511.9 559.8h.01M509 560.7h.01M497.1 562.2h.01M494.4 561.8h.01M491.4 561.1h.01M488.7 559.9h.01M486.3 558.8h.01M483.7 557.3h.01M481 555.3h.01M479 553.4h.01M477.2 550.9h.01M475.5 548.4h.01M473.3 543h.01M472.1 537.7h.01M472.1 531.4h.01M472.4 528.5h.01M473.2 526h.01M474.2 522.9h.01M475.7 520.8h.01M477.7 518h.01M479.2 516.1h.01M481.4 513.6h.01M484.1 512.1h.01M494.3 507.3h.01M497.7 507h.01M500.4 507.3h.01M503.6 507h.01M506.3 508.1h.01M512 509.6h.01M514.2 511.4h.01M516.5 513.2h.01M519.1 515h.01M520.9 517.1h.01M522.8 519.5h.01M524 522.2h.01M525.5 524.6h.01M526.1 527.6h.01M527.4 533.4h.01M530.8 535.1h.01M530.7 537.9h.01M530.1 540.7h.01M529 543.5h.01M528.1 546.4h.01M523.8 553.6h.01M522.2 556.1h.01M518 559.7h.01M515.2 561.6h.01M512.9 562.8h.01M509.8 563.6h.01M507 564.5h.01M504.2 565.6h.01M498.4 565.9h.01M495.8 565.6h.01M492.7 565h.01M489.8 564.4h.01M487.5 563h.01M484.7 562h.01M479.9 558.4h.01M477.9 556.6h.01M475.8 554.4h.01M474.3 552.1h.01M472.2 549.6h.01M471.5 547.3h.01M470.5 544.5h.01M469.4 541.6h.01M469.1 539h.01M468.8 535.8h.01M468.9 532.8h.01M468.8 529.8h.01M469.4 527.2h.01M470.1 524.6h.01M471.4 521.7h.01M472.9 519h.01M476.1 514.2h.01M478.3 512.4h.01M480.6 510.6h.01M482.5 508.6h.01M485.2 507.3h.01M488 505.9h.01M490.8 505.2h.01M493.2 504.5h.01M499.2 503.7h.01M501.8 503.6h.01M504.9 504.5h.01M508.1 504.5h.01M510.3 505.7h.01M512.9 506.9h.01M518 510.1h.01M520.3 511.4h.01M522.5 513.9h.01M524.5 515.9h.01M526.1 518.6h.01M527.6 521h.01M528.3 523.3h.01M529.7 526.6h.01M530.2 529.5h.01M530.6 532h.01" stroke="#dcdcdc" stroke-width="2.3" stroke-linecap="round" fill="none"/><path d="M486 533.1l1.8 1.2M521.8 533.6l.5 1.6M474.1 542.1l.4 2.5M509.4 549.2l-.1 1.8M515.6 513l-2 .4M521.9 539l-.3 1.9M494.9 559.3l-1.3 .4M490.4 518.3l-.1 2.5M522.8 528.8l2 1.4M507.6 552l-1.4 .8M495.8 563.2l-1.6 .3M486.6 545.1l1.4 .6M510.1 533.4l1.1 1M518.8 545.2l-1.6 1.7M481.4 515.1l1.6 0M509.5 532.2l1.3 1.4M497.1 556.8l1.5 .2M512 531.3l-1.4 .4M524.1 533.6l-.6 1.3M523.9 543.4l1.2 .8M511.8 509.9l2.5 .4M481.1 530.6l1.6 .6M516.2 533.4l1.3 .6M512.4 547.8l-1.3 .3M509.8 561.4l-2.6 0M500.1 553.1l-1.9 .3M494.6 518l1.7 .1" stroke="#bdbdbd" stroke-width=".4" fill="none"/><path d="M503.6 510L502.6 513.7M503.6 510L503.8 513.5M501.7 512.4L500.4 515.4M501.7 512.4L503.8 513.5M501.6 512.8L503.8 513.5M501.6 512.8L500.4 515.4M500.1 512.5L508.6 515M500.1 512.5L508.6 515M504.4 515.7L503.5 514.6M504.4 515.7L507 511.8M507 511.8L500.1 512.5M507 511.8L502.6 513.7M505.7 517.7L504.2 512.3M505.7 517.7L500.4 515.4M504.2 512.3L504.2 512.3M504.2 512.3L508.6 515M503.5 514.6L506.5 513.1M503.5 514.6L503.5 514.6M508.6 515L500.4 512.8M508.6 515L504.4 515.7M500.4 515.4L505.6 514.6M500.4 515.4L500.4 515.4M503.8 513.5L502.2 512.3M503.8 513.5L507 511.8M505.9 510.8L502.6 513.7M505.9 510.8L502.6 513.7M506.5 513.1L500.4 512.8M506.5 513.1L501.7 512.4M500.4 512.8L501.6 512.8M500.4 512.8L506.5 513.1M505.6 514.6L506.5 513.1M505.6 514.6L502.2 512.3M502.6 513.7L508.6 515M502.6 513.7L501.7 512.4M502.2 512.3L504.2 512.3M502.2 512.3L505.9 510.8" stroke="#b5b5b5" stroke-width=".55" fill="none" opacity=".85"/><path d="M503.6 510h.01M501.7 512.4h.01M501.6 512.8h.01M500.1 512.5h.01M504.4 515.7h.01M507 511.8h.01M505.7 517.7h.01M504.2 512.3h.01M503.5 514.6h.01M508.6 515h.01M500.4 515.4h.01M503.8 513.5h.01M505.9 510.8h.01M506.5 513.1h.01M500.4 512.8h.01M505.6 514.6h.01M502.6 513.7h.01M502.2 512.3h.01" stroke="#f0808c" stroke-width="2.3" stroke-linecap="round" fill="none"/><path d="M492.4 524.4L493.1 522.5M492.4 524.4L493.1 522.5M496.4 521.9L492.8 519.9M496.4 521.9L496.6 523M492.8 519.9L496.6 523M492.8 519.9L492.4 524.4M493.1 522.5L497 519.3M493.1 522.5L493.1 522.5M497 519.3L496.4 521.9M497 519.3L492.8 519.9M496.6 523L496.4 521.9M496.6 523L492.4 524.4" stroke="#b5b5b5" stroke-width=".55" fill="none" opacity=".85"/><path d="M492.4 524.4h.01M496.4 521.9h.01M492.8 519.9h.01M493.1 522.5h.01M497 519.3h.01M496.6 523h.01" stroke="#f0808c" stroke-width="2.3" stroke-linecap="round" fill="none"/><path d="M489.3 543.6L495.4 542M489.3 543.6L493.4 540.6M492.7 542.2L498.4 544.8M492.7 542.2L496.7 539.3M491 543L491 541M491 543L490.9 541.1M495.4 542L494.6 541.8M495.4 542L493.9 545.1M495 540.3L495.2 537.5M495 540.3L491.6 541.1M491.6 537.6L488 542.6M491.6 537.6L492.4 543.8M495.2 537.5L493.2 539.8M495.2 537.5L494.6 541.8M488 542.6L491.6 540.7M488 542.6L493.9 545.1M496.2 544.5L491 543M496.2 544.5L491.6 540.7M489.7 543.2L490.9 541.1M489.7 543.2L492.9 543M493.8 540.4L486.8 543.6M493.8 540.4L495.4 542M493.9 545.1L492.9 543M493.9 545.1L493.2 539.8M491 541L495.2 541.6M491 541L486.8 543.6M494.6 541.8L497.3 541.7M494.6 541.8L493.9 545.1M497.3 541.7L490.4 539.6M497.3 541.7L489.4 543.1M492.9 543L493 541.5M492.9 543L489.4 543.1M489.4 543.1L495.4 542M489.4 543.1L487.6 542.8M488.4 542.7L488 542.6M488.4 542.7L494.6 541.8M490.4 539.6L497.3 541.7M490.4 539.6L498.4 544.8M498.4 544.8L491.1 542.1M498.4 544.8L493.9 545.1M491.6 540.7L492.7 543.2M491.6 540.7L493.8 540.4M487.6 542.8L492.9 543M487.6 542.8L495.1 540.5M493 541.5L494.6 541.8M493 541.5L494.6 541.8M495.2 541.6L495.2 541.6M495.2 541.6L488.2 540.9M486.8 543.6L497.3 541.7M486.8 543.6L493.9 545.1M493.2 539.8L494.2 539.5M493.2 539.8L493.2 539.8M488.8 542.9L488.2 540.9M488.8 542.9L490.3 547.3M493.4 540.6L493.4 540.6M493.4 540.6L488.2 540.9M491.1 542.1L493.9 545.1M491.1 542.1L496.7 539.3M491.6 541.1L498.4 544.8M491.6 541.1L491.1 542.1M495.1 540.5L495.2 541.6M495.1 540.5L495.4 542M490.9 541.1L491.6 537.6M490.9 541.1L490.3 547.3M492.4 543.8L491.6 541.1M492.4 543.8L490.9 541.1M494.2 539.5L492.7 542.2M494.2 539.5L493.2 540.8M490.3 547.3L493.9 545.1M490.3 547.3L488.4 542.7M490.2 539.3L494.2 539.5M490.2 539.3L488.8 542.9M492.7 543.2L490.9 541.1M492.7 543.2L497.3 541.7M493.2 540.8L486.8 543.6M493.2 540.8L492.4 543.8M488.2 540.9L490.9 541.1M488.2 540.9L493 541.5M489.1 544.3L493.2 539.8M489.1 544.3L489.1 544.3M496.7 539.3L495.1 540.5M496.7 539.3L493.9 545.1M491.9 540.1L488 542.6M491.9 540.1L488.8 542.9" stroke="#b0b0b0" stroke-width=".55" fill="none" opacity=".85"/><path d="M489.3 543.6h.01M492.7 542.2h.01M491 543h.01M495.4 542h.01M495 540.3h.01M491.6 537.6h.01M495.2 537.5h.01M488 542.6h.01M496.2 544.5h.01M489.7 543.2h.01M493.8 540.4h.01M493.9 545.1h.01M491 541h.01M494.6 541.8h.01M497.3 541.7h.01M492.9 543h.01M489.4 543.1h.01M488.4 542.7h.01M490.4 539.6h.01M498.4 544.8h.01M491.6 540.7h.01M487.6 542.8h.01M493 541.5h.01M495.2 541.6h.01M486.8 543.6h.01M493.2 539.8h.01M488.8 542.9h.01M493.4 540.6h.01M491.1 542.1h.01M491.6 541.1h.01M495.1 540.5h.01M490.9 541.1h.01M492.4 543.8h.01M494.2 539.5h.01M490.3 547.3h.01M490.2 539.3h.01M492.7 543.2h.01M493.2 540.8h.01M488.2 540.9h.01M489.1 544.3h.01M496.7 539.3h.01M491.9 540.1h.01" stroke="#e8893c" stroke-width="2.3" stroke-linecap="round" fill="none"/><path d="M486.3 535.8L494.9 528.1M486.3 535.8L486.6 530M488.7 530.2L483.7 531.2M488.7 530.2L492.7 528.9M480.4 529.8L494.9 528.1M480.4 529.8L486.3 535.8M484.2 531.6L492.7 528.9M484.2 531.6L486.6 530M494.9 528.1L483.7 531.2M494.9 528.1L492.7 528.9M483.7 531.2L498.7 534.3M483.7 531.2L483.7 531.2M492.7 528.9L480.4 529.8M492.7 528.9L484.2 531.6M498.7 534.3L494.9 528.1M498.7 534.3L484.2 531.6M486.6 530L492.7 528.9M486.6 530L488.7 530.2" stroke="#b0b0b0" stroke-width=".55" fill="none" opacity=".85"/><path d="M486.3 535.8h.01M488.7 530.2h.01M480.4 529.8h.01M484.2 531.6h.01M494.9 528.1h.01M483.7 531.2h.01M492.7 528.9h.01M498.7 534.3h.01M486.6 530h.01" stroke="#e8893c" stroke-width="2.3" stroke-linecap="round" fill="none"/><path d="M512.3 535.1L514.2 526.4M512.3 535.1L510.2 532.6M515.6 531.7L511.8 529.4M515.6 531.7L512.4 534.8M510.2 532.6L512.9 535.6M510.2 532.6L515.4 536.1M515.8 531.4L512.6 536.9M515.8 531.4L514.9 535.3M510.2 537.1L510.2 537.1M510.2 537.1L513.4 534.1M509.8 530.6L510 535.2M509.8 530.6L512.9 536.3M514.9 537.3L510.9 532.6M514.9 537.3L515.4 536.1M515.4 536.1L512.8 531.5M515.4 536.1L519.5 537.8M514.9 535.5L512.6 536.9M514.9 535.5L514.2 526.4M510.9 532.6L514.9 535.5M510.9 532.6L509.8 530.6M512.6 536.9L509.8 530.6M512.6 536.9L514.9 535.5M512.2 531.5L514.9 537.3M512.2 531.5L512.3 535.1M512.9 535.6L509.8 530.6M512.9 535.6L513.4 532M514.9 535.3L514.4 533.5M514.9 535.3L511 534.6M514.5 535.8L511.8 529.4M514.5 535.8L506.6 529.8M512.2 531.4L514.2 526.4M512.2 531.4L512.2 531.5M514.2 526.4L512.3 535.1M514.2 526.4L510.2 537.1M512 531.5L512.9 536.3M512 531.5L515.3 531.6M512.9 536.3L512.6 536.9M512.9 536.3L512.3 535.1M512.3 534.7L510.2 532.6M512.3 534.7L519.5 537.8M514 532.3L513.4 532M514 532.3L514 532.3M519.5 537.8L513.7 532M519.5 537.8L514.9 537.3M512.4 534.8L510.2 532.6M512.4 534.8L514.9 535.3M513.7 532L515.9 534.4M513.7 532L512.3 535.1M515.9 534.4L512.8 531.5M515.9 534.4L506.6 529.8M514.4 533.5L514 532.3M514.4 533.5L514.5 535.8M515.3 531.6L506.6 529.8M515.3 531.6L506.6 529.8M510 535.2L512.2 531.4M510 535.2L512.3 535.1M506.6 529.8L512.4 534.8M506.6 529.8L514.9 535.3M511 534.6L514.5 535.8M511 534.6L512.6 536.9M512.2 539.9L515.3 531.6M512.2 539.9L514.4 533.5M513.4 534.1L514.9 537.3M513.4 534.1L514.4 533.5M512.9 533.6L514 532.3M512.9 533.6L515.4 536.1M513.4 532L512.8 531.5M513.4 532L512.2 531.4M512.8 531.5L512.9 536.3M512.8 531.5L514.9 537.3M511.8 529.4L515.6 531.7M511.8 529.4L514.4 533.5" stroke="#a8a8a8" stroke-width=".55" fill="none" opacity=".85"/><path d="M512.3 535.1h.01M515.6 531.7h.01M510.2 532.6h.01M515.8 531.4h.01M510.2 537.1h.01M509.8 530.6h.01M514.9 537.3h.01M515.4 536.1h.01M514.9 535.5h.01M510.9 532.6h.01M512.6 536.9h.01M512.2 531.5h.01M512.9 535.6h.01M514.9 535.3h.01M514.5 535.8h.01M512.2 531.4h.01M514.2 526.4h.01M512 531.5h.01M512.9 536.3h.01M512.3 534.7h.01M514 532.3h.01M519.5 537.8h.01M512.4 534.8h.01M513.7 532h.01M515.9 534.4h.01M514.4 533.5h.01M515.3 531.6h.01M510 535.2h.01M506.6 529.8h.01M511 534.6h.01M512.2 539.9h.01M513.4 534.1h.01M512.9 533.6h.01M513.4 532h.01M512.8 531.5h.01M511.8 529.4h.01" stroke="#5a6ea8" stroke-width="2.3" stroke-linecap="round" fill="none"/><text x="494" y="506.6" font-size="4.2" text-anchor="middle" fill="#f0808c">Th cell differentiation</text><text x="517.5" y="544.6" font-size="4.2" text-anchor="middle" fill="#5570b0">Apelin signaling</text><text x="488.5" y="555.2" font-size="4.2" text-anchor="middle" fill="#e8893c">BCR/TCR signaling</text><text x="501" y="575.5" font-size="4.4" text-anchor="middle">Down signalings</text><path d="M505.5 602.1h.01M505.2 605.1h.01M503.5 607.5h.01M500.8 608.9h.01M497.9 609.5h.01M495 609.2h.01M492.3 607.7h.01M490.8 605.2h.01M490.3 601.9h.01M491.2 598.9h.01M494.8 595h.01M498.3 594h.01M500.9 594.9h.01M503.4 596.4h.01M504.9 599.4h.01M509.1 601.9h.01M508.9 605.2h.01M507.8 607.5h.01M505.9 610.3h.01M498.1 613.2h.01M495 612.8h.01M492.3 611.4h.01M490.1 609.7h.01M488 607.4h.01M487.2 605.1h.01M486.5 601.8h.01M488.4 596.3h.01M489.9 593.7h.01M492.5 592h.01M495.2 591h.01M497.9 590.9h.01M501 591.3h.01M503.6 592.1h.01M506.1 594.2h.01M507.6 596.6h.01M508.9 599.2h.01M512.7 603.3h.01M512.5 605.9h.01M511.4 609h.01M509.4 611.4h.01M507.3 613.4h.01M505 615.2h.01M502.5 615.9h.01M499.8 616.7h.01M496.7 617.1h.01M493.6 616.5h.01M491.1 615.5h.01M488.5 613.8h.01M486.5 611.8h.01M485.2 609.1h.01M483.7 606.5h.01M483.2 603.7h.01M483.4 601h.01M483.9 597.6h.01M484.6 595h.01M486.6 593h.01M488.2 590.6h.01M493.4 587.7h.01M496.2 587.5h.01M499.4 587h.01M502.1 587.6h.01M504.9 588.7h.01M507.3 590.1h.01M509.3 592.2h.01M510.8 594.7h.01M512.1 597.4h.01M512.7 600.5h.01M516.4 603.1h.01M516.1 606.2h.01M515 609.3h.01M513.6 611.6h.01M509.8 616.2h.01M507.4 618h.01M505 618.9h.01M501.7 620.2h.01M498.7 620.4h.01M496.2 620.5h.01M492.8 619.7h.01M487.7 617.4h.01M485.7 615.5h.01M483.4 613h.01M481.5 610.5h.01M480.5 608.1h.01M479.7 601.9h.01M480 599.1h.01M480.6 596.4h.01M481.7 593.3h.01M483.2 591.4h.01M485.2 588.6h.01M487.3 587h.01M489.7 585.6h.01M492.9 584.2h.01M495.4 584h.01M498.5 583.6h.01M501.4 583.8h.01M504.5 584.6h.01M509.6 587.7h.01M511.9 589.6h.01M513.2 591.9h.01M514.8 594.9h.01M515.8 597.5h.01M516.4 600.3h.01M520.1 603.4h.01M519.4 606.7h.01M517.6 612.1h.01M516 614.3h.01M514.3 616.5h.01M512 619.1h.01M509.8 620.5h.01M507.4 622.1h.01M501.6 623.4h.01M498.6 623.9h.01M495.8 623.9h.01M492.8 623.3h.01M487.3 621.3h.01M484.6 619.4h.01M482.4 618h.01M480.5 615.7h.01M478.8 613.3h.01M478 610.3h.01M476.6 608h.01M476.2 604.7h.01M476.1 601.7h.01M476.4 599.3h.01M476.9 596.4h.01M477.7 593.1h.01M479.3 590.5h.01M480.7 588.5h.01M482.9 586.3h.01M487.4 582.6h.01M490.4 581.6h.01M493.1 580.5h.01M496 580.3h.01M498.7 580.1h.01M502 580h.01M504.6 580.8h.01M507.3 582.3h.01M509.9 583.7h.01M512.1 585.4h.01M514.7 587.4h.01M516 589.7h.01M517.8 592.2h.01M518.7 594.7h.01M519.7 597.6h.01M519.9 600.7h.01" stroke="#dcdcdc" stroke-width="2.3" stroke-linecap="round" fill="none"/><path d="M486.2 600.7l-2.4 .2M498.6 590.2l1.8 1.3M505.5 586.6l1.7 1.4M484.8 600.1l-.5 1.8M487.2 587.3l-1.4 .1M479.7 593.2l-1 1.8M501.7 597.1l-1.6 1.3M487.4 595.8l-.5 1.3M486.7 600.2l-2.3 .5M480 605.1l.7 1.8M508.3 618.5l-1.7 1.5M514.5 611.5l2 .1M491.1 602.5l.6 2.4M489.2 593.3l-1.4 .9M509 593.7l2.5 .6M508.2 606.9l-1 .9M479.3 596.7l-.5 1.6M499 582.9l-.5 2M491.9 614.4l-2.6 .1" stroke="#bdbdbd" stroke-width=".4" fill="none"/><path d="M499.1 603L498.5 606.3M499.1 603L497 603.7M498.5 606.3L496.7 602.4M498.5 606.3L497.3 603.3M498.3 604.1L498.3 604.1M498.3 604.1L500.5 600.9M498.1 601.9L500.5 600.9M498.1 601.9L499.1 603M499.9 602.7L498.2 605.7M499.9 602.7L498.1 601.9M500.5 600.9L497 603.7M500.5 600.9L498.1 601.9M498.8 606.2L500.5 600.9M498.8 606.2L499.9 602.7M497 603.7L498.6 601.9M497 603.7L498.8 606.2M500.5 603.8L497 603M500.5 603.8L499.1 603M496.7 602.4L496.7 602.4M496.7 602.4L498.3 604.1M498.6 601.9L498.2 605.7M498.6 601.9L497 603.7M497.3 603.3L498.2 605.7M497.3 603.3L497 603.7M495.9 606.2L498.1 601.9M495.9 606.2L495.9 606.2M497 603L500.5 600.9M497 603L497 603.7M498.2 605.7L500.5 603.8M498.2 605.7L498.1 601.9M497.4 606.9L499.9 602.7M497.4 606.9L498.2 605.7" stroke="#a5a5a5" stroke-width=".55" fill="none" opacity=".85"/><path d="M499.1 603h.01M498.5 606.3h.01M498.3 604.1h.01M498.1 601.9h.01M499.9 602.7h.01M500.5 600.9h.01M498.8 606.2h.01M497 603.7h.01M500.5 603.8h.01M496.7 602.4h.01M498.6 601.9h.01M497.3 603.3h.01M495.9 606.2h.01M497 603h.01M498.2 605.7h.01M497.4 606.9h.01" stroke="#ee7580" stroke-width="2.3" stroke-linecap="round" fill="none"/><text x="499" y="616.5" font-size="4.2" text-anchor="middle" fill="#f0808c">Drug metabolism</text><text x="592.4" y="486.8" font-size="5.55">Changed signalings in T and B cells</text><rect x="615.1" y="496.1" width="62.57" height="6.8" fill="#f1cfe1"/><text x="611.2" y="500.9" font-size="4.15" text-anchor="end">NF−kappa B signaling pathway</text><line x1="611.6" y1="499.5" x2="612.3" y2="499.5" stroke="#333" stroke-width="0.35"/><rect x="615.1" y="504.37" width="62.57" height="6.8" fill="#f1cfe1"/><text x="611.2" y="509.17" font-size="4.15" text-anchor="end">B cell receptor signaling pathway</text><line x1="611.6" y1="507.77" x2="612.3" y2="507.77" stroke="#333" stroke-width="0.35"/><rect x="615.1" y="512.64" width="59.55" height="6.8" fill="#f1cfe1"/><text x="611.2" y="517.44" font-size="4.15" text-anchor="end">Th17 cell differentiation</text><line x1="611.6" y1="516.04" x2="612.3" y2="516.04" stroke="#333" stroke-width="0.35"/><rect x="615.1" y="520.91" width="52.35" height="6.8" fill="#f1cfe1"/><text x="611.2" y="525.71" font-size="4.15" text-anchor="end">Fc gamma R−mediated phagocytosis</text><line x1="611.6" y1="524.31" x2="612.3" y2="524.31" stroke="#333" stroke-width="0.35"/><rect x="615.1" y="529.18" width="66.44" height="6.8" fill="#f1cfe1"/><rect x="615.1" y="529.18" width="31.78" height="6.8" fill="#a5b4df" opacity=".9"/><text x="611.2" y="533.98" font-size="4.15" text-anchor="end">PI3K−Akt signaling pathway</text><line x1="611.6" y1="532.58" x2="612.3" y2="532.58" stroke="#333" stroke-width="0.35"/><rect x="615.1" y="537.45" width="48.6" height="6.8" fill="#f1cfe1"/><text x="611.2" y="542.25" font-size="4.15" text-anchor="end">Th1 and Th2 cell differentiation</text><line x1="611.6" y1="540.85" x2="612.3" y2="540.85" stroke="#333" stroke-width="0.35"/><rect x="615.1" y="545.72" width="36.56" height="6.8" fill="#f1cfe1"/><text x="611.2" y="550.52" font-size="4.15" text-anchor="end">Toll−like receptor signaling pathway</text><line x1="611.6" y1="549.12" x2="612.3" y2="549.12" stroke="#333" stroke-width="0.35"/><rect x="615.1" y="553.99" width="27.42" height="6.8" fill="#f1cfe1"/><rect x="615.1" y="553.99" width="26.94" height="6.8" fill="#a5b4df" opacity=".9"/><text x="611.2" y="558.79" font-size="4.15" text-anchor="end">PPAR signaling pathway</text><line x1="611.6" y1="557.39" x2="612.3" y2="557.39" stroke="#333" stroke-width="0.35"/><rect x="615.1" y="562.26" width="25.91" height="6.8" fill="#f1cfe1"/><rect x="615.1" y="562.26" width="25" height="6.8" fill="#a5b4df" opacity=".9"/><text x="611.2" y="567.06" font-size="4.15" text-anchor="end">IL−17 signaling pathway</text><line x1="611.6" y1="565.66" x2="612.3" y2="565.66" stroke="#333" stroke-width="0.35"/><rect x="615.1" y="570.53" width="23.01" height="6.8" fill="#f1cfe1"/><text x="611.2" y="575.33" font-size="4.15" text-anchor="end">T cell receptor signaling pathway</text><line x1="611.6" y1="573.93" x2="612.3" y2="573.93" stroke="#333" stroke-width="0.35"/><rect x="615.1" y="578.8" width="37.65" height="6.8" fill="#f1cfe1"/><rect x="615.1" y="578.8" width="8.79" height="6.8" fill="#a5b4df" opacity=".9"/><text x="611.2" y="583.6" font-size="4.15" text-anchor="end">TNF signaling pathway</text><line x1="611.6" y1="582.2" x2="612.3" y2="582.2" stroke="#333" stroke-width="0.35"/><rect x="615.1" y="587.07" width="27.6" height="6.8" fill="#f1cfe1"/><rect x="615.1" y="587.07" width="9.03" height="6.8" fill="#a5b4df" opacity=".9"/><text x="611.2" y="591.87" font-size="4.15" text-anchor="end">Apelin signaling pathway</text><line x1="611.6" y1="590.47" x2="612.3" y2="590.47" stroke="#333" stroke-width="0.35"/><rect x="615.1" y="595.34" width="15.62" height="6.8" fill="#f1cfe1"/><text x="611.2" y="600.14" font-size="4.15" text-anchor="end">Fc epsilon RI signaling pathway</text><line x1="611.6" y1="598.74" x2="612.3" y2="598.74" stroke="#333" stroke-width="0.35"/><rect x="615.1" y="603.61" width="10.79" height="6.8" fill="#f1cfe1"/><rect x="615.1" y="603.61" width="13.63" height="6.8" fill="#a5b4df" opacity=".9"/><text x="611.2" y="608.41" font-size="4.15" text-anchor="end">TGF−beta signaling pathway</text><line x1="611.6" y1="607.01" x2="612.3" y2="607.01" stroke="#333" stroke-width="0.35"/><line x1="612.3" y1="495" x2="612.3" y2="611.4" stroke="#333" stroke-width="0.8"/><line x1="612" y1="611.2" x2="685" y2="611.2" stroke="#333" stroke-width="0.8"/><line x1="615.6" y1="611.2" x2="615.6" y2="612.6" stroke="#333" stroke-width="0.4"/><text x="615.6" y="617.6" font-size="4.2" text-anchor="middle">0</text><line x1="633.75" y1="611.2" x2="633.75" y2="612.6" stroke="#333" stroke-width="0.4"/><text x="633.75" y="617.6" font-size="4.2" text-anchor="middle">3</text><line x1="651.9" y1="611.2" x2="651.9" y2="612.6" stroke="#333" stroke-width="0.4"/><text x="651.9" y="617.6" font-size="4.2" text-anchor="middle">6</text><line x1="670.05" y1="611.2" x2="670.05" y2="612.6" stroke="#333" stroke-width="0.4"/><text x="670.05" y="617.6" font-size="4.2" text-anchor="middle">9</text><text x="648.2" y="622.6" font-size="4.2" text-anchor="middle">−log10(Value)</text><rect x="552.5" y="529.7" width="129.6" height="7.3" fill="none" stroke="#e8283c" stroke-width="0.8"/><rect x="665.9" y="595" width="3.5" height="5.2" fill="#f1cfe1"/><rect x="665.9" y="602" width="3.5" height="5.5" fill="#a5b4df"/><text x="671.2" y="599.6" font-size="6">up</text><text x="671.2" y="606.8" font-size="6">down</text>
<text x="-.5" y="653" font-size="16" font-weight="bold">h</text><clipPath id="ch1"><rect x="18.4" y="659.8" width="86.69999999999999" height="78.70000000000005"/></clipPath><g clip-path="url(#ch1)"><g filter="url(#rag)" fill="#4b4b4b"><ellipse cx="64.5" cy="691" rx="11.5" ry="19" transform="rotate(20 64.5 691)"/><ellipse cx="57" cy="699" rx="7" ry="10"/><polygon points="18.4,707 53,707 50,716 44,724 38,732 33,738.5 18.4,738.5"/></g><path d="M71.7 709.1h.6M57.9 680.9h.6M68.1 714.5h.6M68.5 677.4h.6M58.1 691.7h.6M73.4 692.3h.6M61.8 689.5h.6M66.5 682.9h.6M65 695.8h.6M79.4 691.7h.6M73.5 679.3h.6M72.6 694.5h.6M60.2 692.1h.6M72.9 688.3h.6M74 711.8h.6M79.3 713.1h.6M53.8 696.8h.6M59 704.5h.6M65.7 695.3h.6M69.1 684.9h.6M65.9 683.3h.6M83.4 686.6h.6M65.2 670h.6M52 681.8h.6M72.1 702.3h.6M67.5 684.3h.6M81.4 679.4h.6M57.5 698.7h.6M56.2 695.9h.6M73.6 691.6h.6M68.6 693h.6M59.1 652h.6M54.2 692.4h.6M50.5 685.3h.6M66.9 709.5h.6M52.9 685.7h.6M67 699.2h.6M52.8 716.3h.6M57.8 706.4h.6M63.2 697.7h.6M79.8 701.6h.6M66.2 679.6h.6M59.2 674.2h.6M82.9 672.5h.6M42.1 713.6h.6M76.4 687.8h.6M72.5 681.9h.6M59.9 698.9h.6M68.5 686.6h.6M79.5 701.9h.6M66.2 677.2h.6M66.2 688.4h.6M64.3 702.7h.6M59.9 695.9h.6M72.1 697h.6M85.5 670h.6M64.4 677.2h.6M64.4 724.8h.6M50.4 688.6h.6M70.8 693.6h.6M73.1 672.3h.6M73.7 680h.6M54.1 699.7h.6M69.2 682.9h.6M57.6 689.8h.6M64.8 690.1h.6M55.9 662.4h.6M76.6 694.6h.6M53.8 672h.6M58.7 686.9h.6M45.9 710.3h.6M68.7 688.1h.6M68 695.2h.6M74.4 694.2h.6M76.2 712.2h.6M62.1 686.4h.6M57 689.2h.6M58.4 692.4h.6M67.6 699.2h.6M54.5 706.2h.6M62.1 690.8h.6M60.2 666.3h.6M67.1 669.3h.6M74.7 692.7h.6M78.8 700.6h.6M71.1 710.3h.6M64.4 712.1h.6M63.7 695.5h.6M58.8 699.2h.6M70.8 685.7h.6M53.3 691.7h.6M68.6 690.1h.6M56.1 682.8h.6M62.4 658.2h.6M59.5 710.7h.6M53.3 689.3h.6M79.9 701.3h.6M73 690.2h.6M52.9 729.4h.6M67.5 695.2h.6M79.5 702.6h.6M65.3 677.9h.6M63.4 690.2h.6M58.7 680.9h.6M55.8 690.6h.6M59.5 697.4h.6M73.9 696.2h.6M65 712.3h.6M70.6 673h.6M58.3 694.6h.6M56.9 701.9h.6M49.1 667.4h.6M73.5 699.6h.6M50.4 693.1h.6M76.8 677.6h.6M54.1 676.3h.6M55.9 669.6h.6M60.4 673.3h.6M65.3 721h.6M55.3 703.8h.6M75.2 662.2h.6M65.7 691.9h.6M61.7 702.4h.6M60.8 696.6h.6M61.2 690.3h.6M57.7 721.5h.6M64.2 677.5h.6M82.2 712.4h.6M63 683.5h.6M58.1 708h.6M61.8 682.8h.6M72.3 688.5h.6M64.2 717.1h.6M72.5 708.1h.6M68.5 708.7h.6M63.2 704.5h.6M74.1 686.7h.6M53.2 699h.6M63.6 699.9h.6M59.3 698.9h.6M73.3 722.6h.6M80.7 697.1h.6M77.6 683.9h.6M75.2 693.8h.6M76.6 696.3h.6M62.7 682.8h.6M76 692.8h.6M71.1 698.3h.6M46.4 699.8h.6M61.4 697.1h.6M69 668.7h.6M61.9 691.2h.6M68.2 704.2h.6M58.6 689h.6M70.3 668.3h.6M81.3 679.8h.6M76.5 693.9h.6M81.6 705.5h.6M64.4 670.1h.6M65.9 696.2h.6M69.6 675.7h.6M57.3 681.9h.6M67.2 680.8h.6M63.7 704h.6M60.9 709.4h.6M67.4 688.8h.6M74.5 698.4h.6M62.1 684.4h.6M64.3 696.5h.6M74.9 695.5h.6M59.2 674.8h.6M67 697.1h.6M74.9 685.2h.6M53.1 702.8h.6M63.2 676.3h.6M79.6 703.5h.6M65.3 695.6h.6M58 704.8h.6M60.8 686.2h.6M62.1 677.3h.6M73.9 713.6h.6M71.5 665.5h.6M62 683.8h.6M68.1 664.4h.6M45.4 686.1h.6M73.5 689.6h.6M84.5 681.1h.6M65.1 690.1h.6M57.3 706.4h.6M52.9 678.4h.6M61.5 685.8h.6M74.8 685.2h.6M69.2 686h.6M76.1 691.8h.6M67.1 670.9h.6M71 683.7h.6M72.7 698.6h.6M69.6 706.6h.6M68.1 680.7h.6M66.1 694.2h.6M54.2 700h.6M77.8 695.2h.6M65.7 698h.6M74.5 685.1h.6M73.2 682.4h.6M69.5 698.7h.6M53.3 700.5h.6M66.7 670.5h.6M60.7 683.9h.6M56.8 697.4h.6M57.6 692.7h.6M55 688.6h.6M81 697.4h.6M50.8 679.9h.6M63.5 671h.6M73.4 691.5h.6M64.1 692.7h.6M58.6 677.3h.6M36.9 671.1h.6M66.8 700.8h.6M63.1 668.3h.6M61.7 692.5h.6M53.1 709.7h.6M54.7 692h.6M55 703.7h.6M53.4 680.4h.6M74.6 675.8h.6M59.9 699h.6M67.9 669.4h.6M70.1 688.2h.6M75.6 669.6h.6M71.5 697.2h.6M61.3 686.6h.6M68.1 683.1h.6M61.6 682.1h.6M65.9 700.7h.6M50.5 692.3h.6M67.4 711.4h.6M58.1 708.2h.6M60.7 698.3h.6M66.7 695.5h.6M61.6 679.3h.6M78 710.7h.6M63.7 689.8h.6M62.8 674.7h.6M54.7 697.3h.6M73.2 689h.6M56.3 678h.6M59.2 701h.6M65.1 673.5h.6M54.3 696.2h.6M67.3 714.6h.6M77.5 694.3h.6M58.6 694.6h.6M54.5 683.1h.6M73.6 699.8h.6M72.9 712.1h.6M61 702.3h.6M65.3 696h.6M66.7 698.9h.6M52.3 674.3h.6M65.5 698.2h.6M60.3 690.6h.6M52.1 704.3h.6M68.7 711.3h.6M61 690.7h.6M65.3 709.6h.6M69.7 697h.6M50 680.9h.6M51.5 689.5h.6M72.3 692.6h.6M56.4 718.2h.6M54.8 709.8h.6M75 695.3h.6M76.7 677.9h.6M59.7 688h.6M68 689.6h.6M79.9 687.1h.6M62.6 676.3h.6M68.9 702.2h.6M57.9 675.7h.6M52.3 707h.6M71.7 695.5h.6M71.4 698.2h.6M68.7 671h.6M69.3 701h.6M74.8 704.4h.6M58.6 695.3h.6M52 710.5h.6M52.4 701h.6M57.6 681.4h.6M56.7 687.7h.6M68.1 706.4h.6M62 703h.6M72.4 718.5h.6M59.3 695.9h.6M70.8 693.8h.6M70.2 683.3h.6M61.5 683.8h.6M58.9 680.5h.6M63.8 676.1h.6M59.5 699.4h.6M50.6 678.3h.6M61 678.1h.6M55.7 716.1h.6M67.6 686h.6M58 671.8h.6M54.3 662h.6M69.6 685.3h.6M72.7 691.8h.6M46.8 716.4h.6M69.2 703.3h.6M59.6 684.6h.6M63 715h.6M53.4 678.1h.6M69.2 666.5h.6M77.9 677h.6M75.2 689.9h.6M61.5 677.1h.6M77.6 688.4h.6M52.7 700.1h.6M63.4 698.6h.6M61 696.6h.6M68.7 692.1h.6M50 698.2h.6M76.9 697.6h.6M72.9 702h.6M61.9 705.5h.6M62.5 679h.6M53.4 705.2h.6M70.9 700h.6M59.6 668.4h.6M71.6 690.7h.6M59.2 684h.6M59.5 668h.6M70.2 701h.6M72.4 687.3h.6M53.5 674.3h.6M61.9 714.4h.6M72.9 692.3h.6M68.8 702.4h.6M65.2 694.9h.6M66.5 684.4h.6M54.4 684.7h.6M74.9 671.6h.6M60.7 686.5h.6M65 686.1h.6M71.7 687.2h.6M64.6 701.1h.6M52 706h.6M73.8 675h.6M63.8 682.4h.6M61.4 702h.6M47.9 702.8h.6M68.5 691.9h.6M84.3 685.6h.6M51.3 696.9h.6M65.9 683.8h.6M45.7 667.5h.6M79.2 672.4h.6M77 702.5h.6M45.1 694.4h.6M70.4 706.2h.6M76.5 708.1h.6M64.3 688.8h.6M62.9 698.7h.6M56.3 678.2h.6M85.1 704.2h.6M74.2 689h.6M57.1 686.4h.6M57.6 683.9h.6M50.7 699.9h.6M67.6 702.1h.6M65.3 682.8h.6M82.7 704h.6M69.7 703.3h.6M62 701.3h.6M58 704.9h.6M73 702.7h.6M68.2 693.7h.6M66.7 701.2h.6M60.6 701.1h.6M71.5 675.7h.6M49.5 695.7h.6M61.6 681.6h.6M53.6 677.7h.6M50 687.3h.6M50.8 669.9h.6M63.5 711.3h.6M75.6 689.7h.6M68 688.7h.6M63.5 681.9h.6M64.7 678.4h.6M58.1 689.9h.6M63.9 718h.6M56.8 677.7h.6M70.3 699.2h.6M70.6 690.3h.6M51.2 687.3h.6M53.3 690.9h.6M80.1 687.8h.6M65.5 705.7h.6M52.7 701.5h.6M61.5 683h.6M61.3 679.1h.6M72.1 693h.6M60.4 698h.6M51.3 656.3h.6M76.2 684.4h.6M71.2 680.2h.6M48.4 677.7h.6M72.6 696.5h.6M58.9 700.4h.6M61.9 694h.6M55 662.6h.6M65.3 700.3h.6M56.6 712h.6M67 714.1h.6M70.3 707.5h.6M62.3 672.9h.6M54.8 726h.6M29.3 721h.6M32.7 722.7h.6M26.5 720.2h.6M26.3 722.1h.6M28 709.4h.6M26.9 725.3h.6M29.6 719.8h.6M54 728.9h.6M32.1 725.7h.6M23.9 724.3h.6M21.7 713.6h.6M22.5 713.3h.6M36.3 721.8h.6M47 715.1h.6M25.2 707.9h.6M20.5 722.1h.6M18.5 747.8h.6M30.9 708.7h.6M30.6 720.7h.6M21.4 713.3h.6M38.1 720.1h.6M29.7 730.2h.6M40.9 725h.6M38.9 718.4h.6M46.6 715.9h.6M21.6 718.4h.6M31.4 709.1h.6M23.1 722.2h.6M25.6 740.4h.6M21 721.4h.6M40.6 737.3h.6M27.2 712.5h.6M37.5 727.1h.6M18.7 719.2h.6M59.1 719.7h.6M29.6 713.4h.6M37.1 735.1h.6M36.2 712.5h.6M29.5 745.9h.6M23.9 716.5h.6M19.9 733.2h.6M31.8 721.5h.6M28.4 711.3h.6M32.5 720.3h.6M38.1 710.8h.6M54.8 708.9h.6M18.2 715.4h.6M23.8 721.3h.6M60.9 714.5h.6M35.7 707.7h.6M20.1 718.9h.6M20.9 715.8h.6M18.8 711.8h.6M36.8 718.8h.6M20.1 726.3h.6M30.5 712.4h.6M36.8 717.9h.6M24.2 751.3h.6M41 717.8h.6M24.5 716.7h.6M34.7 708.4h.6M27.4 719h.6M42.6 710h.6M39 709.9h.6M49.2 735.4h.6M39.6 713.4h.6M28.7 728.5h.6M27.4 738.9h.6M29.9 712.8h.6M21.9 710.5h.6M18.6 719.8h.6M19.8 714.8h.6M26.6 712.2h.6M31.1 709.7h.6M27.9 719.1h.6M47.8 710.8h.6M31.1 708.6h.6M28.3 731.6h.6M22.4 720.3h.6M47.5 711.2h.6M18.2 724.3h.6M40.3 728.8h.6M19.1 729.2h.6M20.1 715.6h.6M42.4 710.1h.6M44.4 735.1h.6M28.8 722.8h.6M31.2 708.5h.6M26.3 711.1h.6M18.4 711.3h.6M33.5 724.2h.6M24.4 740.4h.6M25.7 714.5h.6M49.2 717.5h.6M31.4 734.6h.6M28.8 717.1h.6M55.1 725.2h.6M23.2 721.1h.6M26.4 733.8h.6M31.5 733.6h.6M29.7 722.9h.6M27.7 715.3h.6M41.9 710.8h.6M33.5 714.2h.6M27.1 717.3h.6M19.4 708.7h.6M35.6 719.1h.6M21.1 715.3h.6M26.8 721.6h.6M49.8 711.4h.6M36.2 708.9h.6M24 713.7h.6M32.4 720h.6M36.9 711.5h.6M62.6 721h.6M30 712.3h.6M30.9 711.8h.6M30.8 708.3h.6M43.1 711.1h.6M32.1 712.5h.6M20.3 720.6h.6M30.2 728.1h.6M42.2 716h.6M49.1 709.7h.6M64.1 710.1h.6M28.6 729.1h.6M41.4 708.3h.6M22.9 711.2h.6M41.2 725h.6M21.7 736.5h.6M70.2 722.2h.6M65.2 714.1h.6M32.6 714.1h.6M46.4 719h.6M47.9 710.4h.6M36 723.1h.6M24.7 726.4h.6M42.8 709.9h.6M32.5 707h.6M39.8 723.8h.6M31.4 727.8h.6M28.5 711.5h.6M31.2 739.1h.6M39.2 716h.6M37.1 719.6h.6M20.9 708.3h.6M49.6 722h.6M41.5 708.2h.6M35.4 724h.6M27.3 712.8h.6M24.4 735.6h.6M40 707.9h.6M27.7 717.9h.6M20.9 719.7h.6M35.1 721.8h.6M47.9 708.8h.6M26.8 712.3h.6M28.8 718.8h.6M20.8 718.4h.6M35.5 713h.6M26.4 727.2h.6M61.5 723.8h.6M43.1 730.3h.6M30.4 719.6h.6M39.8 717.2h.6M23.3 720.1h.6M23 725h.6M46.5 723h.6M25.5 722.9h.6M20.6 737.6h.6M28 718.4h.6M23.7 714.1h.6M35.2 712.1h.6M36.2 724.9h.6M34.9 730h.6M28.7 720.3h.6M30.7 715.4h.6M26.7 730.1h.6M44 731.2h.6M33 716.6h.6M31.6 718.1h.6M26.8 710.3h.6M34 709.1h.6M30.9 711.9h.6M27.7 715.6h.6M22.1 711.6h.6M33.2 722.2h.6M33 708.7h.6M24.2 707.5h.6M24.5 722h.6M20 722.8h.6M39.4 718.1h.6M21.7 725.7h.6M26.1 726.5h.6M42.1 712.3h.6M39.5 725.9h.6M30.5 707.8h.6M35.8 711.6h.6M30.6 719.3h.6M55.3 724.7h.6M23 719h.6M26.5 713.9h.6M30.5 727.6h.6M19.4 707.5h.6M33.5 707.4h.6M36.5 711.4h.6M43.6 722.9h.6M41.1 710.8h.6M26 710.4h.6M24.6 732.7h.6M32.4 717.1h.6M32.7 723.4h.6M57 719.4h.6M59 727.6h.6M20.9 709.6h.6M24.2 716.9h.6M37 709.3h.6M36.2 709.7h.6M25.7 714.6h.6M43.8 722.7h.6M46 736.7h.6M37.1 724.4h.6M49 718.7h.6M22.3 707.2h.6M49.1 717.4h.6M45 721.9h.6M33.2 711.7h.6M25.9 715.4h.6M61.1 707.2h.6M42.5 720.8h.6M25.1 720h.6M32.7 714.1h.6M52.3 708.7h.6M35.3 723h.6M32.1 708.5h.6M20 720.4h.6M64 718h.6M25.9 715.9h.6M29 714.3h.6M31.6 727.8h.6M22.1 707h.6M20.3 740.5h.6M24.6 722.8h.6M34.9 717.9h.6M29.7 715.5h.6M38.1 711h.6M31.7 709.5h.6M19.2 712.5h.6M26.8 708.4h.6M22.5 707.4h.6M22 723.2h.6M30.5 713.7h.6M48.7 710.3h.6M33 716h.6M26.7 711.3h.6M34.7 721.8h.6M37.2 714.6h.6M24.3 710.5h.6M18.2 721h.6M19.4 713.2h.6M22.2 722.3h.6M19 721.9h.6M30 711h.6M35.9 708.2h.6M20.4 714.7h.6M36 711.7h.6M26.9 714.7h.6M65.6 718.5h.6M54.3 731.1h.6M36.2 710.4h.6M35.5 715.6h.6M18.9 707.2h.6M18.6 733.1h.6M35.4 720.5h.6M22.7 712.5h.6M32.3 708.7h.6M29.3 722.4h.6M23 740.4h.6M48.7 708h.6M25.4 738.5h.6M32.8 717.4h.6M25.2 735.9h.6M45.2 736.8h.6M50.8 725.2h.6M38 720.6h.6M30.3 724.3h.6M35.3 729.9h.6M50.4 716.8h.6M40.3 722.8h.6M22.6 720h.6M31.3 713.9h.6M26 717.6h.6M20.4 714.3h.6M51.5 723.7h.6M19.8 718h.6M22.8 723.1h.6M46.6 730.2h.6M25.3 707.8h.6M19.7 709.9h.6M26.7 713h.6M37.1 709.5h.6M43.1 724.3h.6M25.9 720.9h.6M47.1 713.5h.6M18.7 719.8h.6M42.3 729.5h.6M25.4 719.2h.6M22.5 712.9h.6M20.8 711.1h.6M19.6 710h.6M72.1 720.1h.6M29.8 711.9h.6M21.1 730.2h.6M24.6 714.3h.6M31.2 737.1h.6M21.2 711.7h.6M51.3 726.2h.6M26.7 710h.6M35.7 727.1h.6M23 708.4h.6M25.5 709.2h.6M23.3 709.3h.6M25.4 709.7h.6M49.3 711.3h.6M23.2 721.2h.6M24 725.6h.6M25.3 724.5h.6M49.5 707.9h.6M21.7 707.8h.6M36.9 713.3h.6M61.5 710.1h.6M23.7 725.3h.6M30.9 718h.6M19.1 715.7h.6M43.9 715.2h.6M28.8 708.9h.6M28.2 717.9h.6M30.7 713.8h.6M22.2 713.8h.6M37.1 739.9h.6M30.3 718.1h.6M62 711.7h.6M23.4 716.6h.6M37.9 718h.6M22.1 711h.6M56.5 719.3h.6M22.2 734.6h.6M57.4 715.7h.6M26.1 710.9h.6M60.4 717.8h.6M23.2 715.3h.6M19.9 713.6h.6M26.1 712.4h.6M32.5 713.8h.6M23.5 714.2h.6M42 722.9h.6M34.4 721.5h.6M22 713.9h.6M34.8 713.7h.6M51.2 709.7h.6M31.4 708.6h.6M45.3 711.7h.6M23.4 730.4h.6M29.4 755.5h.6M25.6 721h.6M22.5 722.8h.6M29.6 727.1h.6M23.2 722.7h.6M24.8 712.4h.6M45.1 723h.6M43.8 736.5h.6M30.2 720.3h.6M24.9 739.5h.6M28.1 720h.6M26.6 709.4h.6M48.6 713.6h.6M23.5 719.2h.6M35.2 713.6h.6M69.3 712.5h.6M83.2 731.8h.6M59.7 695.3h.6M84.8 667.6h.6M78.3 709.5h.6M51 677.4h.6M88.9 674.3h.6M81.6 694h.6M69.2 728.6h.6M69.5 728.8h.6M90.7 704.1h.6M54.8 687.4h.6M97.4 682.1h.6M79.2 677.3h.6M86.3 714.3h.6M94.2 707.1h.6M55.2 722.5h.6M78.5 733.7h.6M75.7 686.6h.6M71.9 704.7h.6M84.6 710.1h.6M92.8 702.7h.6M59.9 727.3h.6M85.3 674h.6M72.7 726.7h.6M78.5 671.3h.6M93 717.6h.6M59.6 714.8h.6M92.9 705.7h.6M97.1 702.9h.6M50.3 712.1h.6M91.2 731.6h.6M87.5 733.6h.6M89.9 698h.6M52.7 674.7h.6M52.2 732.3h.6M90.1 730.9h.6M88.5 696.5h.6M77.9 663.9h.6M57.7 692.4h.6M52.4 686.2h.6M75.6 674.3h.6M58.6 668.5h.6M72.6 725.6h.6M72.1 715.5h.6M85.5 723.1h.6M89.5 700h.6M52 674.8h.6M63.6 687.6h.6M79.6 699.8h.6M64.1 674.7h.6M86.6 737.7h.6M84.8 672.7h.6M84.5 722.8h.6M76.6 710.2h.6M92.8 698.4h.6M85 674.9h.6M91.5 705.4h.6M59.3 709.5h.6M90.9 695.9h.6M65.3 716h.6" stroke="#4b4b4b" stroke-width=".6" fill="none"/><path d="M53.8 718.7h.5M19.3 723.6h.5M23.7 725.3h.5M23.6 718.1h.5M44.2 725.6h.5M21.8 737.7h.5M20.8 711.8h.5M26.7 729.8h.5M20.4 727.8h.5M27.7 737.7h.5M18.9 736.1h.5M53.3 724.8h.5M22.7 716.1h.5M41.5 712h.5M34.3 727.7h.5M34.5 721.5h.5M24.2 726.8h.5M24.3 723.8h.5M40.4 726h.5M24.2 734.3h.5M33 720.1h.5M26.3 724.1h.5M18.2 730.2h.5M26.8 722.4h.5M32 719h.5M20.1 711.7h.5M37.3 732.5h.5M20.9 733.5h.5M26.4 727.9h.5M23.9 717.5h.5M19.7 713.8h.5M30.6 713.1h.5M24 737.2h.5M18.7 729.4h.5M18.5 729h.5M24.9 715.6h.5M33.5 735.3h.5M18.9 712.8h.5M36.7 724.7h.5M19 728.2h.5M29.7 730h.5M25.1 726.6h.5M18.9 711.2h.5M19.8 735h.5M19 718.2h.5M23.5 715.9h.5M22.4 725.1h.5M19.3 728.1h.5M36.5 716.8h.5M22.4 721h.5M18.3 733.1h.5M29.6 715.3h.5M47.7 728.6h.5M22.3 717.7h.5M25.7 731h.5M26.7 720.2h.5M29.4 733.3h.5M36.6 724.9h.5M22.4 722.2h.5M39.1 711.4h.5M26.7 712.1h.5M20.9 717.4h.5M38.1 722.1h.5M24 726.3h.5M31.8 717.3h.5M29.9 733.9h.5M22.3 725.6h.5M32.8 720.4h.5M21.6 735.9h.5M44.5 713h.5M26.4 713.1h.5M23.5 721.6h.5M22.3 728h.5M23.7 737.1h.5M22.9 714.4h.5M44 719.4h.5M18.4 734.8h.5M31.6 737.9h.5M19.8 727h.5M36.1 737.2h.5M24.8 712.8h.5M20.3 714.1h.5M24.2 729.4h.5M19.1 715.4h.5M39.7 723h.5M24 731.2h.5M30.3 712h.5M24.6 733.9h.5M22.8 712.3h.5M28 727.6h.5M39 735.8h.5M28 737.8h.5M24.4 723.1h.5M24.5 713.1h.5M43.8 717.3h.5M20.7 732.9h.5M18.9 712.1h.5M43.9 713.3h.5M35.8 710.6h.5M23.4 729.4h.5M44.5 720.8h.5M33.1 733.4h.5M18.3 731.8h.5M31.7 726.8h.5M30.5 714.3h.5M26.3 724.6h.5M32.9 737.5h.5M19.9 714.8h.5M33.3 712.8h.5M27.6 725.8h.5M24.4 723.4h.5M33.3 731.6h.5M22.7 734.6h.5M21.1 736.2h.5M21.5 723h.5M22.8 710.9h.5M30 715.9h.5M30 726.8h.5M23.6 727.5h.5M38.2 712.1h.5M30.8 737.8h.5M47.2 711.2h.5M22.8 721.7h.5M29.5 722.9h.5M37 713.6h.5M24.1 734h.5M33.8 725.5h.5M29.8 710.9h.5M30.5 720.9h.5M28.9 714.3h.5M26.3 732.8h.5M24.2 713.8h.5M18.4 732.9h.5M25 731.6h.5M28.4 737.3h.5M27.6 721.6h.5M36 714.2h.5M37.4 711.3h.5M21.6 716.1h.5M27.6 723.8h.5M23.4 715.7h.5M28 712.6h.5M29 730.5h.5M42.9 722.3h.5M33.6 725.5h.5M26.4 710.6h.5M24.2 728.4h.5M25.9 737h.5M26.7 733.3h.5M27 712.2h.5M19.6 737h.5M22.1 731.1h.5M34.1 728.4h.5M19.6 721.2h.5M18.2 722.8h.5M35.5 732.5h.5M28.7 717.2h.5M22.3 737.8h.5M25.1 725.3h.5M29.6 718.1h.5M28.9 722.4h.5M21.2 732.3h.5M20.9 736.1h.5M50.3 717.5h.5M22 727.5h.5M39.3 723.7h.5M34 736.3h.5M26.8 713h.5M22.9 730.2h.5M24 722.8h.5M23.6 723.6h.5M29.6 718.6h.5M37.7 710.6h.5M19 716.2h.5M38.5 726.6h.5M21.3 730.5h.5M46.4 731.5h.5M30.6 724.1h.5M41 717.9h.5M29 717.9h.5M34.8 711.5h.5M18.3 724.1h.5M42.6 725.1h.5M31.8 729.6h.5M21.9 733h.5M22.1 725.1h.5M33 737.3h.5M30.5 718.5h.5M38.8 729.2h.5M27.9 735.5h.5M42.3 711.1h.5M24.5 718.9h.5M33.3 734.9h.5M38.3 725.5h.5M37.6 710.7h.5M25.3 720.4h.5M22.4 718.6h.5M19.5 717.8h.5M24.4 720.4h.5M24.7 728.5h.5M25.4 732h.5M28 730h.5M25.6 734.6h.5M23.8 713.9h.5M31.1 732.6h.5M31.4 731.7h.5M21.3 730.2h.5M25.1 735.1h.5M36 712.3h.5M48.6 723h.5M29.8 719.7h.5M20.5 718.3h.5M28.6 724.2h.5M28.7 717.2h.5M50.4 719.8h.5M18.2 717h.5M37.2 732.2h.5M29.1 735.6h.5M30 710h.5M19.4 730.7h.5M25.5 735.3h.5M29.9 732.5h.5M35.6 721.7h.5M26.4 715.1h.5M24.3 723.8h.5M39.9 724.6h.5M36.7 713.3h.5M45.3 712.6h.5M19.3 725.9h.5M27.9 724.2h.5M27.8 721.2h.5M35.7 726.9h.5M42.7 722.8h.5M28.8 730.5h.5M26.1 710.1h.5M48.9 725.9h.5M21.3 725.2h.5M48.9 724.3h.5M36.6 720.4h.5M32.8 727.8h.5M18.3 712.2h.5M23.8 715h.5M24.3 731.9h.5M22.3 729.2h.5M24.7 721.6h.5M24 734.4h.5M29.2 720.8h.5M36.5 733.4h.5M30.9 735.2h.5M18.8 728.8h.5M23.1 723.3h.5M20 731.7h.5M34.1 713.8h.5M24.7 726.9h.5M29.3 715.9h.5M25.3 726.6h.5M26.4 727h.5M33.3 725.6h.5M23.6 710.3h.5M39.1 737h.5M22.6 730.3h.5M18.4 731.3h.5M30.8 711.1h.5M32.2 730.7h.5M29.9 723.3h.5M40.7 735.8h.5M19.4 712.5h.5M18.9 719.1h.5M19.8 712.6h.5M28.2 728.2h.5M42.7 719.9h.5M39 724h.5M36.9 730.4h.5M21.2 722.1h.5M30.3 710.3h.5M19.6 729.1h.5M36 729.4h.5M21.8 725.9h.5M26.5 726h.5M19.6 719.3h.5M27.6 731.9h.5M20.7 719.3h.5M21.3 710.5h.5M45.5 715.2h.5M36.8 715.6h.5M27.2 713.7h.5M30.5 737.9h.5M41.6 736.4h.5M18.2 732.1h.5M24 722.2h.5M21.2 710.4h.5M18.8 724.5h.5M24.9 737.1h.5M27 711.9h.5M41.1 712.5h.5M41.1 733.2h.5M29.4 722.2h.5M28 725.3h.5M39.3 723.2h.5M28.6 722.9h.5" stroke="#fff" stroke-width=".5" fill="none"/><rect x="18.4" y="673.5" width="35" height="33.6" fill="#f00" filter="url(#rag2)"/><rect x="18.4" y="680" width="34.6" height="27" fill="#f00"/><path d="M24.4 663.6h.6M40.2 670.8h.6M47.8 669.3h.6M36.2 668.8h.6M27.2 665.5h.6M40.1 671.9h.6M28.9 664.9h.6M51.6 671.6h.6M38 667.7h.6M38.5 673.9h.6M34 672.8h.6M28.5 670.3h.6M25.4 673.3h.6M52.2 667.4h.6M23.1 667.7h.6M21.3 671.9h.6M46 668.5h.6M19 666.6h.6M26 673.8h.6M43.1 673.1h.6M23.7 671.5h.6M19.9 666.1h.6M24.3 668.5h.6M28.1 672h.6M48.4 670.7h.6M47.2 668.1h.6M49.7 668.5h.6M18.7 673h.6M29.3 673.3h.6M22.6 670.4h.6M43.7 673h.6M31.5 668h.6M34.2 670.5h.6M43.9 673.9h.6M31.6 669.9h.6M43.2 667.2h.6M39.4 672.6h.6M29.8 669.6h.6M35.5 672.1h.6M28.2 673.4h.6M21.3 672.8h.6M48.3 665.9h.6M26.8 662.4h.6M30.9 669.3h.6M41.7 670.3h.6M45.1 671.2h.6M18.6 671.6h.6M48.2 665.4h.6M52.3 669.7h.6M48.5 671.8h.6M38.3 672.5h.6M35.1 673.1h.6M30.3 673.4h.6M31.2 661.6h.6M50.2 661.8h.6M29.4 670.8h.6M30.9 669.7h.6M38.3 666h.6M20.4 671.9h.6M38.7 674h.6M40.7 672.1h.6M35.9 668.4h.6M29.2 666.2h.6M24.9 669.5h.6M46.7 671.3h.6M25.4 666.4h.6M34.3 668.2h.6M30 670.9h.6M36.7 669.9h.6M45.3 667.2h.6M35.5 673.9h.6M44.6 669.9h.6M42.4 673.1h.6M47.1 672.1h.6M20.4 663.3h.6M24.9 665.5h.6M35 665.7h.6M30.2 673.7h.6M37.7 667.8h.6M39 671.8h.6M43.1 672.2h.6M51.6 667.2h.6M46.2 668.6h.6M49 671.5h.6M47.4 668.5h.6M32.1 669.5h.6M33.3 668.4h.6M44.9 671.1h.6M22.1 668.4h.6M51.5 672.6h.6M47.9 672.7h.6M52.6 669.4h.6M18.7 673.7h.6M28.4 673h.6M40.7 670.5h.6M26 667h.6M32.2 671.3h.6M36.9 670.5h.6M37.6 667.8h.6M45.6 666.3h.6M30 673h.6M20.9 662.4h.6M43.4 668.7h.6M40.5 672.8h.6M46.3 665.9h.6M50.6 668.4h.6M48.1 665.6h.6M49.9 673.4h.6M38.7 669h.6M41.9 671.6h.6M19 665.9h.6M42 667.2h.6M18.9 672.6h.6M31.5 666.6h.6M40.6 671.5h.6M42.1 672.3h.6M41.9 669.6h.6M25.1 670h.6M22.8 669.8h.6M32.7 672.2h.6M36 669.2h.6M25.2 673.9h.6M21.9 670.9h.6M28.5 672.5h.6M27.6 671.5h.6M40.3 663.2h.6M40.2 672.9h.6M41.3 673.2h.6M51.3 665.1h.6M22.7 665.7h.6M43 669.9h.6M28.3 673.8h.6M52.1 673.8h.6M41.8 670.8h.6M29.5 671h.6M26.2 671.1h.6M38.7 666.5h.6M37.5 670.8h.6M26.7 673.4h.6M21 671.9h.6M42.9 673.8h.6M19.4 673.6h.6M47.9 671.3h.6M45.6 671.3h.6M49.2 670.7h.6M41.7 672.8h.6M45.1 673.4h.6M29.9 667.7h.6M31.6 670.3h.6M40.2 667.8h.6M49.7 666.9h.6M19.5 669.9h.6M31.1 667.9h.6M19.4 672.8h.6M41.5 665.7h.6M37.5 671h.6M28.1 671.9h.6M32.8 671.9h.6M35.9 672.8h.6M40.2 672.7h.6M40.4 673.1h.6M21.3 667.9h.6M36.3 670.6h.6M25.8 662.5h.6M46.3 671.1h.6M38.9 670.4h.6M20.6 672.8h.6M19.7 665.5h.6M37.6 662.3h.6M45 666h.6M46.9 671.9h.6M27.3 669.3h.6M20.5 672.4h.6M25.9 673.1h.6M29.8 669.5h.6M47.2 669.6h.6M31 664.3h.6M33.8 672h.6M43.3 662.5h.6M27.9 671.8h.6M47.4 670.4h.6M23.3 672.2h.6M43.5 672.1h.6M52.3 670.8h.6M34.4 667.6h.6M43.2 673.2h.6M23 671.8h.6M25.9 668.5h.6M33 667.8h.6M44.7 664.3h.6M50 673.6h.6M24.3 668.7h.6M49.7 661.3h.6M41.6 668.6h.6M45.6 670.8h.6M35.1 672.1h.6M41.3 669.9h.6M45.9 670.6h.6M25.8 670.1h.6M33.3 673.7h.6M28 669.7h.6M33.3 673.4h.6M50.1 669.5h.6M33.5 665.9h.6M37.5 672.8h.6M30.6 670.4h.6M23 669.5h.6M41.6 672.7h.6M30.9 669.8h.6M38.7 668.1h.6M33.2 671.5h.6M40.7 672.6h.6M29.4 671.5h.6M32.7 662.5h.6M22 670h.6M31.6 670.1h.6M39.2 662.3h.6M28.7 673.8h.6M46.4 671.6h.6M18.8 670.5h.6M23.7 663.2h.6M34.4 671.8h.6M26.6 665.8h.6M50.3 668.9h.6M37.5 671.5h.6M35.6 667.5h.6M25.6 664.9h.6M28.1 667.4h.6M48.4 673.6h.6M49.6 673.8h.6M52.2 670.5h.6M19.8 666.3h.6M49.2 669.2h.6M44.2 668.1h.6M38.7 671.4h.6M52 671.7h.6M40.8 672.8h.6M25.6 673h.6M22.4 671.9h.6M28.5 672.1h.6M47.8 672.7h.6M22.4 669.7h.6M21.5 673.2h.6M23.1 672.1h.6M52.7 669.2h.6M20.2 664.8h.6M23.7 667.6h.6M48.5 671.9h.6M47.8 667.5h.6M31.8 666.6h.6M36.4 672.9h.6M40.5 669.2h.6M31.7 672.4h.6M19.7 669.3h.6M31.3 667.8h.6M27.6 670.6h.6M34.6 671h.6M37.1 673.4h.6M27.7 670.9h.6M30.1 671.5h.6M43.1 668h.6M38.3 672.1h.6M47.6 668h.6M30 666.6h.6M22.7 669.9h.6M52.7 666.3h.6M27.2 670.3h.6M36.7 661.5h.6M42.3 670.7h.6M32 670.8h.6M24.8 670.1h.6M40.5 670.5h.6M35.8 667.4h.6M44.3 673.2h.6M43.8 672.7h.6M23.1 671.7h.6M30.6 666.5h.6M21.7 669.9h.6M25.7 673.5h.6M27.4 663.3h.6M37.5 670h.6M35.5 672.7h.6M20.3 670.2h.6M49.7 672.4h.6M49.2 671.2h.6M28.3 672.2h.6M50.4 670h.6M27.5 672.5h.6M30.7 668.1h.6M50.1 673.4h.6M40.9 668.8h.6M29.8 673.8h.6M24.8 673.6h.6M49 670.2h.6M37.7 669.7h.6M40 672.5h.6M30.4 670.8h.6M46.3 673.5h.6M42.1 672h.6M39.7 668.5h.6M19.1 667h.6M39.7 666.3h.6M36.4 670.6h.6M32.5 665h.6M22.2 668.8h.6M50.8 668h.6M19.2 663.4h.6M19.8 668.4h.6M41.8 667.7h.6M37 665.9h.6M41.9 673.1h.6M18.7 670.3h.6M42.9 672.6h.6M22.1 671.6h.6M49.2 669.3h.6M43.6 669.8h.6M28.3 668.4h.6M27.8 668.9h.6M20.1 673.9h.6M41.1 673.6h.6M24.7 672.8h.6M44 668.9h.6M40.5 669.8h.6M37 671.7h.6M51.5 664.7h.6M46.7 670.1h.6M44.5 674h.6M45.7 670.9h.6M26 668.3h.6M39.4 673.7h.6M51 673.6h.6M45.1 671.9h.6M26.1 670h.6M48.2 672.4h.6M40.2 671.9h.6M25.3 669.3h.6M41.5 673.2h.6M52.5 672.2h.6M47.6 669.3h.6M21.1 670.8h.6M20.4 666h.6M51.5 668.4h.6M49.6 672.9h.6M41.3 673.1h.6M35.2 671.1h.6M24 671.2h.6M50.6 667.5h.6M43.2 673.4h.6M47.6 670.1h.6M50.4 670h.6M27.4 671.4h.6M39.1 671.6h.6M34.9 663.1h.6M52.6 668.6h.6M33.7 667h.6M39.8 665.6h.6M36.1 668.8h.6M29.6 673.1h.6M27.7 668.9h.6M27.4 672.5h.6M32.5 669.5h.6M20.8 671.9h.6M25.6 669.9h.6M20 669.5h.6M38.9 673.5h.6M43.6 662.3h.6M19.2 673h.6M28.5 671.8h.6M46 668.4h.6M34.5 664h.6M38.2 670.1h.6M51.3 672.1h.6M24.3 670.5h.6M45.3 672.5h.6M35 664.8h.6M37.9 671.1h.6M22.1 663.1h.6M40.1 674h.6M21.3 672.8h.6M51.4 672.9h.6M45.1 670.9h.6M40.7 662.2h.6M31.4 669h.6M36.1 671.7h.6M42 669.9h.6M44.6 669.1h.6M19.1 670.5h.6M28.9 671.7h.6M43.6 668.8h.6M21.5 673.8h.6M43 669.3h.6M32.3 673.1h.6M38.2 666.4h.6M29.4 672.5h.6M22.6 673.3h.6M24.9 670.6h.6M44.2 670.5h.6M23.9 670.7h.6M43.7 667.2h.6M27.2 668.8h.6M34.1 670.6h.6M22.7 671h.6M35.5 671h.6M44.5 668h.6M48 672.9h.6M40.4 668.3h.6M39.2 670.8h.6M47.3 665.1h.6M34.2 672.4h.6M47.6 668.2h.6M33.7 672.3h.6M51.1 671.7h.6M20.2 664.9h.6M21.7 673.4h.6M28.6 673.3h.6M26.3 668.2h.6" stroke="#f00" stroke-width=".6" fill="none"/><path d="M24.5 678.3h.5M43.5 676.1h.5M20.8 672.6h.5M19.2 683.7h.5M42.5 674.8h.5M49.2 672.2h.5M51 672.3h.5M25.5 672.8h.5M45 674.6h.5M32.2 676.5h.5M38.6 681.8h.5M38.8 673.6h.5M20.9 680.2h.5M33.8 678h.5M22.7 675h.5M49.8 683.6h.5M30.1 677.1h.5M49.1 681.5h.5M29.8 680.5h.5M28.7 673.6h.5M49.7 676.5h.5M51.5 682.5h.5M37.1 683h.5M32.9 678h.5M24.1 672.1h.5M33.3 673.7h.5M31.4 677.8h.5M30.6 681.1h.5M45.5 677.8h.5M37.1 683.8h.5M35.8 677.5h.5M43.2 672.4h.5M27.9 674.4h.5M36.1 672.3h.5M44.9 681.2h.5M34.5 683h.5M35.2 676.6h.5M22.2 676.9h.5M30.8 680.6h.5M46.9 673.3h.5M36.4 678.4h.5M32.1 677.4h.5M51.6 676.7h.5M32.6 678.7h.5M49.3 679.4h.5M52.1 676.3h.5M45.5 681.9h.5M49.9 683.9h.5M36.9 675.3h.5M36.9 679.8h.5M22.2 680.5h.5M43.6 675.2h.5M29 680.3h.5M18.9 682.9h.5M43.7 678.2h.5M37.4 675.9h.5M46.4 674.9h.5M42.1 672.1h.5M20 683.1h.5M18.9 673h.5" stroke="#fff" stroke-width=".5" fill="none"/><path d="M39.7 674.8h.7M45.6 684.5h.7M36.4 675.6h.7M31.8 678.9h.7M40.3 669.6h.7M47.9 679.1h.7M40.2 682.6h.7M38.3 681h.7M44.4 679h.7M36.2 680.5h.7M36.9 673.2h.7M49.3 681.1h.7M28.2 669h.7M36.8 681h.7M33.2 679.3h.7M35.9 680.4h.7M43.3 678.2h.7M39 682.4h.7M44.4 688.5h.7M34 683.6h.7M38.5 677.2h.7M36.7 681.8h.7M37.2 689.8h.7M41 679.7h.7M51.2 679.4h.7M40.5 679.4h.7M43.1 680.9h.7M44.9 676.6h.7M44.1 685.3h.7M38.2 687.4h.7M35.2 684.9h.7M37.4 676.2h.7M42.4 694.1h.7M35.3 673.6h.7M48.7 679.8h.7M39.9 682.7h.7M36.5 681.5h.7M43.4 669.4h.7M40.7 678.9h.7M37.4 687.9h.7M40.8 685.2h.7M46.3 686.8h.7M28.2 677.2h.7M26.2 684.5h.7M49.4 682.7h.7M44.5 679.6h.7M45.7 686.5h.7M39.3 680.5h.7M40.8 693.3h.7M39.1 685h.7M46.6 686.1h.7M48.1 684.6h.7M38.4 673.2h.7M48 677.5h.7M33.7 684.5h.7M46.5 685.4h.7M32.1 671.3h.7M32.4 680h.7M39.2 681.2h.7M37.2 688.1h.7M40.6 686.2h.7M31.1 677.6h.7M41.1 676.2h.7M29.7 684.9h.7M47.7 677.5h.7M35.8 677.4h.7M47.7 688.5h.7M39.3 677.1h.7M34.2 674h.7M38.6 685h.7M38.9 671.6h.7M51.7 684.4h.7M40.4 679.9h.7M31.4 686.3h.7M47.4 679.1h.7M42.4 688.5h.7M23.8 682h.7M42.9 673.5h.7M40.2 684.5h.7M39.1 683.6h.7M40.2 675.4h.7M35.8 682.5h.7M41.6 684h.7M38.7 678.2h.7M36 683.8h.7M46.7 679.4h.7M44.7 681.2h.7M38.6 690.7h.7M35.3 673.1h.7M39.3 668.7h.7M42.5 687h.7M42.2 684.4h.7M39.8 681.8h.7M38.3 688.9h.7M34.2 683.4h.7M38.7 682.2h.7M40.8 681.5h.7M37.3 676.8h.7M46 682h.7M36.2 685.7h.7M28.3 680.4h.7M46 685.4h.7M24.5 687.9h.7M38.5 689.5h.7M37.4 677.5h.7M39.2 685.8h.7M41.4 691.3h.7M40.5 679.4h.7M50.6 686.6h.7M48.3 677.7h.7M38.9 683.8h.7M49.9 685.5h.7M43.6 681.3h.7M31.6 681.6h.7M41.5 678.6h.7M38.5 677.7h.7M33.2 678.6h.7M42.2 679.6h.7M37.9 683.6h.7M33.6 688.6h.7M32.5 677h.7M36.4 683.6h.7M42.2 677.2h.7M28.6 679.8h.7M42.3 677h.7M45.7 672.4h.7M44.8 683.2h.7M32.7 695.2h.7M47.2 682.8h.7M45.8 677.2h.7M40.2 680.8h.7M39.7 684.6h.7M35.2 674.7h.7M46.6 678.2h.7M36.4 677h.7M32 680.1h.7M30.2 689.6h.7M37.3 675.9h.7M39.1 675.6h.7M37 685.1h.7M27.1 680.2h.7M44 678.4h.7M30 685h.7M36.6 682.1h.7M37.6 680.7h.7M26.4 685.6h.7M44.1 681.7h.7M38.8 683h.7M31.4 679.4h.7M38.3 685.4h.7M38.5 683h.7M42.4 682.6h.7M33 685.6h.7M36.5 681.4h.7M46.1 686.4h.7M42.8 684.1h.7M34.2 680.8h.7M45.1 681.9h.7M52.2 684.7h.7M36.6 681.7h.7M42.3 690.7h.7M37.2 688.3h.7M41.1 675.8h.7M30.7 687.4h.7M40.7 678.5h.7M39.7 686.7h.7M36.9 681.1h.7M33.8 670.3h.7M31.6 690.5h.7M37.7 688.4h.7M45.6 682.8h.7M43.5 684.3h.7M47.5 677.4h.7M26.7 687.3h.7M47.6 685.4h.7M45.1 673.8h.7M33.4 674.3h.7M29.9 683.2h.7M39.6 687.6h.7M34 682.4h.7M39.9 673.3h.7M44.3 683.4h.7M27 673.6h.7M29.1 684.3h.7M31.7 682.5h.7M35.3 680h.7M45.3 686.2h.7M37.7 682.5h.7M27.2 678.8h.7M43.5 680.4h.7M41.2 687.3h.7M25.1 681.7h.7M43.5 676h.7M49.5 676.8h.7M35 683.2h.7M39.4 670.6h.7M36.8 683.3h.7M36.3 687.4h.7M49.4 676.5h.7M24.1 673.3h.7M46.5 690.2h.7M34.8 696.7h.7M34 699.6h.7M39.4 691.6h.7M37.8 692.5h.7M38.5 693.8h.7M48.9 696.9h.7M27.7 700h.7M51.1 695.7h.7M45 696.2h.7M23.5 699.5h.7M38.7 696.7h.7M50.3 693.7h.7M32.7 698.2h.7M35.7 698.8h.7M36.8 689.4h.7M22.6 698.6h.7M41.9 693h.7M39.7 687.3h.7M44.9 690.3h.7M35.6 703.3h.7M31.7 695.7h.7M31.7 702.8h.7M36.2 696.6h.7M34.2 692.7h.7M32.9 685.6h.7M43.8 697.1h.7M45.2 697.8h.7M28 690.6h.7M37.6 703.2h.7M33.4 700.2h.7M35.7 694.2h.7M33.8 700.7h.7M27.9 704.9h.7M41.5 702.8h.7M31.2 701.4h.7M35.3 692.6h.7M38.4 692.7h.7M38.1 696.1h.7M24.2 698.8h.7M45.2 696h.7M43.2 698.7h.7M25.5 690.5h.7M49.3 697.6h.7M39.4 696.2h.7M36.3 698.2h.7M37.6 696.3h.7M40 687.2h.7M44.2 701.8h.7M47.3 704.9h.7M32.5 688.1h.7M51.9 698h.7M35.9 691.4h.7M41.4 694.6h.7M36 694.5h.7M28.1 699.2h.7M29.4 693.9h.7M42.8 704.4h.7M44.5 692.7h.7M41.9 700.8h.7M33.7 700.6h.7M34.3 693.2h.7M43.6 697.2h.7M50.9 698.2h.7M29.5 702.6h.7M29.1 693.9h.7M44.3 690.5h.7M39.2 694h.7M35.1 699.6h.7M51.2 694.7h.7M45.1 698.1h.7M26.6 689.4h.7M25.9 690.1h.7M37.4 693.1h.7M35.6 698.2h.7M39.5 697.7h.7M41.6 705.3h.7M45.2 692.7h.7M29.8 700.4h.7M33.7 694.2h.7M47 699h.7M27.7 696.7h.7M29.6 683.7h.7M42.4 700.5h.7M28.6 698.2h.7M30 696.5h.7M39.2 694.7h.7M36.3 691.8h.7M26.3 702.3h.7M36.8 705.3h.7M36.3 696.2h.7M38.2 698.3h.7M46 693.2h.7M42.4 700.4h.7M40.5 696.2h.7M25.2 695.1h.7M40.1 690.1h.7M33.8 695.3h.7M28.5 689.1h.7M44.1 688.7h.7M34.3 694.8h.7M43.2 701h.7M35.1 697.7h.7M32.2 698.5h.7M49.3 689.8h.7M45.4 696.5h.7M46.5 690.9h.7M23.5 693.8h.7M47.8 697.3h.7M32.4 690.2h.7M39.7 696.2h.7M31.3 699h.7M34.7 693.7h.7M41.6 693.4h.7M35 684.5h.7M47.2 701.9h.7M33.8 700.8h.7M32.6 701.2h.7M23.7 694.6h.7M30 688.9h.7M25.1 699.9h.7M31.5 700.9h.7M35 696.8h.7M42.7 703.7h.7M38.3 703.2h.7M38.8 690.3h.7M36.5 688.7h.7M35.5 691.3h.7M43.5 693.3h.7M37.6 695.4h.7M34.7 702.3h.7M37.4 698.8h.7M38.4 698.9h.7M48.9 690.3h.7M47.8 692.5h.7M32.4 693.2h.7M40.1 697.5h.7M36.7 686.6h.7M34.8 695.9h.7M50.8 693.5h.7M43.2 698.6h.7M41.7 699.7h.7M41.9 701h.7M37.5 693.1h.7M24.2 701.9h.7M40.7 690.9h.7M45.5 694.8h.7M47.3 699.4h.7M33.3 695.6h.7M25.5 690.3h.7M36.4 705.1h.7M28.9 697.1h.7M40.7 701.2h.7M37.3 695.1h.7M30.1 694.7h.7M33.7 696.6h.7M19.3 697.9h.7M43.6 697.3h.7M30.5 692.5h.7M47.1 703h.7M30.8 697.5h.7M37.9 687.3h.7M39.3 686.9h.7M29.6 686.6h.7M49.4 699.9h.7M29.5 703.2h.7M40 687.5h.7M39.5 698.3h.7M46 696.2h.7M45.1 691.6h.7M46.5 699.6h.7M27.1 697.2h.7M47 690.1h.7M38.8 693.8h.7M23.6 704.8h.7M49.4 699.5h.7M39.2 693.8h.7M36.6 703.4h.7M43.6 695.1h.7M38.6 693h.7M30.2 693.9h.7M46.8 698.7h.7M29.9 698.8h.7" stroke="#5a10c8" stroke-width=".7" fill="none"/><path d="M48.7 688.7h.7M33.2 673.1h.7M43.4 683.6h.7M33.9 694.6h.7M42.6 692.8h.7M44.3 679.4h.7M42.6 679.2h.7M42.1 671.1h.7M43.5 688.3h.7M34.4 677.7h.7M36.5 683.4h.7M32.2 670.4h.7M49.4 679.6h.7M38.2 682.6h.7M52.3 675.9h.7M27.4 679.5h.7M50.6 682h.7M37.9 686.5h.7M35.8 675.5h.7M33.6 681.2h.7M31.7 682.9h.7M41.4 677.2h.7M45.7 675.5h.7M38.4 677h.7M43.9 677.1h.7M25.1 688.6h.7M39 685.1h.7M52.3 679.7h.7M41.2 683.9h.7M52.6 680.1h.7M34.8 683h.7M35.1 683.3h.7M36.3 674.7h.7M39.8 682.8h.7M41.4 670.6h.7M47.4 675.7h.7M40 680.1h.7M35.3 684.2h.7M40 690.8h.7M30.7 676.8h.7M27.6 689.6h.7M41.9 682.9h.7M32.6 675h.7M29.6 681h.7M42.9 683.1h.7M51.7 674.8h.7M42.5 681.5h.7M32.4 671.4h.7M38.7 680h.7M41.1 686.3h.7M39.3 676h.7M36.6 684.5h.7M49.5 685.2h.7M37.8 684.5h.7M25.2 677h.7M33.2 676.2h.7M38.7 681.2h.7M51.2 685.3h.7M32.7 677.5h.7M32.6 690.8h.7M32.6 680.6h.7M42 676.6h.7M38 681.5h.7M43 675.5h.7M31.8 681.6h.7M42.5 689.8h.7M32.6 671.8h.7M33.8 676.4h.7M31.3 682.4h.7M46.8 682.3h.7M36.3 677.2h.7M49.3 678.6h.7M45.3 675.5h.7M52 682.5h.7M40.2 675.9h.7M29.3 681.9h.7M35.6 683.3h.7M37.7 680.8h.7M41.5 685.8h.7M43.2 678.5h.7M26.2 681.3h.7M32 690.1h.7M40.3 683.4h.7M36.1 683.9h.7M45.6 680.3h.7M42.2 673.4h.7M26.4 680.4h.7M46.7 684.1h.7M35.4 684h.7M39 681.9h.7M35.6 685.2h.7M33.7 677.6h.7M31.6 684.3h.7M37.5 678.8h.7M23.4 674.1h.7M25 677.7h.7M27.9 686.7h.7M45.7 678.4h.7M41.7 681.6h.7M24 686.4h.7M35.8 688.4h.7M46.9 688.9h.7M42 677.7h.7M37.6 684.4h.7M44.5 680.8h.7M40.2 681.8h.7M42.6 686.1h.7M27.9 678.1h.7M35.9 677.1h.7M50.4 675.5h.7M43.2 681.7h.7M42.4 688h.7M43.1 682.7h.7M43.8 692.6h.7M34.9 677.5h.7M38.5 683.9h.7M28.9 686.9h.7M47.5 684.6h.7M31.1 675.3h.7M48.7 688.5h.7M37.7 674.7h.7M31.7 677.3h.7M35.2 681.3h.7M39.1 684.1h.7M34.4 686.6h.7M30.9 673.1h.7M41.4 676.4h.7M36.1 684.3h.7M47.3 693.8h.7M34.6 681.6h.7M43 681.2h.7M42.3 678.1h.7M39.5 680.2h.7M49.7 685.6h.7M38.8 675.6h.7M42.8 672h.7M44.5 674.1h.7M29 676.6h.7M48.3 681.8h.7M34.9 685.4h.7M39.2 676h.7M32.5 675.1h.7M49.4 677.2h.7M37.3 674.4h.7M43 681.5h.7M28.2 686h.7M39 674.6h.7M45.7 676.3h.7M41.6 678.5h.7M35.1 680.7h.7M39.7 680.4h.7M42 678.7h.7M36.8 676h.7M28.1 680.1h.7M40.4 674.8h.7M36 682h.7M43 683h.7M31.3 684.7h.7M42.6 673.2h.7M42.4 684.9h.7M50.2 676.1h.7M41.6 671.9h.7M39.4 683.5h.7M51 689h.7M43.3 674.3h.7M33.8 678.8h.7M33.5 688.2h.7M31.4 683.5h.7M40 673.9h.7M45.3 677h.7M39 681.9h.7M48.2 679.8h.7M40.1 687.9h.7M39 682h.7M32.7 678.3h.7M38.4 677h.7M41.4 681.7h.7M39.9 685.1h.7M41.6 680.1h.7M37.1 681.3h.7M37.7 680.3h.7M44.6 682.4h.7M43.3 682.2h.7M44.2 685.2h.7M42.4 684h.7M40.4 682.1h.7M35.6 683.8h.7M37.6 689.4h.7M45.9 693.7h.7M33.3 690.3h.7M38.9 679.2h.7M27.8 674.8h.7M49.4 686.6h.7M42.3 673.2h.7M44.9 686.5h.7M31.3 674.8h.7M32.9 682.5h.7M35.2 680.7h.7M38.2 679.8h.7M46 684.8h.7M25.7 702.6h.7M33.8 695.2h.7M42 699.4h.7M48.6 697.4h.7M39 699.4h.7M28.9 692h.7M35.4 690.9h.7M32 700h.7M28.9 697.3h.7M39.4 698.8h.7M42.2 693.8h.7M23.1 697h.7M49.1 695.2h.7M19.5 693.6h.7M48.4 695h.7M38.4 695.8h.7M30.8 694h.7M42.3 688.3h.7M41.9 698.6h.7M44.6 697.7h.7M42.4 693.2h.7M47.5 696.9h.7M28.5 690.8h.7M37.4 702.5h.7M37.1 689.5h.7M19 699.1h.7M47.7 699.2h.7M52.2 697.3h.7M33.6 697.4h.7M41.7 690.1h.7M42.6 685.4h.7M31.7 700.5h.7M36.4 697.3h.7M48.5 700.3h.7M43.9 699.5h.7M46.7 700.1h.7M31.1 696.7h.7M49.4 694.3h.7M34.5 697.3h.7M28.5 698.2h.7M44.5 690.4h.7M35.7 697.9h.7M43.5 685h.7M32.1 693.9h.7M40.2 701.8h.7M41 688.8h.7M28.9 691.2h.7M23.9 702.9h.7M45.9 705.2h.7M38.5 693.4h.7M36.4 689.4h.7M37.5 699.3h.7M40.6 697.7h.7M40.8 703.7h.7M32 691.5h.7M39.1 699.6h.7M35.7 694.4h.7M31.5 692h.7M36.9 701.1h.7M38.2 693.5h.7M36.8 699.4h.7M34 685.6h.7M25.6 692.8h.7M36.3 696h.7M29.3 698.6h.7M41.8 697.9h.7M35.1 697.7h.7M42.2 702.7h.7M35.9 700h.7M45.5 695.9h.7M30.1 700.1h.7M35.1 696.4h.7M43.2 701h.7M29.5 697.5h.7M40 702h.7M49.2 695.1h.7M44.3 686.2h.7M39.1 701.8h.7M31.3 702.5h.7M38.3 698.3h.7M41 695.3h.7M50.9 700.9h.7M24.1 700.8h.7M41.9 692.3h.7M27.7 688.8h.7M37 697.2h.7M35.8 695.4h.7M38 700.1h.7M41.1 693.5h.7M35.6 694.6h.7M37.1 699.2h.7M33.7 697.8h.7M37.8 693.2h.7M29.3 691.8h.7M27.9 697.2h.7M34.6 697.3h.7M45.2 699.2h.7M27.6 704.2h.7M31.2 690h.7M28.1 695.3h.7M37.4 697.8h.7M41.2 699.2h.7M30.5 684.8h.7M43 699h.7M43.3 688.8h.7M34.4 699.4h.7M38 693.3h.7M29.6 699.8h.7M28.5 698.4h.7M25.9 699h.7M39.9 698.6h.7M45.3 705.8h.7M45 691.7h.7M34.6 692h.7M47.2 694.9h.7M44.7 693.9h.7M39.4 700.3h.7M27.7 695.5h.7M50.6 698.8h.7M33 694.7h.7M34.5 697.5h.7M42.6 697.3h.7M37.1 697.1h.7M46.5 697.7h.7M39.3 703h.7M37.6 697.5h.7M37.7 698h.7M32.4 691.5h.7M41.6 698.9h.7M29.6 691.8h.7M37.3 695.6h.7M31.7 701.3h.7M47.3 694h.7M30.6 701h.7M40.6 697.8h.7M34.7 694.8h.7M22.5 689.9h.7M27.2 696.1h.7M39.6 703.5h.7M36.8 702.8h.7M52.4 700h.7M44.4 694.7h.7M33.4 696.7h.7M44.6 697.7h.7M30.2 699.4h.7M44.8 689.8h.7M38.3 694.4h.7M37.4 694.1h.7M43.7 700.9h.7M44.8 702.2h.7M29.9 697h.7M34.4 701.3h.7M35.7 699.8h.7M36.1 695.4h.7M46.7 690.8h.7M31.7 695.4h.7M29.6 694.3h.7M41.6 698.4h.7M33.6 695.2h.7M37.2 696.4h.7M36.8 703.2h.7M43.4 689.4h.7M44.5 696.1h.7M34.6 690.7h.7M35.9 701.6h.7M25.9 689h.7M28.8 694.7h.7M42.6 695.3h.7M42.3 697h.7M45.7 697.8h.7M47.9 688.8h.7M34.7 697.9h.7M41.1 690.7h.7M32.5 694.2h.7M32 697.8h.7M24.9 699.5h.7M39.9 694.3h.7M46.3 697.3h.7M51 697.1h.7M42.7 700.3h.7M38.8 697.2h.7M38.4 695.4h.7" stroke="#2a18e8" stroke-width=".7" fill="none"/></g><rect x="18.4" y="659.8" width="86.7" height="78.7" fill="none" stroke="#888" stroke-width="0.6"/><path d="M18.4 659.8V738.5H105.1" fill="none" stroke="#333" stroke-width=".7"/><rect x="18.4" y="660" width="35" height="47.1" fill="none" stroke="#222" stroke-width="0.6"/><text x="34.5" y="671.5" font-size="3.4" text-anchor="middle" fill="#444">P3</text><path d="M19.9 738.5v1.5M22.6 738.5v1.5M24.7 738.5v1.5M26.4 738.5v1.5M27.8 738.5v1.5M29.1 738.5v1.5M30.2 738.5v1.5M31.2 738.5v2.8M37.7 738.5v1.5M41.5 738.5v1.5M44.2 738.5v1.5M46.4 738.5v1.5M48.1 738.5v1.5M49.5 738.5v1.5M50.8 738.5v1.5M51.9 738.5v1.5M52.9 738.5v2.8M59.4 738.5v1.5M63.2 738.5v1.5M65.9 738.5v1.5M68 738.5v1.5M69.7 738.5v1.5M71.2 738.5v1.5M72.4 738.5v1.5M73.6 738.5v1.5M74.5 738.5v2.8M81.1 738.5v1.5M84.9 738.5v1.5M87.6 738.5v1.5M89.7 738.5v1.5M91.4 738.5v1.5M92.9 738.5v1.5M94.1 738.5v1.5M95.2 738.5v1.5M96.2 738.5v2.8M102.7 738.5v1.5" stroke="#222" stroke-width=".55" fill="none"/><path d="M18.4 737.9h-1.5M18.4 735.4h-1.5M18.4 733.5h-1.5M18.4 732h-1.5M18.4 730.6h-1.5M18.4 729.5h-1.5M18.4 728.5h-1.5M18.4 727.6h-2.8M18.4 721.7h-1.5M18.4 718.2h-1.5M18.4 715.8h-1.5M18.4 713.8h-1.5M18.4 712.3h-1.5M18.4 711h-1.5M18.4 709.8h-1.5M18.4 708.8h-1.5M18.4 707.9h-2.8M18.4 702h-1.5M18.4 698.5h-1.5M18.4 696.1h-1.5M18.4 694.2h-1.5M18.4 692.6h-1.5M18.4 691.3h-1.5M18.4 690.2h-1.5M18.4 689.2h-1.5M18.4 688.2h-2.8M18.4 682.3h-1.5M18.4 678.9h-1.5M18.4 676.4h-1.5M18.4 674.5h-1.5M18.4 672.9h-1.5M18.4 671.6h-1.5M18.4 670.5h-1.5M18.4 669.5h-1.5M18.4 668.6h-2.8M18.4 662.7h-1.5" stroke="#222" stroke-width=".55" fill="none"/><text x="30.7" y="747" font-size="3.6" text-anchor="middle" fill="#333">10<tspan dy="-1.4" font-size="2.88">2</tspan></text><text x="52.1" y="747" font-size="3.6" text-anchor="middle" fill="#333">10<tspan dy="-1.4" font-size="2.88">3</tspan></text><text x="74" y="747" font-size="3.6" text-anchor="middle" fill="#333">10<tspan dy="-1.4" font-size="2.88">4</tspan></text><text x="95.5" y="747" font-size="3.6" text-anchor="middle" fill="#333">10<tspan dy="-1.4" font-size="2.88">5</tspan></text><text x="14.2" y="669.4" font-size="3.6" text-anchor="end" fill="#333">10<tspan dy="-1.4" font-size="2.88">5</tspan></text><text x="14.2" y="689.6" font-size="3.6" text-anchor="end" fill="#333">10<tspan dy="-1.4" font-size="2.88">4</tspan></text><text x="14.2" y="708.8" font-size="3.6" text-anchor="end" fill="#333">10<tspan dy="-1.4" font-size="2.88">3</tspan></text><text x="14.2" y="729" font-size="3.6" text-anchor="end" fill="#333">10<tspan dy="-1.4" font-size="2.88">2</tspan></text><text x="61.3" y="752.4" font-size="3.7" text-anchor="middle" fill="#333">CD4 FITC-A</text><text transform="translate(4.6 701) rotate(-90)" font-size="3.7" text-anchor="middle" fill="#333">CD8a PerCP Cy5.5-A</text><line x1="75.3" y1="690.5" x2="111.5" y2="690.5" stroke="#8a8a8a" stroke-width="0.5"/><path d="M113.2 690.5l-4.2 -1.7l1 1.7l-1 1.7z" fill="#8a8a8a"/><clipPath id="ch2"><rect x="129.3" y="661.4" width="86.29999999999998" height="78.10000000000002"/></clipPath><g clip-path="url(#ch2)"><g filter="url(#rag)" fill="#f00"><ellipse cx="157.5" cy="727.5" rx="18.5" ry="12.5"/><ellipse cx="166" cy="721" rx="11.5" ry="10.5"/><ellipse cx="160" cy="737" rx="16" ry="6"/></g><path d="M148.1 722.5h.6M149.9 718.6h.6M160.9 727.1h.6M156.7 732.1h.6M119.1 728.5h.6M154.4 714.7h.6M139.8 719.2h.6M183.9 705.3h.6M161.2 725.6h.6M178.6 715h.6M159.4 733h.6M131.6 724h.6M140.7 738.6h.6M151.7 718.3h.6M143.2 729.1h.6M151.5 722.1h.6M155.9 726.1h.6M169.8 725.4h.6M133.7 722.8h.6M166.9 730.9h.6M134.7 736.9h.6M146.6 706.1h.6M146.8 725.9h.6M164.9 731.7h.6M185.8 733.6h.6M151 723.8h.6M160.8 734.7h.6M155.1 726.9h.6M172.8 721.7h.6M178.1 719.4h.6M165.4 704.1h.6M142.4 726h.6M161.2 729.3h.6M148.6 718.5h.6M152.3 732.7h.6M176.8 705.4h.6M146.7 734h.6M160.3 740.9h.6M154.5 722.1h.6M168.8 717h.6M162.5 731.8h.6M174.6 714.7h.6M153.3 737.9h.6M162.9 712.5h.6M154 717.8h.6M188.6 717.2h.6M169 727.7h.6M166.9 717.4h.6M169.8 719.5h.6M180.7 737.9h.6M140 745.1h.6M154.4 707.1h.6M166.1 717.2h.6M145.2 737.3h.6M163.7 729.8h.6M169.8 727.8h.6M149.2 749.2h.6M167.7 737.1h.6M151.2 737h.6M151.3 736.4h.6M172.7 730.1h.6M135.2 725.9h.6M156.5 716.9h.6M160.7 705.7h.6M146.9 712.9h.6M184.4 701.7h.6M153.6 727.5h.6M167.5 707.9h.6M162.7 717.8h.6M165.6 716.7h.6M150.9 720.5h.6M140.5 726.1h.6M131.1 736.3h.6M169.5 737.4h.6M177.3 706.5h.6M158.6 731.5h.6M177 725.5h.6M163.6 725.5h.6M162.1 721.3h.6M169.2 718.5h.6M168.4 726.5h.6M162.3 710.1h.6M173.9 728.2h.6M143.8 722.9h.6M162.2 727.4h.6M177.2 711.3h.6M150.4 705.8h.6M139.3 715h.6M167.6 707.9h.6M156.2 742.7h.6M156.5 715.1h.6M141.3 728.5h.6M174 712.1h.6M160.6 715.2h.6M185.7 717.1h.6M140.4 710.5h.6M169.7 711.8h.6M141.3 730.3h.6M166.1 728.1h.6M137.3 717.8h.6M174.4 721.8h.6M171.3 710h.6M136.8 704.2h.6M161 715.2h.6M168.3 719.8h.6M163.6 733.8h.6M127.4 732.4h.6M149.8 740.9h.6M161.8 718.6h.6M166.6 715.2h.6M154.6 729.9h.6M157.2 722.3h.6M163.1 704.6h.6M166.8 727h.6M156.7 712.9h.6M185.1 736.8h.6M171.7 721.5h.6M160.6 726.3h.6M174.9 724.9h.6M150 731.8h.6M179.7 737.6h.6M133.3 723.7h.6M170.5 723h.6M181.3 722h.6M165.3 706.3h.6M141 726.3h.6M154 715.6h.6M135.7 740.6h.6M167.3 734.2h.6M150.7 729.4h.6M163.9 718.1h.6M155 713.8h.6M157.5 735.2h.6M168.9 731.7h.6M156.2 733.1h.6M169.3 716.7h.6M167.6 737.8h.6M140.8 709.3h.6M172.3 718.8h.6M142.1 704.2h.6M149.3 709.9h.6M138.8 723h.6M154 721.5h.6M168.6 692h.6M171.9 727.9h.6M155.4 709h.6M120.1 721.3h.6M183.6 702h.6M176 705.7h.6M159.8 734h.6M182 722.6h.6M166.8 724.4h.6M152.8 714.2h.6M139.9 715h.6M123.3 725.2h.6M169.2 734.1h.6M163 738h.6M155.5 732h.6M159.6 716.3h.6M165.1 734.8h.6M158.3 725.9h.6M156 721.7h.6M144.1 726.8h.6M165.9 732.8h.6M161.3 724.9h.6M161.1 733.9h.6M162.5 713.8h.6M131.3 740.8h.6M158.9 715.6h.6M145.6 723.9h.6M145.9 708.1h.6M158.6 739.3h.6M163 724.1h.6M134.8 732h.6M152.1 730.3h.6M172.5 736.2h.6M197.2 694.9h.6M176.7 719.7h.6M168.8 735.8h.6M182.8 725.8h.6M174.6 720.1h.6M126.6 741.2h.6M133.4 743h.6M169.5 735.1h.6M153.4 723.8h.6M165.3 730.7h.6M150.5 720.9h.6M162.4 733.9h.6M137.9 722.3h.6M173.5 737.9h.6M175.9 710.6h.6M151.3 730.4h.6M156.7 724.5h.6M143.9 744.5h.6M147.4 727.7h.6M149.8 731.4h.6M137.7 732.5h.6M134.8 743.1h.6M160.8 724.1h.6M147.9 730h.6M161.7 717.4h.6M168.4 719.8h.6M152.1 715.7h.6M160.8 717.2h.6M146.2 720.5h.6M154.4 718.8h.6M152.6 725h.6M161 713.2h.6M160.3 719.6h.6M156.9 729.5h.6M164.3 718.8h.6M148.7 732.1h.6M166 712h.6M143.2 737.7h.6M151.1 728.4h.6M153 729.5h.6M142.7 722h.6M193.7 704.7h.6M149.4 715.9h.6M161.3 739.9h.6M159.6 718.8h.6M135.1 725.7h.6M162.2 737.7h.6M153.1 723.4h.6M176 721.3h.6M138.1 737.9h.6M183.2 719h.6M143.1 730.8h.6M134.4 718.8h.6M144.7 711.2h.6M130.1 716.8h.6M131.7 716.3h.6M120.7 734.6h.6M171.1 719.7h.6M152.9 732.3h.6M169.2 709.8h.6M165.6 721.4h.6M144.6 729.3h.6M144.9 725.6h.6M162.3 720.2h.6M129.9 707.9h.6M170.7 701.2h.6M140.1 741.1h.6M176.1 744.7h.6M169 713.4h.6M145.6 731.1h.6M177.7 730.8h.6M172.5 733.3h.6M160.8 735.8h.6M165.3 712.2h.6M153.3 733h.6M151 717.7h.6M159.6 723.4h.6M146.6 725h.6M158 717.6h.6M187.1 733.3h.6M161.2 713.7h.6M150.1 728.9h.6M168.4 722h.6M120.3 713.1h.6M142.2 719.5h.6M165.5 724.3h.6M140.7 742.1h.6M179.7 729.9h.6M159 724.5h.6M157.9 728h.6M149 737.8h.6M186.8 727.6h.6M180.4 723.5h.6M164.4 716.8h.6M160.6 739.7h.6M129.1 725.2h.6M153.5 715.4h.6M155.9 717.1h.6M169.3 723.6h.6M155.6 715.2h.6M159.1 729h.6M141.6 728.2h.6M175.9 709.8h.6M167.3 717.4h.6M187.4 738.6h.6M166.4 722.7h.6M153.7 715.8h.6M156.3 727.2h.6M145.1 711.6h.6M154.6 717.8h.6M141.9 712.8h.6M148.7 750.3h.6M154.3 726.4h.6M167.7 722.1h.6M172.7 724.2h.6M168.8 727.5h.6M135.3 725.7h.6M155.5 725.1h.6M174.2 727.2h.6M167.4 734.1h.6M138.3 716.3h.6M175.9 722h.6M166.7 723.8h.6M178.3 726.8h.6M169.3 724.8h.6M130.5 735.8h.6M142.9 715.9h.6M168 728.7h.6M145.1 716.9h.6M162 721.8h.6M193.7 748.3h.6M146.4 722h.6M142 716h.6M168.3 726.1h.6M133.6 706.3h.6M154 731.3h.6M165.3 722.8h.6M164.1 713.4h.6M134.7 721.5h.6M146 749.3h.6M155.8 726.9h.6M136.4 722.2h.6M151.4 713.9h.6M169.6 733.5h.6M146 732.6h.6M180.1 739.9h.6M156.6 751.9h.6M151.8 709.4h.6M156.5 724.1h.6M151.5 732.5h.6M176.3 707.9h.6M145.8 715h.6M158 723.9h.6M133.2 726.4h.6M145.9 731.6h.6M158.2 717.1h.6M137.5 727.5h.6M133.6 716.8h.6M172.1 724h.6M136.8 720.6h.6M164.4 720.3h.6M186.2 734.2h.6M160.6 719.9h.6M169.7 718h.6M139.8 722.6h.6M150.7 733.9h.6M162.2 726.5h.6M159.2 708.5h.6M145.7 726.5h.6M161.6 722h.6M136.5 720.5h.6M150.5 731.5h.6M157.8 722.4h.6M157.9 720.7h.6M162.5 727h.6M161.1 742.4h.6M168.3 745.4h.6M156 727.4h.6M142.6 719h.6M146.8 721.5h.6M161.1 742.9h.6M154.5 716.9h.6M163.2 707.6h.6M183.7 740.8h.6M130.8 734.2h.6M185.1 735.4h.6M147.4 716.4h.6M178.7 715.5h.6M155 721.9h.6M153.9 713.8h.6M138.9 734.3h.6M147.5 704.6h.6M166.9 744.5h.6M153.2 725.2h.6M164.6 718.9h.6M140.7 718.8h.6M168.4 728.7h.6M176.3 727h.6M167.6 726.8h.6M171.5 719.2h.6M152.3 725.5h.6M175.7 717.5h.6M151.6 737.9h.6M137.1 731.8h.6M146 729.5h.6M149.1 742.2h.6M162.3 707h.6M171 718.5h.6M166.9 710.8h.6M155.2 727.6h.6M156.9 718.8h.6M141.4 726.1h.6M186.5 736.9h.6M131.9 740.7h.6M162.8 721.8h.6M145.9 736.1h.6M130.6 726.4h.6M152.5 729.5h.6M165.7 716.5h.6M158.5 725.2h.6M171.6 726.4h.6M159.5 717.6h.6M157.8 733.8h.6M187.7 715.3h.6M160.5 715.6h.6M151.2 719.8h.6M163.8 711.4h.6M169.9 725.9h.6M144.6 726.1h.6M143.5 754h.6M121.8 709.5h.6M144.1 740.8h.6M159.3 743.1h.6M169.8 719.9h.6M182.3 728.3h.6M177.9 750h.6M167 736.7h.6M177 725.7h.6M167.2 715.7h.6M171.4 728.2h.6M135.1 711.3h.6M152.6 741.7h.6M177.3 720.3h.6M132.3 732.8h.6M146.9 730.9h.6M143.1 724.3h.6M141.6 739.1h.6M159.5 706.5h.6M136.8 737.8h.6M159.1 713.5h.6M148.5 736h.6M164 728.8h.6M168.7 722.9h.6M155.5 715.4h.6M152.6 724.5h.6M138.9 713.6h.6M165.8 732h.6M153.7 723.1h.6M158.9 732.2h.6M166.5 728.4h.6M164.8 728h.6M153.1 737.9h.6M162 739.5h.6M155 728.3h.6M149.8 722.4h.6M175.5 751.5h.6M148.9 716.9h.6M144.1 714h.6M160.8 718.3h.6M182.4 712.9h.6M142.8 719.1h.6M177.2 720.8h.6M159.8 746.8h.6M164.7 720.7h.6M169.3 727.3h.6M163.3 733.6h.6M196.3 711.6h.6M160.4 729.6h.6M146.8 720.6h.6M185.6 721.9h.6M136.5 725.8h.6M168.3 725.2h.6M138.7 725h.6M137.5 705.5h.6M151.3 737.2h.6M157.7 724.6h.6M151.1 728h.6M171.4 721.8h.6M165.3 729.9h.6M152.5 720h.6M166.3 724h.6M149.1 731.3h.6M162.3 727.7h.6M133.1 719.9h.6M167 729.9h.6M152.6 726.7h.6M173.2 713.5h.6M148.2 718.3h.6M177.1 724.9h.6M131.9 724.2h.6M157.2 718.6h.6M176.9 736.1h.6M144.4 708.7h.6M184.3 725.4h.6M175.9 722.8h.6M149.7 723.9h.6M193.3 720.7h.6M164.2 723.5h.6M161.6 726.7h.6M155.9 738.8h.6M156.9 723.8h.6M184.2 706.6h.6M163 724.8h.6M155.4 734.7h.6M158.7 713.3h.6M146.2 732.4h.6M172 722.4h.6M158.6 711.6h.6M166.9 719.8h.6M172 718.9h.6M145.8 714.9h.6M162.6 741.9h.6M157 707.5h.6M166.6 734.8h.6M163.9 732.1h.6M179.1 716.6h.6M171 715.7h.6M157 717.1h.6M145.7 741.8h.6M158.1 716.7h.6M162.8 716.8h.6M179.9 708.4h.6M157.4 734.3h.6M170.5 747.7h.6M155.8 728.7h.6M180.6 745.9h.6M145.5 724.7h.6M176.7 697.5h.6M176 725.9h.6M188 716.6h.6M140.3 718.6h.6M147.1 732.7h.6M148.3 724.3h.6M155.5 733.6h.6M148.2 711.8h.6M147.6 704.8h.6M175.2 734.7h.6M160.3 748h.6M153.6 725.2h.6M143.1 730.9h.6M162.9 718.7h.6M154.6 734.8h.6M130.1 720.8h.6M158.7 732.6h.6M153.6 730.3h.6M146.7 715.5h.6M150.3 728.5h.6M158.6 723.5h.6M145.8 717.4h.6M147.2 744.7h.6M154.4 727.1h.6M184.6 718.5h.6M141.1 736.5h.6M158.3 731.8h.6M170.4 711.1h.6M167.2 718.5h.6M148.1 722h.6M141.9 723.7h.6M163.3 732.5h.6M153.5 739.4h.6M153.5 715.8h.6M164.4 719.8h.6M137.9 704.5h.6M165.7 722.9h.6M173.8 720.9h.6M129.4 725.2h.6M132 721.1h.6M157.4 716.9h.6M144.3 731.8h.6M160.1 705.3h.6M140.5 717.6h.6M146.4 717.4h.6M154.7 726h.6M145.2 738.5h.6M136.5 715.9h.6M138.5 730.1h.6M153.5 717.3h.6M156.8 729.2h.6M147.7 711.3h.6M164.8 733.1h.6M149.7 712.8h.6M151.1 722.1h.6M145.2 739.3h.6M145.3 739.9h.6M150.8 723.9h.6M150.6 714.1h.6M185.4 719h.6M152.2 713.8h.6M164.7 714.4h.6M131.6 708.7h.6M176 703.6h.6M150.8 708.5h.6M160.6 718.9h.6M152.2 735.9h.6M163.7 730.3h.6M168.8 725.9h.6M141.5 728.5h.6M145.2 734.9h.6M172.3 730.6h.6M149.3 713.3h.6M182.9 721.9h.6M176.6 729.6h.6M158.8 720.1h.6M172.3 743.5h.6M151.6 724.4h.6M149.2 727.6h.6M152.2 720.1h.6M136.3 722.8h.6M179.3 714.5h.6M153 716.6h.6M182.7 744.7h.6M162.5 721.9h.6M155.6 718h.6M152 739.6h.6M180.3 733.3h.6M172 724.3h.6M184.5 725.6h.6M142.8 741.7h.6M168.5 715.7h.6M158.3 730h.6M164 704.6h.6M125.1 720.5h.6M179.9 734.6h.6M158.6 732.1h.6M160.3 721.5h.6M170.1 707.3h.6M145.2 710.8h.6M156.7 731.8h.6M157 724h.6M151.6 720.1h.6M147.1 738.8h.6M163.7 721.3h.6M144.5 711.6h.6M186.1 736h.6M167.9 712.1h.6M132.5 721.9h.6M166.6 720h.6M129.1 735.7h.6M174.1 735.6h.6M178.6 728h.6M126.6 729.7h.6M178.3 744.2h.6M153.3 722.1h.6M161.3 729.3h.6M150.4 743.6h.6M145.4 717.7h.6M157.3 723.5h.6M171 729.7h.6M141.9 714.4h.6M165.2 731h.6M175.1 733.3h.6M151.5 732.7h.6M170.2 714h.6M166.1 734.9h.6M166.5 742.4h.6M152.9 753.4h.6M165.8 740.9h.6M173.2 729.4h.6M176.3 726.5h.6M149.9 718.2h.6M163.9 721.7h.6M140.2 717.1h.6M159 714.5h.6M178.4 724.7h.6M149.4 713.2h.6M155.5 732.8h.6M158.1 746.3h.6M152.4 725.2h.6M147.5 713.4h.6M148.5 728.6h.6M164.4 719.9h.6M160.6 733.7h.6M154.1 731.3h.6M154.9 719.8h.6M154.4 716.9h.6M152.7 719.5h.6M137.5 717h.6M166.2 741.9h.6M167.8 722.9h.6M157.8 724.2h.6M161.1 732.5h.6M159.1 719.8h.6M177.9 725.1h.6M139.3 720.2h.6M151.3 717.5h.6M176.7 715h.6M169.8 717.9h.6M158 727.6h.6M152.8 711.8h.6M159.7 738.2h.6M142.3 709.4h.6M148.9 715.9h.6M176.2 737h.6M184.9 742.9h.6M143.6 728.7h.6M166.2 724.5h.6M144.8 731.8h.6M158.8 719.9h.6M163.8 725.1h.6M152.7 718.8h.6M152 724.4h.6M147.2 719h.6M149.9 729.2h.6M174.8 727.7h.6M145.3 728.7h.6M161 705.7h.6M147.3 719.6h.6M144.2 722.8h.6M162.2 726.8h.6M174.9 716.6h.6M173.3 715.9h.6M161.4 718h.6M157.1 722.5h.6M138.6 741.2h.6M164.3 725.7h.6M164.8 722.9h.6M162.5 746.2h.6M168.9 732.1h.6M157 730.7h.6M125.9 741h.6M159.2 737h.6M155.7 727.9h.6M123.7 732.9h.6M163.2 718.7h.6M145.1 725.9h.6M168.9 717.3h.6M165.7 730.9h.6M136.7 728.6h.6M185.8 730.5h.6M172.2 719.5h.6M140.3 740h.6M134.4 729.6h.6M181.7 715.8h.6M146.2 724.6h.6M162.6 725.2h.6M173.4 718.4h.6M186.7 728.9h.6M172 737.6h.6M139.7 737h.6M171.2 718.8h.6M134.2 733.4h.6M175.3 724.1h.6M164.3 710.6h.6M164.9 737.9h.6M175.7 713h.6M143.5 731.1h.6M197.9 742.8h.6M145.6 718.6h.6M145.2 727.2h.6M159.4 722.5h.6M164.1 704.7h.6M155.7 719.2h.6M149.3 714.1h.6M180.4 722.4h.6M138.3 728.4h.6M185.1 719.4h.6M153.3 707.7h.6M139.5 704.4h.6M149.8 711.9h.6M163.7 713.3h.6M112.1 733.6h.6M157.5 739.6h.6M149.1 734h.6M154.4 721.8h.6M158.7 718.5h.6M150.1 715.1h.6M168 720.6h.6M161.1 733.6h.6M154.8 706.4h.6M168.7 746.5h.6M155.4 710.7h.6M131.5 735h.6M155.6 721.4h.6M125.2 733.4h.6M131.7 714.3h.6M188.9 716.3h.6M154.1 725.8h.6M196.8 724.8h.6M144.5 727.6h.6M175.6 737.1h.6M170 710.7h.6M140 729.9h.6M151.8 704.7h.6M180.9 724h.6M171.2 727.9h.6M153.7 714.5h.6M151.2 720.8h.6M161.8 708.5h.6M182.6 734.3h.6M149.3 705h.6M183 701.7h.6M147.2 740.3h.6M175.7 723.8h.6M153.2 738h.6M159.5 726.5h.6M150.7 718.6h.6M173.5 727.3h.6M175 707.7h.6M164.4 716.1h.6M177.2 716h.6M153.7 713.1h.6M145.4 708.3h.6M133.6 731h.6M139.5 714.1h.6M159.5 723.2h.6M153.9 713.9h.6M187.8 752.8h.6M154.7 731.2h.6M156.2 722.8h.6M152.2 715.2h.6M188.4 727.9h.6M168.1 743h.6M145.3 711.7h.6M151.8 715.8h.6M147.4 711.8h.6M170.2 725.1h.6M179.2 731.6h.6M171.8 731.7h.6M169.4 710h.6M178.4 729.8h.6M149 735.3h.6M161.9 721h.6M158.6 725.4h.6M157.8 733.7h.6M158 733.2h.6M160.1 735.1h.6M149 718.3h.6M152.9 707.9h.6M159.9 714.2h.6M161.2 750.5h.6M138 736.2h.6M144.8 747.8h.6M179.7 724.5h.6M157.6 710.3h.6M181 729.1h.6M192.7 719.1h.6M170 724.8h.6M165.3 723.4h.6M142.3 726.6h.6M156.9 725h.6M161.4 744.4h.6M176.4 740.2h.6M148.3 718.5h.6M136.9 744h.6M183.1 728.3h.6M172.7 738.5h.6M175.5 727.3h.6M172.1 734.6h.6M162 726.2h.6M174.8 704.4h.6M178.2 717.7h.6M187.6 724.7h.6M171.7 734.4h.6M158.1 730.1h.6M135.8 727h.6M164.8 720.2h.6M169 723.1h.6M164.4 720.1h.6M154 724.4h.6M161.2 721.5h.6M151.3 737.1h.6M150.8 726.8h.6M167.8 725h.6M162.5 735.1h.6M162.3 717.4h.6M136.9 722.9h.6M158.1 706.6h.6M183.9 733.5h.6M153.3 720.7h.6M170.2 704.5h.6M177.5 734.8h.6M148 725.2h.6M145.9 720h.6M196 738.1h.6M169.5 726.7h.6M163.8 713.4h.6M164.4 734.4h.6M175.2 745.4h.6M156.4 727.8h.6M158.2 720.5h.6M160.9 725h.6M152.6 727.9h.6M187.3 724.3h.6M141.7 720.4h.6M118.1 719h.6M142.7 726.2h.6M140.2 730.5h.6M202.3 710.8h.6M155.4 726.2h.6M172.8 708.6h.6M168.7 722.9h.6M168.7 711h.6M171.1 711.4h.6M173.4 706.4h.6M165.8 711h.6M172 711.7h.6M167.5 710.5h.6M174 710.8h.6M167.8 710.3h.6M167.2 709.4h.6M177.7 704.1h.6M162.2 713.9h.6M166.4 707.4h.6M175.3 708.3h.6M177.8 708.6h.6M171.2 708.8h.6M175.9 706.3h.6M169.8 713.1h.6M167.6 712.7h.6M178.6 710.1h.6M172.8 708.1h.6M170.4 710.7h.6M174.1 706.5h.6M177.2 705.6h.6M175 709.8h.6M174.4 708.9h.6M174.8 711.7h.6M166.2 720.1h.6M173.4 707.1h.6M170.5 710.2h.6M174.4 712.1h.6M167.2 711.4h.6M175.6 712.3h.6M169.2 715.2h.6M174.8 709.4h.6M171.8 707.8h.6M180.4 708.1h.6M169.9 710.3h.6M180.4 704.7h.6M165.9 711.9h.6M173.3 710h.6M178.7 705.8h.6M172 706.6h.6M173 711.5h.6M167.5 709.9h.6M173.7 705.2h.6M166.6 716.2h.6M171.7 708.8h.6M170.6 713.8h.6M168.9 711.3h.6M173 710.4h.6M176.9 704.2h.6M173.8 709.6h.6M177.4 711.3h.6M172.8 711.7h.6M165.2 713.6h.6M175 704.4h.6M179.2 706.6h.6M172.1 710.1h.6M160.2 712.8h.6M171 711.7h.6M169.5 714.1h.6M170.8 710.2h.6M176 706.9h.6M168.7 709.8h.6M179.6 705.7h.6M180.1 707h.6M167.4 712.9h.6M179 703.7h.6M180.7 702.2h.6M164.8 711.9h.6M166.4 712.3h.6M177.3 706.8h.6M174.6 703.2h.6M179.5 709h.6M168 712.2h.6M169 707.8h.6M179.4 707.1h.6M175.8 708.9h.6M172.1 706.9h.6M171.4 713.7h.6M164.2 716.7h.6M179.9 706.2h.6M170.1 715.9h.6M175.9 709.9h.6M170.1 708.4h.6M176.1 704.4h.6M178.5 703.5h.6M163.4 714.1h.6M164 715.4h.6M166.1 711.8h.6M172.5 704.6h.6M165.6 711.6h.6M172.8 713.3h.6M175.2 707h.6M168.6 716.3h.6M181.7 704.4h.6M176.1 704.7h.6M176.6 705.5h.6M173.4 702.2h.6M179.5 707.7h.6M175.5 708h.6M180.3 706h.6M177.3 703.9h.6M167.8 708.4h.6M175.4 712.6h.6M174.7 706.6h.6M170.5 712.5h.6M166.8 713.5h.6M175.4 710.6h.6M168.7 709.2h.6M175.4 701.9h.6M176.4 708.8h.6M172.4 710.4h.6M177.4 706.8h.6M165.8 713h.6M170.5 708.9h.6M175.8 709h.6M165.5 716.6h.6M166.6 715.8h.6M179.6 704.8h.6M171.4 711.5h.6M172.2 705.5h.6M176.6 710.1h.6M176.7 702.4h.6M176.4 707h.6M173 710.8h.6M174.4 709.2h.6M175.4 709.9h.6M176.3 709h.6M167.8 713.1h.6M167 714.8h.6M180.8 707.2h.6M169.3 711.5h.6M179.4 707.1h.6M178.7 707h.6M170.2 714.3h.6M163.2 711.1h.6M172.3 706.7h.6M164.9 714.5h.6M168.4 706.7h.6M165.6 713.3h.6M175.6 707.2h.6M166.8 715.2h.6M169.7 705.8h.6M170.3 715.2h.6M171.3 709.6h.6M172.5 707.4h.6M177.6 704.5h.6M178.6 707.8h.6M166.5 716.2h.6M170.7 711.8h.6M174.4 708.7h.6M177.5 704.2h.6M178.3 708h.6M170.4 714h.6M174.6 708.4h.6M162.6 711.8h.6M175.1 706h.6M169.7 711.7h.6M177.9 705.3h.6M141.4 738.6h.6M139 738.1h.6M153.6 738.6h.6M141.5 737.2h.6M139.7 737.7h.6M137.1 739.4h.6M159.2 739.6h.6M158.5 738h.6M157.6 738.3h.6M157.2 738.3h.6M153.1 739.5h.6M152.4 738.3h.6M130.5 737.7h.6M140.9 739.4h.6M139.9 738.3h.6M131.5 738h.6M155.4 736.6h.6M167.8 737.4h.6M160.3 739.8h.6M136.3 739.2h.6M134.8 738.6h.6M143.3 738h.6M152.7 737.4h.6M131.9 738.5h.6M169 737.7h.6M147.8 738.2h.6M162.5 738.6h.6M137.1 738.1h.6M146.5 737.5h.6M136.9 738.6h.6M148.8 738.6h.6M148 739.7h.6M158.3 738.8h.6M147.1 738h.6M160.3 738.5h.6M140.7 738.6h.6M164.9 738.2h.6M154.1 738.4h.6M141.4 737.9h.6M153.1 738.3h.6M168.4 737.9h.6M158.7 739h.6M166.6 738.5h.6M156.9 738.4h.6M154.8 738.4h.6M157.7 738.8h.6M145.4 737.8h.6M167.5 738.1h.6M145.9 738.6h.6M133.6 738.3h.6M142.7 738.4h.6M151.3 739.2h.6M162.8 737.4h.6M145.9 738.5h.6M140 738.4h.6M159.6 737.7h.6M164.2 738.2h.6M158.2 738.9h.6M135 737.4h.6M144.4 738.1h.6M140.8 738h.6M150.6 738.7h.6M155.3 739h.6M148 738.1h.6M147.4 738.9h.6M132 739.2h.6M163.2 737.8h.6M164.7 738.6h.6M158.2 738.7h.6M149.8 738.2h.6M131.3 737.7h.6M154.5 738.4h.6M154.5 737.9h.6M158.4 738.1h.6M130.2 737.9h.6M146.5 738.3h.6M158.2 737.5h.6M153.3 737.2h.6M143 738.3h.6M156.5 738h.6M165.4 738.3h.6M155.3 739.7h.6M141.5 738.6h.6M162 739h.6M138.8 739.3h.6M152.7 737.9h.6M139.8 738.8h.6M161.5 738.6h.6M162.3 737.2h.6M154.3 738.1h.6M155.1 739.2h.6M141.9 737.9h.6M168.4 739.3h.6M142.3 739.1h.6M164.8 738h.6M154.4 738.4h.6M133.2 739.1h.6M153.1 738.2h.6M158.9 738.1h.6M149.9 737.9h.6M150.3 738.6h.6M155.3 738.2h.6M138.7 738.3h.6M157.9 738.7h.6M160.4 739.3h.6M148.4 738.6h.6M138.4 739.3h.6M131.1 738.9h.6M158.6 738.5h.6M132.4 737.9h.6M169 739.4h.6M165.7 738.7h.6M154.3 738.7h.6M138.9 738.9h.6M153.4 739.5h.6M168.2 738.4h.6M156.7 738.1h.6M168.1 737.7h.6M154.2 738.5h.6M150.7 739h.6" stroke="#f00" stroke-width=".6" fill="none"/><g filter="url(#rag2)"><ellipse cx="151" cy="692.6" rx="14" ry="3.4" fill="#9a5ab8"/><ellipse cx="155" cy="692.6" rx="8.5" ry="2.6" fill="#4a18a8"/></g><path d="M153.1 689h.6M157.9 691.6h.6M158.7 698.8h.6M153.2 693.8h.6M144.2 690.8h.6M154.1 692.4h.6M157.4 690.1h.6M151.1 695.1h.6M156.2 693h.6M147.3 690.9h.6M144.7 695h.6M156.8 693.8h.6M160.6 691.1h.6M143.9 693.6h.6M147.2 691.7h.6M164.7 693.1h.6M150.4 697.5h.6M156 693.6h.6M150.6 692.8h.6M156.3 688.4h.6M158.7 693.1h.6M154.1 692.5h.6M166.5 690.1h.6M149.7 692.1h.6M157 687.1h.6M155.1 695.3h.6M156.9 696.5h.6M150.6 697.1h.6M150.8 693.6h.6M165.7 692.5h.6M153.5 691.3h.6M150.3 688.5h.6M149.4 692.6h.6M139.2 698.9h.6M148.3 689.6h.6M138.1 694.1h.6M153.8 691.1h.6M149.9 686.2h.6M164.3 687.5h.6M149.8 691.6h.6M148.2 694.2h.6M145 694.3h.6M150.7 695.3h.6M149.7 695.1h.6M163.7 692.9h.6M162.4 690.9h.6M149.9 684.6h.6M148.2 691.9h.6M153.2 691.8h.6M151.8 693.4h.6M145 696.1h.6M154.8 687.7h.6M153.8 690h.6M151.9 699.1h.6M161.3 692.2h.6M153.3 698.8h.6M149.5 695.6h.6M159.2 695.3h.6M162.6 692.5h.6M164.2 690.4h.6M151.4 699.2h.6M157.1 693.5h.6M144.3 692h.6M163 694.7h.6M151 696.8h.6M156.1 690.7h.6M164.1 697.8h.6M161.3 696.4h.6M148.6 693.4h.6M157.8 693.6h.6M151.5 691.6h.6M150.3 691.9h.6M154.6 690.5h.6M155.3 691.5h.6M154.6 690.5h.6M161.7 693.1h.6M159.6 693.3h.6M159.8 694.4h.6M156.7 692.1h.6M164.6 693.8h.6M146.7 685.3h.6M158.2 689.4h.6M140.3 694h.6M158.1 694.8h.6M140.7 698.9h.6M144 692.4h.6M161.5 692.6h.6M156.7 694.3h.6M161.4 696.1h.6M160.7 692.2h.6M151 692.1h.6M165.8 686.7h.6M145.6 694.9h.6M164.5 686h.6M151.6 688.7h.6M160.4 695.3h.6M149.6 691.3h.6M150.2 693.7h.6M157.3 693.8h.6M140.4 688.9h.6M146.4 686.1h.6M138.8 691.7h.6M159.8 689.7h.6M157.2 691.3h.6M159.8 690h.6M144.4 690.6h.6M159 690.9h.6M157.9 693h.6M156.6 691h.6M148.7 691.8h.6M144.2 693.6h.6M148.1 693.4h.6M155.1 695.3h.6M152.5 696.9h.6M156.5 690.3h.6M160.6 687.4h.6M161.1 692.4h.6M149.6 690.3h.6M152.3 694.1h.6M161.7 694h.6M155.3 690.6h.6M162.9 690.8h.6M156.3 694.8h.6M162.9 693.1h.6M158.8 693.6h.6M146.4 696.3h.6M154.6 697h.6M154.5 692.2h.6M160.1 692.3h.6M149.2 687.9h.6M160.1 689.8h.6M155.5 698.4h.6M155.9 695.7h.6M157.7 689h.6M157.4 695h.6M161.6 689.6h.6M154.7 694.1h.6M161 687.8h.6M155.6 690.2h.6M159.5 694h.6M152.2 690.5h.6M163.3 697.8h.6M145.7 693h.6M152.3 693.8h.6M160.6 699.1h.6M152.7 690.7h.6M155.5 694.8h.6M160.7 691.8h.6M153.3 690.2h.6M155.1 691.5h.6M156.1 692.2h.6M153.5 692.3h.6M147 688.4h.6M142 690.7h.6M165.9 690.3h.6M158.1 692.1h.6M149.1 686.7h.6M159.9 692.6h.6M156.8 693.9h.6M155.4 688.3h.6M157.9 694.1h.6M153.6 696.8h.6M154.2 692.4h.6M148.1 692.2h.6M161.3 687.6h.6M131.6 693.8h.6M150.2 693.2h.6M161.7 691.9h.6M141.2 694.6h.6M143.6 691.9h.6M138.7 692.5h.6M153.2 695h.6M136.8 693h.6M138 697.3h.6M153.3 689.6h.6M164.3 691.1h.6M137.1 687.7h.6M143.6 694.6h.6M152.4 690.1h.6M151.7 690h.6M141.4 686.3h.6M145.5 692.1h.6M158.1 696.7h.6M136.4 696.5h.6M149.4 684h.6M153.3 693.7h.6M163.6 689.5h.6M137.3 690.4h.6M152.2 692.4h.6M150.8 694.7h.6M160.6 696.6h.6M135.9 694.4h.6M164.5 693.5h.6M148.6 685.7h.6M141.3 688.7h.6M162 688.6h.6M137.1 694.5h.6M163.6 687.2h.6M150.6 691h.6M131.6 695.4h.6M135.6 688.1h.6M160.9 696.9h.6M135 693.2h.6M151.4 694.3h.6M156.2 694.7h.6M144.9 693.7h.6M153 693.6h.6M159.9 695.3h.6M153.7 696h.6M158.4 687.9h.6M161.8 695.5h.6M146.9 686.7h.6M155.7 695.5h.6M156.6 695.8h.6M161.6 689.8h.6M135.7 688.3h.6M157.6 691.1h.6M158.4 694h.6M153.9 693.9h.6M135 689.4h.6M144.9 693.1h.6M163.6 690.7h.6M134.1 693h.6M156.3 692.3h.6M144 692.6h.6M152.7 694h.6M138.1 692.8h.6M142.6 695.8h.6M147.8 689.7h.6M148.9 688.9h.6M158.6 694.6h.6M153.6 694.7h.6M156.7 693.6h.6M132.6 695.6h.6M159.7 699h.6M133.8 691.6h.6M136.3 691.1h.6M157.5 684.8h.6M139.2 698h.6M158.8 688.1h.6" stroke="#a060c0" stroke-width=".6" fill="none"/><path d="M154.1 689.3h.7M147.6 697.7h.7M149.4 691.6h.7M147.4 693h.7M150.8 690.7h.7M156.2 691.7h.7M161.5 696.8h.7M151.5 688.4h.7M162.4 692.6h.7M163.3 693h.7M153.8 694.9h.7M153.7 691.3h.7M152 690.4h.7M153.3 694.2h.7M148.4 691.7h.7M161.1 695.8h.7M148.1 692.6h.7M152.5 689.5h.7M155.9 694.6h.7M148.7 694.8h.7M157.3 694.1h.7M163.1 687.4h.7M140.8 688.9h.7M130.5 688.1h.7M162.2 691.3h.7M156 688.3h.7M147.4 689h.7M152.1 692.8h.7M162.7 692h.7M153.6 688.8h.7M159.9 693.1h.7M151.1 697h.7M158.8 691.7h.7M156.7 690.2h.7M161.7 693.8h.7M160.9 689.8h.7M142.8 691.2h.7M135.2 692.3h.7M152.9 696h.7M158.1 694.7h.7M155.6 695.6h.7M151.5 691.5h.7M156.2 695.6h.7M150.7 696.7h.7M152 690.6h.7M158.7 688.9h.7M150.4 697.5h.7M153 692.8h.7M161.7 699.5h.7M152.2 693.4h.7M155.3 700.5h.7M158.3 690.9h.7M149.6 692.5h.7M131.2 692.9h.7M158.1 689.7h.7M152.9 694.2h.7M140.9 693.7h.7M158.3 696.3h.7M149.9 695.7h.7M142.7 691.8h.7M148.5 692.3h.7M161.4 690.6h.7M159.2 690.4h.7M144.3 694h.7M138.4 693.6h.7M149.8 699.5h.7M152.5 695.2h.7M165.2 689.2h.7M157.1 692.6h.7M148.2 695h.7M154.5 694.6h.7M144.5 695.5h.7M153.2 690.1h.7M142.1 692.8h.7M154.4 688.6h.7M152 693.8h.7M150.2 688.1h.7M158.3 694.5h.7M144 691.4h.7M154.8 691.9h.7M164.3 694.4h.7M152 689.1h.7M146.4 692.6h.7M159.5 694.2h.7M163.1 691.4h.7M158.7 691h.7M158.6 687.4h.7M150.1 694.6h.7M151.2 690.8h.7M146.8 686.9h.7M146.3 692.9h.7M163.3 692h.7M150.7 685.8h.7M157.6 693.5h.7M144.5 692.6h.7M142.5 695.7h.7M153.1 693.3h.7M156.6 690.3h.7M165.9 690.8h.7M163.7 696.1h.7M150.7 692.2h.7M166.2 692.8h.7M155.5 693.7h.7M154.9 693.2h.7M165 692.6h.7M163.3 696.2h.7M144 692.2h.7M142.5 693.2h.7M151.1 692.7h.7M153 696.6h.7M164.2 690.4h.7M139.7 694h.7M145.5 693.3h.7M160.1 690.3h.7M156.7 690.9h.7M148.1 688.6h.7M145 696.6h.7M151.5 693.5h.7M153.2 693.3h.7M155.8 688.7h.7M158.6 695.7h.7M163.1 691.1h.7M151.3 686h.7M141.5 693h.7M146.2 690.9h.7M153.6 695.3h.7M157.3 696.2h.7M154.2 690.7h.7M139.2 697h.7M154.3 688.4h.7M159.5 693h.7M151.8 689.4h.7M146.3 692.3h.7M166.2 696.4h.7M154.2 696.9h.7M157.3 695.6h.7M157.4 696.3h.7M158.9 688.6h.7M160.6 691.5h.7M142.8 692.5h.7M154.6 690.9h.7M152.6 692.4h.7M158.1 694.8h.7M145.7 695h.7M145.4 687.2h.7M161 690.9h.7M153.8 688.2h.7M153.9 699h.7M153.3 693.9h.7M151.6 693h.7M147.6 695.7h.7M154.2 693.2h.7M159.5 693.6h.7M157.4 698.3h.7M159.9 692.6h.7M150.4 692.1h.7M156.2 691.3h.7M157 693.7h.7M163.2 696.5h.7M158.7 696.5h.7M155.5 693.8h.7M149.9 690.9h.7M157.1 693.1h.7M161.6 687.3h.7M159.1 693.2h.7M149.5 686.7h.7M152.7 690.8h.7M150.7 691.7h.7M151.2 684.1h.7M144.9 695.8h.7M140.1 698.1h.7M148.5 692.9h.7M153.3 693.9h.7M135.6 692.1h.7M158.9 685.6h.7M149.8 688.1h.7M146.1 694.1h.7M143.7 694.4h.7M159.1 691.4h.7M138.3 685.9h.7M156.8 692.7h.7M163.5 691.7h.7M138.5 692.1h.7M135.9 689.8h.7M144.7 690.5h.7M143.5 692.3h.7M147.1 695.9h.7M136.3 690.1h.7M151.5 687.4h.7M160.1 695.4h.7M148.8 685.3h.7M146.3 690.4h.7M136.4 696.1h.7M161.3 694.2h.7M151.4 686.3h.7M146.3 693.3h.7M141 693.2h.7M139.4 696.2h.7M152.1 693.1h.7M142.7 687.4h.7M144.2 699.5h.7M134.7 691h.7M152.4 687.4h.7M145.5 691.9h.7M145.4 694h.7M137.4 694h.7M144.4 694.1h.7M151 697.3h.7M141.4 694.6h.7M157.5 687.8h.7M149.4 691.5h.7M138.4 690.5h.7M134.6 693h.7M162.3 693.3h.7M148.3 697.5h.7M163.5 693.8h.7M146.4 684.2h.7M131.7 690h.7M153.7 692.9h.7M161.8 693.3h.7M133.5 689.5h.7M165.3 694.3h.7M139.3 687.4h.7M153.2 689.7h.7M143.2 693.4h.7M142.9 695h.7M152.8 692.1h.7M148.8 699.7h.7M147 690.7h.7M148.4 689.2h.7M136.4 688h.7M131.3 693.7h.7M165 694h.7M157.2 689.6h.7M130.1 688h.7M153.5 696.6h.7M143.4 695.4h.7M159.9 695.6h.7M148 698.3h.7M136 694.2h.7" stroke="#5a10a8" stroke-width=".7" fill="none"/><path d="M150.5 693.3h.7M155.8 694.8h.7M157.1 696.7h.7M154.7 695.5h.7M161.3 689.1h.7M154.1 696.2h.7M154.6 694.9h.7M156.5 692.4h.7M155 696.3h.7M144.5 693.7h.7M147.5 691.8h.7M154.6 695.4h.7M151.2 690.8h.7M155.6 695.6h.7M150.2 693.2h.7M156.5 695.1h.7M161.3 687.2h.7M146.7 691.5h.7M162.3 695.4h.7M153.7 687.5h.7M156.1 691.4h.7M153.4 693.8h.7M147.1 690.5h.7M149.3 696h.7M165.2 691.1h.7M166.1 686.4h.7M142.2 693.3h.7M143.4 689.8h.7M160 688.5h.7M155.6 695.9h.7M148.1 693.7h.7M163.8 695.6h.7M146 690h.7M158.1 689.7h.7M152.8 693.4h.7M135.2 696.9h.7M156.1 697h.7M153.9 690.1h.7M156.3 693.8h.7M156.3 688.7h.7M145.2 691.7h.7M163.3 693.6h.7M154.5 694.3h.7M158.5 690.3h.7M157.3 690.8h.7M160.5 697.4h.7M140.5 687.8h.7M157 692.6h.7M144.3 696.1h.7M153.8 693.3h.7M151 691.9h.7M151.2 697.2h.7M154 691.6h.7M155.7 692.8h.7M154.6 691.5h.7M153 696.3h.7M160.4 689h.7M142.5 687.2h.7M156.3 692.4h.7M153.9 693.8h.7M151 691.2h.7M151 693.2h.7M147.5 686.1h.7M151.9 687.7h.7M152.2 689.8h.7M158.6 692.8h.7M150.8 692.5h.7M163.3 696h.7M159.1 693.2h.7M138.9 689.4h.7M154 692.8h.7M154.3 695.9h.7M140.2 694.6h.7M152.2 692.4h.7M150.1 687.1h.7M155.9 690.1h.7M141.6 694.3h.7M156.5 693h.7M151.2 699.8h.7M155.7 691.1h.7M150.7 692h.7M148.4 694.9h.7M157.1 690.7h.7M165.5 690.5h.7M158.4 695.7h.7M144.1 689.7h.7M156.2 693.3h.7M147.5 692.3h.7M162 692.4h.7M148.8 691.3h.7M156.1 690.8h.7M154.4 693.2h.7M161.6 693.7h.7M153.5 693.4h.7M152.8 694.3h.7M164.7 697.3h.7M145.5 694.8h.7M153.4 694.8h.7M149.4 698.5h.7M162.6 691.9h.7M148.9 698.7h.7M150.3 697.5h.7M163.5 691.7h.7M154.5 691.6h.7M145.2 690.6h.7M152.6 689.3h.7M161.3 693.8h.7M163.4 689h.7M153.9 689.4h.7M135.3 688.6h.7M139 693.6h.7M148.5 697.9h.7M155.2 695.6h.7M159.5 697.4h.7M161.5 693.9h.7M159.7 691.4h.7M149.9 695.5h.7M152.6 695.7h.7M154.8 693.2h.7M139.7 695.7h.7M158 694.2h.7M164.7 692.2h.7M152 695.7h.7M154.7 692.7h.7M151.4 692.6h.7M149.1 692.2h.7M149.3 698.3h.7M152.2 691.3h.7M144 693.3h.7M163.9 692.4h.7M157.6 691.5h.7M156.5 692.9h.7M155.3 691.3h.7M148.6 694.7h.7M154.3 696.3h.7M159 697.1h.7M148.6 692.2h.7M150.5 689.8h.7M155.1 693.9h.7M152.6 693.3h.7M147.8 695.7h.7M137.4 692.2h.7M144.7 688.4h.7M157.6 692.7h.7M157.5 695.5h.7M161.5 696.9h.7M150.6 694.8h.7M155.7 692h.7M146.5 692.3h.7M144.9 695.6h.7M165.4 689.1h.7M152.9 695.2h.7M139.5 693.8h.7M155.5 694.4h.7M157.3 693.9h.7M148.1 695.7h.7M153.9 690.5h.7M156.8 693.9h.7M143.5 690.8h.7M160.3 692.4h.7M153.3 693.9h.7M144.4 696h.7M149.4 694.5h.7M151.2 694.1h.7M153.7 690.2h.7M133.6 693.6h.7M149.4 692.5h.7M136.8 689.5h.7M141.7 700.2h.7M142.6 690.1h.7M149.9 694.1h.7M139.8 693.2h.7M138.6 696.3h.7M156.7 694.4h.7M164.2 689.7h.7M145.4 694.5h.7M152.2 694.3h.7M161.7 695.8h.7M143.1 697.7h.7M151.5 693.5h.7M149.2 695.5h.7M163.3 689.9h.7M153.9 694.3h.7M143.2 694.5h.7M147.4 680.7h.7M147.5 689.9h.7M154.5 688.1h.7M166.4 694.6h.7M153.8 694h.7M156.6 702.6h.7M153.4 690.7h.7M160 692.5h.7M140.7 694.3h.7M151.8 699.2h.7M155.2 694.8h.7M143.7 695.7h.7M141.2 698.2h.7M148.1 688.2h.7M144.4 691h.7M143.4 695.2h.7M145.5 695.5h.7M149.9 692.6h.7M162.4 685.9h.7M151.9 696.3h.7M151 691.8h.7M135.2 691.9h.7M137.1 695h.7M137.9 694.7h.7M139.2 699.3h.7M143.1 688.9h.7M137.1 690.6h.7M155.4 689.2h.7M140.2 693h.7M141.5 692.6h.7M153.7 692.6h.7M152.4 690.6h.7M152.7 688.8h.7M145.9 695.5h.7M131.8 692.7h.7M142.1 695.1h.7M145.1 695.3h.7M153.6 693h.7M145.8 686.3h.7M149.2 695.6h.7M145.7 688.2h.7M152.2 694.4h.7M134.7 693.8h.7M129.9 684.7h.7M146.3 691.1h.7M145 691.6h.7M156.7 692.6h.7M146.4 687.2h.7M143.9 692.4h.7M143.6 695.7h.7M134 694.4h.7M159.8 688.3h.7M165.5 689.6h.7M142.2 690.8h.7M146.8 696.7h.7" stroke="#2a18d8" stroke-width=".7" fill="none"/></g><rect x="129.3" y="661.4" width="86.3" height="78.1" fill="none" stroke="#888" stroke-width="0.6"/><path d="M129.3 661.4V739.5H215.6" fill="none" stroke="#333" stroke-width=".7"/><line x1="129.3" y1="661.6" x2="215.6" y2="661.6" stroke="#222" stroke-width="1.0"/><rect x="129.6" y="662" width="37.9" height="41.1" fill="none" stroke="#222" stroke-width="0.6"/><text x="146" y="683.5" font-size="3.4" text-anchor="middle" fill="#444">P4</text><path d="M130.8 739.5v1.5M133.5 739.5v1.5M135.6 739.5v1.5M137.3 739.5v1.5M138.8 739.5v1.5M140 739.5v1.5M141.1 739.5v1.5M142.1 739.5v2.8M148.6 739.5v1.5M152.4 739.5v1.5M155.1 739.5v1.5M157.2 739.5v1.5M158.9 739.5v1.5M160.3 739.5v1.5M161.6 739.5v1.5M162.7 739.5v1.5M163.7 739.5v2.8M170.2 739.5v1.5M174 739.5v1.5M176.7 739.5v1.5M178.8 739.5v1.5M180.5 739.5v1.5M181.9 739.5v1.5M183.2 739.5v1.5M184.3 739.5v1.5M185.2 739.5v2.8M191.7 739.5v1.5M195.5 739.5v1.5M198.2 739.5v1.5M200.3 739.5v1.5M202 739.5v1.5M203.5 739.5v1.5M204.7 739.5v1.5M205.8 739.5v1.5M206.8 739.5v2.8M213.3 739.5v1.5" stroke="#222" stroke-width=".55" fill="none"/><path d="M129.3 736.8h-1.5M129.3 734.9h-1.5M129.3 733.3h-1.5M129.3 732h-1.5M129.3 730.9h-1.5M129.3 729.9h-1.5M129.3 729h-2.8M129.3 723.1h-1.5M129.3 719.7h-1.5M129.3 717.2h-1.5M129.3 715.4h-1.5M129.3 713.8h-1.5M129.3 712.5h-1.5M129.3 711.4h-1.5M129.3 710.4h-1.5M129.3 709.5h-2.8M129.3 703.6h-1.5M129.3 700.2h-1.5M129.3 697.7h-1.5M129.3 695.8h-1.5M129.3 694.3h-1.5M129.3 693h-1.5M129.3 691.8h-1.5M129.3 690.8h-1.5M129.3 690h-2.8M129.3 684.1h-1.5M129.3 680.6h-1.5M129.3 678.2h-1.5M129.3 676.3h-1.5M129.3 674.8h-1.5M129.3 673.4h-1.5M129.3 672.3h-1.5M129.3 671.3h-1.5M129.3 670.4h-2.8M129.3 664.5h-1.5" stroke="#222" stroke-width=".55" fill="none"/><text x="141.5" y="748" font-size="3.6" text-anchor="middle" fill="#333">10<tspan dy="-1.4" font-size="2.88">2</tspan></text><text x="162.9" y="748" font-size="3.6" text-anchor="middle" fill="#333">10<tspan dy="-1.4" font-size="2.88">3</tspan></text><text x="184.8" y="748" font-size="3.6" text-anchor="middle" fill="#333">10<tspan dy="-1.4" font-size="2.88">4</tspan></text><text x="206.4" y="748" font-size="3.6" text-anchor="middle" fill="#333">10<tspan dy="-1.4" font-size="2.88">5</tspan></text><text x="125.2" y="671.4" font-size="3.6" text-anchor="end" fill="#333">10<tspan dy="-1.4" font-size="2.88">5</tspan></text><text x="125.2" y="691" font-size="3.6" text-anchor="end" fill="#333">10<tspan dy="-1.4" font-size="2.88">4</tspan></text><text x="125.2" y="710.9" font-size="3.6" text-anchor="end" fill="#333">10<tspan dy="-1.4" font-size="2.88">3</tspan></text><text x="125.2" y="730.4" font-size="3.6" text-anchor="end" fill="#333">10<tspan dy="-1.4" font-size="2.88">2</tspan></text><text x="172.7" y="753.8" font-size="3.7" text-anchor="middle" fill="#333">PD-1 APC-A</text><text transform="translate(118.2 699.6) rotate(-90)" font-size="3.7" text-anchor="middle" fill="#333">TCR Vα7.2 APC/Cy7-A</text><line x1="188" y1="689" x2="224" y2="689" stroke="#8a8a8a" stroke-width="0.5"/><path d="M225.8 689l-4.2 -1.7l1 1.7l-1 1.7z" fill="#8a8a8a"/><text x="291.8" y="646.6" font-size="6.3">From CD8a+CD4-PD-1-TCR Vα7.2+</text><line x1="285.7" y1="648.6" x2="392.2" y2="648.6" stroke="#555" stroke-width="0.6"/><clipPath id="chp1"><rect x="250.7" y="657.5" width="85.80000000000001" height="78.89999999999998"/></clipPath><g clip-path="url(#chp1)"><g filter="url(#rag2)" fill="#7a0a68"><ellipse cx="284.8" cy="710.5" rx="4.6" ry="6.2"/><ellipse cx="284.8" cy="719" rx="2.6" ry="5"/></g><path d="M289.9 721.4h.7M279.9 712.2h.7M285.3 712.9h.7M284.5 711.6h.7M285.8 727.5h.7M289.7 713.3h.7M285.4 718.7h.7M279.9 714.9h.7M285.4 719.1h.7M287.3 704.9h.7M292.8 711.4h.7M288.5 709.4h.7M282.6 720.2h.7M278.9 711.7h.7M285.7 705.6h.7M282.6 702.7h.7M277.2 711.4h.7M283.4 712.1h.7M290.1 711.1h.7M272.6 711.7h.7M286.4 708.4h.7M280.4 708.6h.7M284.9 711.8h.7M286.3 704.7h.7M292.4 716.5h.7M279.6 711.8h.7M278.8 709.8h.7M287.5 712.8h.7M289.3 703.1h.7M283.7 709.6h.7M284.6 707.1h.7M283.6 714h.7M286.1 716.5h.7M282.4 718.6h.7M282.1 714h.7M281.6 711.7h.7M285.3 712.2h.7M288 720.6h.7M286.6 729.4h.7M285.5 721.3h.7M281.9 720.3h.7M292.9 709.3h.7M280.8 726.3h.7M284.5 712.8h.7M282.1 710.3h.7M281.7 716.2h.7M282 713.7h.7M283.1 719.3h.7M285.1 711.3h.7M291.8 711.1h.7M288 709.5h.7M272.3 713.8h.7M286.7 714h.7M284.8 703.2h.7M282.6 716.5h.7M292.9 708.2h.7M285.4 713.1h.7M281.3 719.6h.7M281.8 710h.7M288.7 706.7h.7M283.2 723.3h.7M283.6 709.5h.7M287.5 713.2h.7M286.4 714.6h.7M291.8 720.6h.7M287.4 709.1h.7M289.4 717.6h.7M288 711.4h.7M283.9 714.2h.7M286.5 711.4h.7M289.7 711h.7M284.2 720.1h.7M287.4 714.6h.7M281 704.4h.7M283.2 717.4h.7M287.3 708.6h.7M279.5 707.8h.7M284.5 714.5h.7M289.8 716.2h.7M276.1 712.5h.7M284.9 709.5h.7M286.1 706.9h.7M287.5 709.4h.7M285.4 711.1h.7M288.2 702.9h.7M282.2 713.6h.7M284.5 714.4h.7M279.5 709.5h.7M281.4 715.6h.7M281.8 706.6h.7M283.1 714.8h.7M286.5 706.2h.7M284.5 712.8h.7M281.8 706.4h.7M284.8 719.6h.7M279.9 716.4h.7M283.5 721.3h.7M275.9 711h.7M287.2 708.2h.7M284 703.3h.7M285.9 716.4h.7M284.5 709.9h.7M281.6 718.4h.7M295.9 716.6h.7M283.5 726.3h.7M281 703.5h.7M288.5 710.9h.7M286.4 717h.7M286.5 711.2h.7M287.1 715.7h.7M287.2 712.1h.7M280.5 705.6h.7M283.3 719.9h.7M284.4 721.9h.7M276.2 712.7h.7M281.9 715.6h.7M289.6 719.3h.7M287.7 717.8h.7M280.5 711.9h.7M280.2 714.5h.7M285.8 702.4h.7M282.4 715.1h.7M277.4 704.2h.7M289.1 711.4h.7M283.6 715.7h.7M284.3 712.4h.7M277.6 719.2h.7M290.1 705.5h.7M280.6 704.7h.7M280.4 705.3h.7M288.6 702.9h.7M282.5 716.1h.7M286.9 705.5h.7M277.5 711.3h.7M284 710.9h.7M282.9 705.9h.7M285.2 716.3h.7M291.5 717.6h.7M277.6 711.2h.7M283.8 720.8h.7M288 722.1h.7M286.3 728.5h.7M281.8 708.1h.7M285.1 707.9h.7M289 710.8h.7M281.9 708.9h.7M288.8 719.9h.7M284.9 722.3h.7M287.8 716.1h.7M285 714h.7M284.7 713.7h.7M280.1 722.4h.7M288 715.7h.7M286 716.1h.7M281.9 709.8h.7M276.8 704.1h.7M282.7 717.8h.7M277.5 719.9h.7M285.1 711.4h.7M288.3 714.2h.7M285.9 712.5h.7M284.2 715.2h.7M280 703.8h.7M282.5 708.2h.7M281.2 708.8h.7M283 711.7h.7M287.2 724.7h.7M284.4 729.8h.7M286.2 712.9h.7M276.1 725.7h.7M282.4 713.2h.7M285.2 711h.7M285 709.4h.7M284.1 706.4h.7M283 718.5h.7M282.6 717.2h.7M281.8 706.2h.7M287.8 703.3h.7M286.2 707.3h.7M282.6 711.6h.7M291.9 715.2h.7M283.3 717.8h.7M279.3 711.9h.7M282.8 717.2h.7M275.3 713.8h.7M291.1 706.5h.7M272.8 702.7h.7M290.1 708.7h.7M289.6 711h.7M282.4 704.3h.7M278.7 717.6h.7M281.3 710.6h.7M281 706.1h.7M288 704.5h.7M288.5 712.9h.7M282.6 725.4h.7M287.9 707.7h.7M291.5 708h.7M286.6 722.3h.7M280.2 712.5h.7M283.4 711.1h.7M285.8 717.1h.7M287.1 715.8h.7M289.6 710.5h.7M279.3 710.7h.7M283.2 717.2h.7M273.5 706.5h.7M291.3 711.6h.7M276.4 720.8h.7M292.2 703.2h.7M277.2 714.6h.7M280.7 712.7h.7M281.8 717.3h.7M283.9 724.8h.7M287.7 711.9h.7M282.9 705.5h.7M283.4 704.6h.7M286.3 713.9h.7M287.6 712.8h.7M279 718.2h.7M279.5 709.5h.7M286.4 711.4h.7M283.5 709.1h.7M277.1 713.5h.7M283.7 709.5h.7M283.1 719.4h.7M285.7 709.6h.7M286 719.5h.7M287.9 711.7h.7M281.7 710.7h.7M283.9 712.1h.7M294.3 704.3h.7M277.9 716h.7M283.5 722.1h.7M286.3 719.9h.7M278.8 710.2h.7M283.3 721.8h.7M281.3 717.4h.7M288.1 724.2h.7M288 714.1h.7M282.5 719h.7M286.5 715.9h.7M282.9 704h.7M286.2 720h.7M285.3 712h.7M287.1 714.3h.7M283.6 711.8h.7M284.4 723.1h.7M290.4 716.9h.7M284.3 714.1h.7M276.6 721h.7M283 707.3h.7M288.2 710.1h.7M287.6 704.6h.7M282 703.8h.7M280.4 710.6h.7M283.1 711.3h.7M285.5 718.8h.7M283.8 719.9h.7M287.7 715.8h.7M276.7 708.5h.7M288 713.1h.7M286.5 710.1h.7M280 723.7h.7M281.1 716.7h.7M283.7 721.6h.7M294.8 712.8h.7M280.6 717.7h.7M285.5 703.4h.7M279.7 716.8h.7M290.8 714.4h.7M286.2 714.3h.7M282.9 730.5h.7M284.7 723.8h.7M282.9 715h.7M281 719.8h.7M288.7 714.4h.7M286.3 705.6h.7M283.1 711.7h.7M280.7 712.5h.7M278.6 720.2h.7M287.6 715.4h.7M285.5 704.9h.7M286 718.6h.7M291.7 706.5h.7M285.2 712.9h.7M285.1 702.4h.7M290.8 726.4h.7M279.9 704.1h.7M284.1 712.4h.7M282.8 716h.7M280.1 708h.7M290.7 707.9h.7M281.5 705.4h.7M288.9 718.4h.7M281.5 706.2h.7M294.9 713.2h.7M279.6 716.4h.7M282.3 719.3h.7M282.3 713.9h.7M286.8 723.4h.7M277.1 706.9h.7M284 706.2h.7M282.5 716.3h.7M286.7 715.6h.7M281.8 711h.7M279.8 708.1h.7M283.3 710.2h.7M284.4 705.6h.7M288.1 717.9h.7M281.9 715.6h.7M285.5 722.1h.7M291.2 718.4h.7M282.6 723.5h.7M284.6 707h.7M281.4 722.9h.7M291 719.7h.7M285.8 719.5h.7M277.4 721.8h.7M284.5 712.6h.7M284.8 705.7h.7M283.8 721.2h.7M291.5 709.8h.7M290.9 719.1h.7M283.3 712.6h.7M275.2 708.4h.7M283.9 710.3h.7M291.1 710.8h.7M273.6 713.2h.7M295 712.2h.7M263 718.4h.7M285.6 709.9h.7M296.5 713h.7M274 706.8h.7M289.9 709.4h.7M268.7 719.3h.7M264.6 704.7h.7M251.1 730.7h.7M288.4 721.7h.7M275 721.4h.7M270.5 708.9h.7M269.5 717.5h.7M283.7 720.8h.7M282 717.5h.7M286.8 704.1h.7M268.1 701.8h.7M268.3 710.3h.7M289.6 732.5h.7M276.5 728.2h.7M277.7 724.1h.7M281 710.8h.7M282.5 710.3h.7M279.4 711.8h.7M281.4 712.3h.7M286.1 707.2h.7M283 717.1h.7M278.9 719.9h.7M267.7 734h.7M280.6 713.5h.7M279.2 725.4h.7M293.8 722.4h.7M281.3 721.2h.7M269.3 722.2h.7M276.4 707.1h.7M277.6 714.3h.7M270.1 704.6h.7M277.3 706h.7M295.7 708.9h.7M269.2 713.9h.7M285.6 706.3h.7M274.5 704.2h.7M274 709.6h.7M289 716.8h.7M266.4 718.8h.7M273.2 707.7h.7M269.7 726.4h.7M279.1 706.3h.7M266.1 705.6h.7M283.4 716.2h.7M289 724h.7M282 736.9h.7M280.6 703.4h.7M276.9 723h.7M281.8 711.4h.7M269.8 706.2h.7M274.6 717.8h.7M293.5 714.1h.7M278.4 712h.7M287.1 706.3h.7M273 710.2h.7M287.2 714.6h.7M261.3 713.9h.7M274.9 718.7h.7M274.7 713.7h.7M280.1 714.3h.7M281.5 711.3h.7M278.6 715.5h.7M281.8 721.2h.7M280.1 720.2h.7M270.2 710.6h.7M285.2 714.6h.7M280.6 719.5h.7M289.8 727.5h.7M277.6 722.1h.7M283.9 718.1h.7M295.2 709.2h.7M279.3 723.4h.7M279.4 719.9h.7M288.8 704.6h.7M272.3 720.2h.7M276 711.3h.7M287.8 706.7h.7M279.7 705.3h.7M271.4 720.2h.7M285.2 724.1h.7M285.4 722h.7M290.3 719.9h.7M287.9 729.6h.7M261.6 708.2h.7M278.1 710.9h.7M293.9 712.6h.7M289.9 711.5h.7M295.4 729.1h.7M261.9 698.7h.7M284.1 707.5h.7M299.9 720.6h.7M283.5 716.8h.7M283.6 719h.7M288.6 707.5h.7M262.9 721.5h.7M271.1 713.3h.7M283.7 728.7h.7M283.9 721.3h.7M269 705.4h.7M275.8 709.3h.7M286.5 702.6h.7M275.3 723.4h.7M271.8 722.6h.7M273.3 727.4h.7M264.5 702.4h.7M276.5 715.8h.7M280.6 712.6h.7M272.9 729.7h.7M257.5 715.7h.7M288.6 716.9h.7M271.3 724.3h.7M269 705.5h.7M270.7 720.6h.7M271.7 720h.7M279.7 728.8h.7M275.7 735.3h.7M275.4 735.5h.7M275.4 735.6h.7M255.4 735.5h.7M280.3 735.4h.7M283 735.5h.7M285.9 736.1h.7M260.2 735.5h.7M287.6 736.1h.7M292 735.8h.7M292.1 735.5h.7M277.5 735.4h.7M271.3 735.4h.7M290.7 735h.7M259.4 736.7h.7M268.2 735.2h.7M270.6 735.8h.7M255.5 735.6h.7M270.7 735.8h.7M254.8 736h.7M268.6 736.2h.7M276.8 735.9h.7M284.6 736.4h.7M286.6 734.8h.7M255.5 734.7h.7M273.2 735.9h.7M288.1 735.6h.7M259.1 736.1h.7M285.1 735.7h.7M257.4 735.7h.7M268 735.5h.7M272.4 735h.7M276.1 735.3h.7M272.5 735.2h.7M274.3 735.3h.7M275.2 735.2h.7M276.5 735.2h.7M274.3 735.7h.7M276.6 735.6h.7M283.1 735.1h.7M267.5 735.1h.7M284.1 735.8h.7M268.9 735.4h.7M268.6 736.4h.7M283.9 735.8h.7" stroke="#7a0a68" stroke-width=".7" fill="none"/><path d="M284.8 707h.6M280.2 702.7h.6M286.8 706.1h.6M278.2 715.5h.6M285.4 711.1h.6M288.3 709.6h.6M287.4 712.8h.6M284.8 716.7h.6M284.3 713.3h.6M282.8 708.7h.6M287.3 716h.6M287.5 703.5h.6M290.5 703.5h.6M287.6 713h.6M287 719.3h.6M281.3 717h.6M280.4 711.1h.6M290.8 714.7h.6M282.5 714.5h.6M285.2 704h.6M274.2 710.6h.6M283.9 720.1h.6M289.7 705h.6M280.4 709.4h.6M282 710.2h.6M282.1 716.7h.6M281 707.3h.6M287 719.7h.6M284.3 724.5h.6M285.2 712.1h.6M289.1 717.8h.6M287.3 718.7h.6M283.4 705h.6M288.6 713h.6M291.5 720.8h.6M278.4 704.6h.6M288.6 720.2h.6M282.2 704.7h.6M286 704.5h.6M280.2 717.2h.6M287.8 714h.6M281.6 724.1h.6M284.4 705.3h.6M285.4 710.8h.6M283.1 704.6h.6M286.3 721.4h.6M289.5 717.9h.6M280.6 723.7h.6M285.7 717.5h.6M283 715.8h.6M289.3 705.3h.6M285.2 722.4h.6M287 709.6h.6M286.7 706.8h.6M288.4 705.5h.6M288 718.2h.6M292.1 717.8h.6M285.3 705.8h.6M287.4 714.5h.6M288.7 708.7h.6M284.8 711.1h.6M291.1 720.9h.6M288.9 711.5h.6M284.9 722.7h.6M276.5 723.9h.6M284.4 719.4h.6M285.1 712.2h.6M280.8 707.9h.6M294 703.1h.6M285.8 720.8h.6M282.2 703.1h.6M283.4 716.6h.6M289.1 711.3h.6M288.4 709.6h.6M281.2 723.5h.6M281.9 719h.6M284.6 713.3h.6M283 711.2h.6M282.6 723.1h.6M287.3 718.3h.6M287 710.7h.6M288.5 716.9h.6M286.3 709.8h.6M280.9 724.9h.6M283.6 708.2h.6M283.2 702.6h.6M292 709.3h.6M287.3 706.3h.6M284.5 713.4h.6M283.2 711h.6M286.8 715.6h.6M279.8 717.2h.6M279.7 710.6h.6M281.9 702.3h.6M281.6 712.6h.6M292.4 704h.6M286.1 712.7h.6M288.4 721.3h.6M280 719.3h.6M289.8 709.9h.6M285.6 720.3h.6M281.7 702.6h.6M288 721h.6M286.6 703.5h.6M286.7 711.1h.6M275.5 717h.6M286 705.5h.6M291 722.1h.6M281.1 708.1h.6M284.6 722.8h.6M283.7 712.5h.6M286 708.2h.6M283.7 720.5h.6M289.7 710.7h.6M285.2 703.6h.6M290.5 719.4h.6M274.1 707.3h.6M281.3 709.5h.6M284.4 712h.6M283.1 718.2h.6M278.5 712.5h.6M287.9 712.1h.6M286.9 705.2h.6M286.7 706.3h.6M280.8 706.5h.6M281.1 716.4h.6M278.6 706.6h.6M277.6 712.5h.6M281.6 707.2h.6M291.3 707.6h.6M286.8 703.9h.6M282.2 711h.6M283.3 712.4h.6M281 714.8h.6M274.4 711.3h.6M282.4 703.8h.6M287 708.6h.6M280.5 711.1h.6M287.5 720.2h.6M285.1 720.3h.6M287 707.7h.6M293.4 714.7h.6M278.1 716.6h.6M282.7 709.2h.6M290.3 706.6h.6M282.3 711.4h.6M280 720.3h.6M283.8 706.6h.6M282.6 712.1h.6M277.3 704.2h.6M290.2 710h.6M289.3 718.7h.6M280.4 712.2h.6M286.5 705.4h.6M283.7 706.3h.6M285.8 711.9h.6M276.3 705h.6M284.7 708.3h.6M288.3 719.6h.6M287.7 717.3h.6M285.2 710.4h.6M285.4 712.8h.6M282.4 706.5h.6M293.7 717.6h.6M280.3 706.9h.6M281.9 717.3h.6M279 716.4h.6M290 723.8h.6M286.3 705.3h.6M289.5 714h.6M279.3 718.2h.6M282.7 711.6h.6M288.6 713.4h.6M289.6 720.4h.6M284.7 720.3h.6M282.8 710.5h.6M291.2 711.2h.6M275.8 708.9h.6M286.8 717.2h.6M281.4 719h.6M282.4 707.4h.6M281.3 721.6h.6M290.1 723.6h.6M295.2 719.6h.6M294.5 704.4h.6M287.9 717.9h.6M284.4 705.8h.6M280.7 716.2h.6M285.7 715.2h.6M286.8 709.7h.6M286.4 712.9h.6M287.1 715.2h.6M286 713.2h.6M288.4 723.5h.6M288.3 703.6h.6M277.7 704.5h.6M282.2 704.7h.6M287.8 711.9h.6M285.2 704.3h.6M290.1 704.2h.6M287.3 706.2h.6M284.4 711.4h.6M289.8 705h.6M279.7 708.4h.6M279.6 717h.6M278.9 711.7h.6M287.6 719.9h.6M280.8 709.5h.6M289.5 706.1h.6M286.9 706.7h.6M279.7 719.8h.6M282.5 712.9h.6M287.1 712.5h.6M281.6 709.1h.6M277.7 711.1h.6M285.3 704.6h.6M291.1 710.2h.6M287.5 711h.6M274.3 714h.6M285.4 709.6h.6M278.7 724.9h.6M280.4 709.8h.6M284.2 717.2h.6M289.2 703.1h.6M279.7 718.2h.6M286.3 710.2h.6M277.6 721.2h.6M276.9 718.8h.6M275.6 712.7h.6M284.8 706.1h.6M290.7 711.3h.6M283.9 720.1h.6M286.2 708.1h.6M282.6 713.8h.6M275.8 702.4h.6M287.1 717.4h.6M284.2 716.5h.6M281.5 719.5h.6M282.7 704.4h.6M282.3 703.3h.6M283.5 715h.6M289 716.2h.6M283.3 707.7h.6M287.8 707.5h.6M282.5 720.4h.6M281.4 719.4h.6M283.4 715.1h.6M284 710.3h.6M287.4 715.4h.6M286.8 712.7h.6M282.5 708.3h.6M280.8 711.5h.6M286.5 703.2h.6M287.5 707.2h.6M279.2 710.5h.6M289.3 706.5h.6M281.9 711.8h.6M281.5 710.6h.6M280.3 713.1h.6M281.5 705.3h.6M283.5 702.3h.6M283.5 708.6h.6M286.7 708.9h.6M288.9 722.7h.6M288.7 717.9h.6M286.3 703.6h.6M289.8 707.5h.6M288 707.2h.6M275.9 719.1h.6M289 714.4h.6M285.8 712h.6M280.6 711.7h.6M289.7 706.9h.6M284.9 720.3h.6M281.2 724.3h.6M291.7 711.7h.6M282 715.8h.6M282.7 703.2h.6M287.4 720.2h.6M293.4 713.9h.6M287.6 721.2h.6M290.6 710.2h.6M279.7 713.4h.6M279.2 709.8h.6M286.9 717.1h.6M286.9 713.9h.6M285.6 706.9h.6M288.7 712.8h.6M289 707.8h.6M289.7 706.7h.6M287.1 711h.6M277.8 717.1h.6M282.5 702.5h.6M284.6 723.3h.6M280.4 717.4h.6M287.6 711.3h.6M283.2 716.9h.6M291.1 711.1h.6M279.8 714.4h.6M281.2 715.9h.6M283 714.9h.6M285.6 703.1h.6M286.5 715.9h.6M282.2 712.7h.6M287 723h.6M276.8 717.7h.6M282.4 714.7h.6M284.9 709.8h.6M282.2 704.1h.6M287.3 714.2h.6M279.5 721.7h.6M281.5 718.6h.6M285.7 719h.6M279.7 707.1h.6M291.9 716.4h.6M290.2 709.5h.6M282.4 708.4h.6M291.1 721.8h.6M289 719.7h.6M286.6 715h.6M278.8 713h.6M276.3 711.8h.6M281.6 714.5h.6M288.2 718.1h.6M286.3 723.8h.6M286.1 710.4h.6M270.9 718.5h.6M283.5 724h.6M267.8 728.2h.6M297.5 721.7h.6M281.8 718.6h.6M289.8 716.8h.6M257 731.2h.6M287.9 708.3h.6M288.2 708.5h.6M277.4 718.7h.6M276.4 731.7h.6M282.5 702.6h.6M298.9 715.8h.6M267.4 710h.6M267.9 701h.6M279.8 713.3h.6M283.8 732.7h.6M275.1 723.8h.6M282.7 714.8h.6M277.2 737.6h.6M276.9 711.6h.6M279.1 717.7h.6M279 720.2h.6M278.9 706.4h.6M271.3 732.8h.6M271.5 717h.6M273.5 727.7h.6M268.2 707h.6M285.4 713h.6M275.6 711.6h.6M301.2 721.8h.6M278.5 707.7h.6M281.8 713.7h.6M294.8 714.9h.6M290.3 716.4h.6M270.9 714.5h.6M281.4 719.4h.6M288.2 710.1h.6M283.7 714.5h.6M288.7 711.2h.6M287.9 718.2h.6M269 709.6h.6M274.5 703.3h.6M262.8 717.1h.6M264.5 707.7h.6M275 725.4h.6M284.6 709.9h.6M291.9 707.7h.6M267.6 718.9h.6M294.5 714.8h.6M287.7 714.8h.6M283.7 709.5h.6M292.5 713.1h.6M291.4 710.9h.6M277.8 708.6h.6M271.8 710.1h.6M269.6 712.3h.6M286.2 734.1h.6M274.9 709.1h.6M295.2 736.2h.6M275.8 723.9h.6M271.7 722.3h.6M274.5 725.2h.6M272.6 711.8h.6M288.5 719.4h.6M286.6 713.5h.6M288.2 720.5h.6M301.6 702.3h.6M293 719.5h.6M290.7 714.6h.6M285.7 714.3h.6M273 711.9h.6M284.6 709.7h.6M275 722h.6M269.8 702.3h.6M282.9 711.7h.6M281.1 716.2h.6M271.3 708.8h.6M279.4 709.5h.6M280.9 721.3h.6M279.5 716.3h.6M273.7 722h.6M266.1 702.1h.6M280.1 730.9h.6M294 721.1h.6M297.8 704.1h.6M271.5 716.3h.6M284.2 714.5h.6M289.3 703.8h.6M276.1 710.5h.6M280.7 726.9h.6M276 722.9h.6M294.6 705.3h.6M283.8 724.3h.6M282.6 721.9h.6M275.4 706.9h.6M286.5 715.5h.6M281.2 720.6h.6M272.6 718.9h.6M279.2 713h.6M266.7 727.9h.6M275.5 724h.6M288.8 707.6h.6M270.6 709h.6M276.3 715.4h.6M283.6 718.6h.6M287.6 716.6h.6M282.1 711.2h.6M273.1 723.8h.6M281.2 713.8h.6M282.4 714.7h.6M281.8 716.5h.6M251.7 701.5h.6M270.3 709.4h.6M291.7 719.1h.6M282.9 721.3h.6M279.4 721.7h.6M276 726.3h.6M285.2 711.2h.6M268.7 709.3h.6M275.8 721.5h.6M262.8 706.5h.6M280.2 728.6h.6M289.9 716.6h.6M284.5 734.8h.6M275 735.6h.6M276.4 735.4h.6M270.5 734.9h.6M256.9 735.3h.6M270.7 735.8h.6M291.3 735.5h.6M262.6 735.6h.6M273.3 735.8h.6M263.7 735.6h.6M289.1 735.8h.6M270.1 736.1h.6M277.5 735.5h.6M264.5 735.2h.6M258.1 735.6h.6M277.6 735.1h.6M286.1 735.2h.6M268.6 735.4h.6M286.8 736h.6M271 736.6h.6M260.2 735.2h.6M275.2 736.2h.6M262.4 736h.6M257.4 735.9h.6M271.6 735.8h.6M270.1 736h.6M259.2 735.1h.6M262.2 735.5h.6M287.7 736h.6M259.4 735.7h.6M254 735.9h.6M265.3 735.8h.6M260.2 736.2h.6M274.5 735.7h.6M290.6 736.3h.6M265.9 735.1h.6M268.8 735.7h.6M261.3 735.9h.6M288.8 736.3h.6M266.9 736.4h.6M269.4 735.3h.6M262.2 735.3h.6M260.3 735h.6M277.1 735h.6M256 735.4h.6" stroke="#a030a0" stroke-width=".6" fill="none"/><path d="M281.3 698.7h.7M280.4 701.5h.7M288.1 694.2h.7M287.3 698.2h.7M289.5 699h.7M269.8 700.9h.7M281.7 702.4h.7M286.9 696.7h.7M278.5 697.5h.7M282.5 690.7h.7M287.3 701.7h.7M283.9 699.6h.7M283.9 700h.7M283.1 700.2h.7M287.8 699.5h.7M277 700.4h.7M286.9 701.4h.7M286.9 700.5h.7M290.3 701.9h.7M285.3 691.2h.7M287.7 697.3h.7M283.4 700h.7M286.5 700.8h.7M281.6 698.9h.7M286.7 697.3h.7M282.6 692.2h.7M281.1 701.8h.7M284.2 702.1h.7M283.1 702h.7M281.5 701.1h.7M275.7 699.8h.7M282.1 702.2h.7M285.8 700.6h.7M268.8 699.4h.7M283.4 695.3h.7M282 701.1h.7M287.8 699.3h.7M279.3 702.5h.7M289.1 698.2h.7M286.2 702h.7M285.5 702.4h.7M279.6 699.8h.7M280.1 697.7h.7M287.5 693.8h.7M283.9 702.2h.7M288.2 694.6h.7M289.5 694h.7M277.5 700h.7M279.6 695.3h.7M283.7 701.2h.7M286.6 695.2h.7M283.5 695.9h.7M292.2 696.9h.7M291.6 702.3h.7M285.5 699.9h.7M284.8 699.9h.7M289.9 701.2h.7M284.8 700.7h.7M271 698.5h.7M286.8 697.4h.7M283.1 700.7h.7M282.6 695.2h.7M282 695.8h.7M283 697.6h.7M281.2 697.3h.7M285.6 694.4h.7M285.2 700.8h.7M279 694.1h.7M286.1 701h.7M291.2 693.9h.7" stroke="#3a3af2" stroke-width=".7" fill="none"/></g><rect x="250.7" y="657.5" width="85.8" height="78.9" fill="none" stroke="#888" stroke-width="0.6"/><path d="M250.7 657.5V736.4H336.5" fill="none" stroke="#333" stroke-width=".7"/><rect x="271.3" y="663.1" width="36.8" height="39.4" fill="none" stroke="#333" stroke-width="0.7"/><text x="294.1" y="656.2" font-size="3.6" text-anchor="middle" fill="#222">Control</text><text x="289.2" y="685.4" font-size="3.4" text-anchor="middle" fill="#333">P5</text><text x="317.6" y="684.8" font-size="3.4" text-anchor="middle" fill="#333">8.9%</text><path d="M253.7 736.4v1.5M255.7 736.4v1.5M257.4 736.4v1.5M258.9 736.4v1.5M260.1 736.4v1.5M261.2 736.4v1.5M262.2 736.4v2.8M268.7 736.4v1.5M272.4 736.4v1.5M275.1 736.4v1.5M277.2 736.4v1.5M278.9 736.4v1.5M280.3 736.4v1.5M281.6 736.4v1.5M282.7 736.4v1.5M283.6 736.4v2.8M290.1 736.4v1.5M293.9 736.4v1.5M296.6 736.4v1.5M298.6 736.4v1.5M300.3 736.4v1.5M301.8 736.4v1.5M303 736.4v1.5M304.1 736.4v1.5M305.1 736.4v2.8M311.6 736.4v1.5M315.3 736.4v1.5M318 736.4v1.5M320.1 736.4v1.5M321.8 736.4v1.5M323.2 736.4v1.5M324.5 736.4v1.5M325.6 736.4v1.5M326.6 736.4v2.8M333 736.4v1.5" stroke="#222" stroke-width=".55" fill="none"/><path d="M250.7 733.6h-1.5M250.7 731.7h-1.5M250.7 730.2h-1.5M250.7 728.9h-1.5M250.7 727.7h-1.5M250.7 726.7h-1.5M250.7 725.8h-2.8M250.7 719.9h-1.5M250.7 716.4h-1.5M250.7 713.9h-1.5M250.7 712h-1.5M250.7 710.5h-1.5M250.7 709.1h-1.5M250.7 708h-1.5M250.7 707h-1.5M250.7 706.1h-2.8M250.7 700.1h-1.5M250.7 696.7h-1.5M250.7 694.2h-1.5M250.7 692.3h-1.5M250.7 690.7h-1.5M250.7 689.4h-1.5M250.7 688.3h-1.5M250.7 687.3h-1.5M250.7 686.4h-2.8M250.7 680.4h-1.5M250.7 676.9h-1.5M250.7 674.5h-1.5M250.7 672.6h-1.5M250.7 671h-1.5M250.7 669.7h-1.5M250.7 668.5h-1.5M250.7 667.5h-1.5M250.7 666.6h-2.8M250.7 660.7h-1.5" stroke="#222" stroke-width=".55" fill="none"/><text x="261.7" y="745" font-size="3.6" text-anchor="middle" fill="#333">10<tspan dy="-1.4" font-size="2.88">2</tspan></text><text x="283.2" y="745" font-size="3.6" text-anchor="middle" fill="#333">10<tspan dy="-1.4" font-size="2.88">3</tspan></text><text x="304.7" y="745" font-size="3.6" text-anchor="middle" fill="#333">10<tspan dy="-1.4" font-size="2.88">4</tspan></text><text x="326.2" y="745" font-size="3.6" text-anchor="middle" fill="#333">10<tspan dy="-1.4" font-size="2.88">5</tspan></text><text x="246.7" y="667.9" font-size="3.6" text-anchor="end" fill="#333">10<tspan dy="-1.4" font-size="2.88">5</tspan></text><text x="246.7" y="687.6" font-size="3.6" text-anchor="end" fill="#333">10<tspan dy="-1.4" font-size="2.88">4</tspan></text><text x="246.7" y="707.3" font-size="3.6" text-anchor="end" fill="#333">10<tspan dy="-1.4" font-size="2.88">3</tspan></text><text x="246.7" y="727" font-size="3.6" text-anchor="end" fill="#333">10<tspan dy="-1.4" font-size="2.88">2</tspan></text><clipPath id="chp2"><rect x="342.6" y="658" width="86.39999999999998" height="78.89999999999998"/></clipPath><g clip-path="url(#chp2)"><g filter="url(#rag2)" fill="#7a0a68"><ellipse cx="379.9" cy="710.5" rx="4.6" ry="6.2"/><ellipse cx="379.9" cy="719" rx="2.6" ry="5"/></g><path d="M389.4 707.7h.7M383.1 702.9h.7M375.1 706.5h.7M375.8 714.7h.7M376.5 713.7h.7M376 713.2h.7M374.3 710.7h.7M378.5 715.1h.7M378.4 708.3h.7M372.4 726.5h.7M374.6 713.9h.7M371.6 711.9h.7M383.3 707.7h.7M378.8 704.6h.7M378.8 708.3h.7M382.6 709h.7M374.5 711.8h.7M378.5 716.1h.7M378.4 710.2h.7M379.5 709.7h.7M380.8 725.1h.7M381.5 708.1h.7M373.7 716.8h.7M382.5 720.6h.7M386.3 713.7h.7M380.5 708.5h.7M378.6 713.3h.7M383.3 713.3h.7M382.5 715.8h.7M385.3 705.7h.7M376.6 712.8h.7M383.2 716.2h.7M376 708.7h.7M382.7 710.7h.7M384.9 712.9h.7M382 712.8h.7M367.6 711h.7M380.1 719h.7M374.2 703.8h.7M375 715.7h.7M377.9 713.7h.7M381.7 714.4h.7M374.9 711.1h.7M381.7 725.8h.7M375 715.1h.7M375.1 715.9h.7M380.9 706.1h.7M376.9 708.6h.7M385.9 713.2h.7M383 703.8h.7M375.5 716h.7M382.6 714.4h.7M385.8 717h.7M375.9 716.6h.7M381.1 714.3h.7M379.2 710.6h.7M376.7 717.6h.7M374.9 710.8h.7M386.8 706.9h.7M376.3 712.4h.7M384.4 707.8h.7M370.5 729.8h.7M381.2 713.1h.7M378.7 716.5h.7M374.8 715h.7M386.3 708.6h.7M378.9 707.1h.7M378.3 705.7h.7M377.5 710.4h.7M372.4 704.4h.7M375.3 712.7h.7M383.2 710.6h.7M374.5 717.5h.7M384.3 712.5h.7M378.8 703.2h.7M385.8 719.1h.7M379.4 703.4h.7M383.3 718.8h.7M375.3 709.1h.7M379.9 712.2h.7M375.7 702.9h.7M377.9 716.4h.7M385.7 717.2h.7M380.5 705.5h.7M381.7 717.4h.7M384.9 712.5h.7M375.6 710.5h.7M377.4 720.8h.7M381 710.7h.7M377.2 706.7h.7M376.8 707.2h.7M381.3 703.3h.7M376.6 713.2h.7M385.5 719.8h.7M378.9 714.4h.7M376.3 713.9h.7M374 715.3h.7M382.1 714.8h.7M376.8 716.3h.7M381.7 703.4h.7M374.9 723.2h.7M378.1 720.8h.7M377.5 714.5h.7M370.8 714h.7M380.3 713.1h.7M387.1 705.3h.7M376.6 710.7h.7M378.3 721h.7M381.3 710.7h.7M379.5 718.8h.7M379.6 716.8h.7M374.6 720h.7M382.2 706.4h.7M371.5 710.2h.7M376.3 707.8h.7M373.8 713.5h.7M375 707h.7M387.6 711.1h.7M378.3 711.7h.7M386.4 723h.7M379.7 711.2h.7M380.7 715.2h.7M385.6 710.3h.7M379.8 719.4h.7M378.1 712h.7M381.8 704.9h.7M381 714.4h.7M382.3 713.5h.7M378.6 704.4h.7M385.7 719.4h.7M377 715.8h.7M373.6 718.9h.7M376.2 712.9h.7M377.6 703h.7M380.4 716.1h.7M374.7 704.4h.7M386.5 715.3h.7M380.2 714.9h.7M383.7 727h.7M376.2 713.2h.7M378.5 707h.7M375.9 715.5h.7M378.4 709.2h.7M382 709.6h.7M375.6 717h.7M380.6 705.1h.7M376.4 712.8h.7M381.3 718.8h.7M382.3 719.8h.7M375 705.7h.7M378.6 716.1h.7M388 713h.7M378.2 716.5h.7M375.5 714.5h.7M377.6 710.3h.7M378.5 713.7h.7M376.6 706h.7M388.9 708.7h.7M383.5 705.8h.7M379.9 716.5h.7M383.4 718.9h.7M383.7 710.8h.7M380.2 716.5h.7M388.1 720.4h.7M378.4 705.7h.7M374.5 711.5h.7M379.7 713.4h.7M381.9 716.5h.7M383.9 717h.7M377.4 713.4h.7M369.6 714.6h.7M384.6 707.9h.7M372.9 723.9h.7M383.6 707.3h.7M375.3 722.5h.7M386.2 711.9h.7M374 709.8h.7M380.2 708.3h.7M387.3 709.5h.7M380.6 710.9h.7M382.9 707.9h.7M378.3 710.6h.7M383.9 712.3h.7M378.8 710.3h.7M371.9 720.2h.7M375.6 713.6h.7M375.1 711.3h.7M381.4 703.1h.7M382.3 716.3h.7M385.5 710.7h.7M375.2 714.6h.7M380.9 722.6h.7M378.9 710.9h.7M384.8 710.6h.7M379.7 722.3h.7M373.6 714.3h.7M369.5 715.9h.7M370.6 711.5h.7M374.8 706.7h.7M383.7 710.7h.7M378.3 706.2h.7M383.3 719.7h.7M367.1 712.1h.7M384.2 707.5h.7M376.6 703.5h.7M377.6 712.9h.7M374.2 705.5h.7M378.8 714.4h.7M383.6 708.6h.7M384.4 713.4h.7M377.3 718.5h.7M376.9 709.9h.7M377 723.6h.7M376.3 713.1h.7M380 724.5h.7M380 723.9h.7M376.9 709.5h.7M377.1 711.7h.7M377.9 715.1h.7M386.8 706.3h.7M381.5 715.3h.7M385.9 717.7h.7M373.2 719.6h.7M377.7 720h.7M382.1 711h.7M381.8 713.4h.7M381.4 704.6h.7M388.3 714.3h.7M383.5 718.1h.7M383.3 713.4h.7M380.4 720.9h.7M384.9 724.2h.7M385.3 718.8h.7M389.8 709.5h.7M386.2 709.2h.7M380.4 712.2h.7M384.1 703.7h.7M385.8 710.8h.7M385 715.5h.7M374.7 722.1h.7M371.7 706.6h.7M384.5 708.4h.7M378.6 714.4h.7M374.4 717h.7M385 707.7h.7M385.5 709.4h.7M376.4 716.7h.7M379 720h.7M383 703h.7M374.8 704.9h.7M376.5 711.9h.7M382 714.9h.7M373.2 707.8h.7M378 716h.7M386.8 706.9h.7M382.4 715.3h.7M373.9 716.7h.7M387.1 712.1h.7M381.4 716.2h.7M380.1 719.8h.7M375.4 715.7h.7M380.8 706.9h.7M376.3 709.4h.7M387.4 706h.7M382.2 705.5h.7M381.2 715.8h.7M388.2 709.6h.7M380.4 714.1h.7M372.7 711h.7M379.9 710.1h.7M376.2 710.4h.7M384.6 708.6h.7M379.5 717.2h.7M376.5 707.5h.7M380.1 707.8h.7M385.4 709.5h.7M383.4 713.8h.7M383.1 713.7h.7M374.9 718.6h.7M377.8 721.1h.7M372.6 718h.7M383.5 712.8h.7M379.8 704.6h.7M375.3 706.4h.7M381.4 722h.7M380.4 710.9h.7M385.1 713h.7M384.4 717.9h.7M377 714.5h.7M382.9 713.1h.7M380.9 721.4h.7M379.7 711.9h.7M377.5 707.8h.7M380.3 707.2h.7M380.7 716.2h.7M381.9 704.4h.7M380.8 712h.7M373.5 713.5h.7M385.3 709.9h.7M378.4 709.7h.7M380.2 721h.7M375.8 707.4h.7M375.3 718.7h.7M377.7 716.8h.7M375.9 713h.7M381.6 712.9h.7M386.1 707.7h.7M381.6 712.6h.7M374.7 706.9h.7M379.5 708h.7M380.4 709.6h.7M376.3 710.8h.7M379.4 709.2h.7M381.5 712.1h.7M372.7 705.6h.7M378.8 714.2h.7M380.9 715.7h.7M378.7 721h.7M377 709.6h.7M373.5 712.8h.7M375.3 713.7h.7M385.4 715.3h.7M382.1 715.6h.7M385.3 703.7h.7M384.3 704h.7M367.2 720.1h.7M380.3 716.2h.7M378.9 723.6h.7M364.2 718.6h.7M374.4 714.8h.7M376.8 724.1h.7M395.9 708.4h.7M361.7 711.7h.7M382.7 719.8h.7M380.3 725.1h.7M378.7 718.1h.7M365.1 706.1h.7M386.5 712.2h.7M374.6 726h.7M390 719.5h.7M375.7 717h.7M363.5 705.4h.7M369.7 724h.7M377.6 706.4h.7M374.2 714.7h.7M360.7 702.1h.7M381.2 712.2h.7M370.7 709h.7M381.2 708.8h.7M384.9 722.7h.7M377.6 707.8h.7M375.6 707h.7M364.8 708h.7M351.7 731.7h.7M362.5 723.5h.7M366.1 719.1h.7M388.8 705.7h.7M362.1 711.4h.7M375.1 712.9h.7M390.8 716.7h.7M376.2 705.1h.7M377.1 707.4h.7M372.9 732h.7M380.9 728.4h.7M373 713h.7M380.3 719.3h.7M387.7 711h.7M383.5 718.2h.7M378.3 705.7h.7M376.1 732.8h.7M383.3 713.1h.7M372.7 720h.7M378.4 715.2h.7M365.6 727.6h.7M377.9 712.7h.7M366.7 726.9h.7M371.3 723.8h.7M375.8 705.9h.7M383.8 715.7h.7M383.4 705.7h.7M379.4 719.4h.7M373.6 711.9h.7M366.3 709.2h.7M370.1 725.4h.7M385.6 715h.7M375 715.3h.7M364.9 721.4h.7M365.2 704h.7M375.2 712.3h.7M380.1 726.2h.7M377.2 715.4h.7M372.6 708.3h.7M370.3 709.4h.7M364.9 724.8h.7M370 719.7h.7M363.3 713.7h.7M366.9 711.7h.7M375 723.2h.7M374.3 714.7h.7M397.3 714h.7M378.6 717.1h.7M372.5 712.6h.7M363.1 724h.7M361 717h.7M361.2 724.6h.7M362.1 705.7h.7M376.8 704.8h.7M379.7 710.5h.7M366.6 718.4h.7M363.5 724.8h.7M383.8 726.4h.7M379.3 718h.7M381 715.6h.7M375.2 702.9h.7M373.1 707.5h.7M375.4 727.7h.7M363 721.9h.7M377.4 708h.7M362 705.6h.7M367.2 707h.7M387.2 711h.7M358.9 716.1h.7M367.2 716.5h.7M389.7 705.9h.7M390.9 716.4h.7M389.6 718.6h.7M366.7 723.9h.7M379.1 719.5h.7M348.9 703.3h.7M373.3 719.2h.7M383.6 719.4h.7M383.5 706.1h.7M375.4 708.3h.7M392.4 723.8h.7M375.5 717.4h.7M364.8 725.6h.7M367.3 709.8h.7M374.5 721.1h.7M366.7 718.6h.7M358.2 712.5h.7M374.3 724.5h.7M388.7 720.7h.7M363.4 696.2h.7M357.1 711.5h.7M375.4 715h.7M379.9 736.1h.7M377.6 735.1h.7M377.8 735.7h.7M351.6 736.8h.7M383 736h.7M347.4 735.9h.7M369.2 735.6h.7M375.5 736.4h.7M359.9 736.6h.7M371 736.2h.7M364.4 736.3h.7M359.4 735.8h.7M378.9 735.8h.7M369 736.5h.7M366.6 737.5h.7M357.4 736.3h.7M358.1 735.6h.7M371.3 736h.7M350.4 735.7h.7M382.6 735.8h.7M367.9 736.7h.7M370.7 735.6h.7M377 735.4h.7M353.8 736.2h.7M364.9 735.9h.7M367.6 736.1h.7M353.6 736.8h.7M371.2 736.4h.7M387.2 736.9h.7M382.5 736h.7M361.7 735.7h.7M368.8 736.2h.7M347.2 736.2h.7M374.5 736.7h.7M377.6 735.5h.7M372.5 735.6h.7M379.1 736.3h.7M347.9 735.7h.7M363.4 735.8h.7M363.8 736.6h.7M377.8 735.9h.7M371.1 736.2h.7M360 735.4h.7M345.7 735.8h.7M384.3 735.8h.7" stroke="#7a0a68" stroke-width=".7" fill="none"/><path d="M381.3 713h.6M377.9 707.1h.6M377.5 710.1h.6M384.6 709.5h.6M380.6 712.3h.6M373.2 721.4h.6M379.7 713.4h.6M364.4 710.5h.6M385.5 704.8h.6M382 711.1h.6M370.1 712.9h.6M374.3 722.7h.6M371 706h.6M380.3 717.7h.6M382.4 709.2h.6M386 709.3h.6M376.4 705h.6M369.9 710.9h.6M381.9 709.7h.6M377.7 707.7h.6M383.6 716.9h.6M381.8 725h.6M383.5 713.2h.6M388.7 720h.6M382.8 712.7h.6M382.2 721.1h.6M382 711.8h.6M374.4 704.9h.6M384.1 713.4h.6M383.9 704.3h.6M377.7 707.2h.6M381.2 709.6h.6M377.3 711.7h.6M376.2 707.8h.6M380.5 713.7h.6M384.5 717.2h.6M392 703.6h.6M379.6 720.7h.6M378.8 707.2h.6M380.8 712.1h.6M379.1 707.2h.6M380 716.5h.6M377.4 720.7h.6M386.2 709.6h.6M378.4 711h.6M380.4 714.6h.6M370.2 710.2h.6M383.7 711.4h.6M382.5 715.3h.6M384.2 712.7h.6M381.1 720.4h.6M372.8 722.9h.6M381.6 719.9h.6M379.7 705.5h.6M386.8 718.1h.6M378.8 704.5h.6M380.6 707.1h.6M386.9 708.7h.6M378.7 716.5h.6M373.9 716.3h.6M380.4 709.3h.6M382.3 717.4h.6M378.3 709.3h.6M376.6 703.4h.6M383.6 717.3h.6M383.8 716.5h.6M383.3 707.6h.6M387 711.7h.6M378.7 712.6h.6M381.7 719h.6M378.3 704.9h.6M380.5 720.9h.6M385.5 710.7h.6M389.6 713.7h.6M386.9 704.4h.6M379.9 707.7h.6M382.4 723h.6M376.7 714h.6M382.7 728.3h.6M371.7 713.1h.6M373.4 712.9h.6M378.6 712h.6M382.9 721.6h.6M381.1 709.4h.6M376.2 713.2h.6M383.6 710.7h.6M371.7 716.6h.6M374.4 712.8h.6M381.2 707.1h.6M380.6 709.6h.6M371.6 709.6h.6M378.5 716.4h.6M377.8 728.1h.6M376.7 716.3h.6M377.2 713h.6M387.1 703h.6M383 709.5h.6M382 721.1h.6M380.5 707.5h.6M373.3 719.1h.6M384.1 708.6h.6M377.7 706.5h.6M383.4 710.4h.6M383.8 727.2h.6M377.3 716.9h.6M380 705.1h.6M381.7 706.4h.6M381.8 716.6h.6M381.4 715.4h.6M379.6 718h.6M376.7 708.2h.6M381.8 713.4h.6M380 708.6h.6M375.9 721.5h.6M383.8 711.9h.6M376.4 723.3h.6M367.8 707.5h.6M375.5 713.9h.6M390.3 725.4h.6M382.8 714.6h.6M382.7 715.7h.6M378.7 709.5h.6M388.2 716.3h.6M377.5 710.7h.6M382.6 725.8h.6M382.7 717.8h.6M381.9 714.8h.6M375.4 718.2h.6M381.8 710.1h.6M377.6 708.8h.6M375.6 714.9h.6M381.7 704.3h.6M380.5 722h.6M384.8 713.6h.6M374.3 707.5h.6M378.2 704.9h.6M378.7 711h.6M376.2 705.9h.6M388.5 710.1h.6M381.6 723.7h.6M384.1 707.1h.6M378.8 705h.6M378.6 707h.6M377 719h.6M382.1 710h.6M375.9 713.7h.6M381.4 718.9h.6M376.4 709.5h.6M381.5 708.5h.6M384.4 705.5h.6M381.5 707.3h.6M380.8 717.3h.6M379 706.1h.6M380 710.9h.6M383 719.2h.6M371.7 704.4h.6M381.7 716.5h.6M381.5 721.7h.6M378.1 704.4h.6M385.4 715.6h.6M376.1 716.4h.6M375.6 713h.6M372 709.6h.6M379 710.1h.6M377.7 711.7h.6M380.7 703.6h.6M377.4 712.5h.6M374 709.9h.6M385 717h.6M377.3 720.9h.6M377.3 716.7h.6M385.4 719.1h.6M374.6 703.1h.6M380.6 711.7h.6M385.9 712.5h.6M380.7 710h.6M375.6 714.7h.6M385 714.4h.6M378 707.2h.6M379.8 723.4h.6M381.3 710.3h.6M379.9 716.2h.6M376.2 712h.6M374.5 711.1h.6M382.7 716.9h.6M385 710.6h.6M370.1 718.1h.6M382.6 719.4h.6M386.1 713.5h.6M376.7 709.9h.6M376.7 714.4h.6M387.1 708.5h.6M377 723.8h.6M373.8 707.8h.6M374.2 721.4h.6M374.7 709.2h.6M379.8 705.2h.6M381.7 711.2h.6M369.3 716.7h.6M374.3 704.6h.6M380.8 706.3h.6M377.1 706.6h.6M381.2 705.8h.6M374.6 717.3h.6M378.6 713.1h.6M383.4 709.8h.6M383.1 723.1h.6M376.2 708.1h.6M380.3 712.7h.6M379.3 709.9h.6M383.9 705.4h.6M377.7 709.5h.6M373.5 707.7h.6M374.1 711.8h.6M382.3 711.5h.6M379.1 707.4h.6M383.3 705.4h.6M375.7 716.1h.6M381.7 721.6h.6M374.1 704.4h.6M379.6 711.7h.6M380.5 715.9h.6M388.2 712.9h.6M377.5 712.6h.6M369.4 716.7h.6M378 712.3h.6M380.7 706.9h.6M380.8 718.5h.6M376.9 713h.6M380.1 708.3h.6M374.6 703.2h.6M381.7 712.6h.6M370.2 711.6h.6M376.7 708h.6M381.4 719.8h.6M375.3 704.1h.6M384.1 720.1h.6M376.1 712.7h.6M381.6 711.2h.6M381.6 716.6h.6M377.9 711.4h.6M380.2 707.4h.6M381.4 718.4h.6M381.5 706.9h.6M378.1 715.4h.6M385.8 714.6h.6M379.9 707.4h.6M381.1 710.4h.6M382.4 720.6h.6M376.1 710.7h.6M375.5 713.8h.6M377.3 717.4h.6M379.3 720.3h.6M386.4 724.7h.6M380.8 715.3h.6M379.2 712.4h.6M381 708.4h.6M377 715.9h.6M379.3 717h.6M381 706.8h.6M382.2 711.6h.6M375.1 708.3h.6M380.1 712.4h.6M377.9 712.7h.6M373.7 713.7h.6M384.1 711.3h.6M370.8 711.3h.6M380.5 708.7h.6M378.4 707.9h.6M371.3 706.7h.6M386.4 711.8h.6M381.9 705.1h.6M379.6 713.5h.6M380.8 710.9h.6M378.1 716.8h.6M377 712.8h.6M384.1 710.9h.6M377 714.3h.6M383.9 719.5h.6M383 722.2h.6M385.1 710.3h.6M385.7 710.6h.6M388.1 706.8h.6M380 712.5h.6M383.8 702.9h.6M382.8 712.9h.6M387.8 706h.6M376.7 703.6h.6M378.5 704h.6M379.8 716.8h.6M378.5 708.3h.6M385 709.6h.6M380.2 715.3h.6M383.5 716.7h.6M379.3 714.7h.6M377.6 707.6h.6M379 714.6h.6M376.6 708.2h.6M384 711.9h.6M373.7 709.9h.6M382.8 717.3h.6M381.2 715.4h.6M377.1 713.8h.6M383.3 718.6h.6M388.9 712.1h.6M377.6 723h.6M381.8 724h.6M383.8 717.4h.6M386.3 708.5h.6M387.6 704.2h.6M378.5 704.3h.6M380.1 706.5h.6M379.2 710.5h.6M373.7 713.9h.6M387.2 709.7h.6M382.3 708.7h.6M372.5 717.9h.6M382.5 707.5h.6M382.4 706.5h.6M376.4 722.8h.6M381.2 705.8h.6M375.4 710.9h.6M386.6 711.1h.6M382.9 720.6h.6M378.5 721.9h.6M383.1 723.7h.6M374.2 729.3h.6M372.4 717.1h.6M377.1 710.6h.6M376.4 720.8h.6M364.3 712.4h.6M383.6 716.2h.6M358.3 710.8h.6M377.3 709.2h.6M381.5 722.9h.6M366.7 727.6h.6M368.3 707.5h.6M372.3 711.6h.6M388.1 710.2h.6M377.5 725.8h.6M376.1 703.7h.6M366.9 708.8h.6M374.8 721h.6M359.2 717.4h.6M366.7 719.2h.6M371.7 728.9h.6M379.9 714.6h.6M378.4 712.7h.6M381.8 710.1h.6M368.1 734.3h.6M363.3 714.7h.6M364.7 709.6h.6M366.5 717.7h.6M370.4 713.4h.6M373.1 710.6h.6M378.6 708.1h.6M385.1 715.3h.6M379.2 710.1h.6M378.1 707.9h.6M387.6 711.6h.6M374.8 727.3h.6M369.6 719h.6M376.5 714.1h.6M360.9 707.5h.6M382 719.6h.6M370.7 739.5h.6M366.5 718.4h.6M381.5 722.7h.6M382.8 709.2h.6M367.4 714h.6M374 720.8h.6M385.8 707.8h.6M384 735.7h.6M375.6 719.9h.6M363.6 713.9h.6M378.6 708.8h.6M362 715.6h.6M383.9 710.4h.6M369 712.9h.6M367.3 713.1h.6M366 703.4h.6M370.1 704h.6M359 709.8h.6M375.7 725.8h.6M356.4 715.7h.6M366.8 711.3h.6M369.3 724.6h.6M365.9 708.9h.6M375.9 708.7h.6M366.7 716.3h.6M374.2 718h.6M367.7 720.4h.6M382.1 722.8h.6M377.5 727.5h.6M381 727.7h.6M375.7 712.2h.6M375.3 730.9h.6M370.1 716h.6M362 714h.6M363.2 734.1h.6M361.2 711.4h.6M365.9 719.7h.6M374.5 710.2h.6M389.2 711.9h.6M365.4 706.1h.6M372.1 704.4h.6M369.6 713.1h.6M375.3 716.7h.6M376.9 709h.6M383.8 715.4h.6M373.1 718.7h.6M373.3 709.7h.6M388.7 717.8h.6M373.3 716.2h.6M349.1 705.9h.6M364.3 718.2h.6M372.3 713.7h.6M368.5 722.3h.6M381.1 720h.6M375.3 730h.6M369.5 712.9h.6M370.7 722.8h.6M369 709h.6M373.4 717.1h.6M370.6 716.1h.6M380.1 733.5h.6M367.1 724.8h.6M377 716.3h.6M393.1 714.8h.6M382.8 715.6h.6M369.4 715.4h.6M375 707.3h.6M384.1 710.9h.6M368.1 732h.6M363.3 713h.6M369.6 713.5h.6M369.6 712.5h.6M373.6 712.3h.6M377.9 710.7h.6M355.8 726.3h.6M372.1 720.9h.6M369 714.8h.6M368 711.5h.6M374.5 711.7h.6M364.4 736h.6M368.5 736h.6M376.9 735.8h.6M378.4 735.9h.6M367.8 736.3h.6M365.8 736.1h.6M355.9 735.4h.6M367.4 735.8h.6M382 735.8h.6M356 736.5h.6M366.9 735.5h.6M374.6 735.2h.6M364 736.1h.6M359 736.4h.6M358.2 735.9h.6M375.4 735.7h.6M352.5 736.4h.6M362.5 736h.6M387.4 735.9h.6M368.1 735.6h.6M356.7 736.9h.6M382.9 735.4h.6M376 735.4h.6M386.5 735.9h.6M364.6 735.5h.6M386.1 736.1h.6M373.1 736.1h.6M383.6 735.2h.6M375.9 736.3h.6M351.7 735.9h.6M381.9 736.7h.6M372 736.3h.6M376.7 736.1h.6M359.3 735.5h.6M382.6 736.1h.6M354.7 736.1h.6M366.3 735.4h.6M353.5 736.4h.6M378.7 736.4h.6M356.8 736.3h.6M373 736h.6M364.4 735.9h.6M374.1 736.2h.6M368.4 735.8h.6M376.2 736.5h.6" stroke="#a030a0" stroke-width=".6" fill="none"/><path d="M381.7 696.8h.7M383.9 697.4h.7M385.7 698h.7M383.5 701.9h.7M382.3 698.7h.7M385.5 692.8h.7M379 696.7h.7M384 698.8h.7M371.8 702.6h.7M377.8 696.6h.7M386.9 696.1h.7M377.8 689.9h.7M384.5 697.5h.7M382.9 701h.7M369.5 701.4h.7M377.2 699.4h.7M379.9 698.8h.7M382.9 702.8h.7M375.9 692.1h.7M388.4 699.3h.7M371.5 703h.7M385.7 702.9h.7M372.4 700h.7M378.9 701.6h.7M383.8 700.8h.7M387 690.5h.7M377.7 693.8h.7M372.4 698.3h.7M376.7 701.1h.7M369.3 693.1h.7M384.2 700.4h.7M386.8 696.5h.7M380.2 700.4h.7M384.7 698h.7M379.2 702h.7M375.8 701.5h.7M381.1 696.3h.7M373.5 699.8h.7M380.1 702.2h.7M373.7 702.1h.7M380 696.7h.7M382.4 698.2h.7M376.1 702.2h.7M384 696.5h.7M386.4 702h.7M382.2 695.8h.7M384.9 702.6h.7M379.2 694.4h.7M387.8 699.5h.7M383.1 698.4h.7M382.6 702.5h.7M379.1 698.2h.7M388.2 700.7h.7M382.7 699h.7M380.4 702.1h.7M379 697.3h.7M377.2 701.5h.7M380.9 701.9h.7M379 702.8h.7M374.8 691.2h.7M383.5 701.8h.7M380.6 702.6h.7M380.5 697.1h.7M375.7 698.8h.7M384.3 700.7h.7M380.7 702.4h.7M385.7 695.9h.7M386.2 691.3h.7M366.1 694.4h.7M377.1 699.6h.7M376.7 702.7h.7M378.2 693.7h.7M377.6 694.8h.7M388.5 698.8h.7M383.2 700.5h.7M373.4 693.8h.7M382.3 700.1h.7M375.8 702.6h.7M381.5 700.6h.7M379 694.3h.7M390.6 691.4h.7M376.7 699.8h.7M383.2 696h.7M376.6 700.5h.7M379.8 699h.7M376.4 696.2h.7M372.8 699.3h.7M389.8 701.8h.7M381.5 691.8h.7M374.7 697.3h.7M369.4 693.3h.7M367.8 700.4h.7M381.8 699.4h.7M384.3 702.8h.7M376.8 699.6h.7M381.7 703h.7M368.1 700.9h.7M380.9 700.5h.7M369.9 702.3h.7M382.7 698.4h.7M384 698.8h.7M369.9 697h.7M390.7 696.7h.7M375.9 698.9h.7M376.5 701.1h.7M376.3 692.6h.7M371 698.1h.7M378.2 696h.7M375.9 702.4h.7M377.6 694.3h.7M380.1 696.4h.7M379.3 702.3h.7M389.7 701.6h.7M381.8 695.7h.7M383.1 702h.7M380.8 699.2h.7M385 698.2h.7M373.3 700.5h.7M384.6 699.6h.7M377.9 699.8h.7M376.2 702h.7M385.5 701.1h.7M374.2 700h.7M385.7 700.8h.7M382.2 695.4h.7M377.9 698.9h.7M376.2 699.8h.7M379.9 696.5h.7M376.4 702.1h.7M377.4 693.6h.7M389.7 699h.7M389.2 702h.7M389.2 700.8h.7M374.7 698.9h.7M372 699.5h.7M376.1 700.1h.7M368.8 701.7h.7M377.3 693.4h.7M383.7 699.6h.7M375.6 701.2h.7M370.9 700.9h.7M384.4 701.7h.7M375.5 698.7h.7M381.6 694.2h.7M384.7 700.8h.7M374.7 696.1h.7M378.6 703.1h.7M382 703.1h.7M379.1 699.7h.7M386.2 698.9h.7" stroke="#3a3af2" stroke-width=".7" fill="none"/></g><rect x="342.6" y="658" width="86.4" height="78.9" fill="none" stroke="#888" stroke-width="0.6"/><path d="M342.6 658V736.9H429" fill="none" stroke="#333" stroke-width=".7"/><rect x="363.8" y="663.7" width="36.8" height="39.4" fill="none" stroke="#333" stroke-width="0.7"/><text x="386.6" y="656.2" font-size="3.6" text-anchor="middle" fill="#222">KN026</text><text x="381.7" y="685.4" font-size="3.4" text-anchor="middle" fill="#333">P5</text><text x="410.2" y="684.8" font-size="3.4" text-anchor="middle" fill="#333">11.4%</text><path d="M345.5 736.9v1.5M347.6 736.9v1.5M349.3 736.9v1.5M350.8 736.9v1.5M352 736.9v1.5M353.1 736.9v1.5M354.1 736.9v2.8M360.6 736.9v1.5M364.4 736.9v1.5M367.1 736.9v1.5M369.2 736.9v1.5M370.9 736.9v1.5M372.4 736.9v1.5M373.6 736.9v1.5M374.7 736.9v1.5M375.7 736.9v2.8M382.2 736.9v1.5M386 736.9v1.5M388.7 736.9v1.5M390.8 736.9v1.5M392.5 736.9v1.5M394 736.9v1.5M395.2 736.9v1.5M396.3 736.9v1.5M397.3 736.9v2.8M403.8 736.9v1.5M407.6 736.9v1.5M410.3 736.9v1.5M412.4 736.9v1.5M414.1 736.9v1.5M415.6 736.9v1.5M416.8 736.9v1.5M417.9 736.9v1.5M418.9 736.9v2.8M425.4 736.9v1.5" stroke="#222" stroke-width=".55" fill="none"/><path d="M342.6 734.1h-1.5M342.6 732.2h-1.5M342.6 730.7h-1.5M342.6 729.4h-1.5M342.6 728.2h-1.5M342.6 727.2h-1.5M342.6 726.3h-2.8M342.6 720.4h-1.5M342.6 716.9h-1.5M342.6 714.4h-1.5M342.6 712.5h-1.5M342.6 711h-1.5M342.6 709.6h-1.5M342.6 708.5h-1.5M342.6 707.5h-1.5M342.6 706.6h-2.8M342.6 700.6h-1.5M342.6 697.2h-1.5M342.6 694.7h-1.5M342.6 692.8h-1.5M342.6 691.2h-1.5M342.6 689.9h-1.5M342.6 688.8h-1.5M342.6 687.8h-1.5M342.6 686.9h-2.8M342.6 680.9h-1.5M342.6 677.4h-1.5M342.6 675h-1.5M342.6 673.1h-1.5M342.6 671.5h-1.5M342.6 670.2h-1.5M342.6 669h-1.5M342.6 668h-1.5M342.6 667.1h-2.8M342.6 661.2h-1.5" stroke="#222" stroke-width=".55" fill="none"/><text x="353.6" y="745" font-size="3.6" text-anchor="middle" fill="#333">10<tspan dy="-1.4" font-size="2.88">2</tspan></text><text x="375.1" y="745" font-size="3.6" text-anchor="middle" fill="#333">10<tspan dy="-1.4" font-size="2.88">3</tspan></text><text x="396.6" y="745" font-size="3.6" text-anchor="middle" fill="#333">10<tspan dy="-1.4" font-size="2.88">4</tspan></text><text x="418.1" y="745" font-size="3.6" text-anchor="middle" fill="#333">10<tspan dy="-1.4" font-size="2.88">5</tspan></text><text transform="translate(231.6 701) rotate(-90)" font-size="3.5" text-anchor="middle" fill="#333">Granzyme B PE/Cyanine7-A</text><path d="M235.8 658.5V749.7H433" fill="none" stroke="#111" stroke-width=".7"/><path d="M235.8 656.4l-1.6 3.6h3.2zM435.4 749.7l-3.6 -1.6v3.2z" fill="#111"/><text x="335.7" y="755.6" font-size="6" text-anchor="middle">Perorin PE-A</text><path d="M461.3 665.4V736.4H508.6" fill="none" stroke="#222" stroke-width=".6"/><line x1="459.8" y1="665.4" x2="461.3" y2="665.4" stroke="#222" stroke-width="0.5"/><text x="458.8" y="666.7" font-size="3.6" text-anchor="end">15</text><line x1="459.8" y1="689.4" x2="461.3" y2="689.4" stroke="#222" stroke-width="0.5"/><text x="458.8" y="690.7" font-size="3.6" text-anchor="end">10</text><line x1="459.8" y1="712.7" x2="461.3" y2="712.7" stroke="#222" stroke-width="0.5"/><text x="458.8" y="714" font-size="3.6" text-anchor="end">5</text><line x1="459.8" y1="736.4" x2="461.3" y2="736.4" stroke="#222" stroke-width="0.5"/><text x="458.8" y="737.7" font-size="3.6" text-anchor="end">0</text><line x1="475.3" y1="736.4" x2="475.3" y2="738" stroke="#222" stroke-width="0.5"/><text x="475" y="744" font-size="3.7" text-anchor="middle">Control</text><line x1="495.4" y1="736.4" x2="495.4" y2="738" stroke="#222" stroke-width="0.5"/><text x="495.1" y="744" font-size="3.7" text-anchor="middle">KN026</text><text transform="translate(451.6 701.3) rotate(-90)" font-size="3.6" text-anchor="middle">% Cytotoxic CD8+ T cells</text><path d="M468.64 708.33H481.95M475.29 705.17V711.48M472.67 705.17H477.92M472.67 711.48H477.92" stroke="#111" stroke-width=".7" fill="none"/><circle cx="475.29" cy="703.95" r="1.35" fill="#111"/><circle cx="470.91" cy="707.97" r="1.35" fill="#111"/><circle cx="479.67" cy="708.33" r="1.35" fill="#111"/><circle cx="475.29" cy="711.48" r="1.35" fill="#111"/><path d="M488.78 683.27H502.1M495.44 676.79V690.46M492.46 676.79H498.42M492.46 690.46H498.42" stroke="#f58a1f" stroke-width=".7" fill="none"/><path d="M493.69 674.76l1.5 2.5h-3z" fill="#f58a1f"/><path d="M497.72 675.82l1.5 2.5h-3z" fill="#f58a1f"/><path d="M495.44 684.93l1.5 2.5h-3z" fill="#f58a1f"/><path d="M495.44 693.16l1.5 2.5h-3z" fill="#f58a1f"/><line x1="473.9" y1="669.8" x2="495.8" y2="669.8" stroke="#888" stroke-width="1.1"/><text x="484.9" y="668.3" font-size="4.6" text-anchor="middle" font-weight="bold">**</text>
<text x="531.2" y="653" font-size="16" font-weight="bold">i</text><path d="M553.7 657.7V736.4H671.7" fill="none" stroke="#6e6e6e" stroke-width="1.2"/><line x1="551.3" y1="736.4" x2="553.7" y2="736.4" stroke="#6e6e6e" stroke-width="0.8"/><text x="550.1" y="738.3" font-size="5.4" text-anchor="end">0.0</text><line x1="551.3" y1="720.65" x2="553.7" y2="720.65" stroke="#6e6e6e" stroke-width="0.8"/><text x="550.1" y="722.55" font-size="5.4" text-anchor="end">0.5</text><line x1="551.3" y1="704.9" x2="553.7" y2="704.9" stroke="#6e6e6e" stroke-width="0.8"/><text x="550.1" y="706.8" font-size="5.4" text-anchor="end">1.0</text><line x1="551.3" y1="689.15" x2="553.7" y2="689.15" stroke="#6e6e6e" stroke-width="0.8"/><text x="550.1" y="691.05" font-size="5.4" text-anchor="end">1.5</text><line x1="551.3" y1="673.4" x2="553.7" y2="673.4" stroke="#6e6e6e" stroke-width="0.8"/><text x="550.1" y="675.3" font-size="5.4" text-anchor="end">2.0</text><line x1="551.3" y1="657.65" x2="553.7" y2="657.65" stroke="#6e6e6e" stroke-width="0.8"/><text x="550.1" y="659.55" font-size="5.4" text-anchor="end">2.5</text><line x1="566.3" y1="736.4" x2="566.3" y2="738.6" stroke="#6e6e6e" stroke-width="0.8"/><text x="566.3" y="746.4" font-size="5.4" text-anchor="middle">0</text><line x1="584.85" y1="736.4" x2="584.85" y2="738.6" stroke="#6e6e6e" stroke-width="0.8"/><text x="584.85" y="746.4" font-size="5.4" text-anchor="middle">1</text><line x1="603.4" y1="736.4" x2="603.4" y2="738.6" stroke="#6e6e6e" stroke-width="0.8"/><text x="603.4" y="746.4" font-size="5.4" text-anchor="middle">2</text><line x1="621.95" y1="736.4" x2="621.95" y2="738.6" stroke="#6e6e6e" stroke-width="0.8"/><text x="621.95" y="746.4" font-size="5.4" text-anchor="middle">3</text><line x1="640.5" y1="736.4" x2="640.5" y2="738.6" stroke="#6e6e6e" stroke-width="0.8"/><text x="640.5" y="746.4" font-size="5.4" text-anchor="middle">4</text><line x1="659.05" y1="736.4" x2="659.05" y2="738.6" stroke="#6e6e6e" stroke-width="0.8"/><text x="659.05" y="746.4" font-size="5.4" text-anchor="middle">5</text><text x="612.6" y="754" font-size="5.2" text-anchor="middle">Days</text><text transform="translate(536.2 696.7) rotate(-90)" font-size="5.4" text-anchor="middle">OD value (450nm)</text><text x="612.6" y="654.8" font-size="5.3" text-anchor="middle">BT474 co-cultured with T cells</text><polyline points="566.3,720.65 584.85,712.46 603.4,699.86 621.95,686.31 640.5,676.55 659.05,669.62" fill="none" stroke="#111" stroke-width=".8"/><path d="M584.85 709.94V714.98M583.35 709.94h3M583.35 714.98h3M603.4 692.62V707.11M601.9 692.62h3M601.9 707.11h3M621.95 683.48V689.15M620.45 683.48h3M620.45 689.15h3M659.05 664.26V674.98M657.55 664.26h3M657.55 674.98h3" fill="none" stroke="#111" stroke-width=".7"/><circle cx="566.3" cy="720.65" r="1.7" fill="#111"/><circle cx="584.85" cy="712.46" r="1.7" fill="#111"/><circle cx="603.4" cy="699.86" r="1.7" fill="#111"/><circle cx="621.95" cy="686.31" r="1.7" fill="#111"/><circle cx="640.5" cy="676.55" r="1.7" fill="#111"/><circle cx="659.05" cy="669.62" r="1.7" fill="#111"/><polyline points="566.3,720.02 584.85,717.5 603.4,710.88 621.95,706.16 640.5,703.01 659.05,702.69" fill="none" stroke="#f58a1f" stroke-width=".8"/><path d="M566.3 718.76V721.28M564.8 718.76h3M564.8 721.28h3M584.85 715.92V719.08M583.35 715.92h3M583.35 719.08h3M603.4 707.74V714.03M601.9 707.74h3M601.9 714.03h3M621.95 702.06V710.25M620.45 702.06h3M620.45 710.25h3M640.5 695.45V710.57M639 695.45h3M639 710.57h3M659.05 695.45V709.94M657.55 695.45h3M657.55 709.94h3" fill="none" stroke="#f58a1f" stroke-width=".7"/><rect x="564.8" y="718.52" width="3" height="3" fill="#f58a1f"/><rect x="583.35" y="716" width="3" height="3" fill="#f58a1f"/><rect x="601.9" y="709.38" width="3" height="3" fill="#f58a1f"/><rect x="620.45" y="704.66" width="3" height="3" fill="#f58a1f"/><rect x="639" y="701.51" width="3" height="3" fill="#f58a1f"/><rect x="657.55" y="701.19" width="3" height="3" fill="#f58a1f"/><line x1="562.4" y1="664.7" x2="570.5" y2="664.7" stroke="#111" stroke-width="0.8"/><circle cx="566.4" cy="664.7" r="1.6" fill="#111"/><text x="574" y="666.6" font-size="5.3">Control</text><line x1="562.4" y1="675" x2="570.5" y2="675" stroke="#f58a1f" stroke-width="0.8"/><rect x="565" y="673.6" width="2.8" height="2.8" fill="#f58a1f"/><text x="574" y="676.9" font-size="5.3">KN026</text><line x1="667" y1="665.9" x2="667" y2="703.7" stroke="#555" stroke-width="0.7"/><text x="673.3" y="688" font-size="5" text-anchor="middle" font-weight="bold">**</text></svg></body></html>
